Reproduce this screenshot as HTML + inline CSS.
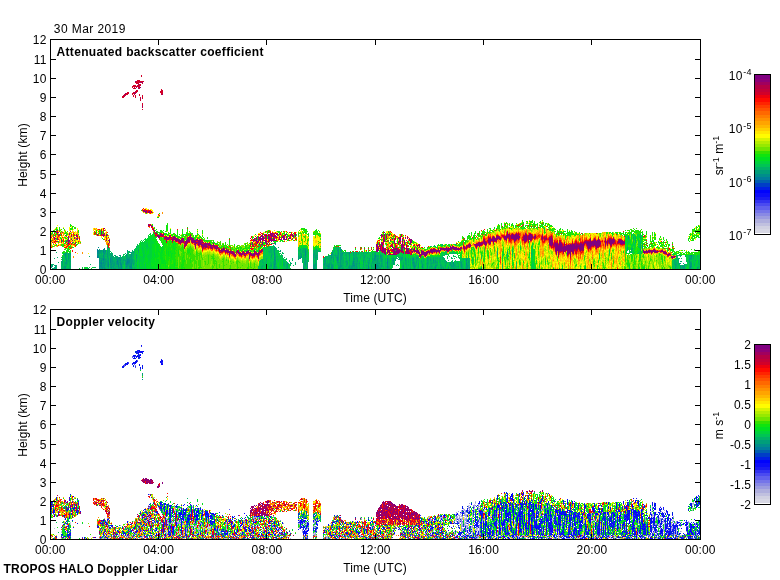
<!DOCTYPE html><html><head><meta charset="utf-8"><style>html,body{margin:0;padding:0;background:#fff;width:780px;height:580px;overflow:hidden}svg{position:absolute;left:0;top:0;display:block}#t{will-change:transform}text{font-family:"Liberation Sans",sans-serif;font-size:12px;fill:#000;letter-spacing:0.15px}text.b{font-weight:bold;letter-spacing:0.33px}</style></head><body><svg width="780" height="580" viewBox="0 0 780 580" shape-rendering="crispEdges"><g fill="none" stroke-width="1"><path stroke="#007c9c" d="M97.5 249v3m0 4v2m4 5v1m2-13v1m0 7v1m14 1v1m10-1v2m260-1v1m110-10v1"/>
<path stroke="#008d8b" d="M55.5 265v4m10-15v2m1 4v1m31-9v2m0 1v1m1-9v1m0 2v4m0 1v3m1 2v4m0 1v4m1-7v2m0 1v2m1-7v3m0 1v4m1-1v2m1-20v2m0 1v1m0 2v2m0 1v1m0 1v1m0 1v2m1-15v1m0 3v1m0 11v1m0 1v2m1-19v2m3 10v5m2-9v5m1 1v1m0 2v1m6-9v2m0 1v2m1-1v4m1-12v1m0 1v2m1 0v2m0 1v3m1-1v5m5-7v3m0 1v1m1-8v2m0 2v2m1-6v5m1-4v3m0 3v1m1-1v2m1-13v1m0 7v6m143-20v2m0 1v4m0 1v1m0 1v1m0 4v1m0 1v1m1-24v2m0 15v1m25-4v2m1-3v1m2 11v1m2-19v6m0 8v1m2 1v2m7 0v1m5-18v1m5 12v1m4 1v1m3-14v3m0 1v1m0 9v1m1-17v2m5 4v4m1-8v1m1 14v1m1-19v1m2 2v1m7-1v1m4 7v3m0 1v1m1-1v1m14 0v3m6-11v2m1-5v3m1 7v4m1-4v1m3-10v1m7 1v4m0 1v5m6-8v1m20-3v2m0 2v1m1 3v2m8-2v2m11-8v1m2 6v2m15-7v1m3-1v3m13-6v2m0 2v2m15 3v1m26-17v1m121-17v2m12 11v1m2-4v1m0 1v1m38 17v1m10-1v2m1-13v2"/>
<path stroke="#009e7a" d="M51.5 266v2m1-4v3m0 1v1m10-11v7m2 1v3m1-16v1m0 2v2m0 4v2m0 2v3m1-17v2m0 4v2m0 1v3m2-11v7m2-7v2m0 6v1m0 4v1m27-13v1m1-1v1m1-6v5m0 3v3m0 4v1m1-15v3m0 5v1m0 1v2m0 2v1m0 2v2m1-19v2m0 1v1m0 4v2m0 8v1m1-11v3m0 1v5m1-14v2m0 2v1m0 3v1m0 2v4m1-20v1m0 1v3m0 1v1m0 2v8m0 1v1m1-15v1m0 6v6m0 3v1m1-8v1m1-15v1m0 2v8m0 2v7m1-9v4m0 5v2m2-16v1m0 3v1m0 5v5m1-14v10m0 1v2m0 1v1m1-14v1m0 1v7m0 2v1m1-6v1m0 1v6m1-14v1m0 1v1m0 4v4m0 2v1m1-1v1m1-13v4m0 1v4m0 1v1m1-9v1m0 5v1m1-8v6m0 4v2m1-10v2m0 1v1m0 4v2m1-14v1m0 2v1m0 2v1m0 3v4m1-12v2m0 4v1m1-2v1m1-4v2m2-1v2m0 1v2m0 3v1m1-15v8m0 3v1m0 1v1m1-18v4m0 1v1m0 1v2m0 6v2m0 1v1m1-11v1m0 5v2m1-15v1m0 5v3m0 3v3m0 1v2m1-17v1m0 3v2m0 1v7m0 2v1m1-17v3m0 1v7m1-4v4m1-11v1m0 10v2m3-10v1m0 1v1m2-8v1m133 4v2m0 8v1m2 2v1m1-26v1m0 2v3m0 2v1m0 4v1m0 1v1m0 1v4m0 1v1m0 1v2m1-22v1m0 8v4m0 1v4m5-15v2m3 12v1m4-3v4m0 1v1m4-5v1m7-8v4m2-11v1m0 3v1m0 2v1m1-3v2m0 1v1m1 3v1m1 4v2m1-6v3m1-16v1m0 6v2m0 1v5m0 1v1m2-16v1m0 12v3m0 2v1m6-15v6m0 5v4m1-17v3m0 9v4m1-13v7m0 1v3m1-16v1m0 4v1m0 1v1m1-3v1m0 1v1m7-1v1m0 1v3m0 1v1m0 1v1m0 1v2m1-12v7m1 1v1m1-1v2m0 1v1m1-14v1m0 8v2m0 1v2m1-6v5m2-12v1m0 1v1m0 5v3m0 1v1m1-16v2m0 10v4m1-12v3m0 1v1m2-7v1m1 1v1m1-8v1m0 4v2m0 4v2m1-14v4m0 1v7m0 1v1m0 2v1m0 1v2m1-3v2m1-21v3m0 1v1m0 1v15m1-19v3m0 1v7m0 5v2m1-15v1m0 1v2m0 12v1m4-8v1m0 2v1m1-3v2m1 3v1m1-16v1m0 1v7m0 4v4m1-1v1m1-3v3m1-6v6m1-17v4m0 1v4m0 3v1m0 1v1m1-9v2m0 1v1m0 1v2m0 1v3m2-17v3m0 2v1m0 5v6m1-11v4m1-10v2m1 9v1m4-11v1m0 6v3m0 1v1m1-8v1m4 4v4m1-8v1m0 1v1m2 4v4m1-15v1m0 3v2m0 1v2m1-3v1m1-7v4m0 2v1m1-9v3m0 3v3m0 6v1m1-12v1m0 6v2m1-10v1m0 2v7m0 1v3m1-13v1m0 6v1m0 1v3m1-5v1m0 3v1m1-14v2m0 1v2m0 9v1m1-14v7m0 1v1m0 1v2m1-8v1m5 8v1m1-3v2m4-8v1m1-3v2m0 1v4m2-5v1m3-4v1m1 1v1m2-3v3m1-3v2m1 6v4m2-11v3m5 7v1m2-11v3m0 1v2m1-4v2m0 1v4m1-5v4m0 2v1m1-4v2m1-10v2m0 2v2m1-6v2m1 4v5m3-7v1m1 2v2m5-9v4m0 1v2m0 1v3m3-9v2m1 2v1m0 2v1m2-9v2m0 1v2m1 4v1m1-8v3m0 2v2m1-2v1m1-4v1m3 2v1m1 1v2m1-12v1m1 10v1m2-4v1m1-5v2m2 4v2m2-6v2m1 0v2m1-1v1m1-2v2m1-2v1m0 2v1m4-3v1m2-5v1m1-1v6m5-7v2m0 2v4m1-11v1m0 6v4m1-8v2m0 2v1m1 1v2m28-18v1m0 2v1m5 10v1m5-13v2m0 2v1m37-29v1m83 17v2m1-11v1m3 10v1m0 1v2m2-12v1m2-2v1m5-4v1m0 9v1m2-3v1m0 1v1m33 16v2m0 1v2m1-13v1m2 1v2m1 3v1m1-1v1m0 1v1m0 1v2m2-4v3m1-2v3m1-5v5m1-13v1m4 1v5m0 4v1m1-13v1m0 2v1m0 3v4m0 2v1m1-12v2m0 4v4m6 0v2"/>
<path stroke="#00b167" d="M51.5 264v2m2 2v1m1-11v1m0 6v1m0 1v2m2-17v1m0 12v4m1-12v1m1 4v1m3-2v2m0 2v2m0 1v1m1-13v2m0 7v4m1-3v3m1-16v3m0 5v5m1-8v2m0 4v2m1-12v4m0 6v3m0 1v1m1-9v5m0 3v1m1-9v2m0 6v1m1-16v6m0 1v9m1-14v2m0 1v3m0 1v4m0 1v2m19-13v1m1 7v1m4 2v1m5-14v3m1-4v1m0 1v3m0 1v1m1-8v1m0 1v4m1-8v3m0 2v3m0 3v1m1 6v1m1-14v2m1-4v4m0 1v1m0 6v3m1-15v2m0 1v1m0 1v3m0 1v7m1-21v2m0 8v2m0 7v2m1-21v1m0 1v8m1-10v1m0 1v6m0 8v1m1-14v1m0 2v3m0 11v1m1-16v1m1-1v2m0 1v1m0 7v2m0 1v2m1-13v5m0 1v1m1-5v4m0 4v2m1-13v13m1-8v1m0 4v1m0 1v2m1-13v2m0 7v4m2-8v1m0 1v4m1-11v2m1 1v4m1-6v1m0 1v3m0 1v2m0 1v3m1-12v2m0 2v4m1-7v3m1-8v1m0 1v2m0 2v1m0 2v1m0 2v3m1 0v1m1-15v1m0 1v1m0 10v1m1-12v2m0 8v3m1-17v1m0 1v3m1-3v2m0 2v1m2-9v9m0 4v1m0 3v2m1-18v1m0 1v5m0 1v4m0 2v1m1-16v3m0 7v4m0 3v2m2-23v2m0 6v1m0 1v1m0 1v4m0 3v1m2-17v1m0 1v2m122 8v1m1-17v1m0 20v3m1-10v4m0 2v4m1-14v1m0 3v1m0 2v2m0 1v1m3-8v8m0 1v2m2-18v1m1-5v1m0 3v2m0 13v3m1-23v7m0 4v1m0 1v1m0 2v1m0 1v3m0 1v1m1-21v7m0 2v2m0 4v2m0 1v2m1-14v1m1-7v5m0 8v7m2-20v2m0 3v3m0 9v4m1-3v3m1-19v1m0 5v1m0 2v1m1-13v1m3 8v1m1-5v1m0 2v1m1-3v1m0 4v1m0 1v4m0 1v1m1-4v5m2-5v1m0 1v5m1-3v1m0 1v1m1-6v1m2-2v2m0 1v1m2-8v3m3 1v3m3-15v1m0 2v3m1-7v3m0 3v4m1-9v3m0 1v2m1-3v1m1-4v3m0 7v1m0 1v1m1-15v5m0 1v6m0 5v1m1-18v5m0 1v2m0 1v5m0 3v4m1-21v1m0 9v1m0 7v3m1-21v2m0 1v4m0 1v1m0 3v4m1-13v1m0 6v1m0 1v3m6-13v2m0 1v1m0 6v5m1-15v2m0 3v3m1-9v6m0 7v1m0 3v3m1-21v2m0 1v4m0 1v1m0 1v2m0 2v6m1-18v5m0 1v1m0 1v2m1-10v2m5 12v1m1-7v1m0 3v1m0 3v1m1-3v5m1-13v3m0 4v2m0 1v1m1-11v1m0 1v7m0 2v1m1-12v4m0 3v1m1-8v7m0 5v1m1-14v1m0 1v8m0 3v1m1-10v2m0 1v2m1-9v3m0 6v1m1-16v2m0 3v3m0 3v1m0 3v5m1-22v5m0 3v1m1-3v2m0 1v2m0 7v1m0 2v1m1-21v1m0 6v2m0 1v3m1-14v3m0 1v4m0 8v2m1-18v2m0 12v1m0 1v2m0 1v1m1-5v4m1-14v1m0 15v1m1-17v1m0 7v5m0 2v2m1-13v12m1-16v2m0 3v7m0 1v1m0 1v2m1-17v1m1-1v4m0 2v1m0 2v2m0 3v1m1-15v9m0 1v2m0 1v2m0 1v1m1-17v2m0 6v2m0 2v2m0 2v1m1-17v3m0 11v1m0 1v1m1-8v4m1 0v3m1-16v2m0 11v1m1-5v2m1-7v1m0 10v2m1-17v1m0 1v4m0 2v1m0 1v1m1-11v17m1-14v2m0 1v5m1-6v1m0 4v3m0 1v3m1-15v1m0 8v1m0 1v1m1-5v2m0 1v5m1-13v3m0 9v1m1-17v3m1 0v1m0 12v1m1-17v1m0 1v6m0 3v1m0 1v3m1-16v1m0 2v2m0 1v3m0 6v1m1-16v2m0 1v2m0 3v3m0 2v1m1-14v2m0 10v5m1-17v2m0 3v2m0 1v3m0 2v1m0 2v1m1-17v1m0 7v2m1-3v1m0 1v3m0 3v2m1-14v2m1 6v2m1-13v2m0 1v3m0 2v1m0 2v1m0 2v2m1-10v2m0 1v5m0 1v2m1-17v2m0 7v8m1-8v6m0 1v1m1-14v1m0 1v6m1-7v2m1-3v1m0 1v6m0 1v1m0 3v1m1-11v1m0 2v2m0 1v3m0 1v1m1-10v3m0 2v4m1-6v1m0 1v1m0 2v1m1-13v4m0 1v7m1-1v3m2-11v11m1-7v2m0 2v2m1-13v3m1 0v8m0 2v1m1-10v10m2-11v1m0 4v1m1-6v2m0 1v3m1-7v1m1 0v2m0 2v2m1-6v2m1-4v3m0 6v1m1-8v1m1 0v1m1-3v2m1-3v5m1-1v1m1-7v3m0 2v1m0 5v4m1-7v3m2-8v1m0 3v4m1-6v10m1-1v1m1-11v5m0 1v2m1 2v1m1-11v10m2-11v1m0 3v1m0 2v2m1-9v1m0 9v2m1-10v1m0 1v1m1 1v2m0 2v2m1-10v2m0 2v3m1-10v1m0 2v2m0 6v2m1-12v6m0 5v1m3-10v2m0 1v2m0 2v1m1-5v2m0 4v1m1-11v4m0 2v2m0 1v1m3-5v2m0 3v1m1-8v1m0 2v1m0 3v1m1-12v8m1 1v3m1-12v2m0 2v8m1-10v4m0 1v2m0 1v2m1-7v2m0 1v4m1-12v1m0 5v2m0 3v1m1-9v4m0 2v1m0 1v1m1-12v3m0 3v2m1-7v1m0 2v4m0 1v2m1-11v5m0 1v3m1 1v2m1-11v5m1-6v8m0 1v3m1-5v3m1-23v2m0 9v1m0 2v2m0 1v1m0 4v2m1-11v3m0 7v1m1-10v5m1-11v1m0 1v1m0 5v5m0 1v3m1-16v2m0 8v1m1 4v1m1-3v1m1-5v4m1-13v1m0 11v1m0 1v1m1-11v1m0 5v2m0 2v2m1-16v1m0 4v1m0 1v6m0 1v2m1-17v2m0 13v2m1-5v1m0 1v2m1-15v1m0 2v1m0 5v6m1-2v3m1-8v3m0 2v1m1-4v3m0 1v2m2-9v2m0 1v4m1-6v1m0 6v1m1-8v1m0 2v5m1-10v1m0 8v1m2-2v2m1-11v1m1 0v2m0 1v3m1-7v3m0 2v2m0 1v2m1-10v1m0 1v7m12-10v1m16-6v1m0 2v1m10-5v1m0 4v1m5-7v2m0 1v1m4 9v1m4-17v1m11 5v2m78-3v1m16-18v2m2 12v1m2 0v2m2-18v2m0 12v1m0 1v1m1-3v2m1-13v3m2-4v4m0 1v2m3 10v1m1-7v1m1-14v2m0 2v1m0 3v1m0 1v3m0 1v1m0 1v2m1-16v1m0 16v1m1-10v1m30 21v1m2-8v6m1-5v4m0 2v1m1-12v1m0 1v3m0 2v5m1 1v1m1-14v1m0 4v5m1-10v1m0 2v1m1-4v2m0 4v1m1-1v1m0 5v2m1-1v1m1-6v1m0 1v1m2-11v1m1 9v1m3-11v3m0 5v4m0 1v1m1-13v2m0 1v1m0 1v1m1-3v1m0 1v2m0 4v2m1-14v1m1-1v4m1 5v2m1-6v1m2-6v2m1 3v4m0 2v3m1-5v1"/>
<path stroke="#00c454" d="M53.5 264v1m8-2v2m0 2v1m2-15v3m0 3v1m0 1v5m1-10v5m1-1v2m1 5v1m1-15v3m0 1v3m0 5v3m1-6v6m1-9v1m1-3v1m18 10v1m7-2v1m5-14v1m2-2v2m3 2v1m1-7v2m0 2v1m0 1v1m2-9v1m1-1v1m0 6v8m0 1v4m2-17v1m11 3v1m0 1v1m0 6v1m1-12v3m0 8v2m0 1v1m1-15v1m0 1v2m0 3v3m0 2v1m0 1v1m1-12v2m3-8v1m0 1v3m4 8v3m1-9v1m0 7v3m1-20v1m0 3v3m0 2v2m0 4v3m1-18v1m0 4v1m0 7v1m0 1v1m0 1v3m1-21v3m0 1v2m0 8v3m0 1v3m1-25v2m0 1v1m0 7v4m1-14v4m0 4v3m1 0v7m0 1v5m2-25v1m1 2v4m1 1v1m0 1v4m2-20v1m0 3v1m0 21v5m1-24v2m0 1v1m1-6v5m3-1v1m108 0v1m0 1v1m0 15v3m1-22v1m0 17v4m1-9v1m0 1v7m1-10v7m1-3v2m1-18v2m0 1v3m0 1v1m0 1v3m0 1v2m0 2v1m0 1v2m1-21v5m0 1v1m0 1v2m0 1v1m0 2v8m1-21v1m0 6v2m0 2v8m1-18v9m0 8v1m1-18v1m0 6v3m0 1v1m1-14v4m0 1v5m0 1v1m0 2v1m0 1v6m1-23v1m0 1v1m0 1v1m0 2v3m0 7v1m0 1v1m1-13v4m0 1v1m0 1v2m0 1v1m0 3v1m1-25v1m0 2v2m0 11v4m0 5v1m1-26v1m0 2v2m0 2v4m0 1v5m0 1v3m1-19v3m0 5v2m0 3v3m2-11v3m1-5v11m0 3v4m1-15v5m0 1v2m0 1v2m0 5v2m1-19v1m0 6v5m1-6v1m0 1v2m0 3v6m1-16v1m0 1v10m1-11v2m0 5v5m1-13v1m0 2v4m1-1v1m0 6v3m1-12v1m0 1v3m0 5v2m1-10v10m1-11v2m0 3v1m2 2v3m1-8v1m0 4v3m1-5v1m3 0v1m5-15v2m1-1v3m1-7v1m1-1v5m1-6v3m0 3v2m0 2v3m1-7v1m0 6v2m0 1v2m1-12v1m0 2v1m2-7v1m0 4v1m0 1v3m0 4v3m1-15v6m0 1v1m1 0v2m5-10v1m1 5v1m0 2v3m2-4v2m0 6v1m1-20v1m3 1v1m3 7v5m0 1v4m3-10v4m0 4v2m1-12v1m1 2v3m1-8v1m1 0v1m0 8v3m1-7v1m1-4v6m1-13v3m0 8v2m1-12v3m0 1v1m0 2v2m0 1v2m1-16v1m0 1v3m0 5v2m0 4v1m0 1v2m1-21v1m0 1v2m0 1v3m0 6v4m1 0v1m0 1v2m2-21v2m0 1v11m4-8v3m0 7v1m0 1v1m1-14v5m0 2v9m1-13v2m0 1v2m0 2v3m0 1v2m1-2v1m1-14v6m0 6v2m1-13v7m0 1v3m2-13v12m1-11v11m1-13v4m0 2v3m2-8v1m3-2v2m0 1v2m0 8v1m1-11v4m0 1v3m0 1v1m0 1v3m1-17v3m0 1v5m1-9v4m0 3v1m0 4v1m0 2v1m1-13v3m0 2v2m0 2v2m0 1v1m1-16v3m0 1v5m0 4v3m1 0v1m1-16v2m0 6v4m0 1v1m0 1v1m1-15v1m0 2v3m0 3v2m0 1v2m1-14v6m0 2v2m1-10v3m0 2v1m0 3v2m0 1v2m1-15v1m0 1v5m1-7v5m0 6v3m1-15v3m0 2v10m1-10v1m0 4v1m1 1v2m0 2v1m1-17v2m0 1v3m0 8v1m3-15v3m1-3v1m0 1v1m1-3v3m1 0v2m0 2v2m1-8v1m0 8v2m1-12v3m0 13v1m1-16v2m0 12v1m1-15v2m0 2v9m1-8v1m0 1v7m0 1v1m2-10v1m0 1v1m0 2v2m0 2v1m2-14v3m1 0v1m1 4v1m1-9v3m0 1v4m0 1v5m1-5v2m0 1v1m1-12v1m1-2v1m0 4v2m0 2v1m2-10v1m1-2v3m0 7v1m1-9v1m0 8v1m1-12v1m0 13v1m1-8v2m1-8v2m0 4v4m0 3v1m1-16v1m0 6v5m1-8v5m1-4v7m0 1v3m1-15v3m0 8v4m1-12v2m1-1v10m1-14v4m0 5v1m0 2v3m1-10v9m1-13v1m1-1v6m0 5v1m0 1v1m1-3v3m2-12v2m0 1v1m1-4v6m1-8v2m0 9v1m1-12v1m0 5v6m2-7v1m1-1v4m1 0v2m0 1v2m1-12v1m0 1v3m1-5v1m0 4v2m0 2v1m0 1v1m1-9v9m2-11v5m0 2v3m2-3v4m1-12v9m2-20v1m0 11v1m1-2v5m0 2v1m1 0v3m1-23v2m0 10v3m0 4v2m1-19v1m1 9v1m0 1v2m0 7v1m1-3v2m1-11v2m0 1v1m0 3v3m1-10v1m0 5v6m1-13v1m1-13v2m0 11v7m1-12v3m0 1v1m0 3v1m0 1v4m0 2v1m1-9v7m1-13v2m0 7v6m1-24v1m0 5v1m0 1v1m1-2v1m0 11v3m1-10v2m0 3v1m0 4v1m1-8v1m0 2v3m2-14v1m0 13v1m0 1v1m1-16v1m0 4v1m0 3v1m1-13v3m1 2v2m1-4v1m0 4v1m0 3v2m1-20v1m0 15v2m0 6v1m1-25v1m0 12v1m0 3v5m1-2v2m0 1v2m1-12v1m0 3v2m1 2v1m0 2v1m1-12v3m0 7v2m1-10v2m1-19v1m0 16v2m0 1v2m1-6v1m0 1v8m1-10v2m0 6v1m1-9v5m0 1v3m2-6v1m1-6v1m0 11v1m1-10v1m3-1v2m0 1v1m3-8v2m0 2v1m6-5v1m0 2v1m0 8v1m21-13v2m0 9v2m5-10v1m5-10v1m0 2v1m0 1v1m4 10v1m15-14v1m0 2v3m1-11v2m0 1v2m0 1v3m0 1v1m0 6v5m1-6v1m0 1v1m11-38v1m1 32v1m17 6v1m47-18v1m16-15v1m1 11v1m0 1v2m1-11v3m0 1v1m0 3v1m1-16v1m0 3v2m0 1v1m1-5v1m0 13v1m0 13v2m3-23v1m0 1v1m0 2v1m1-17v1m0 1v1m0 3v1m0 2v2m0 7v2m1-10v1m0 2v1m1-5v1m2-10v1m1 5v3m0 1v3m1-5v1m0 1v1m0 1v1m0 4v1m1-16v1m0 2v3m0 1v1m0 8v1m2-4v1m30 10v6m0 1v2m1-15v1m0 4v10m1-4v3m1-9v1m1 0v2m0 5v2m1-13v1m0 1v10m1-3v4m1-5v2m2-11v1m0 2v1m0 6v2m4-3v5m1-8v1m0 2v1m0 1v1m1-7v5m1-10v8m2-3v1m1-1v1m1-5v4m0 6v3m1-10v6m0 2v2m1-14v1m0 4v1m0 1v2m1-9v2m0 1v2m0 1v3m1-4v1m0 6v2m1-12v2m0 5v3m1-12v5m0 4v2m1-7v5m0 1v3"/>
<path stroke="#00d23c" d="M63.5 256v3m0 1v1m4-5v1m12 11v1m3-2v2m2-2v2m2-2v2m1-2v2m2-2v1m3-1v1m1-1v1m13-18v1m17 16v1m1-4v2m0 1v1m4-16v1m6 3v2m1-10v1m0 1v4m0 1v1m0 1v1m0 1v3m0 1v1m0 1v1m1-15v1m1-6v1m0 1v3m0 1v1m0 1v1m0 4v3m0 2v1m0 2v2m1-13v13m1-26v2m0 1v3m0 2v2m0 2v1m0 7v1m1-16v1m0 4v1m0 2v2m0 1v3m0 2v1m0 1v3m1-29v1m0 1v2m0 1v4m0 7v9m0 1v3m1-28v6m0 4v3m0 3v12m1-29v1m0 1v10m0 1v1m0 4v11m1-30v1m0 2v5m0 1v13m0 7v1m1-30v3m0 1v5m0 6v3m0 5v2m1-22v3m0 2v1m0 1v5m0 14v1m1-29v3m0 5v3m0 4v3m0 4v1m1-28v5m0 6v3m0 5v10m0 1v1m1-22v1m0 2v15m1-23v8m0 1v21m1-32v21m0 9v2m1-32v2m0 2v3m0 14v1m1-26v1m0 8v2m1 9v4m7-10v2m0 2v1m97-7v1m0 1v1m1-2v1m0 14v4m4-16v1m0 3v1m0 14v1m1-17v1m0 1v1m0 2v1m0 1v2m1-12v6m0 2v2m0 8v2m1-24v1m0 1v2m1-2v2m0 1v4m0 1v1m0 3v1m0 1v2m0 1v1m1-21v1m0 1v1m0 10v1m0 1v2m0 1v1m1-14v1m0 6v7m0 1v1m3-17v2m0 10v1m0 3v5m1-14v3m3 1v3m1 0v5m1-16v6m0 5v1m0 4v2m1-18v1m0 1v3m0 1v1m0 2v3m1 2v2m1-10v4m0 5v3m1-9v1m0 5v3m4-8v1m2 2v2m1-6v1m0 3v2m1 2v1m8-22v2m3-4v2m1 8v2m1 5v1m1-17v2m2 19v1m2-16v2m0 1v1m0 1v3m6-1v2m5-12v2m4 7v1m11-2v2m0 2v1m0 2v3m0 1v1m1-22v1m0 1v1m0 10v4m1-13v1m0 13v3m1-2v1m2-20v1m0 2v1m5 7v2m4 2v1m4-7v2m5-4v1m1 4v1m1-5v1m1 4v4m0 1v2m1-9v2m0 2v2m0 2v1m0 1v1m1-8v4m2 0v1m1 2v1m1-9v2m2-8v1m1-3v1m1 14v1m1-16v5m0 1v2m0 1v1m2-8v1m4-2v1m2 3v1m1-7v2m2 15v1m1-14v2m1-3v3m0 2v1m0 7v1m1-13v3m1-3v1m0 2v1m0 1v1m3-6v3m1 0v1m0 2v2m0 1v5m2-14v3m0 8v1m1-12v1m1 0v1m1-2v3m3-4v2m1-3v1m0 1v2m1-4v3m0 7v1m1-11v2m0 10v3m2-14v3m1-3v4m0 7v1m5-8v1m1-3v2m1 3v5m0 1v1m2-14v3m2-4v2m0 1v1m1-10v2m0 18v2m2-13v1m1 1v2m0 1v2m0 4v2m1-5v5m2-13v1m0 1v1m2 0v1m1 0v9m1-12v1m1-2v1m3-11v1m1 10v1m1-3v2m1-1v1m2-11v1m0 9v1m2-10v1m0 8v1m0 11v1m1-14v1m0 3v1m0 1v3m2-9v1m1-4v5m2-4v3m1-11v1m0 6v2m2-3v1m0 15v2m1-15v1m0 1v1m0 6v4m1-12v1m0 6v1m1-18v2m0 5v1m0 3v1m0 9v3m2-17v1m0 8v1m3-18v1m0 6v2m0 3v1m0 4v1m1-17v1m3 9v1m1 1v2m0 2v1m0 1v2m0 1v2m1-14v1m1 2v2m1-1v1m2 1v1m0 1v4m0 1v2m1-6v1m3-7v1m3-10v3m0 1v1m1 8v1m0 1v1m2-15v1m0 1v1m7 2v1m0 1v1m2 2v1m1-11v4m13-3v1m0 7v1m1 5v1m4-11v1m0 3v1m0 5v1m0 3v1m1-18v1m0 2v1m2 7v1m2-8v1m5 4v1m0 3v1m2-9v1m2 5v1m0 1v1m0 1v3m4-21v1m9 4v1m2-4v2m0 6v3m0 3v1m0 1v2m1-24v3m0 2v1m0 2v1m0 3v1m0 1v6m1-3v2m0 1v1m0 1v2m1-19v4m0 2v1m0 10v3m1-1v1m1-7v1m3 2v1m5-36v1m18 36v1m23-1v1m14-14v4m10-5v1m16-8v1m1-11v1m0 1v2m0 2v1m0 5v1m0 1v1m0 2v1m1-17v2m0 6v1m0 7v1m1-13v1m1-2v2m1 1v1m0 8v1m1-17v2m0 1v1m0 6v2m1-2v1m0 4v2m1-18v1m0 6v1m0 2v1m0 4v1m0 17v1m1-35v5m0 6v2m0 1v1m0 9v1m1-15v1m2-10v3m1-2v1m0 6v1m0 8v1m1-18v3m0 5v1m0 9v1m0 14v1m1-13v1m1-22v1m0 5v2m0 9v1m1-16v1m0 1v1m0 3v1m20 16v1m10-7v1m1 0v1m2-2v1m0 3v1m2-4v1m0 1v1m2 8v3m7-14v6m0 6v2m1-14v3m0 1v1m0 5v2m1-4v6m4-9v6m1-1v2m1-11v4m0 1v1m0 4v3m1-12v1m0 6v4m1-11v3m0 1v1m0 1v4m1-8v1m0 2v2m2-10v5m0 9v1"/>
<path stroke="#00df22" d="M85.5 267v2m6-1v1m44-13v1m0 1v1m2-8v1m0 1v1m0 8v2m0 1v2m2-22v1m0 3v2m0 2v2m1-14v7m0 1v4m0 1v2m0 2v1m0 3v2m0 1v1m1-17v7m0 9v1m1-12v3m2-16v1m0 5v1m0 13v2m0 1v4m1-20v6m0 3v5m1-23v3m0 12v14m1-30v2m0 11v4m0 3v4m0 1v6m1-29v6m0 3v5m0 10v1m0 1v3m1-35v1m0 1v8m0 1v2m0 15v7m1-36v6m1-4v2m0 21v5m0 1v3m1-33v3m0 2v2m0 3v14m0 1v6m0 1v3m1-37v1m0 1v8m0 2v20m0 1v4m1-35v10m0 1v8m0 4v12m1-32v2m0 1v5m0 7v1m0 1v4m0 3v1m0 1v6m1-26v26m1-25v14m0 1v4m0 1v5m1-24v7m0 3v2m0 2v6m1-16v1m0 1v2m1-7v1m0 1v1m0 3v7m0 5v5m1-20v2m0 1v12m0 4v1m1-23v8m0 1v1m0 1v7m1-27v1m0 2v1m0 2v8m0 3v1m0 5v4m0 1v1m1-7v3m0 1v1m1-2v6m1-19v5m1 12v1m1-19v2m0 1v5m1-9v1m1 3v2m0 7v1m0 6v2m1-16v5m1-5v1m1-11v6m1-8v1m0 6v2m0 1v1m0 1v1m0 9v6m1-25v1m3 7v2m5-20v1m84 19v1m0 8v1m0 1v2m0 1v1m11-6v4m2 0v2m2-8v5m16-17v1m1-4v3m2-2v1m2-3v3m1-3v1m1-1v3m1-1v1m0 20v1m1-22v3m1 4v1m0 1v1m6-8v1m1-4v3m3-2v3m1-2v1m15 18v1m2 0v1m34-1v1m1-9v1m8-10v4m5 2v1m2-2v2m4-3v1m0 3v2m4-4v1m6 6v5m6-14v2m1-3v4m2-3v3m3-11v2m0 7v1m2-1v1m1-2v1m1-7v1m2-3v1m1 15v4m2-10v2m1-11v1m2 9v1m1 0v1m2-12v1m1 7v1m2-2v2m1-2v2m2-11v1m1 9v1m2-1v1m1-11v1m0 1v1m0 6v1m1 0v1m1-1v1m1-12v1m0 8v1m1-9v1m2 5v1m1-7v1m4-2v1m0 8v1m1-2v1m2-10v2m2 5v1m2 0v1m1-1v2m1-9v1m0 6v3m1 1v1m1-12v1m0 5v3m0 8v1m1-8v2m1-13v1m0 6v4m1-14v1m0 1v2m2 16v1m4-7v1m3-5v1m1 6v1m0 5v1m1-27v2m0 7v1m0 12v1m1-11v1m0 1v1m1 7v2m2-3v1m1-11v2m3 2v1m3-1v2m0 1v1m4-2v2m4 7v1m5-17v2m0 6v2m1 5v1m0 1v1m0 1v1m4-11v1m0 2v1m1-9v2m2 10v1m1-10v1m1 3v1m2-10v1m3 4v1m0 6v1m1 1v1m0 1v1m1-10v1m5 4v2m1-15v1m3 11v1m6-19v1m0 10v2m0 1v1m2-12v2m0 1v1m0 11v3m0 1v1m0 2v1m2-17v3m0 1v1m0 2v1m0 8v1m1-16v2m0 1v5m0 2v3m1 1v1m4-26v1m0 23v1m5-36v1m1 31v1m2-3v1m6 6v1m12-33v2m19 30v1m1-3v1m0 1v1m13-8v1m1-4v1m5 9v1m5-19v1m0 3v1m2 2v1m1-25v2m11 16v1m2-13v5m0 1v1m0 1v1m1-11v1m0 2v2m1-7v2m0 2v3m1 1v1m0 3v3m0 3v1m1-17v1m0 1v1m0 2v1m0 4v3m0 14v2m0 2v1m1-28v2m0 1v1m0 3v1m0 2v1m1-14v1m0 5v2m1-2v1m0 12v1m1-10v1m0 2v1m1-13v1m0 3v1m0 5v1m0 2v2m0 3v1m1-13v2m2-9v2m0 10v1m0 2v1m1-20v2m0 2v2m0 7v1m0 3v1m1-18v1m0 5v2m0 3v1m0 2v3m0 1v1m0 2v1m0 3v2m1-8v3m0 1v1m1-21v4m1-6v2m0 1v1m0 11v1m1 16v2m1-3v3m18-10v1m0 1v1m12 6v1m13-11v1m0 8v2m8-1v1m1-13v1m0 5v1m1-3v2"/>
<path stroke="#10e40e" d="M51.5 234v1m0 5v1m1-9v2m0 12v1m1-16v1m0 2v3m0 7v1m0 1v1m2-15v1m0 1v2m0 9v1m1-19v4m0 2v2m0 3v2m0 4v2m1-17v1m1 4v1m0 6v2m1-16v4m1 1v1m0 1v2m0 1v2m1-10v1m0 1v1m0 6v1m0 5v2m0 11v1m0 1v1m1-20v2m0 2v3m0 5v2m1-26v1m0 15v3m0 5v1m1-20v1m0 3v1m0 3v1m0 1v1m0 5v1m0 1v1m1-20v2m0 3v2m0 1v4m0 8v1m1-19v2m0 2v1m0 1v1m0 10v1m1-15v1m0 1v1m0 1v1m0 2v1m0 5v2m1-6v6m1-10v1m0 3v1m0 2v1m0 1v2m1-29v3m0 1v2m0 3v1m0 11v3m0 2v1m0 1v1m1-25v1m0 9v1m1-13v3m0 14v1m0 3v1m1-12v1m0 5v1m0 4v1m1-14v1m0 5v1m0 2v1m1-16v1m1 10v1m0 2v1m0 1v2m1-2v1m1-15v3m0 1v1m0 7v2m1-8v1m1 5v1m14-11v1m1 1v1m1-5v4m2 0v1m1-5v4m1-4v5m2-4v3m0 4v1m1-8v1m0 1v1m0 5v1m3-4v1m1-3v1m0 10v2m34-37v1m3 52v1m2-51v1m5 49v1m1-40v2m0 39v1m1-2v1m1-37v1m0 15v1m1-15v1m0 1v1m0 6v1m0 5v7m0 1v1m0 4v3m0 1v1m1-34v1m0 1v1m0 4v2m0 1v4m1-26v1m0 13v3m0 7v3m0 14v1m0 4v1m1-47v1m0 14v1m0 1v1m0 8v2m0 7v3m0 2v2m0 6v4m1-56v1m0 18v1m0 1v1m0 4v1m0 4v5m0 1v1m0 2v14m0 1v1m1-39v3m0 7v1m0 6v1m0 1v3m0 7v5m1-34v3m0 4v6m0 21v4m1-26v3m0 9v1m0 1v1m0 7v5m1-39v1m0 1v1m0 5v2m0 1v2m0 8v3m0 1v5m0 4v1m0 1v3m1-35v1m0 5v10m0 1v8m0 3v1m0 1v5m1-38v1m0 1v3m0 4v8m0 7v1m0 4v2m0 6v1m1-44v5m0 3v2m0 8v6m0 5v10m0 1v4m1-45v7m0 3v2m0 5v3m0 2v20m0 1v2m1-37v1m0 1v1m0 8v5m0 2v1m0 5v5m1-28v1m0 6v7m0 1v9m0 1v1m0 7v3m1-40v5m0 6v5m0 2v4m0 2v7m0 1v6m1-32v1m0 5v2m0 2v3m0 2v3m0 5v5m0 1v5m1-35v3m0 6v10m0 1v6m0 4v5m1-36v1m0 7v2m0 6v20m1-34v1m0 6v6m0 2v1m0 1v1m0 1v9m1-29v3m0 5v2m0 1v5m0 2v2m0 2v1m0 2v7m0 1v2m1-34v2m0 6v2m0 2v1m0 2v1m0 14v1m0 1v2m1-39v4m0 1v3m0 22v1m0 1v4m0 1v2m1-33v3m0 10v3m0 2v2m1-19v1m0 28v2m1-31v2m1-2v1m0 26v5m1-40v2m0 1v6m0 8v4m0 7v12m1-34v2m0 12v5m0 1v3m0 2v6m0 1v1m1-30v1m0 1v1m0 18v3m0 5v2m1-33v1m0 2v1m1-7v2m0 4v1m1-13v1m0 1v2m0 2v2m0 1v1m0 13v3m1-20v3m0 13v5m1-20v2m0 13v4m1-20v1m0 19v2m0 3v5m1-29v2m1-3v1m0 3v1m1-1v1m1 0v2m1-5v5m1-4v1m0 14v4m1-24v1m0 1v2m1 2v2m1-4v2m0 1v1m0 28v1m1-32v2m1 0v1m1-8v1m0 1v1m0 4v1m1-2v1m0 1v2m1-1v2m1-2v1m1-1v2m1-4v1m0 1v3m1-3v1m2-1v4m1-4v1m0 1v1m0 1v1m1-2v1m1-4v3m0 15v2m1-18v1m1 0v1m1-1v2m1-2v1m1 1v1m1 0v1m1-3v1m0 2v1m1-2v2m1-4v1m0 1v1m0 1v1m1-5v3m1 0v1m1-6v2m0 1v1m0 1v2m2-3v2m0 1v1m1-3v1m1-10v1m0 1v3m0 1v1m1 3v1m1 1v1m1-4v1m2-4v1m0 2v1m0 3v1m1 0v1m1-5v3m1-3v1m1-1v2m1 0v2m1-5v4m1-4v2m0 1v2m1-3v2m1-3v2m1-2v1m0 1v2m1-9v6m0 1v1m1-3v1m0 1v1m1-2v2m1-4v2m1-6v1m0 1v4m0 1v1m1-1v2m1-10v3m0 1v2m0 3v1m1-16v3m0 14v1m1-17v1m0 6v1m0 5v2m1-5v3m1-16v1m0 4v1m0 3v1m0 2v1m0 2v1m1 0v2m1-16v4m0 10v2m1-8v1m0 4v1m0 1v1m1-7v1m0 2v1m1-5v1m0 2v2m1-7v1m0 3v2m1-3v2m0 1v1m1-16v2m0 7v3m1-8v1m0 4v3m1-14v2m0 10v1m0 3v1m1-2v1m1-16v3m0 2v3m0 28v1m1-38v2m1-2v1m0 1v1m3 5v1m1 2v1m1-1v2m1-2v2m1-4v1m0 1v1m1-11v1m0 9v1m1-11v2m0 1v2m1-5v3m1 3v1m0 2v2m1-11v1m0 4v1m0 3v1m1-8v3m0 4v2m1-9v1m0 7v1m1-11v4m2-2v1m1-2v1m0 1v4m0 2v1m1-6v1m0 3v2m1-6v2m1-5v1m2 6v1m1-7v1m0 6v1m1-6v3m2-4v2m0 2v1m0 1v1m2-7v1m2 11v2m1-20v2m1-2v1m0 15v3m1-18v1m0 3v1m1-6v4m1-3v5m1-5v1m0 3v1m0 11v2m1-16v1m0 2v1m1-2v3m5-3v2m0 12v3m1-19v1m0 2v1m0 12v2m1-19v1m0 1v1m0 1v1m1-5v2m0 14v2m1-17v4m0 11v3m1-19v1m0 2v3m1-3v2m1 0v2m0 11v1m5 7v1m3-3v1m3-3v1m1-3v1m1-4v2m1-4v2m1-1v1m1-2v1m1-1v2m1-2v1m1-1v1m1-1v1m2 4v2m1-1v1m1-2v1m1-1v2m5-1v1m2-1v1m3-4v2m0 1v1m4-1v1m1-4v1m1-2v1m0 3v1m3-5v1m0 1v3m2-1v1m2-5v1m0 1v3m3-4v1m0 2v1m1-2v2m1-5v1m0 1v1m0 1v1m1-1v1m1-1v1m3-14v1m0 3v3m1-8v2m0 11v1m1-16v1m0 8v1m1-6v2m1-9v1m0 1v1m0 4v1m1-9v1m0 1v2m0 1v1m0 8v2m2-14v9m0 1v1m1-1v3m0 6v3m1-22v2m0 3v1m0 1v1m0 6v2m1-18v1m0 3v1m0 5v1m1-10v2m0 4v1m0 3v2m0 2v1m1-14v2m0 6v1m0 1v1m0 3v1m0 4v1m0 3v2m1-21v2m0 2v1m0 6v1m0 3v1m1-12v2m0 9v1m1-17v3m0 2v3m1-9v2m0 7v4m1 2v1m2-13v6m0 3v1m1-1v1m1-5v2m0 2v1m1-14v2m0 9v1m0 1v3m0 2v1m2-17v1m1-2v1m0 3v2m0 7v3m1-1v4m1-12v3m1 9v1m1-14v1m1-1v3m0 1v1m1-2v1m0 3v2m0 4v1m1-9v1m1-3v1m1-5v3m0 6v1m0 5v1m1-15v3m0 2v1m1-5v1m0 11v1m1-13v1m0 3v1m1-4v1m4 4v1m0 9v2m1-4v1m2-9v1m1-2v1m0 1v1m1-1v2m2-4v1m0 1v1m1-3v1m1-1v2m1-2v1m5 7v1m1-9v1m2-4v2m1-1v1m0 9v1m1-12v1m0 8v1m5-10v1m1-1v1m1 0v1m1-2v1m1-1v1m7 6v1m1-1v1m1-11v1m0 3v1m0 7v1m1-10v1m0 1v1m0 8v1m1-11v1m1-4v1m0 12v2m1-19v1m0 1v1m1-4v2m0 2v1m1-3v1m0 2v1m1-3v3m1-3v1m1-5v4m0 1v1m1-7v2m0 1v1m0 14v2m1-22v1m0 1v3m0 1v1m1-4v4m1-8v2m0 13v1m0 7v3m1-20v1m0 10v1m0 7v1m1-23v3m0 2v1m0 7v1m0 1v1m0 8v1m0 1v1m0 1v1m1-31v1m0 1v3m0 15v2m1-24v3m0 3v2m0 15v1m0 2v2m1-20v1m1-7v1m0 4v1m0 19v1m1-25v3m0 11v1m0 2v2m1-22v3m0 2v1m0 31v1m1-1v1m1-36v2m0 17v1m1-22v3m0 1v1m1-6v1m0 2v2m0 25v1m1-30v2m0 1v1m0 20v1m0 1v4m1-26v1m1-2v2m1-6v2m0 18v2m0 2v2m1-3v1m0 3v1m1-30v1m0 2v1m1 0v1m3-4v1m0 1v1m1-5v2m0 18v1m0 1v2m2-23v1m1-3v3m0 35v1m1-41v2m0 34v3m0 3v1m1-41v1m0 1v1m0 1v1m1-2v1m1-7v2m0 2v1m1-1v2m0 22v3m0 5v1m0 1v1m0 1v1m1-17v4m0 4v1m1-33v5m0 31v1m1-35v1m0 2v1m0 32v1m0 1v1m2-14v1m0 16v1m1-13v2m1-32v1m0 1v1m0 19v2m0 14v1m1-36v1m1-5v2m0 2v1m1-6v3m0 21v2m0 7v1m0 1v2m0 1v1m0 1v1m0 1v1m1-40v1m0 35v2m1-36v1m0 26v1m1-31v2m1-4v1m0 1v1m1 0v1m1-3v1m0 2v1m1-2v1m0 33v2m0 2v1m1-42v2m0 2v1m0 18v1m1-24v1m0 3v2m1-9v1m0 2v2m0 1v1m0 1v1m1-7v2m0 1v4m0 33v1m1-36v2m0 23v1m1-28v2m1-6v1m0 3v1m1-5v3m0 2v2m0 38v1m1-10v1m1-37v1m0 1v5m0 16v1m0 7v1m0 3v1m0 2v1m1-39v2m0 1v1m0 1v1m1-6v2m0 1v1m0 2v1m0 20v1m1-29v1m0 1v1m0 1v1m0 1v1m0 16v1m1-20v1m0 24v3m0 3v1m0 1v2m0 1v1m1-39v4m0 1v1m0 33v2m1-39v2m0 20v2m0 17v2m1-40v1m0 32v2m0 1v1m1-41v3m0 1v2m1 15v1m0 3v1m0 4v1m1-29v1m0 1v1m0 15v1m0 23v1m1-47v1m0 3v3m1-4v1m0 1v1m1-3v4m1-6v3m0 1v1m1 5v1m1-10v3m0 6v1m0 26v1m0 2v1m1-40v1m2 0v1m0 2v1m1-4v3m0 1v1m1-4v2m0 2v1m1-5v1m0 4v1m0 1v1m1-5v3m1-3v1m0 1v1m1-3v1m0 2v1m1-1v1m1 2v1m0 1v1m1-6v2m0 1v1m1-3v1m0 1v2m1-7v1m0 2v2m0 34v1m1-41v2m0 2v1m1-2v2m1-4v1m0 2v1m0 32v2m1-36v1m0 1v2m1-4v1m0 1v1m1-3v1m0 2v1m1-2v1m0 1v1m0 17v1m1-25v1m0 1v2m0 2v1m1-4v1m0 1v1m1-4v5m1-4v4m1-6v3m1-2v2m0 1v1m1-2v2m2-2v1m0 1v1m1-3v2m0 29v2m2-32v1m1-3v1m0 6v1m3-7v2m2 22v1m0 9v1m9-6v1m1 2v1m3 0v1m0 1v1m2-16v1m1-21v1m3 30v1m0 2v1m4-35v1m1 25v1m1-28v2m0 15v1m1-18v1m1 0v1m0 20v1m0 3v1m1-27v1m0 2v1m1 25v3m2-32v1m1-1v2m1-2v3m2-3v2m1 0v1m1-2v2m1-2v1m1-2v2m0 18v1m1-19v2m1-6v1m0 1v2m0 4v1m0 5v1m0 3v1m0 3v1m0 1v1m0 2v4m0 6v2m1-37v1m0 1v2m0 7v5m1-15v2m0 20v2m0 3v1m0 2v2m1-33v2m0 10v1m0 15v6m1-34v3m0 8v2m0 8v1m1-14v1m0 4v1m0 1v1m0 1v1m0 4v1m1-25v1m0 1v2m0 6v2m0 12v5m1-25v2m0 7v1m0 9v1m0 2v1m0 1v1m1-26v1m0 12v1m0 2v1m0 4v1m0 9v4m1-39v1m0 1v2m0 7v1m0 1v1m0 7v2m0 7v3m0 1v1m0 4v1m1-37v1m0 2v1m0 11v3m0 1v2m1-22v2m0 4v2m0 1v1m0 1v1m0 8v1m0 1v1m0 2v1m1-27v1m0 1v1m0 13v1m0 1v2m0 1v2m1-22v1m0 1v1m0 3v1m0 10v3m0 14v1m0 2v1m1-38v2m0 21v1m0 2v2m0 8v1m1-35v1m0 25v1m1-28v1m0 10v1m0 1v1m0 5v1m0 11v2m1-33v3m0 5v3m0 8v2m0 14v1m1-34v1m0 2v1m0 1v1m0 1v1m0 1v2m0 9v4m1-19v2m0 2v1m0 1v2m0 1v1m1-14v2m0 2v2m0 3v1m0 1v1m1-16v4m0 6v1m0 2v2m0 1v1m1-5v1m0 2v1m2-3v2m1-11v1m0 1v1m0 1v1m0 1v1m0 1v1m1-2v1m0 1v3m1-15v1m0 4v1m0 2v2m0 2v2m0 1v1m1-8v4m0 1v2m0 20v1m1-36v1m0 1v2m0 1v1m0 1v1m0 3v3m1-12v2m0 1v3m0 5v1m1 1v1m1-2v2m1-7v2m0 4v1m1-10v1m0 3v3m0 9v1m1-19v1m0 5v1m0 3v1m1-8v1m0 2v1m0 1v3m0 9v1m0 1v1m1-17v1m0 1v1m0 13v1m0 3v1m0 4v2m1-32v2m0 2v3m0 3v2m1-7v1m0 2v1m0 10v3m0 1v1m0 7v1m1-23v1m1-8v1m0 2v1m0 2v1m1-5v1m0 1v1m0 4v1m0 1v1m1-7v2m0 4v1m1-7v2m1 3v2m0 16v2m1-20v2m1-8v1m0 2v1m0 2v3m1-3v2m0 2v1m1-2v3m1-3v2m1-2v2m1-1v1m1-3v1m0 1v1m1-2v1m0 1v1m1-3v3m1-2v1m1-2v1m1 0v2m1-2v2m1-3v1m1 0v2m1-1v1m1-16v2m0 10v2m0 1v1m1-21v1m0 1v3m0 2v1m0 10v2m1-20v2m0 18v1m1-15v1m0 11v3m1-26v1m0 2v5m0 1v3m0 13v1m1-26v1m0 5v2m0 3v1m0 11v1m0 1v1m1-27v4m0 4v3m0 10v1m0 3v2m1-25v3m0 2v1m0 16v3m1-29v1m0 1v2m0 3v5m0 14v2m0 1v1m1-25v2m0 2v2m0 13v1m0 2v2m1-30v1m0 11v1m0 15v2m1-28v3m0 2v2m0 3v1m0 13v1m0 1v1"/>
<path stroke="#34e100" d="M51.5 233v1m2-4v1m1-1v3m1-4v1m5 0v1m2 24v1m1-5v1m1-23v2m0 21v1m1-22v1m0 16v2m1-18v2m0 14v1m0 1v1m1-20v1m0 1v2m0 13v2m0 2v1m3-2v1m1-27v1m0 3v1m1-1v1m1-4v1m1 0v2m1-2v1m79-1v1m5 5v1m0 33v1m1-31v3m2-9v2m0 5v4m2-9v1m0 16v1m1-3v7m0 1v4m1-30v2m0 32v1m1-42v1m0 20v2m1-13v1m0 1v1m0 5v2m0 18v4m0 2v2m1-12v1m0 1v7m1-21v2m1-13v1m0 8v2m0 3v2m0 13v1m1-4v4m1-30v1m1-2v2m1 15v2m0 2v2m0 1v2m0 7v1m1-22v2m0 1v2m0 1v14m0 1v1m1-33v1m0 8v17m0 1v1m0 4v1m1-21v3m0 7v1m0 11v1m1-35v1m0 1v1m0 9v4m0 4v12m0 2v1m1-21v3m0 5v4m0 2v7m1-34v1m0 11v5m0 1v11m1-33v1m0 12v2m0 4v7m1-10v2m0 5v1m0 3v2m0 6v1m0 1v1m1-35v1m0 1v2m0 1v1m0 12v7m0 3v5m1-33v2m0 1v2m0 13v1m0 7v9m1-37v1m0 5v1m0 14v7m0 4v5m1-38v2m0 2v1m0 12v2m0 3v2m0 3v11m1-21v1m0 5v15m1-38v1m0 1v1m0 13v2m0 4v4m0 2v10m1-37v1m0 13v7m0 2v3m0 5v6m1-36v1m0 14v11m0 1v9m1-20v13m0 2v3m1-32v2m0 13v1m0 3v7m1-24v1m0 17v14m1-13v1m0 3v4m0 4v1m1-34v1m0 1v1m0 12v1m0 4v5m0 1v8m1-40v1m0 5v1m0 1v1m0 14v8m1-26v1m0 18v1m0 1v1m0 4v6m0 1v2m1-32v1m0 15v14m0 1v1m1-17v3m0 5v8m1-31v1m0 15v5m0 9v1m1-38v1m0 1v1m0 2v2m0 2v1m0 18v2m2 1v1m1-1v4m2-28v1m0 26v1m1-24v1m0 13v9m1-24v2m2 14v1m0 1v1m1-17v1m0 13v3m0 6v4m1-15v4m0 2v4m0 2v2m1-25v1m0 14v1m0 1v6m1-22v1m0 15v2m0 1v1m1-3v8m1-25v1m0 23v1m1-27v1m0 1v1m1 2v1m0 16v4m1-27v3m0 4v1m2 10v1m0 1v1m1-4v11m1-24v2m0 18v1m1-22v1m1 0v3m0 11v2m0 3v1m2-5v3m1-20v1m0 1v1m0 22v1m1-23v1m0 14v1m0 3v4m1-21v2m0 13v1m1-16v2m1-1v1m0 12v1m1-18v2m0 2v2m1-3v1m1-3v1m0 14v3m1-19v3m0 12v9m1-24v1m0 1v1m0 13v1m0 5v1m1-21v1m0 14v1m1-17v1m0 20v1m2-3v1m3-15v1m1-7v3m0 1v1m1-5v1m0 1v2m0 18v2m1-6v6m1-20v1m1 12v6m1-1v1m2 0v1m1-6v5m1-20v1m1 0v1m3-1v1m39-18v2m0 1v2m1-7v1m0 2v1m0 7v1m0 3v1m1-14v2m0 9v1m0 1v1m1-13v8m1-12v1m0 1v2m0 6v5m1-16v1m0 1v1m0 1v1m0 3v1m1-5v1m0 3v2m0 3v1m1-7v6m1-11v3m0 10v1m1-5v6m0 1v1m1-11v1m0 1v3m0 4v1m0 3v3m5-20v1m0 13v1m1-15v2m1-3v1m0 1v1m0 1v3m1-9v1m0 2v3m0 10v1m2-5v1m0 1v1m0 1v2m1-16v1m0 3v2m0 5v1m1-9v1m0 3v2m0 2v1m0 3v1m0 2v2m94 4v1m1-9v1m3 7v1m1-7v1m1 0v1m3 5v1m1-7v1m1 7v1m1-10v1m3 6v1m4-2v1m1-1v1m2-1v1m1-11v1m1 8v1m1-8v2m3-3v2m1-3v1m8 5v1m1-3v1m1-6v1m3 0v1m1-3v1m1 0v1m1-2v1m1-2v3m0 7v2m1-13v1m0 1v1m0 5v2m1-15v2m1 2v1m1-1v1m0 2v1m1-1v1m1-3v1m0 10v3m0 1v2m2-21v1m0 14v1m1-15v1m2-5v2m0 2v2m0 13v2m0 5v1m1-14v1m0 5v1m1-13v1m0 7v1m0 1v1m0 5v2m0 3v1m0 1v1m1-31v1m0 3v1m0 16v1m1-21v1m0 26v1m0 1v2m2-32v2m0 1v1m0 19v1m1-19v1m0 13v1m0 14v1m1-35v2m1-1v2m0 11v1m0 2v2m1-17v3m0 27v1m1-31v1m0 14v3m0 1v1m1-25v2m0 25v1m0 2v1m1-29v1m0 14v1m0 12v1m0 5v1m1-36v1m1 0v1m1-5v1m0 2v2m0 18v2m1-22v1m0 18v2m0 1v1m0 3v1m0 4v1m1-32v2m1-6v3m0 17v1m0 1v2m1-22v1m0 22v2m0 10v1m1-36v2m0 31v1m1-2v2m1-34v1m0 13v1m0 1v1m0 1v1m0 2v1m2-22v1m0 36v2m1-10v2m0 6v1m1-42v3m0 29v1m0 9v1m1-44v1m0 1v1m0 33v1m2-37v2m1 2v1m0 15v1m1-19v1m1 0v1m0 25v1m0 2v2m1-36v1m0 2v1m0 30v1m0 2v1m1-39v2m0 2v2m0 26v1m0 1v3m0 9v1m1-46v5m0 38v1m0 1v1m1-20v1m0 9v1m0 8v1m1-46v2m0 24v1m0 1v3m0 10v1m0 1v1m2-41v1m0 2v1m1 37v1m1-43v1m0 1v1m0 20v2m0 1v1m0 13v1m0 1v1m1-15v2m1-28v1m1-2v1m0 34v1m2-36v1m1-2v1m1-1v1m0 19v1m0 16v3m1-41v1m1-4v2m0 4v1m0 1v1m1 34v1m1-11v1m1-27v1m1-6v1m1 1v1m0 37v3m0 2v1m1-43v1m0 1v1m1-1v1m0 12v2m0 2v2m0 3v1m0 7v1m1-36v1m0 1v1m0 36v1m0 1v2m2-45v1m0 3v1m1-3v1m0 1v4m0 14v2m1-24v1m1 4v1m0 18v1m0 17v2m1-41v1m0 3v1m0 29v1m1-33v1m0 2v1m0 38v1m1-26v1m0 3v1m0 1v1m0 1v2m0 1v1m1-33v1m0 18v1m0 2v1m0 18v2m1-43v2m1-1v1m0 1v1m0 35v3m0 4v1m1-49v1m0 1v1m1 4v2m1-4v1m0 1v1m0 5v1m1 24v1m0 1v1m0 3v1m2-41v3m0 33v1m1-38v1m0 5v1m0 33v2m1-38v1m0 1v2m1-3v1m0 1v1m1-5v1m0 2v1m1-4v1m0 4v1m1-3v1m1-1v1m1-1v1m1 3v1m0 1v1m1-6v1m0 2v1m0 23v1m0 1v1m1-29v1m1-2v2m0 2v1m1-4v1m0 1v1m1 0v1m1-2v1m1-2v1m0 2v1m1-2v1m1 0v1m0 2v1m2-9v1m0 2v2m1-2v1m0 1v1m2 0v1m1-4v2m1-2v1m2-3v1m0 2v2m1-4v1m0 1v1m0 30v2m1-35v1m1 1v1m2-2v1m0 1v1m0 2v1m0 1v1m1-7v1m0 31v1m0 1v1m4-11v2m0 6v1m1-2v1m4-33v1m4 27v1m0 1v2m1-5v2m0 1v1m0 2v1m3-34v1m0 31v1m0 1v1m1-8v1m0 1v1m1-30v1m1 1v1m2 26v1m1 0v1m0 1v2m1 0v1m1-10v1m0 1v1m0 1v1m0 4v1m1-36v2m1-2v1m1 25v1m0 1v1m1-6v1m2-3v1m0 1v2m1-7v1m1-17v1m0 15v1m0 9v1m6-4v1m0 5v1m1-32v2m2 1v1m1-2v1m1 31v3m1-35v1m0 14v3m0 1v1m0 1v2m0 4v1m1 1v1m1-34v1m0 26v3m0 1v2m0 2v2m1-37v1m0 14v2m0 19v1m1-37v2m0 3v2m0 8v2m0 10v1m0 5v1m1-35v1m0 2v2m0 5v1m0 6v1m1-18v1m0 1v1m0 10v2m0 15v3m1-32v2m0 4v3m0 3v1m0 12v1m0 3v2m1-33v1m0 1v2m0 15v1m0 14v1m1-22v1m0 13v2m0 5v1m0 1v1m0 1v2m1-38v2m0 18v1m0 2v2m0 6v4m0 3v1m1-41v1m0 1v1m0 2v1m0 2v1m0 4v1m0 5v4m0 1v1m0 4v1m1-27v1m0 1v1m0 6v1m0 3v1m0 2v1m1-18v1m0 1v1m0 28v1m0 2v1m0 1v2m1-35v1m0 4v2m0 16v1m0 4v1m0 1v1m1-34v3m0 25v1m0 1v1m1-32v1m0 16v2m0 13v2m0 2v4m1-38v1m0 24v1m0 6v1m0 1v2m0 1v1m1-23v1m0 19v1m1-30v1m0 9v1m0 17v1m1-29v1m0 4v1m0 4v1m0 13v2m1-27v1m0 2v1m0 2v1m0 25v1m2-22v1m0 8v1m0 9v3m1-23v2m0 13v3m1-28v1m0 1v1m0 1v1m0 3v1m0 1v1m0 11v3m1-20v1m0 17v1m1-27v3m0 2v2m0 3v1m0 2v1m1-10v1m0 27v2m1-34v1m0 2v1m0 1v1m0 3v1m0 25v1m1-25v1m1-3v1m0 12v2m0 3v1m1-17v1m1 3v1m1-10v1m0 7v2m0 4v1m0 1v1m1-19v1m0 1v1m0 3v1m0 1v1m0 8v1m1-12v1m0 11v1m0 1v1m0 1v1m1-15v3m0 8v2m0 5v1m1-25v1m0 4v2m0 20v1m1-27v1m0 5v1m0 12v1m0 7v1m1-24v1m0 3v1m1-9v1m0 3v1m0 1v1m0 1v1m1-7v1m0 6v1m0 1v1m1-6v2m0 1v1m1 16v1m3-25v1m0 2v1m0 2v1m0 3v1m1-7v1m0 4v1m1-4v1m0 2v1m2-1v1m0 2v1m1-4v1m1 0v1m1-3v1m2-1v1m0 3v1m1-5v1m0 3v1m2-5v1m1 3v1m1-4v2m1-1v1m1-15v1m0 14v1m1 0v1m1-22v1m0 5v1m0 13v1m1-20v1m0 2v2m0 10v1m1-20v2m0 5v1m0 14v2m1-24v2m0 1v1m0 4v2m1-6v2m0 14v1m0 1v1m1-16v1m1-11v1m0 2v2m0 22v1m1-28v1m0 2v1m0 2v1m0 18v1m1-27v1m0 2v2m0 1v2m0 1v2m0 14v2m1-27v1m0 3v1m0 3v1m0 17v1"/>
<path stroke="#71e500" d="M168.5 265v2m10-23v2m0 11v11m1-23v1m0 4v4m1-19v1m0 10v2m0 3v5m0 4v2m1-26v1m0 8v2m0 5v1m2-8v2m1 4v1m1-3v3m0 1v7m1-24v2m0 12v3m0 7v4m1-18v2m0 7v3m1-12v2m1-2v1m0 10v2m1-15v2m1 1v1m0 11v1m1-26v3m0 10v2m0 13v2m0 3v2m1-21v2m0 1v3m0 7v8m1-16v2m1-1v2m0 1v3m0 4v4m1-19v1m0 10v1m1-10v1m0 8v9m1-15v1m0 1v4m0 6v1m1-15v1m1-2v1m0 3v5m0 8v1m1-17v1m0 5v9m0 1v1m1-12v1m0 2v9m1-14v1m0 1v1m0 1v1m0 6v3m1-31v2m0 16v5m0 1v5m0 1v1m1-28v1m0 13v2m0 1v3m0 4v4m1-14v14m1-15v10m0 1v4m1-15v1m0 9v5m1-15v15m1-14v9m0 3v2m1-28v1m0 13v1m0 1v1m0 1v2m0 5v3m1-29v1m0 13v2m0 3v6m1-1v2m0 2v1m1-14v3m0 1v1m0 6v3m1-13v4m0 2v1m0 1v5m1-12v4m1-19v1m0 13v12m1-11v2m0 1v3m0 1v5m1-27v2m0 15v5m0 4v1m1-9v9m1-24v1m0 14v4m0 1v4m1-26v1m0 1v1m0 1v1m0 10v1m0 1v1m0 1v7m1-26v1m0 13v1m1-1v8m0 1v3m1-23v1m0 13v9m1-12v2m0 2v3m0 1v4m1-25v1m0 3v1m0 11v9m1-21v1m0 10v1m0 3v6m1-22v3m0 15v3m1-23v1m0 14v1m0 1v3m1-20v1m0 1v1m0 12v3m0 1v5m1-24v1m0 15v8m1-21v1m0 1v1m0 10v1m0 1v6m1-21v1m0 15v5m1-20v3m0 12v3m0 1v1m1-22v1m0 12v1m0 3v5m1-11v2m1 0v1m0 1v5m0 1v1m1-24v2m0 1v2m0 11v1m0 1v6m1-7v5m0 1v1m1-20v1m0 13v5m1-23v4m0 12v4m0 1v3m1-24v2m0 16v6m1-6v6m1-5v4m1-25v1m0 17v8m1-27v3m0 1v1m0 13v7m1-22v2m0 12v4m1 3v3m1-8v1m0 6v1m1-19v1m0 12v4m0 1v1m1-19v2m0 12v5m1-20v1m0 13v5m1-6v1m0 5v1m1-8v1m0 2v1m0 1v3m1-23v1m0 1v1m0 15v4m1-3v4m155-15v1m2-9v1m2 7v1m6 0v1m6-8v1m3 5v1m1-8v1m3 6v1m1-1v1m4-9v1m5-1v1m2-1v1m0 6v1m1-8v1m1 4v1m1-1v1m11-7v1m1 5v3m5-14v1m0 1v1m1-2v1m0 9v1m1-3v1m1 0v4m0 13v1m1-9v1m0 1v2m1-15v1m0 3v1m0 13v1m1-14v1m0 2v1m0 9v1m1-19v1m0 7v1m0 10v2m1-17v2m0 9v1m1-1v2m1-5v3m1-25v1m0 8v1m0 6v2m0 1v1m0 9v1m1-6v1m1-16v1m0 1v2m0 16v1m1-17v1m0 7v1m1-6v1m0 1v1m1-1v2m1-11v1m0 14v1m0 2v2m0 1v1m1-4v1m0 1v1m2-20v2m0 6v1m1 5v1m2-11v1m0 1v1m1-3v1m0 2v1m0 3v1m0 4v1m0 1v1m1-2v1m1-34v1m0 32v2m1-24v1m0 8v2m0 8v1m0 4v1m2-2v1m1-20v1m0 15v1m0 1v1m0 2v1m1-40v2m0 28v1m1-31v1m0 1v1m3 12v1m0 4v2m0 11v1m1-21v1m0 3v1m0 9v1m1 3v1m1-31v1m0 27v2m0 6v1m0 1v1m1-10v1m0 7v1m1-19v1m0 10v2m0 1v3m1-13v1m0 4v1m1-13v1m0 13v3m3-17v1m0 10v1m0 10v1m1-23v2m0 2v1m0 1v2m0 6v1m1-3v1m2-32v1m1 30v1m1-13v3m1 10v1m1-32v1m0 13v2m0 6v2m0 8v2m1-14v1m2 14v1m0 1v1m3-2v1m0 1v1m1-13v1m0 7v1m0 4v1m1-12v1m1-10v1m0 1v1m0 1v1m1-24v2m0 31v1m0 1v1m1-34v1m0 14v1m1-4v1m2-15v1m1 19v1m0 2v2m1 4v1m2-12v1m0 3v1m0 4v1m0 1v1m1-18v1m0 20v1m0 6v1m2-9v1m0 6v1m1-1v2m1-10v1m2-11v1m0 7v1m2 1v1m0 2v2m1-19v1m0 1v1m0 3v1m0 10v1m0 4v1m1-12v2m0 4v1m1 5v1m1-18v3m0 11v2m1-15v1m1 14v1m1-35v1m3 22v1m0 1v1m0 1v1m7 2v2m1-26v1m1 12v1m0 1v1m8 3v2m0 1v3m1-5v2m4-25v1m1 28v1m0 1v1m4-13v2m0 3v1m0 4v1m1-33v1m0 22v1m0 6v2m1-14v1m3 7v2m4-2v2m1-2v1m0 4v1m4 1v1m1-33v1m0 16v1m0 7v1m0 8v1m1-35v1m0 1v1m1 18v1m1 7v1m0 1v1m0 2v1m2-16v2m0 11v1m1-11v1m0 4v1m0 1v3m1-32v2m2 19v3m3 1v1m1-9v1m0 13v2m1-34v1m0 15v1m0 1v2m0 3v2m0 1v1m0 4v1m0 1v1m7-31v1m1 14v2m0 1v1m1 11v1m0 1v1m3-7v5m1-8v1m0 2v1m0 1v1m1 2v1m1-14v6m0 7v2m1-14v2m0 1v1m0 3v1m1-26v2m0 16v1m0 7v1m0 4v1m2-30v1m0 1v1m0 12v1m0 6v1m0 2v2m0 2v1m1-14v1m0 4v2m0 1v1m1-10v1m0 10v1m1-33v2m0 23v1m0 1v1m0 4v3m1-34v1m0 4v1m0 3v4m0 8v1m0 2v1m0 2v1m0 4v1m1-26v1m0 1v1m0 1v1m1 14v1m0 2v1m1-2v1m0 1v1m0 1v1m1-6v1m0 2v1m1-21v1m0 3v1m0 10v2m1-6v1m0 3v4m0 1v1m1-1v2m1-9v1m0 1v1m0 4v1m1-2v3m1-18v1m0 16v3m2-20v1m0 5v2m0 7v1m0 1v1m1-2v3m1-11v2m1 2v1m1-1v2m0 2v1m1-3v3m1-7v3m2 0v4m2-9v4m0 2v2m1-8v11m0 1v1m1-12v3m0 1v4m1-11v1m0 6v1m0 3v4m1-21v1m0 6v1m0 8v2m1-3v1m0 1v1m2-9v1m0 3v2m0 1v1m3 0v2m1-9v1m0 8v1m1-17v2m0 4v1m0 8v1m1 0v1m1-9v1"/>
<path stroke="#97e900" d="M179.5 244v1m1 0v1m2-3v1m2 6v1m1-3v1m1-1v2m1-5v1m1-1v1m1-1v1m1-3v1m1 2v1m1-1v1m1 0v1m1 3v2m1-1v2m1-6v1m1 0v2m1 0v2m1-2v1m1-2v1m1 0v1m1 3v2m1-3v1m0 1v1m0 1v1m0 1v6m1-12v2m0 11v1m1-15v2m0 2v1m1-4v1m1-3v2m1-1v1m1-2v2m1 0v1m0 9v3m1-24v1m0 10v1m0 6v5m2-14v2m1 0v1m1 0v1m1-1v2m1-16v1m0 12v2m1 0v1m0 2v1m0 3v1m1-20v2m0 12v1m1-14v2m0 12v1m1-2v2m0 4v1m1-8v1m1-3v2m1-1v1m1 2v1m1-4v1m1 2v1m1-15v2m0 11v1m1 4v2m1-7v2m1-1v1m1-1v2m1-15v2m0 12v1m1 1v2m1-2v2m0 3v1m1-9v1m1-3v1m1 1v1m1 0v1m1-1v2m1-17v2m0 14v2m0 5v1m1-9v1m1-14v1m0 13v2m1-20v2m0 1v2m0 1v1m0 11v2m1-14v1m0 12v2m0 4v1m1-9v1m1-2v1m1-16v1m0 13v1m1 5v2m1-6v1m1 1v1m1-11v1m0 10v1m1-2v1m1-2v1m1-2v1m0 1v2m0 1v1m1-4v2m0 4v1m1-24v1m0 1v3m0 12v3m1 0v1m1-6v1m1-3v2m1-3v2m1-2v2m151-6v1m4 0v1m4-7v1m1 0v1m8 4v1m4-8v1m3 6v1m1-2v1m3-3v1m1-1v1m1-1v1m5 1v1m9-8v1m5-2v1m1 10v1m1-13v1m1-1v1m1-3v1m0 12v1m1-3v1m1-14v1m0 9v1m1-1v2m1 2v1m1-13v2m0 14v1m1-9v1m0 3v1m0 10v1m1-14v1m0 1v1m0 10v1m0 1v1m1-29v2m1 25v1m1-7v1m1-9v2m0 2v1m1-1v1m0 5v1m0 3v1m1-6v1m0 1v2m0 2v1m1-15v1m0 12v1m1-28v1m0 20v1m0 4v1m1-19v2m0 1v1m1-5v3m0 4v1m0 1v1m0 6v2m1 0v1m1-12v1m0 2v1m0 7v1m0 1v1m0 1v1m1-18v1m1 5v2m0 5v2m1-16v1m0 8v3m0 2v1m1-16v1m1-1v1m0 3v1m1-22v1m0 24v2m0 1v2m0 1v1m0 3v1m1-15v1m0 12v2m1-4v1m0 2v2m1-6v4m0 1v1m1-36v2m0 25v2m0 1v2m1-13v1m0 2v2m0 8v1m1-37v1m0 36v1m1-10v1m1 2v1m3-21v2m0 1v1m1-16v1m0 3v1m0 10v3m1 10v1m0 4v1m1-33v1m0 1v1m0 19v2m0 12v1m1-6v1m1-33v1m0 16v1m0 1v2m0 13v1m1-9v1m0 5v1m1-7v1m0 1v4m0 5v1m0 1v2m2-19v1m1-23v1m0 37v1m1-6v1m0 6v1m1-10v2m2-33v2m1-2v1m0 25v1m1-10v1m0 3v1m0 1v2m0 2v4m1 6v2m1-38v1m0 11v1m0 2v1m0 7v2m0 4v1m0 6v1m1-19v1m0 1v1m2-21v1m0 17v2m0 1v1m0 9v1m0 5v3m1-18v1m0 1v1m2-8v2m0 17v1m0 2v1m1-39v2m0 21v1m0 1v1m0 5v1m1-8v2m0 2v1m1-30v1m0 18v1m0 11v1m1-31v1m0 27v1m0 1v1m0 6v2m1-38v1m1-4v2m1 11v2m0 2v2m1-18v1m1-2v1m0 15v1m0 8v1m0 2v3m0 2v2m1-20v1m0 12v1m0 2v1m0 4v1m0 3v1m1-23v1m0 16v1m0 1v3m1-26v1m0 2v1m0 10v1m1-18v1m0 5v2m0 5v5m0 5v1m1-32v1m0 31v1m1-7v1m0 1v1m0 4v1m0 1v1m1-6v1m1-4v1m0 1v4m0 1v1m1-18v1m0 1v1m1-5v1m0 9v1m0 8v1m2-9v2m0 5v1m1-21v1m0 1v1m0 1v3m0 1v1m0 4v1m0 7v2m0 1v1m1-16v1m0 1v1m0 2v1m0 4v1m1-14v1m0 14v3m1-6v3m1-14v1m0 1v2m1-19v1m1-5v1m0 1v1m5 27v1m0 1v4m2 0v1m1-6v2m2-3v1m0 2v1m2-30v1m0 18v1m0 10v2m3-32v3m0 29v1m4-9v1m1-25v1m0 23v1m0 6v1m1-7v2m0 1v1m0 2v2m1-7v2m3-30v1m0 2v1m2 26v1m4-12v1m0 8v1m1-30v1m0 18v1m2-18v1m3 21v1m2 7v2m1-5v1m4 1v1m1-30v2m0 13v1m0 1v1m0 7v1m0 6v1m3-33v1m0 28v1m0 1v2m1-8v1m0 1v1m0 5v1m1-14v1m0 9v1m1-13v1m0 1v1m0 1v1m0 1v1m0 6v1m1-30v1m0 19v1m1 0v3m0 1v1m1-9v1m0 6v1m1-14v1m3-13v1m0 12v1m0 14v1m1-7v1m2 9v1m1-2v1m1-33v1m1 23v2m1-2v1m0 2v1m1-28v1m1 17v1m0 3v1m1 4v3m0 2v1m2-4v1m2-5v1m0 6v1m1 0v1m2-10v3m1-28v1m0 21v1m0 4v2m0 1v1m1-3v2m0 2v1m1-27v1m0 21v2m0 2v2m1-12v1m0 2v1m2-5v1m0 1v1m0 1v1m1-25v1m0 18v1m0 4v2m0 2v3m0 2v1m1-27v1m0 13v1m0 7v1m0 1v3m1-7v1m1 2v1m1-4v2m0 1v2m1-17v1m0 3v4m1-5v2m0 2v1m1 0v1m1-3v1m0 1v1m0 2v1m0 1v1m1-15v1m0 7v1m0 2v1m0 6v1m1-11v8m1-3v1m0 5v1m1-12v3m0 4v1m1-17v1m0 11v1m0 7v1m1-14v1m0 5v1m0 1v1m0 4v1m1-13v3m0 2v3m1-7v1m0 1v1m0 2v2m0 1v2m1-20v1m0 6v1m0 13v1m1-14v3m0 3v1m0 5v1m2-14v1m0 2v3m0 5v1m1-11v3m0 1v3m0 4v1m1-18v1m0 3v3m0 4v2m1 5v1m1-13v2m0 3v1m0 4v2m1-7v1m0 2v1m1-10v1m0 11v1m1-12v1m0 6v1m0 1v1m0 2v2m1-8v1m1-4v1m0 1v1m0 2v1m0 1v1m0 1v2m1-3v1m0 1v1m1-6v3m0 1v2m1-2v1m1-11v1m0 7v1m0 2v1m2-15v1m0 11v1m0 1v1"/>
<path stroke="#b4ed00" d="M181.5 244v1m2-1v1m1 4v1m2-3v1m2-4v1m1-1v1m2 0v1m1-1v1m1 0v1m1 2v2m1 0v1m1-5v1m1 0v1m1 1v1m1-1v1m1-2v1m1 0v1m2 2v1m1-1v1m1-2v1m1-1v2m1-3v1m1 0v1m1-2v1m1 0v2m1-1v1m1-1v1m1-3v1m1 1v1m1 0v1m1-1v1m1-2v1m1 0v2m1 0v2m1 0v1m1-2v1m1-2v1m2-2v1m1 2v1m1-4v1m1 1v2m1-2v1m1 3v2m1-6v1m3 1v1m1 1v1m1-1v1m1-4v1m2-1v1m1 0v1m1-1v1m1 0v1m1-2v1m1-1v2m1-1v1m1-1v2m1-4v2m1-2v1m1-2v1m1 5v1m1-5v1m1 0v2m1 0v1m1-3v2m1-2v1m1-2v1m1 0v2m1-1v1m1 2v1m1-7v2m1-3v1m1-2v1m1-1v1m151-10v1m1 5v1m1-6v1m3-1v1m1 1v1m1 0v1m7 3v1m1-7v1m0 4v2m1-7v1m8 3v1m6-8v1m1 0v1m10-3v1m1 5v1m3-6v1m0 5v1m5 0v2m0 2v1m2-3v2m1-6v1m1-1v2m0 1v2m2-4v2m0 2v1m1-2v2m0 7v1m1-25v2m0 21v1m0 2v2m1-17v1m0 4v1m0 10v2m1-23v1m0 8v1m1-15v2m0 14v1m0 4v2m1-14v2m1 7v1m0 1v2m0 5v1m1-14v1m0 7v1m1-6v2m0 5v1m1-15v2m0 4v3m0 5v2m1-30v1m0 16v1m1-15v1m0 9v1m0 10v1m0 2v1m1-28v1m0 11v1m0 7v1m1-9v2m0 1v1m0 1v1m0 9v2m1-20v1m0 16v1m1-9v1m0 2v1m0 4v1m1-14v1m0 1v1m1-7v1m0 20v1m2-20v1m0 14v3m0 1v1m1-13v1m0 1v1m0 5v2m0 1v1m1-34v1m0 22v1m0 5v1m1-31v1m0 16v4m0 1v1m0 7v1m1-10v2m0 1v1m0 2v3m1-31v2m0 12v1m0 9v1m0 4v2m1-3v1m0 2v1m1-18v1m0 5v1m0 1v2m0 2v2m0 1v2m1-16v1m0 14v2m1-15v1m1 8v1m0 1v1m2-2v1m1-28v1m0 10v1m0 3v1m0 1v1m1-20v1m0 11v1m0 15v2m1-6v1m0 1v1m0 6v1m0 3v1m1-35v1m0 16v1m0 5v2m0 10v1m1-40v1m0 19v1m0 3v2m0 7v1m0 4v1m2-35v1m0 15v1m0 2v2m0 4v1m0 8v1m1-22v1m2 3v1m0 4v1m1-25v1m0 14v1m1-18v1m0 25v2m1-6v1m0 16v1m2-9v1m1-8v2m0 1v1m0 1v1m0 1v1m1-10v1m0 10v1m1-34v2m0 14v1m1 14v1m0 7v2m1-40v1m0 16v1m0 3v1m1-1v1m0 8v2m1-12v1m0 1v1m1 3v1m2-7v1m0 10v1m0 2v1m0 3v1m1-36v1m0 19v1m2 8v3m1-5v1m0 6v1m1-39v1m0 3v1m1-3v2m1-3v1m0 10v1m0 7v1m1-3v2m1-5v1m0 5v2m0 3v1m0 4v1m1 7v1m1-24v1m0 2v1m0 13v1m0 2v1m1-36v1m0 11v1m0 17v1m0 6v3m1-18v1m0 5v2m0 1v1m1-33v3m0 31v1m0 1v1m1-9v1m0 1v1m1 1v1m0 1v3m1-1v1m1-16v1m0 4v2m0 1v1m0 9v2m1-39v2m0 15v2m0 1v2m0 3v1m0 10v3m1-19v1m2 5v1m0 1v1m0 2v1m1-11v2m0 7v1m0 6v1m1-17v1m0 10v1m1-13v1m0 9v2m1-6v1m1-26v2m0 2v1m0 1v1m1 30v1m3-8v1m2-27v1m0 27v1m2 0v1m1-28v3m1-4v1m1 29v3m1-28v2m1-6v1m3 1v1m0 26v2m2-33v1m0 1v1m2 0v1m0 22v1m1 4v1m0 1v1m1-6v1m1-3v1m0 4v1m1-6v1m2 3v1m1-2v1m1-5v1m0 2v1m0 2v1m2-7v1m0 5v1m1-6v3m1-30v2m0 16v1m0 1v2m0 5v1m1-28v1m0 15v1m0 7v1m2-25v1m1 1v1m0 24v1m2-8v1m0 4v1m2-3v2m0 8v2m1-11v1m0 8v2m1-8v3m1-2v1m2-4v1m0 3v1m0 1v1m1-29v1m1 19v2m0 1v1m0 2v2m1-32v1m0 19v2m0 1v3m1-27v2m0 2v1m0 23v2m1-4v1m0 2v1m2-10v1m0 1v1m0 13v1m1-33v1m0 21v2m0 1v1m0 1v1m0 4v1m2-19v2m0 1v1m0 8v3m1-9v1m2-5v1m0 7v1m1-13v1m0 14v1m0 4v1m1-37v1m0 15v1m0 4v1m0 1v1m0 9v1m1-17v1m0 3v1m1-21v1m0 24v1m0 8v1m1-3v1m1-30v1m1 21v1m0 2v1m0 4v1m1-31v1m0 13v1m0 5v1m0 1v1m0 1v2m0 2v1m0 3v1m1-16v1m0 4v2m1 0v2m0 2v1m0 1v2m1-31v1m0 23v1m0 3v1m1-16v1m0 2v1m0 1v2m0 5v1m3-5v1m0 2v1m0 3v2m0 1v1m4-34v2m0 20v4m0 4v3m1-3v1m0 1v2m2-12v2m2-3v1m1 5v1m0 4v1m1-14v2m0 7v1m0 1v1m1-9v1m0 1v1m2 7v2m1-20v1m0 8v1m1-1v1m1-11v1m0 12v1m1-13v1m0 10v1m0 1v1m1-15v1m0 6v2m0 1v2m0 6v1m2-19v1m0 12v1m0 3v3m1-8v3m1-8v1m0 1v3m0 7v1m1-4v4m2-20v1m0 6v2m0 1v1m0 8v2m1-16v1m0 7v1m1 4v1m1-11v1m0 1v1m0 1v2m2-14v1m0 5v1m0 3v1m0 3v1m0 4v2m1-5v1m2 2v2m1-7v1m1-10v1m1 2v2m0 1v3m1-13v1m0 12v1m0 1v3m1-11v1m0 2v1m0 6v1m1-11v1m0 8v1m0 1v1m1-8v1m0 1v1m0 3v1m1-5v3m1-4v2m0 1v1m1-9v1m0 1v1m0 6v1m1-7v1m0 1v5m3-8v1"/>
<path stroke="#d7f400" d="M185.5 247v1m2-4v1m3-3v1m1 1v1m3 3v1m3-2v1m2 1v1m1-2v1m2 5v1m1-3v1m1-1v1m4-2v1m1-2v1m1 0v1m1 0v1m1-1v1m2-1v1m1 0v1m5 3v1m1-2v1m2-3v1m1-1v1m1 2v1m4 2v1m1-5v1m1 1v1m1-1v1m1-1v1m1 1v1m3-5v1m1 0v1m1 0v1m1-1v1m2-1v1m1-1v1m1 0v1m2-3v1m1-1v1m1-2v1m1 5v1m3-2v1m3-4v1m1 0v1m1 0v1m1 2v1m1-7v1m165-1v1m5-3v1m4-9v1m1 6v1m10-4v1m6-8v1m3 5v1m2-5v1m4 3v1m6 2v2m0 2v1m1-15v1m1 6v1m0 6v1m1-9v1m1-10v1m0 13v2m1 9v2m2-27v1m0 14v1m2-9v1m0 13v1m2-5v2m0 6v1m0 1v1m1-29v1m0 8v1m0 5v1m0 10v1m0 1v2m1-29v1m0 20v1m0 2v1m1-10v2m0 3v1m1-23v1m1 10v1m0 12v2m1-26v1m0 19v1m0 8v2m1-18v1m2 0v1m0 1v1m0 4v1m1-7v1m1-20v1m0 10v1m0 1v1m0 11v2m0 5v1m0 1v1m1-4v1m1-19v1m0 2v1m0 10v1m0 4v1m0 1v1m1-4v1m0 1v2m1-35v1m0 14v1m0 1v1m1 3v1m0 4v2m1-29v1m0 17v2m0 2v1m0 1v2m1-26v1m0 20v1m0 1v1m1-26v2m0 10v1m0 14v1m1-28v1m0 14v2m0 11v1m0 2v1m1-33v1m1 18v2m0 3v1m1 3v1m0 5v1m0 1v1m2-39v1m0 13v1m0 11v1m0 1v2m0 1v1m1-30v1m0 7v2m0 7v1m1-17v1m0 28v1m1-17v1m0 2v1m0 15v2m0 3v1m1-22v2m0 1v1m0 2v1m1-7v1m0 1v1m0 12v1m0 1v2m1-24v1m0 3v1m1-20v2m0 1v2m0 18v1m0 10v2m0 2v1m1-11v1m1 5v1m0 3v1m0 1v2m1-39v1m0 17v1m0 2v1m0 3v5m0 3v1m1-37v1m0 1v1m1-1v1m0 15v1m0 10v2m1 8v1m0 1v1m2-11v1m0 1v1m1-32v1m0 16v1m0 2v1m0 1v1m0 4v1m0 3v1m1-7v1m0 4v2m0 1v1m0 3v3m1-23v2m0 10v1m0 8v1m1-28v1m0 13v1m0 1v2m0 8v1m1-37v1m1 17v1m0 2v1m1-22v1m0 15v1m0 5v1m0 6v1m1-10v1m0 5v1m0 8v3m1-17v1m0 13v2m1-19v1m0 1v1m0 8v1m0 1v2m1-35v2m0 3v1m0 17v1m0 4v5m1-17v1m0 8v1m0 5v2m1 3v1m0 2v2m1-25v1m0 2v2m0 8v1m1-14v1m2 2v1m1-18v2m0 12v2m1-4v1m0 12v1m0 4v1m1-19v1m0 1v1m0 3v2m0 1v1m1-7v1m0 2v4m0 10v1m1-33v1m0 27v1m1-12v1m0 11v1m1-28v1m1-2v2m0 32v1m1-7v1m0 5v1m1-32v1m0 31v1m1-21v2m0 3v1m0 1v1m0 2v1m0 1v5m0 1v1m0 1v1m1-40v3m0 3v1m0 18v2m1-8v2m0 1v1m0 2v2m0 9v1m0 1v1m1-16v1m0 16v1m1-37v1m0 21v3m0 4v1m1-7v1m0 4v1m0 1v1m0 2v3m0 1v1m1-17v3m0 8v2m1-11v3m0 2v1m0 7v1m1-13v1m0 2v1m2 2v1m0 5v1m1-10v1m1-1v1m0 2v1m0 1v1m1-10v2m2 4v1m1 7v1m1-34v2m0 26v1m0 1v2m1-31v1m0 23v3m1-5v1m0 9v1m2-12v1m1-2v1m1-16v1m0 26v1m2-28v1m0 21v1m0 1v1m1-29v1m1-2v1m0 1v1m0 27v1m1-32v1m1 0v1m0 2v1m0 1v1m1 13v3m0 6v2m1-8v1m1 0v2m0 7v1m1-9v1m0 5v1m0 1v1m2-28v1m0 24v1m1-4v1m1-3v1m0 3v1m0 1v2m2-11v2m0 1v3m1-11v1m1 3v3m1-6v1m0 1v1m0 10v2m1-36v2m1 1v1m0 31v1m1-32v1m0 19v2m0 3v1m1-30v1m1 18v2m0 2v1m0 1v1m0 2v1m1-29v1m2-1v1m0 15v2m1 6v2m1 0v3m1-28v1m2 14v1m0 14v3m1-30v1m0 21v1m0 1v2m1-29v1m0 24v1m1-26v1m0 2v1m0 10v1m0 10v1m1-1v1m1-8v1m0 3v1m0 6v2m2-19v1m0 3v3m0 7v1m0 3v1m0 2v1m1-13v3m0 3v1m0 1v1m0 1v1m0 2v1m1-17v1m1-19v1m0 12v1m0 9v1m0 8v3m1-14v1m2-9v1m0 4v1m0 14v1m1-14v1m0 12v2m1-1v1m2-5v1m0 1v1m1-30v1m1 19v1m0 5v1m0 1v1m1-11v1m0 11v1m1-31v1m0 18v2m0 9v2m1-19v1m0 4v2m0 1v1m1-23v1m0 11v1m1-12v1m0 1v1m0 14v1m0 8v1m0 2v3m1-6v1m2-9v1m5 8v1m6-8v3m0 1v2m1-8v2m0 1v1m5-6v1m0 5v2m0 1v1m1-9v2m1-2v1m0 13v1m1-13v1m1-8v1m0 10v1m0 2v2m2-11v1m0 1v1m1-9v1m0 5v1m0 7v1m1-15v1m0 6v1m0 8v5m2-14v6m1 1v1m0 2v1m1-9v1m0 1v1m0 4v5m1-3v3m1-6v3m1-1v2m0 1v1m2-21v1m0 4v1m1-6v1m0 4v1m0 10v1m2-16v1m0 8v1m1-4v1m0 7v1m1-15v1m1 7v2m0 5v1m1-6v1m0 1v1m1 6v1m1-10v2m0 2v1m1-5v2m1-1v1m1-6v1m3-1v1"/>
<path stroke="#fffc00" d="M51.5 231v2m0 5v2m0 2v1m1-2v1m0 3v1m0 1v1m2-19v1m0 10v1m0 3v1m1-17v1m0 2v1m0 5v1m0 6v1m1-5v1m0 1v1m0 3v1m1-22v1m0 1v2m0 11v1m0 1v1m1-12v1m0 1v1m0 10v1m1-7v1m0 5v2m1-17v1m0 1v1m0 7v4m1-7v2m0 5v1m1-13v1m0 1v1m0 1v2m0 1v2m0 2v2m1-17v1m1 3v2m0 1v1m0 1v1m0 1v1m0 1v1m0 5v1m1-17v1m0 5v1m0 2v1m0 4v1m0 1v1m1-10v1m0 1v1m0 3v1m0 1v1m1-14v1m0 2v1m0 11v1m1-15v1m0 1v1m1-9v4m0 14v1m1-16v1m0 1v1m0 1v2m1-10v2m0 9v1m0 2v1m0 4v1m1-16v1m0 8v1m0 1v1m0 3v2m1-18v1m0 1v1m0 5v1m0 7v1m1-13v1m0 2v1m0 2v1m0 1v2m0 3v1m1-16v4m1-3v2m0 3v1m0 2v2m1-14v3m0 9v4m0 9v1m1-21v1m0 6v1m1 1v2m9 9v1m5-26v3m0 1v3m2-7v1m0 1v2m1-3v1m0 5v1m1-4v1m1-3v1m0 1v1m1 1v1m1-6v1m1-2v1m0 7v2m1-10v3m2 5v3m1-10v1m0 2v3m0 3v2m1-9v1m0 9v1m0 2v1m1-9v2m0 1v2m1-5v1m0 1v1m0 2v2m1-5v1m33-28v1m1-3v1m1 2v1m1-5v1m1-1v2m1-1v1m0 3v1m3-5v1m1-1v2m0 2v1m0 10v1m1-15v2m0 1v1m1-2v1m0 14v1m1 1v1m3-14v1m2-3v1m0 1v1m3 16v1m2 1v1m2-1v1m1-5v1m0 4v1m1-1v1m1-3v1m1-7v1m0 5v1m1 1v1m2-2v1m3 1v1m3 0v1m1 0v1m1-6v1m2 2v1m2 2v1m1 5v1m2-11v1m0 6v1m1-12v1m2 3v1m2 8v1m1 1v1m1 2v1m1-13v1m0 7v1m1-17v1m0 1v1m0 3v1m1-2v2m0 2v1m0 9v1m2-12v1m1 10v1m1-16v1m0 18v1m1-13v1m0 9v1m1-10v1m0 8v1m1-1v1m1-10v1m0 8v1m1-2v1m1-9v1m1 6v1m3-6v1m1 5v1m1-7v1m0 6v1m1 0v1m1 0v1m1-2v1m1-7v1m0 6v1m1 1v1m1-7v1m1 5v1m1-1v1m3-7v1m0 6v1m2-1v1m1-1v1m1-7v1m0 8v1m2-3v1m1-12v1m0 3v1m0 6v1m2 1v1m1-13v1m0 5v1m0 6v1m1-4v1m1-9v1m0 5v1m3-5v1m1 0v1m0 6v1m2-10v1m0 6v1m2-6v1m0 6v1m3-11v1m1-6v1m0 6v1m1-11v1m0 5v1m0 1v1m0 8v1m1-18v1m0 3v1m0 6v1m0 6v1m1-13v1m0 12v1m1-25v1m0 5v1m0 4v1m0 4v1m0 6v1m1-25v1m0 6v1m0 16v1m1-13v1m0 2v1m0 6v1m1-23v1m0 22v1m1-15v1m0 7v1m0 6v1m1-27v1m0 1v1m0 7v1m0 18v1m1-30v1m0 1v1m0 5v1m1-7v1m0 7v1m0 5v1m0 6v1m1-16v1m0 6v1m0 6v1m1-9v1m0 7v1m1-24v1m0 8v1m1-10v1m1 11v1m1-13v1m1-3v1m0 3v1m0 4v2m0 1v1m0 2v1m2-4v1m0 2v1m1-16v1m0 11v1m2-12v1m0 5v1m1-6v1m1-3v1m0 1v1m2-2v2m1-1v1m0 3v1m0 1v2m1-4v1m0 3v1m1 0v1m1-7v2m1-5v2m2-2v1m0 1v1m1 5v1m1-10v1m0 4v2m1-6v1m0 8v1m1-4v1m1-6v2m1-1v1m1 5v1m1-5v3m0 1v1m1-9v1m1 1v1m0 3v1m1-1v1m1 1v1m1-9v1m2-2v1m0 5v3m1-8v1m0 2v1m0 1v1m1-9v1m0 1v1m0 2v1m0 1v5m0 3v1m1-15v3m0 8v1m0 1v2m1-9v2m1-7v1m0 7v2m0 1v3m1-11v1m0 3v3m0 2v2m1-2v1m1-10v2m0 1v6m1-7v1m1 0v1m0 4v2m0 2v3m5-18v1m0 4v4m0 1v4m1-9v1m0 2v8m1-8v1m0 3v3m1-11v5m0 3v2m1-7v3m0 1v2m0 1v1m1-10v5m1-9v1m0 5v4m0 3v3m1-15v1m0 6v1m10 12v1m31-5v1m4 0v2m5-2v1m3-3v1m3-7v2m1-4v1m1 0v1m0 3v1m1-7v1m0 1v1m0 5v1m0 1v1m2-12v1m0 2v1m1-9v1m0 3v2m0 2v1m3 0v1m1-12v3m0 6v1m0 1v1m0 3v1m0 1v1m0 1v2m1-21v2m0 6v1m0 2v2m0 10v1m1-22v1m0 5v1m0 13v1m1-18v2m0 6v2m0 3v1m1-15v2m0 1v1m0 3v1m0 1v1m0 3v1m0 2v1m1-19v1m0 2v1m0 6v1m0 9v1m1-21v3m0 1v1m0 2v1m0 12v1m1-20v1m0 9v3m1-10v1m2-1v2m0 2v1m0 2v1m2-6v2m1-7v3m0 11v1m1-5v1m1-4v1m1-5v1m1-2v1m0 6v1m1-5v1m0 6v1m1-11v1m0 8v1m0 3v2m1-8v1m1 0v1m0 2v1m2-7v2m1 2v1m0 1v1m1-5v1m0 2v2m1-5v1m0 2v1m0 6v1m1-10v1m1-4v1m0 1v1m1-1v3m0 6v1m1-11v1m0 3v1m1-4v2m1 1v1m0 2v1m1-2v1m1-4v1m0 1v1m0 5v1m4-6v1m2 7v1m3-11v1m2 0v1m2 6v1m3-7v1m2-3v1m1-1v1m1 5v1m4-9v1m5 2v1m4-3v1m3-4v1m1 1v1m1-3v1m1-1v1m0 4v1m2-8v1m1-2v1m0 6v1m1 4v2m0 2v1m1 1v1m3-2v1m3-17v1m0 8v1m0 7v1m0 4v2m0 4v1m1-33v1m0 7v1m0 1v1m0 17v2m1-24v1m1-1v1m0 25v1m1-11v1m0 5v3m1-28v2m0 26v1m1-31v1m0 16v1m0 11v1m1-27v1m0 23v1m0 1v1m1-30v1m0 22v1m0 2v1m1-14v1m0 3v1m1-16v3m0 13v2m0 8v1m1-35v1m0 3v1m1 30v1m1-22v1m0 20v1m2-10v1m0 2v1m1-29v1m0 21v5m0 1v2m0 2v1m1-3v1m1-14v1m0 16v2m1-38v1m0 15v1m0 4v1m0 8v1m0 1v1m1-32v1m0 15v1m0 8v1m0 1v2m1-17v1m0 3v2m0 1v1m0 17v1m1-22v2m0 19v1m1-39v1m0 3v1m1-6v1m0 27v3m1-24v1m0 8v2m0 10v1m0 8v1m1-19v3m0 13v1m1-40v1m0 5v1m0 13v1m1-15v2m0 18v1m0 1v1m0 1v2m1-24v2m0 20v2m0 5v2m0 1v1m0 1v2m1-39v1m1-2v3m0 9v1m0 11v1m0 7v1m0 3v1m0 2v1m1-37v1m1 0v1m0 6v1m0 18v1m0 1v1m1-40v1m0 25v1m0 2v1m0 13v1m0 1v1m1-41v1m0 5v1m0 20v1m1-30v1m0 19v2m0 3v2m1-12v2m0 1v2m1-21v1m0 4v1m0 16v1m0 20v1m1-24v1m1-19v2m0 1v3m0 28v1m0 5v1m1-40v1m0 24v2m0 10v1m1-39v1m0 4v1m1 12v1m0 13v2m1-31v2m0 20v2m0 8v1m0 1v1m1-2v1m0 1v1m1-41v1m0 5v1m0 26v1m1-34v1m0 2v1m0 19v1m0 2v1m0 13v1m0 3v1m1-25v1m0 8v1m0 9v3m1-43v1m0 6v1m0 12v1m0 1v1m0 2v2m1-24v1m0 3v1m1-9v1m0 20v3m0 7v5m0 9v1m1-19v1m0 2v1m0 4v1m0 3v1m1-7v1m0 2v1m1-2v1m0 3v1m0 2v1m1-21v1m0 18v2m1-43v1m0 4v1m0 17v1m1 4v1m1-28v1m0 3v1m0 17v1m0 4v1m1-31v1m0 1v1m0 17v1m0 24v2m1-36v1m0 17v1m0 1v1m0 2v1m0 1v1m1-34v1m0 1v1m0 3v1m1 11v1m1-9v1m1 14v1m1-8v1m1-17v1m0 5v1m0 13v3m0 2v1m0 1v2m0 1v1m0 9v1m1-24v2m0 12v1m0 3v1m1-1v2m0 1v1m1-40v1m0 1v1m0 21v1m1 8v5m1-40v1m0 6v2m1-10v1m0 36v1m0 7v1m1-34v1m0 23v1m0 10v1m1-43v1m0 25v1m0 10v1m0 1v1m1-40v1m0 17v2m0 8v1m1-10v1m0 2v1m0 2v1m0 2v1m0 7v1m0 1v1m0 2v2m1-46v1m0 27v1m0 2v2m0 9v1m1-41v1m0 2v1m0 1v1m0 28v1m2-33v1m0 27v1m0 4v1m1-34v2m0 2v1m0 25v2m0 9v1m1-19v1m0 6v1m1-31v1m0 6v1m0 27v2m0 2v1m1-37v1m0 4v1m0 22v1m0 6v2m1-12v2m0 2v2m1-2v2m0 1v1m0 2v3m1-33v1m0 26v3m1-6v1m0 6v1m1-8v1m0 1v1m1-32v1m0 31v1m0 1v4m1-10v1m0 3v1m0 4v1m1-38v2m0 3v1m0 4v1m0 18v1m1-30v1m0 36v1m1-32v1m0 15v1m0 4v1m0 3v1m1-29v1m0 9v1m0 11v2m0 1v2m0 8v1m1-31v1m0 18v1m0 6v2m0 2v1m1-27v1m0 19v1m0 4v1m1-29v1m1-10v1m0 11v1m0 19v1m0 1v1m2-3v4m0 1v1m1-31v1m1-3v1m0 1v1m0 2v1m0 18v1m0 3v1m0 2v2m1-36v2m0 3v2m1 18v1m1-23v1m0 31v1m1-35v1m0 21v1m0 3v1m0 2v2m0 1v1m0 1v1m1-35v1m1 33v2m1-7v1m1-28v1m0 19v1m0 6v1m1 1v5m1-33v3m0 25v1m0 2v2m1-19v2m0 2v1m0 9v1m1-16v3m0 8v1m1-8v1m0 1v1m0 1v1m0 7v1m2-33v1m0 3v1m1-4v2m0 20v1m1-2v1m0 1v1m1-25v1m0 2v1m0 1v2m0 20v1m1-27v1m0 2v1m0 28v1m1-34v1m0 19v1m1-6v1m0 2v2m0 4v1m1-24v1m0 20v2m0 2v2m1-27v1m0 20v2m0 6v1m0 4v1m1-32v1m0 16v1m0 8v2m1-32v1m0 21v3m0 9v1m1-20v1m0 12v1m2-27v2m0 15v1m0 7v1m0 3v1m1-16v1m2 0v1m0 6v1m1-7v1m1 1v1m0 2v1m0 5v1m0 2v2m1-18v1m0 3v1m0 10v1m0 1v2m1-19v1m1 8v1m0 6v1m1-33v1m0 20v1m0 1v1m0 4v1m0 3v1m1-32v1m0 14v1m0 1v1m1-15v1m0 24v1m1-28v1m1 12v1m0 1v3m0 1v1m0 12v1m1-34v3m0 28v2m1-14v1m0 14v1m1-9v1m1-29v1m0 22v2m0 5v1m0 1v1m0 2v1m1-33v1m0 1v1m0 10v2m0 1v1m0 2v1m0 10v2m1-13v1m0 11v1m1-8v1m0 2v2m1-15v2m1-13v1m0 10v1m0 7v1m0 3v1m0 2v1m1 0v1m2-12v1m0 1v1m1-25v1m1 1v1m6-2v1m3 26v1m1-7v1m5-17v1m0 1v1m0 4v1m0 17v1m1-26v1m0 3v1m1-5v1m0 6v1m1-11v1m0 1v1m0 17v1m1-2v1m0 3v2m3-18v1m1 4v1m1-12v1m1 1v1m0 5v1m1 1v1m0 7v1m0 8v2m1-32v1m0 2v1m0 5v2m0 11v1m0 6v2m1-20v1m0 3v1m1 0v1m1-5v2m0 20v1m1-28v1m0 8v1m1-10v2m1-4v1m1 4v1m1 2v1m2-4v1m1-3v1m0 8v1m0 10v1m0 1v1m1-20v1m0 2v1m0 4v1m0 5v1m1-1v1m0 1v2m1-12v2m0 4v1m1-9v1m0 13v1m0 1v1m1-12v1m2-7v1m4 4v1m3-3v1m1 1v1m5-3v1m1 2v1m1-18v1m2-1v3m0 1v1m1-8v1m0 1v2m2-5v1m0 1v1m2-8v2m0 5v1m0 3v2m1-8v1m1-4v1m0 4v1m1-7v1m0 2v1m0 2v1m1-10v1"/>
<path stroke="#ffe700" d="M189.5 243v1m8 2v1m2 1v1m1-2v1m8 2v1m2-1v1m1 0v1m1-1v1m4 0v1m2-1v1m2 3v1m3-4v1m1-1v1m1 1v1m1-2v1m2 0v1m2-1v1m3 1v1m5-2v1m1 0v1m1-1v1m2-1v1m4-2v1m1-1v1m1-2v1m1 5v1m10-6v1m3-3v1m153-6v1m3 4v1m1 2v1m4-9v1m9 4v1m7-6v1m7-5v1m2 6v1m14-3v1m0 3v1m2 1v1m1-12v1m0 4v1m0 1v1m2-10v1m0 5v1m1-8v1m0 5v1m1-8v1m0 15v1m1-17v1m0 19v1m1 6v1m1-30v1m0 1v1m0 1v1m0 2v1m2-4v1m1 5v1m0 18v1m1-18v2m0 2v2m1-8v1m0 1v1m2-3v1m0 3v1m1 3v1m1-10v1m1-10v1m0 6v1m0 12v2m0 4v1m3-30v1m0 24v2m1-14v1m0 9v1m0 2v2m0 2v1m1-32v1m0 8v1m0 16v1m0 1v1m4-22v1m0 1v1m0 1v1m1-1v1m0 11v2m1-11v1m1-15v1m1 11v1m0 17v1m1-34v1m0 11v1m0 18v1m1-22v1m0 1v1m1-12v1m0 10v2m0 1v1m0 4v1m1-21v1m0 17v1m0 3v1m1 10v1m1-34v1m0 7v1m0 2v1m0 3v1m0 4v1m0 2v1m0 4v1m0 1v2m0 2v2m1-35v1m1-4v1m1 11v1m0 2v1m0 3v2m0 1v1m1-19v1m0 11v1m1-18v1m0 33v1m1-35v1m1 17v1m1-19v1m1 19v1m0 12v1m1-32v1m0 28v1m0 1v1m2-33v1m0 12v1m1-13v1m0 30v1m1-33v2m0 19v2m0 8v1m0 1v1m0 1v1m1-10v1m1-27v1m0 14v1m0 2v1m0 12v1m0 3v2m2-17v1m0 4v3m0 10v1m2-18v1m0 8v2m0 3v2m0 1v1m1-14v2m0 1v1m0 3v1m1-32v1m0 13v1m0 7v2m1-26v1m0 19v1m0 8v1m1-30v1m0 26v1m0 5v1m0 5v1m1-25v1m1 4v1m1-21v1m0 16v1m0 17v1m2-20v2m0 3v1m0 4v1m1-13v1m1-12v1m1-3v2m0 7v1m1-8v1m1-4v1m0 1v2m1-4v2m0 9v1m0 13v1m0 11v1m1-15v2m0 3v1m0 1v1m1-32v1m0 10v2m0 23v2m2-1v2m1-39v1m0 4v1m0 21v1m2-27v1m0 26v1m0 10v1m1-24v2m1-12v1m1-7v1m0 14v1m0 11v1m0 4v1m1-30v1m0 14v1m0 9v1m0 9v1m0 1v1m1-26v1m1-13v1m0 18v1m1-2v1m0 6v1m0 4v1m3-29v1m0 4v1m0 13v1m0 1v1m0 1v1m0 7v2m1-14v4m0 1v1m0 1v2m0 1v3m1-8v1m0 4v1m1-6v1m0 10v1m1-4v2m1-28v1m0 25v1m0 1v2m1-33v1m0 20v1m1-23v1m0 25v1m0 1v1m1-27v1m0 18v2m0 1v1m0 1v1m2-25v1m0 19v1m0 1v1m0 1v2m0 1v2m1-29v1m0 22v1m1-21v1m0 13v1m1 3v1m1 0v1m0 3v4m1-31v2m1 2v1m0 16v1m0 1v2m1-23v1m0 1v2m1-3v1m0 21v1m1-26v1m1 25v1m0 1v2m1-27v1m1-3v1m0 18v1m1-21v1m1 2v1m0 18v1m1 6v1m0 2v1m1-5v1m1-5v2m1-6v1m1 3v4m1-7v1m0 7v1m1-18v1m0 3v1m1-17v1m1 12v1m0 9v1m0 2v3m1-30v2m0 1v1m0 13v1m0 6v1m0 4v1m1 1v1m1-14v2m0 8v1m1-10v1m0 1v1m0 11v1m1-35v2m0 1v1m0 17v1m0 6v3m0 1v1m1-32v2m0 1v1m0 10v1m0 15v1m0 1v1m1-33v1m0 14v1m0 1v1m1-19v1m0 18v1m0 1v2m1-24v1m0 32v3m1-34v1m0 22v1m0 8v1m1-33v1m0 23v1m1-25v1m1 2v1m0 23v2m1-26v1m0 14v1m0 2v1m0 9v2m1-17v1m0 14v1m1-9v1m2-24v2m0 22v1m0 1v2m1-30v3m0 14v1m1-13v1m0 8v3m0 5v1m1-20v1m0 13v1m1-19v1m0 32v1m0 2v1m1-34v1m0 27v2m1-3v2m0 2v3m1-19v1m1 2v2m1-8v1m1-13v2m0 10v1m0 16v3m1-30v2m0 17v2m0 1v1m0 4v1m1-13v1m0 1v2m1-9v1m0 2v2m0 7v1m0 1v2m1-29v1m0 19v1m1-21v1m0 11v2m0 4v1m1-1v1m0 2v1m0 4v1m1-12v1m0 15v1m1-28v1m0 12v1m0 1v1m1-18v1m0 21v1m0 6v1m1-4v1m22-9v1m1 0v3m1-5v1m4-5v1m0 4v1m1-3v1m2-5v1m0 5v1m1-6v1m7 4v1m3-4v1m0 3v1m0 4v1m0 1v1m2-6v1m0 1v1m1-8v1m1 8v1m0 1v1m3-6v1m2-2v1"/>
<path stroke="#ffcf00" d="M51.5 243v2m4-12v1m1 1v3m2-8v1m9 7v1m5-8v2m0 1v5m1-1v4m0 1v1m5-9v4m2 2v1m110-1v1m2 2v1m6 3v1m3-1v1m1 3v1m1-3v1m1-1v1m1-1v1m1-1v1m1-2v1m6-1v1m1 0v1m1 0v1m2-1v1m2 2v1m2-1v1m1-1v1m5 0v1m2 2v1m2-3v1m1-1v1m2 1v1m1 0v1m1-4v1m5 1v1m2-3v1m1 1v1m1-1v1m5-2v1m1 0v1m1 0v1m1-2v1m1-1v1m1-3v1m1 0v1m1 0v1m1 2v1m2-7v1m1-2v1m37-15v7m1-11v1m0 1v3m0 1v3m1-10v1m0 5v2m1-1v1m1-10v3m0 2v1m1-5v2m0 1v2m0 2v1m1-7v1m0 6v1m1-9v1m0 6v2m0 1v1m1-9v1m0 7v1m1-8v2m0 6v1m1-5v1m0 2v1m5-5v1m0 4v1m1-9v2m1-1v1m0 1v3m1-3v3m1-8v3m0 3v1m0 2v1m1-3v1m0 1v1m1-8v1m0 5v2m1-8v1m0 3v1m0 1v3m0 1v1m93 4v1m12-2v1m1-2v1m9 2v1m4 0v1m12-9v1m1-3v1m5 2v1m0 2v1m1 0v1m2-6v1m0 4v1m2 4v2m2-4v2m6-8v1m0 9v1m0 1v1m4-2v2m1-20v1m0 1v1m1 6v1m0 2v1m1-4v1m2-3v1m1 9v1m1-12v1m1 13v1m1 5v2m1-24v1m2-10v1m0 10v1m0 17v1m0 1v2m2-1v1m1-24v1m0 7v2m0 3v2m1-14v1m0 13v1m0 1v1m1-28v1m0 9v1m1-13v1m0 10v1m0 11v2m1-8v1m1-9v1m1-8v1m0 8v1m0 3v1m0 3v1m0 3v1m1-24v1m1-2v1m0 10v1m1 2v1m1-12v1m0 8v1m0 1v1m0 1v2m0 1v1m1 14v1m1-23v1m0 1v1m0 17v1m2-3v4m0 1v2m1-26v1m0 2v1m1-3v2m1-16v1m1 8v1m1 5v1m0 18v1m1-22v1m1-12v1m0 30v2m1-4v1m1-19v2m2 4v1m0 15v1m1-38v2m0 17v1m0 1v2m0 3v1m0 4v2m1-15v2m1-17v1m0 12v1m0 17v2m0 3v1m1-25v1m1-13v1m0 10v1m0 10v2m1-16v1m0 15v1m1-25v1m0 20v1m0 5v1m0 3v3m1-18v1m0 6v1m0 8v1m1-8v2m1-10v1m0 10v2m1-31v1m0 14v1m0 4v1m0 10v1m1-19v1m0 13v1m2-27v1m0 19v2m0 8v2m0 4v2m1-38v1m1 11v1m0 8v2m1-12v1m2-11v1m1 10v1m1-14v1m0 9v1m1 0v1m1-12v1m0 1v1m0 8v1m0 12v1m0 3v1m1-28v1m0 30v1m1-34v1m0 8v1m0 10v2m1-18v1m0 7v1m0 1v2m0 22v1m1-22v2m0 2v1m0 3v1m1 2v1m1-28v2m0 15v1m1-14v1m1 8v1m1 12v2m0 1v1m0 1v1m0 4v1m1-35v2m0 1v1m0 8v1m0 2v3m0 2v2m1-22v1m0 1v1m1-3v1m1 15v1m0 8v1m0 1v1m1-11v1m1-1v1m0 9v1m0 1v3m0 4v1m1-30v1m0 13v1m0 4v1m0 2v1m1-26v1m0 19v1m1 4v1m1 2v1m1-12v1m1-16v1m0 1v2m0 18v1m1-6v2m0 1v1m1-2v3m1-5v1m0 4v1m1-20v1m0 16v1m1 1v1m0 2v1m0 2v1m1-32v1m0 2v1m0 14v1m0 2v1m0 1v2m1 1v2m0 1v3m1-8v2m1-21v1m1-3v1m0 1v1m0 21v1m1-8v2m0 1v1m0 2v1m1-23v1m1 0v3m0 25v1m1-12v2m0 1v2m0 1v1m0 2v2m1-12v1m0 1v1m0 9v1m2-33v1m0 1v1m1-2v1m0 20v1m1-23v1m0 1v1m0 15v1m0 2v1m0 6v1m1-1v1m0 2v1m1-7v3m1-5v1m1-3v2m2-24v1m0 3v1m1 9v1m1-2v1m1-14v1m0 24v2m0 4v1m1-30v1m0 15v1m0 1v1m0 4v2m1-24v1m0 16v1m0 9v1m0 1v1m1-13v1m0 8v1m1-7v2m0 6v1m2-28v1m0 20v1m0 2v2m0 3v1m1-33v1m0 12v1m0 1v1m0 2v1m0 1v1m1-3v1m1-20v1m0 28v2m1-30v3m0 18v1m0 6v1m0 1v1m1-31v1m0 1v1m0 16v2m0 3v1m1-27v1m0 23v1m0 9v1m2-17v1m0 1v2m1-7v2m0 10v3m0 3v2m2-37v1m0 21v1m1-6v1m0 1v1m0 8v1m2-7v1m1-18v1m0 14v1m0 1v1m1-22v1m0 12v1m0 1v1m0 17v1m1-21v1m0 12v1m1-26v1m0 17v1m0 4v2m1-11v1m0 12v1m1-7v1m0 3v1m0 1v1m2-29v1m0 21v2m0 6v1m1-17v3m0 1v2m0 2v1m0 4v1m0 1v2m1-25v1m0 11v1m1-14v1m0 7v1m0 1v2m0 2v1m0 10v1m1-29v1m0 32v1m1-16v1m1-6v1m0 16v1m1-18v1m0 19v1m1-22v1m0 6v2m0 4v1m1-1v1m1-12v1m0 7v2m2-2v1m18-8v1m6-2v1m5 3v1m3-2v1m1-1v1m4-3v1m1-1v1m2 8v1"/>
<path stroke="#ffb700" d="M191.5 243v1m3 2v1m26 8v1m200-4v1m4-2v1m4 1v1m2-6v1m0 4v1m2-6v1m1 4v1m1-1v1m1-6v1m19-3v1m0 3v1m8-2v1m0 5v1m1-6v1m3-7v1m0 5v1m3-3v1m1 10v1m2-15v1m2 0v1m1-5v1m0 5v1m1-9v1m1 0v1m1 4v1m2 17v1m5-28v1m1 8v1m0 1v1m1-13v1m1 11v1m1 3v1m0 2v1m1 5v1m1-26v1m1-3v1m0 8v1m1 2v1m0 1v1m1-15v1m1 2v1m0 11v1m0 3v2m0 12v2m2-36v1m0 7v1m1-8v1m0 7v2m1-1v1m0 3v1m0 4v1m1-22v1m0 9v1m0 2v1m0 2v1m0 19v2m1-24v1m2-7v1m0 26v1m1-38v1m1 13v1m3 0v1m0 18v1m1-34v2m1 13v4m0 1v1m0 8v1m1-28v1m0 11v4m0 17v1m1-34v1m1-2v1m0 10v1m1 5v1m0 15v1m1-33v1m0 15v1m0 4v1m0 12v1m1-36v1m0 16v1m0 3v1m0 2v1m1-24v1m1-5v1m2 2v1m1 10v1m0 16v1m1-30v1m0 14v2m0 6v1m0 10v1m2-34v1m0 15v1m0 15v1m0 4v1m1-23v2m0 1v1m0 2v3m0 5v1m0 6v1m1-17v1m0 3v2m0 1v1m1-11v1m1-19v1m0 16v1m0 1v1m0 13v1m1-34v1m3 2v1m0 6v1m1-7v1m1-2v1m0 8v1m1-10v1m2 21v1m2-23v1m1 8v1m0 4v2m0 1v1m0 2v1m0 1v2m0 11v1m1-26v3m0 2v1m0 2v3m1-26v1m0 18v4m1-19v1m0 2v1m0 10v1m0 1v1m0 3v1m3-11v1m0 1v1m0 13v1m1-29v1m0 3v1m0 10v1m1-13v1m1-1v2m3 25v1m0 4v1m0 1v1m1-27v1m0 13v1m0 1v1m0 1v1m1-23v1m0 13v1m1-17v1m0 27v2m0 1v1m1-30v1m0 18v1m1-21v2m0 29v1m1-26v1m0 18v2m0 1v1m2-29v1m0 18v2m0 3v1m1-7v1m1 2v1m1-17v1m0 14v1m2-4v1m0 6v1m0 6v1m1-17v1m0 9v3m1-6v1m0 1v2m1-4v4m0 1v1m2-22v1m0 23v1m1-12v1m0 4v1m1-23v1m0 20v1m0 2v1m0 2v1m0 2v1m1-27v1m0 14v1m1-18v1m1 14v1m2-16v1m0 15v1m1-22v1m0 2v1m0 22v2m0 3v1m1-13v1m0 1v1m0 2v1m2-24v1m0 17v1m0 4v1m1-1v1m1-26v1m0 21v1m1-24v1m3 17v1m0 2v1m0 7v2m0 1v1m0 2v1m1-16v1m0 2v1m0 2v1m0 3v1m1-12v1m0 12v4m1-16v1m0 6v2m0 3v1m1-1v1m0 1v1m1-18v1m0 10v2m1-29v1m0 2v1m0 10v1m0 6v1m1-21v2m1 17v1m1-2v2m0 10v1m1-13v1m0 3v2m0 2v1m1-11v2m0 1v1m1-8v1m1-9v1m0 11v1m0 13v1m0 2v1m1-32v1m0 27v1m1-28v1m0 7v2m0 2v1m0 2v1m0 2v1m1-24v2m0 1v2m0 1v1m0 11v3m0 1v3m1-25v1m0 24v1m1-27v1m0 3v1m2-3v2m0 15v1m1-5v1m1-3v1m0 14v1m0 1v1m1-10v1m0 5v1m0 4v1m1-30v1m1 10v1m0 13v1m1-15v1m1-13v1m0 2v1m0 8v1m0 11v3m1-11v1m0 2v2m0 6v1m1-26v3m0 17v2m0 5v1m1-11v3m0 2v1m0 5v2m1-30v2m0 15v1m1-9v1m1 1v1m0 13v2m2-24v1m0 12v1m0 3v4m1-12v1m0 10v1m1-12v1m0 10v1m0 1v1m21-12v1m5 2v1m1-5v1m5 3v1m4-5v1m5 5v1m2-3v1"/>
<path stroke="#ffa400" d="M193.5 244v1m2 4v1m1-5v1m221 1v1m4 1v1m2 5v1m4-6v1m18-4v1m17-1v1m3 3v1m3-9v1m2-2v1m0 4v1m3-3v1m3-5v1m0 7v1m1-3v1m1-7v1m2 19v3m1-18v1m1-7v1m0 23v1m3-15v2m1-15v1m2-5v1m1 0v1m0 21v1m1-24v1m0 11v1m1-9v1m1 4v1m0 2v1m3-4v1m0 8v1m0 3v1m1-13v1m1-4v1m2-1v1m0 4v1m0 7v1m1-20v2m0 6v1m0 2v2m0 1v2m0 4v1m0 9v1m1-14v1m3-22v1m0 10v1m1 0v1m1-12v1m0 11v2m1-15v1m1 12v1m2 0v1m0 10v2m0 1v1m1 7v2m1-27v2m1-11v1m1 0v1m1 21v2m0 1v1m1-16v1m0 1v1m1-3v1m1-14v1m1 1v1m0 18v1m2-19v1m0 7v1m1-11v2m0 35v1m1-37v1m0 10v2m1-15v1m0 31v1m1-8v1m0 1v1m0 1v1m1-31v1m0 22v2m1-7v1m1-5v1m0 4v1m0 17v1m2-35v1m3 2v1m3-4v2m0 5v1m1-9v1m0 8v1m1-9v1m1-5v1m0 1v2m1 8v1m0 4v1m0 5v2m0 1v1m1-21v1m0 7v1m0 6v1m1-21v1m0 24v2m1-7v1m0 4v2m3-27v1m0 2v1m1 3v1m0 4v2m1-7v1m1 12v1m1-17v1m0 24v1m2-27v1m0 31v1m0 1v1m1-27v1m0 10v1m2-18v1m0 1v2m0 16v1m0 10v1m0 1v1m3-10v1m2-22v1m0 15v2m1-17v1m1 17v1m1-19v2m0 2v1m0 12v1m1-17v1m0 14v1m1 8v1m2-27v1m0 1v1m1 26v2m2-3v1m1-14v2m0 2v2m1 6v1m6-29v2m0 22v1m0 2v1m1-9v1m0 2v1m1-24v1m1 4v1m1 14v1m0 1v1m1-18v1m0 14v1m1-22v1m0 1v1m0 10v1m1-11v1m0 8v2m1-12v1m1 13v1m0 6v2m0 7v2m1-16v1m0 1v1m0 2v2m0 3v1m2-29v1m0 16v1m0 10v1m0 1v1m0 2v1m1-18v2m0 16v1m1-21v1m0 5v1m0 4v1m3-10v4m2 8v1m1-13v1m3-12v1m0 8v1m1 2v2m0 2v1m0 1v1m1-20v1m0 1v1m1-9v1m0 1v1m2 4v1m0 5v1m1 2v1m1-15v1m0 10v1m0 21v1m1-7v1m1-11v1m0 8v1m1 7v1m1-13v2m2-1v1m0 3v1m2-27v1m0 22v1m0 1v1m0 1v1m1-7v2m0 8v1m1-29v1m0 9v3m2 0v1m0 11v2m1-18v1m1-2v1m1-7v1m1 6v1m0 2v4m0 1v2m0 3v1m24-12v1m1 3v1m3-1v1m2-1v1m3-1v1m10 3v1"/>
<path stroke="#ff9100" d="M51.5 235v2m0 8v2m1-13v3m0 1v2m1-2v6m1-10v1m0 10v2m1-8v1m0 2v1m2-8v2m0 8v2m1-10v2m0 4v1m1-8v2m0 1v4m1 1v2m1-14v2m2-2v4m0 1v2m0 3v2m1 0v1m1 0v1m2-4v1m1-9v1m1-3v1m0 2v3m0 10v1m1-13v6m0 1v2m1-13v2m0 7v1m0 4v1m0 1v1m1-5v1m1-13v1m0 23v2m1-26v1m0 12v1m1-11v1m0 1v5m0 2v1m2-14v4m2 5v2m1 1v1m2 8v2m12-26v2m1-1v1m1-2v1m1 0v2m2 4v1m6-6v1m0 4v3m0 2v2m1-10v2m0 8v2m1-6v1m0 2v3m1-9v1m1 7v3m0 1v1m34-36v1m2 0v1m3-5v1m1 3v1m0 13v1m4 3v1m5-17v2m4-5v2m0 23v1m5 2v1m1-1v1m3-1v1m3-1v1m2 1v1m1-1v1m4 0v1m2-1v1m7-4v1m3 2v1m1 1v1m2-2v1m1 0v1m1 0v1m2-2v1m6 2v1m5 0v1m4-1v1m2-1v1m3 3v1m8-1v1m3 0v1m4 2v1m1-4v1m1-2v1m1 0v1m4 0v1m2 0v1m3-3v1m2 4v1m1-18v1m1 13v1m1-18v1m1 3v1m1-3v1m0 3v1m1-5v1m1 13v1m1-16v1m1 18v1m1-18v1m1 10v1m1-11v1m1 8v1m2-17v1m11 1v1m2 1v1m1-4v2m1-4v1m2-2v1m6 4v1m8-3v1m1-1v1m86 2v1m3 3v1m2-10v3m0 7v2m1-11v3m0 3v6m1-17v1m0 15v2m1-17v1m1 6v2m0 1v1m2-4v2m4-5v2m0 6v3m2-2v2m1-1v1m2-13v2m1 5v2m5-6v1m0 1v2m3 4v1m9 3v1m5 7v1m12-6v1m4-3v1m9-6v1m0 4v1m14-6v1m0 7v1m3-10v1m2-3v1m1 0v1m2 0v1m7-7v1m0 8v1m1-2v1m0 12v2m2 1v2m1-29v1m0 8v1m5 0v3m1 9v1m3-23v1m1-1v1m0 9v1m0 1v1m2 2v1m3-10v1m1 0v1m1-11v1m0 10v1m0 6v2m1-19v1m0 5v1m0 8v1m4-8v1m5 1v1m0 7v1m1 16v1m2-28v1m1-10v1m0 13v2m1-3v2m1-5v1m0 6v3m0 1v1m2-25v1m0 1v1m1 20v1m1-21v1m0 5v1m1-7v1m0 1v3m1-4v1m0 31v2m2-35v2m1 24v1m1-5v1m1-13v3m1 20v1m1-34v1m1 9v1m1-10v1m3 6v2m2-8v1m1-2v1m1 4v1m1-7v1m1 1v1m0 2v1m0 8v1m0 2v1m1-9v1m1 4v1m0 4v2m0 3v1m1-12v1m0 4v2m0 1v1m1-11v1m1-2v1m1-13v2m0 9v1m1 1v1m1-9v1m2-5v1m2 16v1m2-11v1m0 11v1m1-13v1m2-1v1m0 13v1m1-17v2m1-1v1m3 17v1m5-13v1m1 13v1m0 6v1m2 2v2m1-15v1m0 3v2m1-4v1m2-5v3m3-20v1m0 1v1m1 2v1m0 18v1m1-3v1m1-22v2m1-1v3m1 16v1m0 1v1m4-12v2m1-10v1m0 16v1m1-18v1m0 20v2m0 2v1m1-27v1m1-3v1m0 15v1m1-13v1m1 10v1m0 4v1m2-10v1m2-9v1m0 12v1m1-5v3m0 1v1m1-5v2m0 3v1m2-6v1m0 1v1m1-13v1m1 0v1m0 14v1m1-14v2m0 6v1m1-13v1m0 1v1m0 3v4m0 1v1m1 0v1m3-6v1m2 5v1m1 11v1m0 1v1m0 1v2m2-32v1m1 25v1m1-18v2m1 2v2m0 8v1m0 1v1m1-22v1m0 4v1m1-1v1m2 3v2m1-16v2m2 9v2m1-11v1m0 8v1m0 7v1m22-6v1m1 0v1m6-3v1m1-2v1m4 2v1m3-2v1m1 2v1m6-1v1m3 2v1m0 2v1"/>
<path stroke="#ff7d00" d="M198.5 247v1m1-1v1m1-2v1m8 2v1m1-2v1m1 0v1m2 0v1m2-2v1m2 1v1m8 0v1m2 0v1m4 0v1m7-1v1m1 0v1m4 0v1m4-2v1m1-1v1m1-2v1m1 5v1m6-6v1m1 0v1m5-4v1m158-3v1m16 0v1m2-4v1m3 1v1m2-2v1m1-1v1m4 1v1m9-7v1m5-1v1m4 2v1m11-8v1m3-4v3m5-7v1m1 13v1m1-11v1m1 3v1m1-10v1m1 0v1m7-2v1m3 6v1m1-9v1m0 18v2m0 1v1m1-7v2m2-17v1m2 0v1m3-3v1m0 8v1m2-10v1m0 18v1m0 1v1m0 2v1m2-18v1m1-8v1m1 11v1m1 11v1m0 9v2m1-25v1m0 9v1m1-13v1m2-3v2m2-2v1m1-7v2m0 31v1m1-27v2m2-12v1m0 16v1m1-19v1m0 1v1m0 9v1m1-9v1m0 10v1m1-14v1m9 1v1m0 4v1m3-2v1m2-9v3m0 12v1m0 7v1m1-10v1m1-10v1m2-3v1m1 3v1m1 4v1m1-8v1m0 12v1m1-17v1m0 14v1m2-14v1m1 15v1m0 9v1m1-22v1m0 9v1m1 18v1m1-31v1m1 0v1m0 11v1m0 16v1m1-6v1m3-25v1m0 13v1m2-14v1m0 13v1m1 0v1m2-17v3m1-6v1m0 20v1m1-17v1m0 1v1m0 21v1m0 2v1m1-15v1m1 9v1m2-10v1m1-1v1m2-2v1m1-17v1m0 18v1m1-17v1m0 11v1m1 1v2m1-15v1m0 9v2m0 6v1m1-3v1m2-6v2m1-1v1m1-20v1m0 10v1m1-9v1m0 6v1m4 4v2m1 11v1m2-11v1m0 1v1m3-20v1m2 2v1m1-4v1m2 12v1m1-10v1m0 2v2m0 2v1m2-13v1m0 12v1m0 1v1m1-13v1m0 8v1m2-8v1m2-6v1m2-1v2m0 12v1m1-3v1m0 15v1m0 1v1m1-21v1m0 12v1m2-21v1m0 6v1m1-7v1m1 0v1m0 7v1m1-10v1m1 11v2m1-15v1m1-1v1m0 7v1m1-9v1m3-1v1m21 14v1m10-5v1m9 4v1"/>
<path stroke="#ff6800" d="M201.5 247v1m1 3v1m1-3v1m1-1v1m1-1v1m1-1v1m1-2v1m4 1v1m2-3v1m2 1v1m2-1v1m1 0v1m1 1v1m2-1v1m1-1v1m1-2v1m2 1v1m2-1v1m1-1v1m1 2v1m2-3v1m1-1v1m1 0v1m1 0v1m1 0v1m1-4v1m3 0v1m1-1v1m1 0v1m2-3v1m1 1v1m1-1v1m5-2v1m1 0v1m1 0v1m1-2v1m1-1v1m3-1v1m1 2v1m1-6v1m1-2v1m2-2v1m150-4v1m1-3v1m4 4v1m5-4v1m1-1v1m8 2v1m5-5v1m9 0v1m1-5v1m1 0v1m15 0v1m2 3v1m1-7v1m2 1v1m6-5v1m4-3v1m4-2v1m4-4v1m1 1v1m1-4v2m1 5v1m1-9v1m1-2v1m8 3v2m2-5v1m0 19v1m0 6v1m2-30v1m2-4v2m0 7v1m1-1v1m4-9v1m0 9v1m1-9v1m1 8v1m3-1v2m1-3v1m1-2v1m1-2v2m1-1v1m2-6v2m1-1v1m1 6v1m1-12v1m1 11v2m1-4v1m1-13v1m1 9v1m0 4v1m1-13v1m3 6v1m4-3v1m2-5v1m1-3v2m2 1v1m0 2v1m1 0v1m1 3v1m1-5v1m0 2v1m2-3v1m2-2v1m3-7v1m1-2v1m1-1v1m4 5v1m0 15v1m6-14v1m2-3v1m2 1v1m1-5v1m1 3v1m0 13v1m2 6v1m2-25v1m0 14v1m2-14v1m1-3v1m1-1v1m1 12v1m1-14v1m0 10v1m0 3v1m4-19v1m1 16v1m1-17v1m1 1v1m1-3v1m1 11v1m2-1v1m1-15v1m2 11v1m0 4v1m0 4v2m1-21v1m0 8v1m1-11v1m1 11v1m1 0v1m1 0v1m3-12v1m0 6v1m1-6v1m1 1v2m1-3v1m0 3v1m3-4v1m1-7v1m0 8v1m2-12v1m0 7v1m2-9v1m2 8v1m4 21v1m1-22v2m3-11v1m0 8v1m3-2v1m19 3v1m8 4v1m14-5v1"/>
<path stroke="#ff5300" d="M220.5 254v1m196-2v1m8 2v1m3-3v1m2-5v1m9-4v1m0 4v1m5-6v1m13 2v1m7-8v1m0 5v1m8-5v1m2-3v1m9 1v1m1-10v1m2 3v1m0 7v1m1-11v1m0 6v1m1-7v1m1-5v1m2-2v1m4 1v1m3-3v1m4-1v1m1 2v1m1 0v1m1-6v1m2-2v2m0 8v1m1-5v1m1 0v1m0 1v1m2 11v1m1-21v1m2 6v1m2-8v1m0 10v1m3-3v1m3-5v2m1 2v2m2-10v1m0 9v1m1-13v1m3 0v1m8 1v1m0 2v1m1-2v1m1-1v1m2-3v1m1-1v1m1 7v1m3-9v1m1 4v1m2 0v1m1 4v2m1-13v1m2-1v1m1 6v1m1 5v1m1-10v1m0 13v1m1-14v1m3-3v2m0 14v1m1-17v2m1 1v1m0 10v1m1 1v1m1-12v1m1-3v1m3 2v1m3-2v1m0 16v1m2-21v1m2 1v1m0 8v1m2 3v2m2-16v1m0 10v2m0 3v2m2-4v3m1-17v1m1-4v1m1 2v1m1-4v1m1 5v1m5-8v1m0 12v1m1-2v1m3-4v1m2 4v1m5-7v2m1-4v1m1 2v1m1-7v1m1-4v1m0 10v1m2-3v1m2-10v1m1 10v1m2-11v1m0 5v1m2-1v1m2-4v2m0 3v2m2-4v1m2 0v1m1-1v1m2-1v1m1-7v1m37 12v1m9 0v1m4 1v1"/>
<path stroke="#ff3d00" d="M414.5 252v1m15 1v1m4-3v1m6 0v1m1-7v1m15 2v1m3-4v1m5-6v1m11 2v1m1 1v1m7-7v1m2-6v2m1 1v1m0 6v1m5-3v1m1-7v1m2 5v1m7-5v1m0 17v4m1-26v1m0 1v1m3-5v1m2 6v1m2-2v1m2 1v1m1-2v2m4 0v1m2-5v1m2-1v1m1-7v3m2 0v1m0 4v1m2 1v1m2-11v1m4 7v1m3-6v1m3-1v1m1 1v1m2-5v1m0 2v1m3-5v1m1 2v1m0 2v1m5-3v1m0 2v1m3-7v1m0 13v1m2 0v1m2-10v1m0 11v1m3-10v1m0 13v1m1-5v1m2-14v1m1 11v2m3-9v1m0 6v1m2 3v1m1-2v1m2 5v2m1-20v1m2-1v1m0 10v1m5-4v1m1-1v1m1-14v1m0 14v1m1-3v1m0 1v1m1-19v1m0 1v1m0 1v1m1 11v2m1-14v1m2 6v1m2 4v1m3-4v1m1-9v1m3-4v1m7 4v1m2-1v1m1 4v1m3-12v2m2-1v1m5 6v1m1-2v1m1 0v1m2-1v1m27 8v1m1-1v1m2-5v1m1 2v1m4-5v1m2 1v1m3-1v1m1-1v1m0 1v1m5 1v1m3 1v1"/>
<path stroke="#ff2400" d="M413.5 251v1m18-4v1m5 4v1m5-7v1m10 2v1m1-6v1m8 4v1m3-7v1m1 6v1m2-3v1m2-3v1m9-2v1m6-10v1m2 9v1m2-6v1m1 0v1m2-8v1m1 4v1m1-6v1m4 5v1m2-8v1m2 26v1m1-26v1m8-5v1m0 7v1m5-8v1m1 6v1m1-10v1m0 7v1m2-1v1m1-8v1m0 1v1m3 2v1m1-5v1m4 5v1m5-7v1m0 4v1m1-2v1m1-5v2m1-2v1m2 1v1m1-1v1m1-2v2m3 5v1m2-1v1m1-3v1m1-7v1m1 3v1m2-3v1m1 9v1m2-11v1m1 11v1m1-2v1m1-7v1m14 1v2m1 14v1m5-20v1m1-1v1m0 13v1m1-13v1m0 8v1m1-10v1m0 6v1m2-11v3m0 10v1m0 1v1m2-3v1m2-13v1m0 4v1m2-8v2m1 8v1m4-2v1m2-9v1m2-2v1m0 8v1m1-8v1m0 8v1m3-11v1m2 1v1m2 2v2m3-3v1m1-5v1m1 3v1m2 3v1m1-11v1m4 2v1m1 3v2m1 22v1m5-24v1m37 5v1m3-3v1m5 6v1m1-4v1m1 1v1m1-1v1"/>
<path stroke="#ff0b00" d="M51.5 237v1m0 3v1m0 5v1m1-8v1m1-4v1m1-5v1m0 1v1m0 1v1m0 3v2m1-3v2m0 1v1m1-13v1m1-1v1m0 1v2m0 2v1m1-2v1m0 2v1m0 5v1m1-15v1m0 3v1m1-3v1m1 0v2m0 6v1m1-6v1m1 1v3m1 3v1m0 1v1m1-1v1m1-12v1m0 5v1m0 1v1m0 1v2m1-3v2m1-3v2m1-3v2m0 2v1m1-6v1m0 5v1m1-15v1m0 8v2m0 2v1m1 2v2m1-19v3m0 8v1m1-10v1m0 8v1m1-3v1m0 2v2m0 5v1m2-18v1m0 1v1m1 3v1m1-5v3m15-9v1m0 1v2m1-3v2m1 0v1m2-6v1m0 1v1m0 1v1m0 1v1m1-7v1m1 5v1m1-6v1m0 4v1m1-2v1m1-7v3m0 1v1m0 3v1m1-3v1m0 4v1m2-3v3m1-8v1m0 2v1m0 8v1m1-1v3m34-38v2m1-3v1m1 0v1m1-1v2m2-1v3m1-3v1m0 15v1m1-17v1m0 13v1m0 1v1m1-17v4m0 11v1m1 1v1m1-16v1m0 14v3m2 2v2m1 0v1m0 1v1m1-3v2m1-2v1m1-21v1m1 23v1m1-3v1m1-4v1m0 2v1m1-3v1m1 1v1m1-1v1m0 2v1m1-4v1m0 2v1m1 2v1m3-4v1m1-4v1m0 1v2m1-2v1m1-2v1m0 4v1m1-3v1m2 0v1m2-13v1m0 11v1m1 0v2m1-1v1m1 0v1m1-7v1m1 3v1m2-2v2m0 1v1m0 3v1m1-3v1m1-12v1m0 9v1m1-18v1m0 8v1m0 5v1m1-2v1m1-7v1m0 1v1m0 3v1m1-9v1m1 7v1m1 0v1m2-1v1m1 4v1m1-8v1m1-4v1m0 2v1m0 1v2m2-6v1m0 5v2m2-8v1m0 1v1m0 4v1m1-7v1m0 2v1m0 6v1m1-8v1m0 4v1m1-2v2m1-7v1m0 5v1m2-4v1m0 1v1m1-2v1m0 1v1m1-7v1m0 3v2m1 0v1m2-3v1m0 2v1m1-3v1m1 0v1m1-4v1m1-1v1m0 4v1m1-6v1m1 2v1m0 1v1m1-3v1m0 3v1m1-2v1m1-4v1m0 3v1m1-1v1m1-6v1m0 3v1m1-1v1m1 1v1m1-6v1m0 3v1m1 0v1m1-5v1m1-11v1m0 6v1m0 9v1m1-10v1m0 1v2m0 2v1m2 0v1m1-4v1m0 3v1m1-4v1m0 3v1m2-5v1m2-3v1m1 4v1m1-4v1m0 2v1m1 0v1m1-6v1m1 2v1m1-3v1m1 1v1m0 1v1m1-3v1m2-2v1m1-1v1m1-16v1m0 1v1m0 2v1m0 1v2m0 8v1m1-20v2m0 1v2m0 7v2m1-10v1m0 5v1m0 1v2m0 6v2m1-13v1m0 2v1m0 7v1m1-14v2m0 1v1m0 9v1m1-21v1m0 1v1m0 3v1m0 1v2m0 6v1m0 1v1m1-13v4m0 1v1m1-2v1m0 9v1m1-23v1m0 1v1m0 1v1m0 3v1m0 3v1m1-13v1m0 5v1m0 9v1m0 1v1m0 1v1m1-23v1m0 1v1m0 10v2m0 3v1m1-18v1m0 18v1m1-20v2m0 16v1m1-16v1m0 3v1m0 4v1m1-12v1m0 10v2m1-13v1m0 3v2m0 5v1m1-15v1m0 5v1m0 1v1m1-5v1m0 5v1m0 2v1m0 1v1m1-15v1m0 6v3m0 3v1m1-15v1m0 2v2m0 7v2m1-14v2m0 3v2m0 6v1m1-1v1m1-13v1m0 6v1m1-6v2m0 7v1m1-11v1m0 3v1m1-6v1m0 4v1m1-5v1m0 4v1m0 1v1m1-6v1m0 1v1m1 1v1m1-6v1m1-3v2m1 1v1m0 1v2m2-8v1m0 3v1m1-1v1m0 5v1m2-11v1m2 4v1m1-5v1m0 4v1m0 2v1m1-7v1m0 1v1m1-5v2m0 1v1m0 3v1m2-3v1m1-6v2m0 6v1m1-9v2m0 4v2m1-1v1m27 16v2m13-12v1m2-1v1m12 5v1m3-2v1m2-5v1m1 3v1m1-1v1m3-5v1m0 1v1m1-2v1m1 2v1m2-4v1m2 1v1m2-3v1m1 1v1m2-4v1m0 1v1m5-3v2m1-8v2m1-3v1m0 5v1m1-7v1m0 1v2m0 4v1m1-10v1m0 5v1m1-10v1m0 9v4m0 1v1m1-10v1m1-11v1m0 2v1m0 3v1m0 3v2m0 7v1m1-17v3m0 9v1m2-14v1m0 2v1m0 8v1m0 1v1m1-9v1m0 2v1m0 4v1m1-18v1m0 1v1m0 5v1m0 7v1m0 3v1m2-22v1m0 5v1m0 1v1m0 5v2m0 2v2m0 2v1m1-22v1m0 1v2m0 9v1m0 3v3m0 2v1m1-19v1m0 7v1m0 6v1m1-17v1m0 12v1m1-15v1m0 3v1m0 4v1m1-9v2m0 2v1m0 4v2m0 1v1m1-12v1m0 6v1m0 1v3m0 5v1m2-17v1m0 3v1m0 2v1m0 3v2m1-8v1m1-7v1m0 5v1m0 8v1m1-17v1m1 2v1m0 13v1m1-15v1m0 5v1m0 6v1m1-7v1m1-11v1m0 2v1m0 9v1m0 2v1m1-12v1m0 1v1m0 1v1m0 8v1m1-18v1m0 5v2m0 2v1m1-1v1m1-8v1m0 10v2m1-1v4m1-7v1m0 1v1m0 1v1m2-8v1m1-2v1m0 2v1m2-4v2m0 4v1m2-7v1m1 2v1m2-1v1m1-1v1m6-2v1m2 5v1m4-5v1m0 3v1m22-10v1m7-5v1m1-2v1m8-2v1m4-2v1m2-4v1m3-4v1m1 3v1m1 3v1m1-10v1m1 4v1m1 6v1m1-1v1m2-5v1m3 3v1m3-12v1m1-2v1m4 27v1m1-23v1m1-10v1m2 8v1m1-12v1m1 9v1m3-7v1m1 11v2m1-3v2m1-2v1m5-15v1m0 7v1m1-9v1m0 6v1m1-9v1m0 13v1m2-13v1m1-2v1m1-2v1m4 10v1m1-11v1m3 0v1m3-1v1m0 12v1m2-3v1m2-11v1m0 7v1m4-13v1m1 17v2m2-7v1m1-11v1m0 8v1m1-7v1m0 9v1m1-2v1m1 6v1m3-9v1m0 8v1m1-4v1m1-4v1m2 0v1m2-9v1m1 18v1m1-1v1m1-20v1m1 9v1m1 0v2m3-3v1m4 14v1m2-18v1m0 11v1m3-1v1m4-11v1m2-11v1m1 6v2m4 3v1m1-6v1m1 9v1m7-3v1m1-16v1m2 3v1m2 8v1m2-7v1m6-3v1m2 7v1m5-6v1m1-8v1m1 6v1m2 1v1m2-5v1m2-9v1m1 4v1m0 3v1m0 3v1m19-9v1m1-2v2m0 7v1m2-5v1m0 2v1m1 1v1m4-3v1m2 5v1m8-9v1m2 11v1m1-6v1m1-7v1m1 11v1m2-7v1m1-1v2m2 2v1m1-9v1m0 2v1m1 0v1m0 7v1"/>
<path stroke="#ee000f" d="M420.5 257v1m1-3v1m5-5v1m6 1v1m16-7v1m1 2v1m9-1v1m1-3v1m1-2v1m5-1v1m4-5v1m7 4v1m4-7v1m1 2v1m2-3v1m1-6v1m3 1v1m1-5v1m7 4v1m1-7v1m4 1v1m2-2v1m1-2v1m4-5v1m1 6v1m4-6v1m2 8v1m5-9v1m3 2v1m0 2v1m1-1v1m2 1v1m1-2v1m3-9v1m1-1v1m2 4v1m3-1v1m6-3v1m0 2v1m1 1v1m1-5v2m1-3v1m1 0v1m1-2v1m5-2v1m1 11v1m4-6v1m1-3v2m3-2v1m1 1v1m1 8v1m3-8v1m1-1v1m3 8v1m5-4v1m1-10v1m0 8v1m0 1v1m1-2v1m1-9v1m2 6v1m2-9v1m0 9v1m1-10v1m0 7v1m1-10v1m2 0v1m3-4v1m1-2v2m1 8v1m2-4v1m8-2v1m2-5v1m3 4v1m1-6v1m2-3v1m0 2v1m3-5v1m2 5v1m2-3v1m3-4v1m2 4v1m3-1v1m25 7v1m9-3v1m0 1v1m9-1v1"/>
<path stroke="#d10029" d="M122.5 96v2m1-3v3m1-4v1m0 1v1m1-3v2m1-3v2m1-3v3m1-3v2m4-8v2m0 5v2m1-10v2m0 1v1m0 3v2m0 1v2m1-12v4m0 4v2m1-13v1m0 2v2m0 1v1m0 2v2m0 2v3m1-17v3m0 2v1m0 3v3m1-13v4m0 1v2m0 3v2m1-12v4m0 1v3m1-8v3m0 1v2m0 1v2m0 5v2m1-15v1m0 2v2m0 11v1m0 1v2m1-26v2m0 4v2m1-2v1m0 1v1m0 11v4m0 4v3m0 1v1m0 1v1m1-29v1m17 9v2m1-4v6m1-5v4m255 154v1m11 1v1m5-3v1m20 0v1m10-2v1m1-3v1m0 3v1m1-3v1m2-2v1m1-4v1m8-2v1m1-1v1m11-7v1m9-3v1m0 3v1m6-3v1m5-1v1m2-3v1m0 1v3m3-6v1m4-1v1m6 0v1m1-1v1m0 6v1m3-4v1m1 2v1m4-8v1m1 1v1m9-4v1m0 5v1m2 0v1m1-3v1m3-1v1m2-4v1m1 10v1m1-3v1m1-2v1m0 2v1m1-7v1m4 2v1m5 8v1m1-12v1m4 11v1m2 2v1m1-7v1m4-10v1m0 6v1m0 1v1m1 0v2m1-4v1m1-8v1m4-2v1m2 1v1m1-5v1m1-1v1m1 5v2m1 1v1m5-10v1m1-3v1m0 6v1m4 1v1m1-2v1m5-6v1m2 0v1m3 0v1m2 2v1m3-5v2m1-1v1m3-1v1m4 0v1m2-4v1m20 11v1m7-4v1m23 6v1"/>
<path stroke="#c30037" d="M426.5 255v1m4-7v1m2-1v1m6-2v1m25-4v1m12 0v1m9-3v1m1-4v1m8 1v1m1-3v1m5-6v1m3-2v1m1 0v1m3 3v1m3-1v1m2-7v1m2 4v1m5-7v1m4 5v1m4-6v1m1 2v2m1-4v1m3 4v1m10-4v1m5 1v1m4-3v1m2 0v1m1 6v1m1-4v1m0 3v1m1-5v1m2-1v1m1 13v1m1-17v1m0 10v1m1-1v1m2-8v1m4 5v1m1 4v1m4-12v1m1-3v1m2 0v1m1 0v1m1-4v2m1 6v1m1-3v2m2-7v1m0 8v1m1-2v1m5-7v1m3 3v1m1-11v1m0 9v1m1-3v1m2-1v1m2-8v1m3-2v1m2 2v1m5-4v1m2 6v1m1-6v1m9 1v2m5-4v1m32 11v1m11-2v1"/>
<path stroke="#b50045" d="M429.5 253v1m6-3v1m12-1v1m17-3v1m3-5v1m2 1v1m9-6v1m4 1v1m6-7v1m1 5v1m3-8v1m12 1v1m4-6v1m1-1v1m1 1v1m13-1v1m4-1v1m1 3v1m13-3v1m3-2v1m0 2v1m2-4v1m4 7v1m1 0v1m1-8v1m1 6v1m3 7v1m3-14v1m1-1v1m1 9v1m1-6v1m3 4v1m3-8v1m2 11v1m4-8v1m1-7v1m3 0v1m1-1v1m0 4v1m3 0v1m2-10v1m0 1v1m6 3v1m1-7v1m4 4v1m2 0v1m3-4v1m9-7v1m1-1v1m0 6v1m1-1v1m2-3v1m1-5v1m29 12v1m8 0v1m1-2v1m9-3v1m2 0v1m1-1v1m3 2v1"/>
<path stroke="#a1005e" d="M438.5 251v1m4-3v1m2 0v1m2-1v1m2 0v1m5-6v1m7 2v1m4-3v1m2-3v1m1 0v1m1-1v1m2-3v1m5-1v1m5 0v1m1-4v1m1-1v1m1-4v4m1-4v1m2 2v1m0 1v1m9-7v1m1 2v1m18-7v1m9 1v1m0 1v1m1 1v1m1-1v1m3-1v1m2-2v1m4-3v1m1-2v1m9 0v1m5-2v1m2-2v1m1 4v1m2 1v1m1 7v1m3-7v1m0 9v1m4-11v1m0 4v1m1-5v1m1 4v1m1-2v1m7-8v1m0 8v1m1 0v1m2-9v1m2 2v1m6 0v2m2-10v1m3-1v1m1-1v1m3 3v1m4 2v1m2-3v1m7-2v1m2-6v1m1 0v1m3-3v1m1-1v1m1-3v1m5 2v1m2-2v1m40 11v1m9 1v1"/>
<path stroke="#8d0077" d="M52.5 242v1m2-5v2m1-4v1m0 1v1m1-7v1m0 8v1m1-12v1m0 1v1m0 5v2m0 1v1m1-10v1m0 2v1m1-2v1m2 4v3m1-10v1m3 2v1m1 5v1m1-2v1m0 2v1m1-8v8m1-11v2m0 5v2m1-11v1m1 3v2m0 2v1m1 0v1m0 1v1m2-6v2m1 4v1m1-10v3m0 1v1m1-3v1m0 1v2m20-6v2m4-7v1m0 1v4m1 0v1m1-2v2m1-8v1m0 1v1m0 2v1m0 1v1m2-2v2m0 4v1m2-4v1m0 2v1m0 2v1m0 3v1m1-9v4m15-148v1m1-3v1m9-2v1m1-12v1m0 11v1m1-7v1m2-4v1m0 3v1m1-3v1m1-5v1m0 4v1m0 10v1m2-17v1m0 23v1m1 103v2m1-2v2m1-1v2m1-3v3m2-2v2m0 11v2m1-15v2m0 12v1m1-2v1m1-14v2m0 12v2m1-1v1m1 1v3m1-1v2m1 1v1m0 1v1m1-4v2m1 1v2m1-2v3m1-23v1m0 19v3m1-5v3m1-2v2m1-142v1m0 140v2m1-4v3m1 1v2m1-2v2m1-3v6m1-5v3m1-3v3m1-5v4m1-4v1m0 1v1m1-1v1m0 1v1m1-2v4m1-6v4m1-4v4m1-3v4m1-3v4m1-4v3m1-2v3m1-3v4m1-3v4m1-5v4m1-5v4m1-4v5m1 0v1m0 1v3m1-7v5m1-6v5m1-7v5m1-6v5m1-5v1m0 1v3m1-7v5m1-3v5m1-4v5m1-5v5m1-3v3m0 1v1m1-5v8m1-9v2m0 1v2m1-5v2m0 1v1m1-3v6m1-6v5m1-6v6m1-5v1m0 1v4m1-5v2m0 1v6m1-8v1m0 1v4m1-5v4m1-4v5m1-5v5m1-5v2m0 1v1m1-4v3m0 1v1m1-5v3m1-2v4m1-3v4m1-4v1m0 1v2m1-6v4m1-2v3m1-2v3m1-3v4m1-4v3m1-2v1m0 1v1m1-1v3m1-2v1m0 1v1m1-4v3m1-3v3m1-4v3m1-3v3m1-1v3m1-4v3m1-2v3m1-3v3m1-2v5m1-5v2m1-2v3m1-3v3m1-2v3m1-2v3m1-2v3m1-6v1m0 1v1m1-4v3m1-2v3m1-2v3m1-2v2m1-2v3m1-4v3m1-4v3m1-1v3m1-3v1m0 1v1m1-5v3m1-3v3m1-4v3m1-1v1m0 1v5m1-15v1m0 3v1m0 3v3m1-2v3m1-14v4m0 8v2m1-17v3m0 4v1m0 6v3m1-18v3m0 9v6m1-16v1m0 10v1m0 1v1m1-17v5m0 10v3m1-14v3m0 9v3m1-19v1m0 1v3m0 10v7m1-22v3m0 3v2m0 6v1m0 1v1m1-18v7m0 8v2m1-18v2m0 1v2m0 4v1m0 4v3m1-17v10m0 4v2m1-14v3m1-5v1m0 2v1m0 1v1m1-6v3m0 2v3m1-9v3m0 1v1m0 1v5m1-2v1m1-10v5m0 3v1m1-7v6m1-9v3m0 2v3m1-8v9m1-9v4m0 3v1m1-8v1m0 2v5m1-7v3m0 1v3m1-8v1m0 1v2m0 3v1m1-7v1m0 1v2m1-5v2m2 1v4m1-6v1m0 4v1m1-1v1m1-4v2m1-2v4m1-4v4m1-6v2m0 3v1m1-6v1m0 1v4m2-2v1m1-1v1m1-4v1m0 1v2m1-5v1m1-1v3m0 1v1m1-4v2m1-3v1m1-1v3m81 7v3m0 2v3m1-9v9m1-5v4m1-7v3m1-1v5m1-17v2m0 1v1m0 4v4m0 4v1m1-16v2m0 6v10m1-16v2m0 1v3m0 4v5m1-20v1m0 1v2m0 3v3m0 7v5m1-6v7m1-21v1m0 1v2m0 1v1m0 1v1m1 8v4m1-5v3m0 2v1m1-21v2m0 14v5m1-15v1m0 13v1m1-11v1m0 1v1m1-9v2m0 3v1m0 1v3m0 1v2m0 3v1m1-8v1m0 1v6m1-16v4m0 5v7m1-18v2m0 4v1m0 2v1m0 1v2m0 1v4m1-7v5m0 1v1m1-7v6m1-16v1m0 3v2m0 6v4m1-17v5m0 7v4m1-16v5m0 1v1m0 6v1m1-17v1m0 1v1m0 7v9m1-14v13m1-15v1m0 7v3m0 4v2m1-14v5m0 2v3m1-13v1m0 14v2m1-9v8m1-16v2m0 6v1m0 2v6m1-6v6m1-16v1m0 1v1m0 2v1m0 8v2m1-15v6m0 4v2m1-12v4m0 6v1m0 1v1m0 1v2m3-10v1m0 5v1m2 0v1m1-8v2m0 5v1m1-8v1m0 4v1m1-7v3m0 9v1m4-6v1m0 2v1m2-3v1m4-2v1m2-3v1m4-1v1m6-1v1m5-3v1m15 0v1m18-7v1m0 3v1m6-2v1m5-9v1m9 1v1m6-1v1m3-5v1m4 2v1m2 2v1m2-9v1m0 5v1m7-2v1m5 0v1m1-1v1m2-6v1m3 2v1m1-3v1m7-1v2m0 2v1m2-1v1m1-2v1m4 5v1m3-5v1m2 3v2m2-3v1m2 9v1m3-11v1m1 5v1m1 2v1m1-3v1m2-6v2m2 6v1m8-10v1m0 5v1m1-6v1m1-1v1m1-1v1m1-3v1m1 5v1m5-9v3m1-3v1m4 3v1m1-2v1m8-3v1m12 0v1m2-4v1m7 3v1m35 7v1m15 4v1m1 0v1m2-3v1"/>
<path stroke="#800080" d="M412.5 251v2m1-4v2m1-3v3m1-1v2m1-1v1m1-3v3m1-1v3m1-2v4m1-2v3m1-7v5m1-4v4m1-3v2m1-2v4m1-3v4m1-5v3m1-4v3m1-3v2m1-1v1m1-3v2m1-2v3m1-3v3m1-4v3m1-3v3m1-2v1m1-1v3m1-3v2m1-3v2m1-1v3m1-5v3m1-3v1m1-1v1m1-1v2m1-2v2m1-2v2m1-2v2m1-2v3m1-3v3m1-3v2m1-4v4m1-3v3m1-4v3m1-2v2m1-2v3m1-3v3m1-3v3m1-2v2m1-2v2m1-1v1m1-2v1m1-2v1m2-2v2m1 0v1m2-3v3m2-4v1m1-2v3m1-2v2m4-3v1m1 0v1m1-2v4m1-4v2m1-3v3m1-3v3m1-3v2m1-2v2m1-2v1m2-4v4m1-2v3m1-2v1m2-5v4m1-5v6m1-6v6m1-5v2m1-3v3m1-5v7m1-6v4m1-2v2m1-5v5m1-5v3m1-3v3m1-2v2m1-1v2m4-4v3m1-3v3m1-4v5m1-8v6m1-2v1m1-2v5m2-5v4m1-5v4m1-3v4m1-3v5m1-7v7m1-7v5m1-4v4m1-5v6m1-4v2m5-2v5m1-8v8m1-6v6m2-5v3m1-5v5m1-5v6m1-5v5m1-4v2m2-2v1m1-1v1m7 0v2m4-1v1m3-1v6m1-6v7m1-8v9m1-4v3m3-2v8m1-7v10m1-11v8m1-5v7m0 1v1m1-13v9m1-9v9m1-7v7m1-4v2m1-2v5m1-9v7m1-4v4m1-3v3m1-5v10m1-10v8m1-8v8m1-9v12m1-11v6m1-7v8m1-8v9m1-9v5m1-3v3m1-6v1m0 1v5m1-6v1m0 1v2m1-2v1m1-1v3m1-5v7m1-8v6m1-5v6m1-7v6m1-7v1m1-1v1m2-1v4m1-4v7m1-7v6m1-9v8m1-5v3m1-4v3m1-3v5m1-7v6m1-5v6m1-5v7m1-8v7m1-8v7m1-6v6m1-3v1m5-5v6m2-4v4m2-6v4m1-4v6m1-5v5m1-5v3m1-5v5m1-2v1m4-1v2m1-4v4m1-3v4m1-4v4m1-3v3m1-3v3m1-2v2m19 6v2m1-1v2m1-2v2m1-3v3m1-2v2m1-3v2m1-2v3m1-3v2m1-1v2m1-3v2m1-2v2m1-3v3m1-2v3m1-2v1m1-1v1m1-1v1m3-1v1m1-2v2m1 0v1m1-1v2m1-2v2m1-1v1m1 1v1m1-2v2m1-2v1m1-1v1m1 1v1m1-1v2m1-1v1m2-2v1"/></g>
<g fill="none" stroke-width="1"><path stroke="#d7d7e4" d="M140.5 532v1m3-17v1m23 11v1m1-6v1m11-4v1m1 11v1m10-25v1m17 14v1m1 3v1m25-3v1m26 0v1m15 7v1m28-10v1m13 7v1m51-7v1m6-1v1m62 3v1m23 0v1m3-14v1m4 8v1m15-17v1m13 5v1m28 17v1m8-25v1m8 25v1m9-9v1m10-21v1m4 21v1m5-17v1m33 2v1m4 7v1m10 9v1m5-1v1m3-22v1m5 20v1m12-19v1m0 5v1m16-14v1m0 21v1m1-22v1m0 18v1m1-4v1m8 8v1m1-11v1m30-24v1"/>
<path stroke="#d0d0e1" d="M64.5 537v1m6-16v2m62 4v1m0 5v1m9-23v1m3 19v1m2-13v1m14 10v1m6-1v1m1 0v1m2-3v1m2-20v1m3-3v1m3 11v1m15 3v1m1-13v1m2-3v1m1 22v1m3-2v1m10-7v1m6 4v1m24-1v1m5-9v1m4 6v1m1-9v1m7-6v1m8-2v1m6 8v1m4 5v1m4 0v1m12-2v1m12-7v1m5 7v1m6-1v1m1-10v1m0 1v1m4-9v1m22 14v1m2-2v1m13-8v1m9 7v1m2-7v1m3 3v1m24-4v1m25 2v1m19-14v1m4 2v1m1-7v1m4 0v2m2 13v1m5-11v1m1 9v1m1-19v1m1 19v1m2 2v1m2-22v1m3-8v1m1 7v2m0 1v3m1-10v1m0 10v1m1-3v1m0 4v1m0 6v1m2-30v1m0 23v1m1-25v1m2 26v1m0 1v1m1-16v1m0 4v1m0 3v2m2-26v1m0 3v1m2 21v1m1-4v1m0 1v1m1-15v1m0 14v1m0 7v1m2-1v1m6-12v1m0 7v1m1-22v1m4-5v1m0 2v1m0 16v1m6-6v1m1 3v1m2-19v1m0 6v1m2-7v1m1 19v1m3-12v1m0 15v2m3-16v1m1 14v1m3-13v1m14 11v1m9-3v1m14 0v1m3-21v1m6 17v1m1-6v1m5-3v1m0 9v1m2-15v1m1-12v1m4 1v2m11 21v1m8-19v1m2-3v1m1-5v1m0 17v1m0 3v1m1-2v1m4 1v1m2-3v1m1-5v1m6-11v1m0 2v1m2 10v1m0 2v1m6-12v1m2 10v1m3-15v1m1-12v1m17 23v1m1 0v1m6-3v1m5-24v1m1 3v1m0 12v1m1-17v1m0 1v1m3-5v1m0 21v1m3-18v1m1 4v1m3 10v1m8-9v1m1-5v1m1-3v1m3 11v1m5-1v1m11-28v1m0 4v1"/>
<path stroke="#c0c0df" d="M54.5 528v1m7 2v1m3-13v1m3 5v1m3-2v1m35 3v1m1-8v1m12 12v1m7-12v1m3-3v1m0 1v1m5-3v1m0 9v1m4-5v1m0 1v1m9-8v1m1-12v1m0 3v1m1-2v1m1 13v1m1-5v1m1-14v1m2-8v1m1 7v2m6 7v1m0 3v1m2-9v1m1 1v1m2 10v1m0 1v1m1-3v1m1-15v1m1-7v1m4 8v1m0 1v1m1 0v1m1 5v1m3-1v1m0 3v1m1-25v1m0 12v1m2-1v1m0 11v1m6-1v1m3-5v1m1-5v1m1-1v1m3 3v1m1 4v1m1-26v1m1 12v1m1 3v1m1-18v1m1 1v1m3 15v1m2 1v1m1 4v1m1-7v1m1-3v2m0 1v1m1-15v1m1 10v2m0 6v1m2-8v1m14-6v1m0 1v1m2 7v1m6-12v1m6 5v2m1-2v1m0 4v1m3-7v1m4 7v1m4-15v1m1-4v1m3 10v1m7-3v1m2-10v1m14 11v2m4 2v1m2-4v1m14-8v1m2-7v1m3 5v1m1 3v1m0 2v1m1 3v1m9-14v1m18 11v1m3-19v1m2 18v1m2-13v1m0 6v1m12 4v1m1-8v1m2-7v1m2 8v1m3-2v1m1-12v1m4 7v1m4 7v1m6-11v1m8 7v1m20 0v1m6-5v1m1 0v1m3-6v1m3 0v1m6-5v1m4 9v1m2-15v1m1-2v1m2 14v1m0 1v1m2-7v1m6-13v1m1 0v1m0 1v1m1-3v1m1 7v1m3-10v1m3 16v1m7-14v1m1-8v1m0 6v1m0 17v1m1-21v1m0 19v1m1-25v1m0 3v1m0 2v1m1-6v1m0 8v1m1-13v2m0 3v1m1-1v1m0 15v1m1-12v1m0 6v1m1-21v1m0 27v1m1-13v1m1-11v1m1-3v1m0 1v2m0 10v1m1-4v1m1-18v1m0 2v1m0 26v1m1-25v1m0 1v1m2 10v1m0 2v1m1-20v2m0 7v1m0 9v1m0 1v1m1-24v1m1-4v1m0 3v1m1-10v1m0 1v1m0 25v1m2 0v1m0 1v1m0 5v1m1-4v1m0 1v1m1-34v1m0 15v2m0 2v1m0 1v1m5-18v2m0 10v1m0 12v1m3-23v1m2 6v1m0 1v1m1-4v1m1-3v1m1 19v1m2 0v1m1-7v1m0 2v1m1 1v1m1-22v2m0 7v1m0 8v1m0 2v1m1-18v1m0 6v1m3 2v1m1-14v1m2 1v1m1 18v1m2-2v1m2-5v1m2 0v1m1-8v1m3-5v1m1-15v1m1 17v1m0 8v1m1 0v1m3-1v2m1-3v1m1-22v1m0 20v1m1-5v1m1-21v1m0 25v1m3 0v1m3-38v1m4 8v1m2 11v1m3 15v1m1-3v1m1-22v1m1 22v1m1-11v1m1-5v1m1-19v2m0 28v1m1-8v1m1-24v1m0 30v1m3-1v1m1-20v1m2 14v1m4-21v1m0 17v1m3-9v1m0 2v1m0 1v1m0 9v1m2-3v1m8-12v1m0 12v1m1-7v1m7 4v1m1-21v1m3 11v1m2 5v1m1-22v1m1 4v1m1 15v1m4-16v1m4-1v1m3-8v1m1 11v1m0 12v1m2-27v1m0 25v1m3-3v1m1-24v1m2 24v1m6-3v2m2-15v1m2 8v1m0 1v1m3-8v1m6 2v1m1 1v1m3-14v1m0 18v1m1-21v1m6 14v1m2-23v1m1 22v1m2-17v1m3 2v1m1 13v1m4-25v1m1-2v1m0 5v1m0 2v1m0 3v1m0 2v1m3 9v1m2-2v1m1-12v1m1-6v1m0 5v1m0 1v1m0 4v1m1-27v1m0 14v1m2 5v1m0 8v1m1-15v1m1-1v1m2-3v1m2 6v1m0 9v1m3-14v1m0 3v1m1-9v1m0 11v1m1-13v1m1 10v1m0 3v1m2-8v2m2 3v1m1 4v1m1-17v1m0 12v1m0 2v1m1-4v1m5 0v2m2-9v1m1-8v1m4-21v1m0 1v1m1 33v1m5-3v1"/>
<path stroke="#afafdd" d="M51.5 536v1m10-5v1m5-9v1m0 7v1m33 3v1m0 1v1m2-10v1m0 6v1m1 1v1m1-2v2m1-21v1m0 17v1m1-14v1m1 9v1m0 4v1m1-4v1m1-12v1m0 3v1m0 6v1m0 2v1m1-10v1m0 5v1m0 2v1m3-3v1m3-2v1m3-1v1m1-1v2m1-12v1m2 10v1m1 1v1m1-11v1m0 6v1m1 1v1m1-3v1m1 0v2m2-2v1m1-1v1m1 0v1m1-3v1m2 0v1m0 1v1m2-1v1m1-2v1m2-13v1m0 12v1m1-2v1m1-21v2m0 6v1m0 11v1m1-2v2m1-3v2m1-12v1m0 12v1m1-22v1m1 8v1m1-6v1m1-17v1m0 11v1m1 0v1m1 3v2m0 12v1m2-1v1m1-40v1m1 22v1m0 8v1m0 6v1m0 1v1m1-10v1m1-17v1m2 16v1m0 7v1m2-20v1m0 13v1m0 1v1m1-13v1m0 13v1m2-3v1m1 0v1m1-10v1m0 9v1m1-20v2m0 12v1m0 1v1m1-17v1m0 3v1m0 10v1m0 2v1m1-17v1m0 2v1m0 11v1m2-12v1m0 13v1m1-4v1m1 0v1m1-22v1m1-6v1m0 8v1m0 9v1m1-20v1m0 16v1m0 6v1m1 0v1m1-14v1m0 1v1m0 6v1m0 2v1m1-24v1m1 10v1m0 2v1m0 7v1m1 2v1m2-28v1m1 22v1m0 5v1m1-20v2m1 15v2m1-22v1m0 15v1m1 0v1m2-4v1m0 6v1m1-25v1m1 9v1m1-18v1m0 12v1m0 7v1m1-5v1m1 7v1m0 2v1m1-23v1m0 13v2m1 8v1m0 1v1m1-6v1m1-14v1m1 6v3m0 1v2m2-9v1m0 11v1m1-11v1m1-15v1m0 4v1m1 17v1m3-5v1m0 3v1m0 2v1m1-14v1m0 2v1m0 2v1m0 2v1m1-17v1m0 4v1m0 14v1m1-1v1m1-7v1m3 3v2m1-7v1m1 5v1m1-20v1m1 9v4m1 0v1m0 2v1m5 2v1m1-1v1m1-16v1m0 4v2m0 8v1m2-19v1m0 12v1m1 2v1m1-3v1m2-11v1m0 10v1m1-1v1m2 1v1m2 0v1m3-7v1m0 3v1m0 1v1m2-4v1m2-13v1m1 14v1m1-1v1m1-7v1m1-4v1m0 6v1m1-12v1m0 6v1m0 5v1m2-13v1m1 6v1m2-15v3m1 14v2m1-21v1m2-1v1m0 1v1m0 5v1m0 12v1m1-11v2m2 7v1m1 0v1m1-10v1m1 5v1m1-14v1m1 11v1m1-10v2m0 9v1m1-8v1m1 8v1m1-12v1m0 5v1m0 1v1m0 1v1m1-2v1m1-17v1m0 3v1m1 2v1m1-1v1m0 5v1m1 4v1m1-4v1m1-7v1m1 7v1m2-1v1m1-2v1m4-8v1m2 6v2m3 0v1m9-20v1m3 9v1m1-7v1m1 1v1m0 9v1m1-14v1m0 1v1m0 11v1m1-13v1m0 4v1m0 6v1m8-16v2m1 4v1m0 7v1m1-16v1m0 5v1m0 8v1m2-16v1m5 16v1m2-9v1m0 5v1m1-7v1m0 6v3m1-3v3m1-10v1m1 1v1m0 5v1m1-15v1m0 14v1m5-21v1m0 3v1m0 6v1m0 5v1m2-1v1m0 2v1m1-7v1m0 3v1m0 1v1m3-20v1m0 15v1m1 2v1m1-1v1m1-1v1m2-3v1m0 1v1m2-4v1m0 2v1m1-2v1m2-11v1m3 7v1m0 1v1m2-4v1m3 2v1m1-21v1m0 13v1m0 3v2m1-2v1m0 1v1m2-14v1m2 3v1m2 9v1m1-2v1m3-10v1m1 7v1m1-10v1m0 8v1m4-1v1m1 0v1m1-1v2m4-3v1m1-2v1m5 2v1m1-7v1m1 5v1m5-12v1m5 7v1m1-5v1m2-4v1m3 9v1m4-4v1m1 2v1m2-7v1m1-3v1m1 5v1m4-12v2m0 8v1m0 1v1m1 0v1m2-4v1m2-14v2m1 11v1m1-8v1m0 7v1m1-20v1m1 17v1m1-9v1m0 8v1m1-1v1m2-7v1m0 7v1m1-4v1m0 2v1m1-2v1m2-8v1m1 6v2m1-4v1m1-18v1m1 4v1m0 12v1m1-19v1m4 0v1m0 16v1m0 1v1m2-2v1m5-17v1m1 9v1m0 4v1m1-21v1m0 1v2m0 18v1m1-20v1m0 15v1m1-20v2m1-3v1m1-1v1m0 4v4m1 13v1m1-28v2m0 3v2m0 7v2m0 3v1m0 7v1m1-22v2m0 1v1m0 4v1m0 3v2m0 4v2m1 0v1m1-28v2m0 3v1m0 4v1m0 3v1m0 1v1m0 9v1m1-26v1m0 1v1m0 1v2m0 2v1m0 4v1m1 1v2m0 2v1m2-23v1m0 14v2m0 1v1m0 4v1m1-28v1m0 4v1m0 12v1m0 13v1m1 2v1m1-13v1m0 1v1m1-15v1m0 2v1m0 3v1m0 1v1m0 10v1m1 3v1m1-34v1m0 3v1m2 19v1m0 2v1m0 1v1m0 1v1m1-4v1m1-27v3m0 4v1m0 7v1m1-17v1m0 2v1m0 17v1m0 1v5m2 3v1m1-17v1m0 5v1m2-16v1m0 9v1m1 13v1m2 0v2m3-25v1m0 1v1m1 3v1m0 13v1m1 2v1m5-16v1m1-13v1m0 12v1m2 11v1m2-23v1m0 1v1m0 19v1m6-32v1m0 2v1m0 28v1m1-15v1m0 14v1m1-32v1m1 6v1m0 22v1m0 1v1m1-19v1m1 6v1m1-7v1m0 1v1m0 11v1m0 2v1m1-23v1m1-7v1m1-2v1m0 18v1m1 8v1m1-3v1m5-29v1m2 27v1m1-20v1m0 20v1m6-15v1m2-11v1m0 22v1m2-33v1m0 16v1m1-2v1m1-17v1m0 33v1m1-25v1m1-5v1m0 24v1m1-7v2m1-29v1m0 10v1m0 3v1m2 3v1m2 15v1m4-26v1m1 6v1m1 11v1m0 6v1m1-25v1m1 20v1m1-9v1m2 6v1m0 2v1m1-1v1m2-19v1m0 7v1m0 7v1m3 1v1m1-11v1m1 10v1m5-16v2m0 5v1m1 2v1m0 3v1m5 0v1m1-1v1m3-2v1m1-4v1m1-18v1m0 2v1m0 2v1m0 4v1m0 1v1m4-1v1m0 6v1m4-25v1m0 1v1m0 5v1m0 14v1m2-18v1m0 2v1m1-1v1m0 2v1m0 1v1m3 8v1m1-19v1m1-5v1m1 11v1m0 1v1m6 1v1m3 0v1m1 4v1m1 1v1m3-4v1m1-9v1m1-10v1m0 5v1m0 13v1m3-14v1m0 10v1m0 1v1m2-24v1m0 10v1m0 9v1m2-18v1m2 9v1m0 7v1m3-13v1m2-12v1m1 19v1m0 1v1m4-11v2m1-3v1m1 12v1m1-17v1m0 11v1m1-11v1m1-15v1m0 9v1m1 16v1m1 0v1m2-3v1m1-20v1m5 17v2m2-31v1m0 7v1m0 5v1m0 3v2m1-11v1m0 12v1m1-27v1m0 28v1m1-13v2m0 2v1m1-1v1m0 9v1m0 4v1m1-21v1m0 11v1m0 6v1m1-12v2m1 2v1m1-19v1m0 6v2m0 7v1m1-18v1m0 3v1m1 6v1m1-4v3m0 9v1m1-22v1m0 1v1m0 5v2m0 3v1m0 1v2m0 1v1m7-6v1m0 6v1m1-5v1m1-11v1m1 6v1m0 10v1m0 2v1m1-16v1m1 0v1m0 3v1m0 2v1m0 1v1m2 2v1m1-1v1m1-10v1m5 7v1m3-12v1m0 1v1m0 1v1m4-25v1m0 3v2m0 14v1m0 11v1m2-29v1m0 27v1m1-13v1m0 2v1m1 4v1m2-9v1"/>
<path stroke="#9c9cdf" d="M61.5 538v1m3-1v1m1-13v1m36-5v1m6-5v1m1 8v1m21 2v1m0 1v1m4-4v1m2 3v1m1-1v1m1-6v1m1-9v1m2 0v1m0 11v1m1-18v1m0 14v1m3-21v1m0 8v1m1 0v1m1-12v1m2-4v1m0 10v2m1-26v1m0 18v1m0 6v1m1 13v1m1-18v1m5 4v1m1 11v1m1-28v1m2 16v1m2-9v1m4 16v1m1-13v1m1-10v1m0 9v1m0 1v2m1 3v1m2-10v1m1-3v1m0 3v1m2-1v1m1-15v1m0 2v1m1 19v1m1-20v1m1 9v1m1-15v1m0 14v1m0 7v1m1-24v1m0 16v1m3-3v2m0 8v1m3-21v1m0 14v3m1-23v1m1-2v1m0 4v1m0 12v2m2-15v1m2-6v1m0 21v1m2-8v1m0 5v1m1-4v1m0 4v1m1-6v2m1-4v1m0 5v1m1-3v1m0 1v2m1-23v1m0 12v1m0 2v1m1-3v1m1-11v1m0 10v1m2 6v1m3-7v2m1-8v1m0 11v1m1-7v1m1-11v1m0 5v1m0 7v1m1-1v1m1 5v1m8-7v1m1 2v1m0 1v1m6-9v3m8-5v1m4 8v1m0 1v1m2-1v1m4-13v1m0 2v1m5-4v1m2 6v1m0 1v1m1 2v1m1-19v1m0 7v1m0 1v1m0 2v1m1-13v1m1-1v1m0 14v1m1-7v1m2-9v1m0 5v1m4 3v1m6-2v1m0 3v1m4-7v1m1-10v1m0 9v1m2 2v1m3-3v2m2 3v1m3-10v1m0 8v1m4 1v1m12-15v1m0 7v1m3 1v1m0 1v1m1-14v1m0 2v1m3-1v1m0 7v1m1-3v1m1-7v1m5-1v1m0 3v1m0 6v1m1-14v1m0 11v1m0 1v1m1-11v1m0 7v3m1-16v1m0 10v1m1-8v1m9 2v3m9 1v1m6-7v1m3 8v1m3-9v1m14-7v1m10 6v1m3 3v1m16 3v1m2-4v2m2 1v1m2-10v1m6 4v1m11-5v1m1 6v2m1-6v1m3 0v1m3-2v1m2-3v1m2 5v2m4-19v1m1 3v1m1-2v1m0 11v1m2-3v1m1-12v1m1 1v1m4 4v1m0 5v1m3-15v1m7 2v1m5 2v1m0 10v1m1 1v1m1-25v1m0 3v3m0 2v1m2-11v1m0 8v1m1-4v1m0 17v1m1-16v1m1-8v1m0 5v1m0 1v2m0 4v1m0 3v1m1-14v1m0 3v1m0 3v1m1-19v1m1 3v1m0 11v1m1-6v2m0 1v1m0 12v1m1-24v1m0 5v1m0 12v1m0 4v1m1-23v1m0 11v2m1-22v1m0 3v1m0 13v1m0 2v1m0 6v1m1-25v1m0 27v1m3-24v2m0 5v1m0 3v2m0 3v1m2-21v2m0 1v1m0 20v1m1-34v1m0 34v1m1-11v1m1 0v1m1-25v2m0 4v1m0 6v1m0 1v1m1 2v1m0 5v1m3-9v1m0 1v1m0 15v1m1-27v1m0 6v1m0 15v1m4-17v1m2 0v1m0 2v1m1-7v1m2 4v1m0 5v2m5-19v2m0 8v1m0 12v1m3-16v1m0 18v1m1-12v1m2 3v1m1-28v1m4 17v1m0 1v1m0 2v1m0 1v1m1-14v1m0 14v1m1 1v1m1-14v1m3 15v1m1-22v1m0 7v1m0 12v2m2-27v1m2-6v1m3 22v2m0 2v1m2-8v1m0 10v1m1-30v2m0 10v1m0 15v1m2-34v1m0 17v1m2 11v1m2 4v1m4-20v1m2-13v1m1 10v1m1-7v1m0 4v1m1-3v1m3-10v2m0 27v1m4-9v1m0 10v1m1-34v1m0 29v1m4-16v2m1-6v1m0 2v1m0 2v1m0 5v2m1-22v1m0 29v1m2-23v1m0 14v1m0 6v1m2-4v1m1 2v1m4-22v1m0 1v1m2 2v1m2 15v1m1-20v1m0 1v1m0 2v1m0 13v1m2-1v1m3-11v1m1 9v1m2-19v1m1 16v1m1-15v1m2-9v1m0 21v1m3-19v1m0 13v1m0 1v1m1-15v1m2 15v1m3-2v1m1-6v1m0 4v1m1-23v1m1 8v1m0 4v1m0 1v1m0 6v1m2-18v1m1 13v1m1 1v1m4-16v1m0 10v1m6-21v1m0 13v1m1 8v1m0 1v1m1-1v1m1-3v1m1-21v1m1 15v1m4 4v1m1-18v1m0 6v1m0 3v1m4-2v1m3 8v1m9-29v2m0 3v2m0 2v1m3 15v1m0 2v1m2-3v2m1-18v1m0 2v1m0 8v1m2-12v1m0 13v1m1-5v1m4-13v1m4 11v1m0 4v1m0 1v1m1-31v1m2 6v1m0 12v1m1-18v1m0 20v1m2-15v1m0 5v1m0 9v1m2-16v1m0 18v1m1-14v1m1-8v1m0 4v2m1-9v1m1-1v1m0 1v1m0 15v1m2-6v2m1-7v1m0 2v1m0 1v1m0 3v1m2-4v1m1 3v1m1-11v1m0 5v1m1-11v1m0 16v1m1-3v1m1-16v1m0 8v1m1-3v2m0 7v1m1-20v1m2 5v2m0 9v1m1-13v1m0 10v2m0 2v1m2-6v1m1-13v1m1 10v1m6-1v1m1 5v1m1-17v1m0 6v1m4-19v1m1-8v1m0 34v1m1-8v1m1 4v1m1-3v1m1 0v1"/>
<path stroke="#8989e4" d="M101.5 530v1m1 3v1m5-14v1m2 4v1m25 7v1m11-25v1m4-4v2m0 7v1m4 5v1m0 1v1m4 4v1m2-21v1m4 0v2m4 8v1m4 1v1m1 0v1m2-18v1m0 20v1m1-21v1m0 22v1m0 2v1m4-4v1m1-11v1m2 2v2m1-4v1m0 9v1m0 2v1m1-17v1m0 6v1m0 1v1m1-4v1m9 5v1m4 0v1m1-10v1m1 0v1m1 6v1m1-4v1m1-17v1m2 14v1m3 3v1m1-1v1m17 1v1m3-14v1m15 0v2m5-2v1m0 6v1m4-10v1m2-3v1m1 10v1m3 4v2m4-3v1m10-15v1m7 2v1m0 7v1m0 5v1m18-12v1m1 0v1m3 6v1m4-9v1m1 3v1m1-1v1m6-2v1m17-3v1m16-2v1m2 0v1m0 1v1m13-6v1m4 11v1m21-1v1m12-5v1m24-2v1m7-10v1m0 14v1m1-15v1m3-1v1m5-6v1m2 5v1m0 6v1m5 4v1m2 0v1m6-14v1m0 11v1m2-7v1m0 3v1m2-13v1m0 6v1m1-9v1m2-7v1m0 7v1m0 2v1m0 2v1m0 1v1m0 1v1m1-6v1m2-11v1m1-5v1m0 13v1m0 12v1m1-24v1m0 3v2m0 9v1m1 6v1m1-10v1m0 3v2m1-25v1m0 24v1m2 1v1m1-24v1m0 4v1m0 6v1m0 7v1m1-29v1m1 1v1m2 20v1m1 7v2m1-32v1m0 4v1m0 1v1m0 9v1m1-16v1m0 10v1m0 14v1m1-2v1m3 2v1m6-12v1m0 12v1m3-12v1m5-14v1m3-3v1m1 15v1m0 7v1m1-23v1m0 18v1m3-11v1m0 1v1m7-8v1m1 18v1m1-16v1m3 7v1m1 7v1m5-28v1m4 2v1m3 5v1m2 16v1m5-15v1m2-13v1m3-4v1m0 1v1m1-2v1m0 6v1m2 10v1m1 9v1m5-27v1m0 23v1m5-7v2m0 6v1m5-13v1m6 9v1m2 2v1m3-5v1m1-9v1m2 9v1m6-3v1m2-17v1m1 3v1m9-3v1m1 16v1m1-1v1m2-23v1m0 6v1m0 12v1m1-17v1m2 14v2m2-14v1m2 3v1m0 1v1m2-14v1m0 4v1m3-6v1m0 20v1m7-25v1m3 11v1m0 1v1m2 11v1m1-24v1m3 11v1m5-19v1m0 27v2m1-7v1m12 4v1m2-20v1m0 1v1m3 14v1m3-20v1m1-10v1m0 21v1m2 2v1m1-18v1m1 15v1m3 5v1m1-20v1m2 4v1m0 1v1m4-3v1m1 9v1m1-8v1m4 7v1m2-6v1m0 3v1m2-13v1m1 15v1m1-15v1m0 1v1m8 0v1m2-5v1m0 3v1m7-3v1m1 7v1"/>
<path stroke="#7575e9" d="M134.5 532v1m1-168v1m11 155v1m15 0v1m1-10v1m2 2v1m3 8v1m3-1v1m7-3v1m1-1v1m2-2v1m4 7v1m2 0v1m7-6v1m11 2v1m1-9v1m6 11v1m1-8v1m4 2v1m1 3v1m3-2v1m21 0v1m8-10v1m4 3v1m1-11v1m9 11v1m7-9v1m29 4v1m2-5v1m33 2v1m7 3v1m32-6v1m29 6v1m8-4v1m8 3v1m3-6v1m9-11v1m9 11v1m3-12v1m13-5v1m9-3v1m2 7v1m0 1v1m0 9v1m1-15v1m2-3v1m4-12v1m2-2v1m0 24v1m1 7v1m2-3v1m1-12v1m3-7v1m2-2v1m13 4v1m1 6v1m1 5v1m22-13v1m23 13v1m22-4v1m15 0v1m10-21v1m1 8v1m8 5v1m2-4v1m6-6v1m4-6v1m10-3v1m3 11v1m28 4v1m3-10v1m4 4v1m6-18v1m0 16v1m5-3v1m1-6v1m0 1v1m2 7v1m5-5v1m1-5v1m13 10v1m2-11v1m1 7v1"/>
<path stroke="#6060ed" d="M104.5 538v1m20-174v2m8-11v2m2 6v1m1-9v1m2 3v1m2-7v1m7 182v1m6 0v1m2-17v1m5 15v1m23-4v1m2 1v1m10-17v1m10 6v1m12 6v1m4 2v1m9-30v1m8 25v1m62-15v1m15 1v1m20 11v1m4 1v1m7-3v1m20 0v1m4-4v1m72 1v1m17-14v1m4-2v1m1 7v1m6-23v1m25 25v1m6 2v1m5-13v1m35-5v1m21 3v1m25 5v1m13 5v1m58-20v1m16 3v1m6 15v1m19-42v1"/>
<path stroke="#4a4af0" d="M65.5 503v1m48 31v1m11-172v1m2 171v1m2-175v1m0 172v1m7-169v1m5 1v1m1 153v1m0 6v1m4 2v1m6 3v1m7-4v1m12-4v1m2-2v1m6 6v1m8-15v1m3 11v1m6-13v1m25 12v1m4-2v1m5-1v1m2 2v1m4-1v1m4-4v1m13-1v1m11 0v1m44 0v1m1-13v1m18 7v1m17 2v1m31-1v1m2-1v1m9-1v1m17-9v1m4 8v1m6-3v1m20 2v1m7-11v1m24-17v1m15 13v1m7-9v1m15 8v1m0 3v1m1-11v1m4-16v1m1-9v1m0 1v1m3 9v1m8 25v1m3-10v1m3 2v1m14-19v1m11-4v1m3 10v1m12 3v1m3 0v1m2 2v1m11-14v1m33 8v1m9-13v1m4 1v1m3-12v1m0 32v1m9-24v1m0 17v1m2-12v1m4-15v1m5 30v1m2-4v1m5-29v1m0 19v1m1 9v1m3-3v1m3-17v1m5 8v1m4 6v1m6-6v1m9-9v1m6 15v1m6-34v1m1 17v1"/>
<path stroke="#3232f0" d="M51.5 507v1m7 3v1m5 10v1m4 3v1m2 0v1m8-17v1m1-10v1m4 34v1m18 0v1m3-3v1m5-19v1m2 9v1m13-164v1m5-3v1m6 171v1m1-170v1m2-17v1m0 10v1m1-11v1m1 6v1m2-13v1m4 165v1m0 24v1m1-21v1m1-5v1m0 23v1m2-32v1m1 22v1m1 6v1m5-17v1m4-15v1m1-4v1m1-142v1m1 160v1m1-19v1m0 2v1m1 13v2m5-11v1m2 20v1m9-19v1m0 12v1m0 8v1m2-26v1m2 2v1m1 7v1m1 2v1m2-16v1m13-4v1m0 27v1m4-23v1m8 17v1m10 0v1m3-12v1m0 11v1m9-17v1m1 17v1m1-23v1m1 5v1m5 11v1m1-6v1m1-2v1m1 7v1m3 1v1m2-17v1m1 14v1m1-11v1m4 10v1m1-22v1m6 10v1m1 2v1m10-5v1m1 8v1m1-5v1m0 3v1m2-9v1m0 5v1m5 1v1m19-19v1m9 9v1m3 1v1m22-8v1m4 12v1m3 1v1m2-2v1m2-2v1m6-6v1m4-3v1m13-1v1m1 9v1m8-4v1m15-8v1m8 6v1m5-3v1m1 1v1m10-21v1m3 7v1m1 14v1m2-17v1m1 14v1m1-7v1m2-7v1m1 1v1m1 1v1m1 5v1m1-19v1m1 18v1m6-19v1m0 10v1m1 8v1m15-17v1m8 7v1m2-22v1m3 19v1m3-22v1m2 25v1m1 0v1m3-24v1m1 10v1m0 2v1m1-15v1m0 8v1m7 7v1m1-21v1m1 19v1m1-21v1m3-7v1m1 7v1m0 1v1m1-1v1m0 23v1m3-31v1m1-8v1m0 8v1m2 0v1m0 11v1m1-20v1m2 12v1m1 17v1m1-41v1m0 39v1m2-29v1m1-8v1m0 8v1m1-5v1m1 2v1m1-3v1m0 28v1m2-5v1m0 4v1m3-23v1m1 3v1m7 14v1m2-23v1m1 2v1m2 10v1m1-10v1m0 2v1m0 2v1m1 9v1m1 2v1m2-31v1m0 6v1m0 6v1m1-8v1m0 3v1m1 20v1m1-6v1m2-17v1m0 15v2m8 2v1m1-4v1m1-16v1m0 14v1m3-33v1m0 15v1m0 2v1m1 2v1m0 8v1m2-6v1m2-17v1m0 11v1m1 0v1m4-23v1m0 1v1m0 16v1m2-1v1m2-7v1m0 20v1m2-30v1m0 3v1m0 15v1m0 3v1m1-11v1m1 1v1m2-8v1m0 21v1m3-24v1m1-12v2m0 12v1m1 0v1m0 13v1m2-6v1m0 1v1m0 5v1m1-17v1m2-17v1m9 33v1m1-29v1m1 6v1m3-5v1m0 14v1m3-15v1m0 7v1m2-3v2m0 15v1m2-22v1m3-12v1m0 8v1m1 4v1m0 4v1m1 1v1m3-8v1m1 6v1m3-13v1m3-1v1m4 4v1m0 6v1m0 4v1m1-18v1m0 3v1m1 1v1m0 2v1m0 13v1m1-30v1m0 25v1m5-9v1m0 8v1m2-20v1m0 5v1m0 7v1m3-27v1m5 10v1m1 15v1m2-6v1m3 10v1m1-2v1m4-28v1m0 16v1m2 9v1m1-4v1m2-15v1m4-7v1m2 2v1m1 0v1m0 19v1m1 1v1m3-9v1m1 7v1m1-20v1m0 6v1m1-12v1m1 7v1m0 10v1m3 1v1m1-16v1m5 15v1m1-1v1m2-3v1m2-10v1m2 10v1m1-6v1m2 5v1m5-15v1"/>
<path stroke="#1b1bf1" d="M51.5 503v1m1-2v1m1 10v1m3-17v1m2 15v1m3 13v1m1-25v1m0 31v1m7-23v1m1 18v1m0 1v1m1-22v1m1-6v1m6-6v1m15 33v1m4-11v1m4 0v1m0 8v1m4-14v1m3-6v1m0 16v1m3-2v1m4-2v1m2-4v1m1 0v1m4-167v1m3 168v1m1-172v1m1 170v1m3-7v1m2-167v1m0 173v1m1-182v1m0 171v1m1-166v1m1 174v1m2-187v2m1-1v1m0 1v1m1-4v1m1 159v1m2-161v1m0 14v1m2 151v1m0 10v1m1-15v1m2 17v1m1-5v1m1 1v1m5-22v1m2 2v1m2-10v1m1 17v1m1-162v1m1-4v1m0 1v1m1-2v1m0 2v1m1 166v1m2-12v1m0 1v1m0 2v1m0 10v1m1-20v1m1-12v1m1 26v1m1-27v1m0 4v2m0 9v1m0 8v1m3-23v1m0 5v1m1 17v1m3-22v1m1 23v1m1-24v1m1-2v1m1 5v1m1 1v1m0 3v1m0 6v1m1-17v2m0 1v2m1 17v1m1-34v1m1 24v1m0 2v1m0 2v1m1-1v1m1-21v1m0 4v1m0 5v1m1-10v1m3-13v1m3 6v1m1 7v1m1-3v1m1-5v1m1 18v1m1 3v1m3-25v1m0 9v1m4-4v1m1-6v1m0 17v1m1-21v2m0 4v1m2-3v1m0 5v1m1-7v1m0 9v1m1-12v1m0 2v1m2-5v1m1-3v1m0 15v1m2-11v1m4 10v1m1-14v1m0 11v1m0 3v2m1-5v1m1 0v1m1-2v2m1-12v1m1 13v1m1-14v1m2-3v1m0 1v1m2 1v1m0 4v1m2-13v1m0 9v1m2 7v1m5-11v1m1 8v1m1-12v1m0 4v1m0 4v1m1-6v1m1-9v1m1 3v1m3-6v1m2 6v1m1-2v1m0 12v1m1-19v1m1-4v1m1 4v1m1 15v1m4-2v1m1-6v1m20-2v1m3 3v1m15-13v1m1-2v1m0 3v1m2 1v1m3 1v1m0 1v1m1-7v1m0 12v1m10-8v1m1-11v1m2-2v1m5 10v1m1 5v1m2-9v1m3 5v1m1-8v1m1-5v1m1-4v1m4-1v1m2 5v1m2-8v1m1 0v1m0 7v1m3-3v1m2 4v1m8-11v1m4 13v1m1-9v1m1-3v1m5-5v1m5 14v1m1-11v1m3-6v1m1 8v1m2-2v1m1 1v1m1-1v1m0 1v1m4-8v2m4-2v1m5 0v1m1 3v1m1-6v1m6 5v1m4-6v1m2 1v1m3 3v1m7 2v1m1-13v1m3 6v1m5 0v1m1-7v1m1-6v1m1 7v1m1-1v1m0 2v1m0 1v1m7-15v1m1 12v1m1-6v1m0 7v1m1-22v1m0 11v1m2 2v1m0 2v1m2-18v1m0 20v1m5-13v1m1-9v1m3 7v1m4-4v1m2 3v1m0 10v1m4-2v1m3-28v1m1 5v1m0 15v1m1-12v1m1-7v1m0 2v1m0 12v1m0 4v1m1-14v1m0 3v1m0 4v1m2-23v1m0 27v1m1-29v1m0 25v1m2-23v2m0 16v1m0 5v1m1-8v1m1-18v1m0 7v1m0 1v1m1-4v1m0 3v1m0 7v2m2-21v1m0 12v1m1-4v2m0 2v1m0 4v2m1-23v1m0 2v2m1 17v1m3-16v1m1 13v1m0 2v1m1-25v1m1-3v1m0 3v1m0 14v1m0 1v1m1-2v1m0 6v1m2-6v1m1-19v1m0 3v1m0 1v1m0 6v1m1-15v1m0 2v1m2-1v2m0 4v1m0 1v1m0 9v1m1-39v1m2 12v2m1-10v1m0 2v1m1 2v1m0 9v1m0 2v1m0 3v1m1 11v1m1-12v1m1-7v1m0 3v1m0 3v2m1-22v1m0 3v1m0 8v1m2-25v1m0 1v1m0 1v1m0 25v1m1-15v1m0 20v1m1-30v1m0 8v1m1-1v1m0 1v1m0 3v1m1 9v1m0 5v1m1-28v2m0 2v1m1-4v1m0 3v1m0 3v1m0 3v1m0 9v1m2 2v1m1-15v2m0 8v1m0 2v1m1-18v1m0 6v1m1-20v2m0 1v2m0 5v1m0 1v1m1-17v1m0 18v1m1-11v1m0 5v1m0 20v1m1-26v1m0 6v2m1-26v1m0 5v2m0 3v1m0 7v1m0 5v1m1 7v1m0 8v1m1-33v1m0 5v1m1 16v1m1-22v1m0 15v1m0 3v1m0 2v2m2-34v1m0 13v2m0 4v1m0 1v2m0 3v1m0 2v1m0 1v2m0 3v1m1-35v2m0 2v1m0 3v1m0 12v1m1-18v1m0 3v1m1-1v1m0 8v1m0 15v1m1-30v1m0 12v1m0 2v1m0 15v1m1-33v1m0 9v1m0 21v1m1-23v2m0 3v1m0 3v2m0 2v1m1 0v1m1-24v1m0 6v1m0 17v1m0 2v1m1 3v1m1-13v1m1-6v1m0 8v1m0 2v2m0 3v1m1-37v1m0 16v2m0 6v1m0 4v1m1-10v1m0 4v2m1-32v1m0 21v1m1 12v1m1-17v2m0 1v2m0 1v1m0 14v1m2-15v1m1-21v1m0 1v1m0 1v1m1 11v1m0 1v2m0 1v2m1-22v1m0 19v1m1-7v1m0 2v2m0 11v1m0 3v1m1-13v1m1 0v1m0 2v1m1-24v1m1 9v1m0 2v2m0 15v1m1-23v1m0 1v1m1 3v1m1 3v1m0 10v1m1-17v1m1-22v1m0 14v1m0 5v1m0 15v1m1-25v1m0 1v1m0 3v1m2 13v1m1-33v1m0 1v1m0 30v1m1-11v1m1 12v1m1-22v1m0 6v1m0 1v1m1-11v1m0 4v1m1 6v1m0 3v1m0 2v1m1-23v3m0 10v1m0 3v1m0 5v1m1-28v1m0 9v1m1-5v1m1 5v1m0 3v1m0 3v1m1 6v2m0 1v1m1-35v2m0 8v1m0 2v1m0 4v1m0 3v1m0 5v1m0 2v1m1-22v1m0 9v1m0 6v1m1-16v1m0 12v1m1-14v2m1-4v1m1 5v1m0 8v1m2-19v1m0 7v1m0 11v1m0 7v1m1-26v1m0 4v1m0 6v1m1-13v1m1 22v1m1-22v1m0 6v1m1 5v1m2-16v2m0 5v1m0 10v2m1-19v1m0 1v1m1-1v1m0 1v1m0 15v1m2-21v1m1-7v1m2 5v2m0 8v2m2 1v1m0 1v1m0 2v1m1-7v1m0 4v1m0 3v1m1-31v1m0 18v2m2-15v1m0 12v2m1-15v1m0 25v1m1-15v1m0 2v1m1-10v1m0 6v1m1-9v1m0 2v1m0 4v1m0 4v3m0 3v1m2-16v2m0 1v1m0 1v1m1 7v1m0 2v1m2-17v1m0 7v1m1-14v1m0 7v1m0 9v1m1-9v1m0 9v1m1-23v1m0 2v1m0 3v1m0 15v1m1-18v1m0 3v1m0 4v1m1-17v1m0 8v1m1-12v1m0 6v1m0 15v1m1-19v1m1-6v1m0 16v1m2-12v1m0 7v1m0 8v1m2-1v1m2-27v1m0 8v1m0 5v1m0 4v1m0 3v2m1-18v1m1 2v1m0 1v1m0 7v1m1-29v1m0 2v1m0 4v1m0 6v1m1-14v1m0 13v1m2 12v1m1-15v1m1 14v1m1-22v2m0 4v5m0 2v1m0 6v1m1-16v1m0 2v2m0 13v1m1-33v1m1-3v1m0 12v1m0 9v1m1-20v1m0 19v1m1-9v1m1-4v1m0 19v1m2 3v1m1-11v1m0 11v1m1-10v1m0 3v1m1-6v1m0 2v1m0 1v1m0 1v1m0 2v1m2-20v1m1 4v2m0 2v1m0 1v1m3-17v2m0 15v1m1 1v1m1-31v1m0 19v1m0 11v1m1-17v1m0 2v1m1-19v1m0 8v1m0 7v1m0 9v1m0 6v2m1-14v1m0 5v1m1-2v1m2 6v2m1-27v2m0 12v1m0 6v1m1-23v1m0 13v1m0 4v1m0 1v1m2-12v1m0 10v1m1-25v2m0 6v1m2 21v1m1-14v1m1 12v1m1-23v1m1 7v1m0 13v1m2-6v1m1-5v1m0 5v1m1-8v3m0 5v1m1-12v1m1 1v3m1-5v1m1 2v1m2-5v1m4-1v1m0 8v1m4-12v2m0 8v1m0 1v1m1-1v1m1 3v1m1-14v1m1 2v1m0 1v1m0 5v1m0 1v1m1-7v1m1-3v1m0 2v2m1-12v1m0 3v1m1-26v1m0 1v1m1-3v1m0 34v1m1-9v1m0 4v1m1-40v1m0 35v1m0 6v1m1-12v1m0 1v1"/>
<path stroke="#0d0df9" d="M51.5 513v1m1-8v1m1 3v1m0 27v1m1-28v1m7 24v1m1 0v1m2-23v1m0 11v1m0 8v1m1-36v1m0 20v1m2 7v2m0 2v1m1-28v1m0 17v2m1-30v1m0 2v1m0 30v1m0 1v1m0 4v1m1-34v1m0 3v1m0 20v1m0 4v1m2-31v1m1 2v1m1-1v1m0 1v1m2-5v1m1-8v1m0 10v1m1-10v1m0 9v1m2-1v1m4 26v1m14-12v1m2-5v1m0 13v1m1-18v1m2 4v1m0 6v1m1-4v1m0 1v1m1-11v2m0 8v1m1-9v1m0 13v1m1-15v2m2-5v1m0 10v1m1-5v1m5 2v1m1 3v1m1-1v1m1-4v1m1 6v1m2-5v1m1-168v1m0 159v1m1-162v1m0 164v1m2-168v2m0 161v1m1 1v1m1-168v2m0 157v1m0 6v1m1 5v1m4-171v1m1-7v1m0 4v1m1-8v1m0 1v1m1-7v1m0 5v1m1 3v1m0 168v1m1-181v1m0 179v1m1-182v1m0 5v2m0 168v1m1-11v1m1-166v1m0 2v2m0 157v1m0 15v2m1-186v1m1 5v1m0 13v1m0 149v1m1-6v1m0 14v1m0 6v1m3-3v1m1-17v1m0 5v1m1-27v1m2 35v1m0 1v1m1-6v1m0 7v1m1-18v1m4 9v1m0 4v1m1-21v1m0 7v2m1 13v1m2-33v1m0 2v2m1-147v2m0 140v1m0 2v1m0 1v1m2-3v1m0 21v1m1-26v1m0 6v1m0 25v1m1-34v1m0 1v1m0 29v1m1-26v2m0 1v2m1-5v2m1-9v1m0 22v2m0 2v1m1-27v1m0 8v1m0 4v1m0 15v1m1-29v2m0 2v2m0 3v1m0 1v1m0 3v1m0 10v1m2-26v1m0 3v1m0 3v1m0 11v2m0 1v1m1-3v1m0 2v1m3-28v1m0 1v1m0 7v1m0 7v1m0 1v1m3-11v1m1-4v1m1-4v1m0 1v2m0 9v2m0 3v1m0 6v1m1-21v1m1-5v1m0 4v2m0 1v1m0 1v1m1-8v1m1-3v1m0 16v1m0 1v1m1-22v1m0 11v2m1-18v1m0 11v1m1-2v1m1-3v2m0 8v2m1-22v1m1 5v1m0 5v1m0 2v1m1 16v1m1-27v1m0 20v1m1-22v1m0 2v1m0 2v1m1 2v1m0 2v1m1-18v1m0 7v1m0 3v1m1-10v1m0 3v1m0 3v1m1-8v1m0 2v1m0 6v1m0 14v1m2-26v1m0 14v1m1-6v1m0 2v1m1-11v1m1 25v1m2-27v2m0 2v1m0 19v1m1-25v1m0 4v2m0 2v1m1-8v1m0 19v1m3-20v1m1-3v1m0 7v1m0 1v1m1-1v2m1-12v2m0 7v1m0 13v1m1-17v2m0 3v1m0 1v1m3 0v1m1-4v1m0 12v1m1-24v1m4 13v1m0 1v1m0 4v1m1-5v1m1 0v1m1-13v1m3 9v1m0 5v1m3-19v1m0 1v1m0 11v2m1-10v1m0 1v1m0 8v1m1-13v2m1 6v1m0 3v1m7-19v1m0 5v1m0 7v1m3-16v1m0 11v3m0 3v1m1-16v2m0 8v1m3-10v1m0 7v1m1 0v1m3 1v1m2-8v1m1-10v1m1-1v1m2 1v1m0 2v1m1-1v1m1 12v1m2-15v1m3 7v1m0 2v1m3-13v1m0 3v1m1 1v1m0 8v1m2-16v1m0 3v1m0 6v1m1-6v1m0 6v2m2 3v1m2-8v1m0 1v1m1-9v1m11 6v1m1 1v1m10-12v1m0 1v1m0 2v2m1-10v2m0 1v1m1 0v1m1-3v1m0 3v2m1-9v1m0 1v2m0 10v2m0 2v1m1-19v1m0 9v1m0 3v2m1-16v1m0 13v2m1-12v3m0 1v1m0 3v1m1-2v1m5-9v1m0 7v1m2-15v1m0 3v1m0 8v1m0 1v1m2-4v1m6 5v1m1-2v1m4-9v1m0 5v1m2 3v1m3-3v1m2-16v1m0 5v1m2 2v1m2-1v1m0 9v1m5-9v1m1-7v1m2 10v1m3-10v1m3 9v1m3-5v1m0 1v1m1-11v1m0 1v1m0 7v1m5 3v1m2-7v1m0 2v1m2 4v1m2-19v1m2 1v1m5 0v1m5 6v2m0 1v1m5-9v1m6 7v1m2-4v1m5-4v1m0 1v1m1-2v1m1-3v1m4 6v1m1-5v1m0 6v1m3-10v2m4 3v1m1-5v1m1 6v1m4-10v1m1 0v2m0 1v1m0 1v1m0 5v1m1-22v1m0 3v1m3 3v1m2 9v1m1-6v2m1 3v1m1-6v1m1-12v1m1 6v1m0 1v1m2-1v1m0 5v1m1-17v1m0 14v1m1-15v1m1-1v1m0 1v1m0 4v1m1-1v1m0 6v2m1-15v1m0 7v1m0 7v1m1-13v1m2 7v1m1-17v1m0 10v1m1-8v1m0 5v1m1-12v1m0 17v1m0 2v1m0 1v1m1-23v1m1 5v1m5-7v1m0 4v1m3 10v1m3-10v1m1-10v1m0 20v1m2-3v1m1-22v1m0 8v1m1 14v1m1-27v1m0 1v1m0 2v1m0 16v1m2-4v1m0 6v1m1-1v1m2-9v1m0 1v1m1 4v1m1-25v1m0 10v1m0 10v1m4-23v2m0 5v1m0 1v1m1 2v1m0 3v1m1-11v2m0 5v1m0 11v1m1-15v4m0 11v1m1-13v1m1-6v1m1-11v1m0 7v1m1 12v1m1-26v1m0 6v1m0 3v3m0 2v1m0 4v1m0 8v1m1-20v1m0 16v1m1-13v1m0 6v2m2-16v1m0 10v1m0 1v1m0 3v2m0 4v1m1-31v2m0 12v1m0 2v1m1 0v1m1-14v1m0 1v1m0 10v1m0 3v1m0 1v2m0 3v1m1-6v1m1-32v1m0 23v1m0 5v3m2-32v1m0 5v1m0 6v1m0 1v1m0 1v1m0 10v1m0 2v1m1-2v1m0 2v1m1-26v3m0 1v2m1-6v1m0 13v1m0 1v1m1-13v1m0 5v2m0 3v1m0 5v1m1-35v1m0 7v1m1 0v2m1-3v2m0 1v1m0 2v1m0 1v3m0 1v1m0 7v1m0 6v1m1-1v1m1-29v1m0 7v5m0 1v1m1-11v1m1-4v1m0 4v2m0 10v1m0 12v2m1-11v1m0 10v1m1-30v1m0 3v1m0 6v1m0 8v1m0 1v1m1-32v1m0 4v1m0 5v2m0 5v1m0 2v1m1-26v1m0 1v1m0 29v1m0 1v2m0 2v1m1-21v1m0 3v1m0 1v2m0 11v1m0 5v1m1-25v1m0 2v1m0 17v1m1-38v1m0 13v1m0 3v1m0 3v1m0 2v1m0 4v1m1-4v1m0 1v1m1-35v2m0 2v1m0 7v1m0 30v1m1-37v1m0 10v1m0 2v1m0 8v1m0 9v1m0 1v1m1-27v1m1-7v1m0 8v1m0 20v1m1-10v1m0 3v2m0 6v1m1-18v1m2-24v1m0 14v1m0 1v1m0 2v1m0 5v2m0 1v1m0 2v1m0 3v1m1-29v1m0 3v1m0 1v1m0 1v2m0 5v1m0 4v2m1-33v1m0 37v1m0 3v1m1-39v1m0 10v1m0 1v1m0 1v1m0 5v1m0 4v1m1 0v1m0 7v1m1-35v1m0 17v1m1 8v1m1-22v1m0 15v1m0 4v1m0 2v1m2-34v1m0 10v1m0 8v1m0 2v1m0 2v2m0 3v1m0 6v1m1-31v1m0 1v1m0 1v1m0 1v1m0 2v1m0 4v1m0 1v1m0 16v1m1-35v1m1-1v1m0 2v3m0 3v1m0 14v1m0 1v1m1-1v1m0 2v1m1-22v2m0 1v1m0 24v1m1-23v1m0 1v1m0 6v2m0 2v1m0 8v1m1-35v1m0 16v3m0 1v1m1-20v1m0 1v1m0 5v3m0 2v1m0 5v3m0 3v1m0 2v1m1-33v1m0 13v1m0 9v1m0 1v1m0 7v1m1-38v1m0 6v1m0 7v1m0 14v1m0 8v1m1-14v1m1-23v1m0 3v1m0 2v1m0 12v3m0 1v1m0 1v1m1-31v2m0 18v2m0 16v1m1-42v1m0 2v1m0 18v1m0 15v1m0 2v1m1-10v1m0 2v1m0 1v1m1-20v1m0 6v1m0 1v1m1-15v1m0 1v1m1-14v1m0 15v1m0 2v1m0 1v1m0 8v2m0 2v1m0 2v1m1-17v1m1-27v1m0 7v1m0 9v1m0 2v2m0 4v1m0 6v1m1-13v1m0 11v1m1-20v1m0 2v1m0 1v1m0 6v1m0 6v1m0 2v2m1-25v1m0 7v1m0 2v2m0 4v1m0 2v2m0 4v1m0 2v1m1-25v1m0 13v1m0 4v1m0 2v1m1-26v1m1 26v1m1-27v1m0 1v1m0 1v1m0 5v1m0 5v1m1-20v1m0 4v1m0 9v1m0 1v1m1-15v2m0 12v1m0 2v1m0 2v1m0 1v2m1-19v1m0 2v1m0 3v1m0 6v1m1-19v1m0 5v1m0 5v1m0 3v1m0 5v2m1-26v1m0 6v1m0 3v1m0 1v1m0 10v1m0 1v1m1-24v2m0 20v1m0 2v1m1-29v1m0 3v2m0 15v1m0 5v1m1-36v1m0 1v1m0 7v1m0 2v1m0 10v1m0 5v2m0 2v1m1-25v1m0 1v1m0 4v1m0 5v1m1-12v1m1 4v1m0 4v1m0 5v1m1-31v1m0 1v1m0 9v1m1 17v1m0 1v2m1-23v1m0 6v1m0 7v1m0 1v1m0 1v1m1-21v1m0 11v1m0 2v1m0 6v1m0 4v1m1-26v1m0 20v1m0 2v1m1-15v1m0 3v1m1-12v2m0 15v2m1-21v1m0 4v1m0 4v1m0 4v1m1-14v1m0 7v1m0 1v1m0 9v1m1-19v1m0 16v2m1-18v1m0 3v1m0 1v1m1-18v1m0 7v1m0 1v1m0 1v1m0 9v1m0 4v1m0 2v1m1-25v2m0 8v1m0 6v2m1-5v2m2-8v1m0 16v1m1-2v2m1-31v1m0 24v1m0 1v2m0 1v2m1-34v1m0 14v1m0 3v1m0 5v1m1 1v1m1 0v2m1-18v2m0 15v1m2-21v1m0 5v2m1 16v1m1-1v1m1-28v1m0 17v1m0 1v1m0 6v1m1-36v1m0 4v1m0 1v1m1 2v1m0 12v1m2 3v2m0 1v1m1-12v1m0 7v1m0 2v1m0 3v1m1-26v1m0 14v1m0 3v1m1-19v1m1-4v1m0 16v2m0 1v4m1-15v1m0 16v1m1-22v1m0 13v2m0 1v1m0 1v1m1-19v1m0 1v2m1 0v2m0 1v1m0 2v1m0 5v2m1 1v1m1-17v1m0 2v1m0 5v1m0 3v1m1-31v1m0 9v1m0 2v1m0 2v1m0 11v1m0 1v1m0 2v1m1-17v1m0 1v1m0 2v2m0 7v1m1-17v1m1-4v1m0 2v2m0 7v1m1-14v1m0 9v1m0 3v1m0 1v1m1-18v1m0 6v1m0 1v1m0 1v1m0 8v2m1-21v1m0 2v1m0 5v1m0 8v1m1-17v1m1-11v2m0 27v1m1-16v4m0 6v1m1-21v1m0 1v1m1-8v1m0 1v1m0 3v1m1 3v1m0 13v1m2-3v1m1-24v1m0 21v1m0 5v1m0 4v1m1-31v1m0 8v1m0 1v1m0 6v1m0 3v1m0 7v1m1-30v1m0 4v1m0 19v1m0 3v1m1-30v1m0 7v1m0 15v1m0 2v1m1-22v1m0 3v2m0 13v1m1-28v1m0 4v2m0 2v1m0 2v3m0 15v1m1-23v3m0 7v1m0 8v2m0 3v1m1-14v1m1-14v1m1-11v1m0 2v4m0 14v1m0 15v1m1-41v1m0 15v1m0 6v1m0 2v2m0 4v1m0 3v1m0 1v1m1-7v2m1-31v1m0 14v1m0 14v2m0 3v1m1-24v2m0 1v3m1-3v1m0 1v1m0 10v1m1-27v1m0 7v2m0 2v1m1 1v1m0 17v2m1-12v1m0 2v2m0 7v1m1-21v2m0 1v1m0 2v1m0 2v1m0 9v1m1-27v1m0 2v1m0 7v1m0 4v1m0 1v1m0 6v1m1-10v1m0 6v1m0 2v1m1-32v1m0 16v2m0 2v1m0 6v1m1-19v1m0 8v1m0 2v2m0 1v2m0 1v1m0 3v1m2-13v2m0 6v1m1-17v1m1-1v1m1-9v1m0 2v1m0 6v1m0 4v2m0 5v1m1-7v3m0 1v1m0 8v1m1-36v1m0 14v1m1 0v1m0 2v1m0 8v1m1-19v1m0 1v1m0 1v2m1-10v1m0 2v1m0 15v1m1-4v1m0 3v1m0 5v1m1-5v1m0 1v1m1-12v2m1-16v1m0 1v1m1-4v1m0 18v1m0 7v1m1-21v1m0 6v1m0 7v1m1-15v2m0 14v1m0 3v1m1-29v1m0 5v1m1 6v1m0 16v1m1-25v1m0 6v1m0 3v1m0 1v2m0 5v2m1-4v1m1-21v2m0 1v1m0 2v1m0 3v4m0 1v1m0 1v1m0 2v2m1-16v3m0 13v1m0 1v1m0 2v1m1-14v1m0 6v1m0 2v1m1-18v3m0 1v1m0 1v1m0 8v1m1 4v1m1-14v1m0 4v1m0 2v1m0 4v1m1-15v1m0 1v2m1 2v1m1-5v1m0 5v1m2-6v1m0 8v1m3-12v1m0 11v1m1-1v2m1-15v1m1 13v1m1-2v1m1-16v1m0 1v1m0 11v1m1-14v1m0 3v2m0 1v1m1-7v1m0 3v1m1 7v1m1-1v1m1-34v1m0 19v1m0 2v1m1-22v2m0 18v1m0 8v1m1-9v1m0 7v1m1-9v2m1-23v1m0 13v1m0 6v1m1 4v1m0 6v1m1-43v1m0 4v1m0 4v1m0 19v1m1-23v1m0 20v1m0 7v1m1-34v3m0 32v1m1-8v1m0 1v1"/>
<path stroke="#0003fc" d="M51.5 502v1m0 1v1m0 3v1m2-8v1m0 4v1m0 2v1m0 1v2m1-3v1m0 4v2m2-18v1m5 34v1m2 2v1m1-30v1m1 10v1m0 11v1m0 4v1m1-35v1m0 18v1m1-12v1m0 12v1m1 10v1m0 2v1m1-21v2m0 16v1m1-42v1m0 13v1m1 1v1m1 9v1m1-25v1m0 12v1m1-3v1m3 5v1m7 23v1m2 0v1m9-2v1m2-13v1m1 0v1m3-4v1m0 7v1m2-12v1m0 13v1m1-15v1m1 12v1m0 2v1m2-18v2m2 12v1m2-9v1m1-1v1m5 0v1m2 2v1m3 1v1m2 1v1m3-170v1m0 157v1m0 9v1m1-9v1m0 5v1m2-7v1m1 5v2m2-170v1m0 169v1m1-178v1m0 177v1m1-179v1m0 5v3m1-13v1m0 4v1m0 3v1m0 162v1m1-168v1m1-5v1m0 169v1m0 11v1m1-184v1m0 12v1m1-13v1m0 4v1m0 9v1m1-17v2m1 173v1m1-176v1m0 162v2m0 8v1m0 5v1m1 2v1m0 1v1m1-27v1m0 9v1m0 2v1m1-11v1m0 12v1m1-10v1m1-9v1m0 14v1m1-12v1m1 2v2m2 3v1m0 9v1m1 3v1m1-21v1m0 6v1m1 6v1m0 6v1m1-24v1m0 21v1m4-174v1m0 140v2m1-144v1m0 3v1m0 137v1m0 3v1m0 22v1m0 3v1m1-173v1m0 2v1m1 157v1m0 1v1m0 1v1m1-20v1m0 1v2m1 7v1m0 1v1m0 13v1m1-25v1m0 2v1m1-10v1m0 1v2m2 1v1m0 3v1m0 6v2m0 3v1m0 6v1m0 1v1m1-30v2m0 2v2m0 4v1m0 3v2m0 5v2m0 6v1m2-22v1m0 13v1m0 5v1m1-8v3m0 2v1m1-19v1m0 2v1m2-6v1m0 4v1m0 5v1m0 15v1m1-33v1m2 2v1m0 3v1m0 2v1m1-4v3m0 14v1m1-26v1m0 7v2m0 3v1m0 6v1m0 6v1m1-16v1m1-13v1m0 2v2m0 2v1m0 1v1m0 4v1m1-10v1m0 1v1m0 1v1m1-2v1m0 1v1m1-8v1m0 1v1m0 23v1m1-17v1m0 10v1m1-15v1m0 2v2m1-4v1m0 19v1m2-29v2m0 1v2m0 2v1m0 2v1m2 8v1m0 1v1m1-19v1m0 2v2m1 0v1m1-2v2m0 2v1m1-9v1m0 3v1m0 1v3m0 14v1m1-27v1m0 2v1m0 1v1m0 1v1m2-8v1m0 16v1m0 6v1m0 1v1m1-20v1m0 2v1m1-9v1m0 3v2m0 15v1m2-1v1m1-17v1m1-3v2m0 4v1m1-9v2m1 2v3m2-5v1m0 2v1m0 1v1m0 1v3m1-8v2m0 7v1m0 5v1m1-13v1m0 2v1m0 16v1m2-25v1m0 13v2m3-3v1m4 3v1m1-17v1m0 15v1m2 1v1m2-1v1m1-3v2m4-11v2m1-7v1m1-1v1m1 2v1m0 9v2m2 1v1m1-4v2m2-12v1m1 0v1m0 3v1m1-1v1m1-5v1m0 1v1m0 10v1m2-22v1m0 14v1m2-14v1m0 13v1m0 1v1m2-5v1m1-2v1m0 1v1m0 2v1m1-3v1m0 4v1m1-8v1m0 5v1m2-12v1m0 10v1m1-12v1m1-1v1m1-2v1m1 3v1m1-10v1m0 17v1m1-1v1m2-18v1m2 14v1m1-17v1m0 21v1m1-16v1m1 9v1m2-4v1m0 1v2m1-9v1m0 6v1m1-17v2m0 10v1m1 5v1m1-9v1m2-6v2m0 3v1m0 4v1m0 2v1m2-6v1m1-3v1m1 1v1m0 4v1m1-3v1m2-1v1m3-1v1m3-1v1m11-16v1m0 2v1m0 8v1m2-10v1m0 2v1m1-3v1m0 5v1m1-11v1m0 1v1m1 0v1m0 12v1m1-8v1m0 3v2m1 2v1m1-8v1m0 3v1m1-12v1m0 4v1m0 5v1m1-9v2m0 5v1m5-11v1m0 7v1m0 1v1m3-13v1m0 2v4m1 0v1m1-13v1m0 7v1m8 9v1m2-7v1m2 6v1m1-8v1m0 9v1m1-14v1m0 4v1m3 5v1m1-18v1m0 4v1m0 5v1m1-8v1m2 11v1m2-5v1m2-3v1m1 8v1m2-4v2m4-11v1m0 4v1m0 4v1m1-2v1m1-12v1m1 7v1m2-2v1m1 2v1m1-11v1m0 7v1m1 3v2m5-7v1m1 3v1m1-4v1m1-4v1m0 5v1m2-14v1m2 7v2m1-8v1m3 10v1m5-6v2m3 0v1m1-3v2m0 4v1m4-2v1m0 3v1m7-11v1m0 6v1m6 1v1m1-2v1m2-10v1m0 5v1m0 2v1m1-8v1m1 5v1m2-5v1m0 2v1m1-8v1m1 4v1m2-5v1m2 0v1m1 3v1m0 6v1m1-14v1m0 11v1m6-20v1m2 2v1m2-1v1m0 5v2m0 3v1m1-10v1m2-5v2m0 2v2m3-4v1m0 4v1m0 1v1m1-2v1m0 5v1m1-7v1m0 4v1m1-12v1m1 11v1m1-3v1m1 2v1m2-11v1m0 2v1m0 4v1m2-14v1m0 10v1m1-7v1m0 8v1m2-19v1m0 15v1m1-17v1m0 19v1m4-17v1m1-3v1m1 5v1m0 3v1m1 6v1m1-12v1m1-10v1m2-1v1m0 21v1m1-24v1m0 5v1m0 17v1m1-15v1m0 9v2m1-4v1m1 2v2m1-4v1m1-25v1m0 4v1m1-3v1m0 14v1m1 11v1m1-8v1m0 2v1m1 0v1m0 2v1m1-29v1m0 12v1m0 12v1m1-24v1m0 6v1m1-9v1m0 6v1m0 9v2m0 6v1m1-12v1m0 10v1m1-34v1m0 16v1m0 13v1m1 1v1m1-3v1m1-11v1m1-6v3m0 2v1m0 5v1m0 1v1m1-15v2m1-16v1m0 2v1m0 4v1m0 2v2m0 3v1m0 4v1m1-24v1m0 23v1m0 3v1m1-30v2m0 7v1m1-1v2m0 9v1m1-8v1m0 4v1m0 2v1m0 6v2m1-21v1m1 9v1m0 1v4m1-20v2m1 13v1m0 1v2m0 1v1m0 2v1m0 3v1m1-33v1m0 13v1m0 1v1m0 4v2m2-11v1m0 12v2m1-21v1m0 3v2m0 1v1m0 18v1m0 1v1m1-29v1m0 25v1m0 3v1m1-16v1m1-17v1m0 10v1m0 12v1m0 2v2m0 2v1m1-16v1m1-18v1m0 10v1m0 4v1m0 1v2m0 10v1m2-29v5m0 2v1m0 10v2m0 2v1m0 1v1m0 2v1m0 2v1m1-44v1m0 10v2m1-4v2m0 32v1m1-27v1m0 5v1m0 1v2m0 1v1m0 2v4m0 1v1m1-29v1m0 24v3m0 6v1m1-33v1m0 16v1m1-16v1m0 16v2m0 2v3m1-27v1m0 16v1m0 1v2m0 2v1m1-36v1m0 9v1m0 5v1m0 11v2m0 2v1m0 4v1m0 1v1m0 4v1m1-32v1m0 4v1m0 2v1m0 3v1m0 13v1m0 2v1m1-22v1m0 2v1m0 1v1m1-18v1m0 11v2m0 1v1m0 3v1m0 7v1m1-26v1m0 12v1m0 1v1m0 15v1m0 2v1m1-33v1m0 6v1m0 20v1m1-37v1m0 4v1m0 11v1m0 3v1m0 2v2m1-29v3m0 1v1m0 27v1m0 3v2m1-36v1m0 1v3m0 2v1m0 2v1m0 25v1m0 4v1m1-39v1m0 2v1m0 5v1m0 1v1m0 4v2m0 2v2m0 3v1m0 7v1m0 3v1m0 1v1m1-23v1m0 17v1m1-22v1m0 13v1m0 4v1m1-27v1m0 7v1m0 10v1m0 1v1m0 3v1m1-15v2m0 1v2m0 15v2m2-46v1m0 8v1m0 11v2m0 2v1m0 1v1m0 3v1m0 5v1m1-28v1m0 10v1m0 1v1m0 4v1m0 1v1m0 5v3m1-28v1m0 1v1m0 6v1m0 2v1m0 12v1m0 2v1m1-38v1m0 7v1m0 2v1m0 13v3m1-30v1m0 10v1m0 18v1m0 1v2m0 1v1m0 2v1m0 5v1m1-41v1m0 1v1m0 1v1m0 1v1m0 5v1m0 4v2m0 1v3m0 1v1m1-22v1m0 23v1m0 1v1m0 1v1m1-28v2m0 18v1m0 9v1m0 1v2m1-7v1m0 6v1m1-29v1m0 5v2m0 1v1m0 8v1m0 2v1m1-27v1m0 7v1m0 3v1m0 1v1m0 1v1m0 5v1m1-16v2m0 27v1m1-39v1m0 3v1m0 5v1m0 7v4m0 3v1m0 3v1m1-21v5m0 11v1m0 3v1m0 2v2m0 1v1m1-33v1m0 1v5m0 5v1m0 16v2m1-34v1m0 12v1m0 7v2m0 13v1m1-32v2m0 1v1m0 17v2m1-15v1m0 3v1m0 3v1m0 2v1m0 3v2m1-20v1m0 2v1m0 3v1m0 9v1m1-12v1m0 11v1m0 2v1m1-30v1m0 20v2m0 2v1m0 2v1m0 3v1m1-33v1m0 2v2m0 2v1m0 20v1m1-30v1m0 19v1m0 12v1m2-8v1m0 6v1m1-29v2m0 7v1m0 2v1m0 5v1m0 10v1m1-26v1m0 2v1m0 1v1m0 1v1m1-3v2m0 3v2m0 2v3m0 3v2m1-28v1m0 5v2m0 1v1m0 6v1m1 17v1m1-16v1m0 1v1m0 2v1m1-15v2m0 3v1m0 3v1m0 1v1m0 2v2m1-25v1m0 15v2m0 7v2m0 2v1m1-33v1m0 25v2m0 2v1m1 2v1m1-18v1m0 3v2m0 10v2m1-15v1m0 2v1m0 5v1m1-21v2m0 11v1m1-12v4m0 13v1m0 1v1m0 2v1m1-19v2m0 1v1m1-7v1m0 2v1m0 1v1m0 5v2m0 4v3m1-20v1m0 5v1m0 1v1m1-8v1m1-4v1m0 4v1m0 3v1m0 6v1m0 3v1m0 6v1m1-27v1m0 10v1m0 3v1m0 6v1m0 3v1m1-25v1m0 6v1m0 13v1m0 2v1m1-25v1m1-1v1m0 6v1m0 4v2m0 8v2m1-36v1m0 1v1m0 4v1m0 7v1m0 19v1m1-1v1m1-23v2m0 1v4m0 9v1m0 5v1m1-34v1m0 6v1m0 3v1m0 7v1m1-9v1m0 18v1m0 2v1m1-37v3m0 7v1m0 12v1m0 1v1m0 8v1m1-20v3m0 14v1m0 4v1m1-38v1m0 4v2m0 1v1m0 8v3m0 3v1m0 4v2m0 1v2m1-19v1m0 9v1m0 2v1m0 6v1m1-24v1m0 9v1m0 6v1m0 2v1m1-20v1m0 5v1m1-5v1m0 15v2m0 1v1m1-19v1m0 4v1m0 3v2m0 7v1m1-14v3m0 1v1m0 9v1m1-19v1m0 3v1m0 4v1m0 1v1m1-15v1m0 2v1m0 20v1m2-28v2m0 11v1m0 8v1m1-28v1m0 14v1m0 4v1m0 2v1m0 1v1m1-3v1m0 4v1m0 1v1m1-23v1m0 2v1m0 14v1m1-18v1m0 12v3m0 2v1m0 4v1m1-24v1m0 4v1m0 1v1m0 7v1m1-12v1m0 2v1m2-15v1m1 0v2m0 22v1m0 1v1m1-31v2m0 4v1m1 15v3m1-17v1m0 9v1m0 1v1m0 12v1m1-26v2m1-6v1m0 1v1m0 12v1m0 7v1m1-25v2m0 1v1m0 3v1m0 1v1m0 2v2m0 1v1m0 4v1m0 1v1m0 1v1m1-19v1m1-10v1m0 17v1m0 2v1m0 2v1m0 7v2m1-31v2m1 4v1m0 9v1m0 2v1m0 3v1m1-20v2m1-2v2m0 8v1m0 4v2m0 8v1m1-36v1m1 9v2m0 2v1m0 10v1m0 8v1m1-34v1m0 3v1m0 6v1m0 14v1m1-10v1m0 1v1m1-15v2m0 8v1m0 4v1m0 2v1m1-14v1m0 2v1m0 4v1m0 13v1m1-24v1m0 9v1m0 14v1m1-24v2m0 1v1m0 6v1m0 2v1m0 10v1m1-25v1m1 5v1m0 17v1m1-36v2m0 3v1m1 5v1m0 1v3m0 4v3m0 1v1m0 2v1m1 5v1m1-32v1m0 5v1m0 3v7m1-10v1m0 2v1m0 3v2m0 4v1m0 11v1m2-14v1m0 2v1m0 3v2m0 3v1m1-36v2m1 16v1m0 6v1m1-16v1m0 4v1m0 2v1m0 14v1m1-29v1m0 1v2m0 11v1m0 7v2m1-26v1m0 5v1m0 2v1m0 1v1m0 2v2m0 16v2m1-26v1m0 1v1m1-6v3m0 7v3m0 8v1m1-11v1m0 3v1m1-16v1m0 1v2m0 12v1m0 8v1m1-27v1m0 16v1m0 1v1m0 2v1m1-26v1m0 6v1m0 6v1m0 6v2m1-18v1m0 4v1m0 2v1m0 5v1m0 2v1m0 5v2m1-34v1m0 7v3m0 1v1m0 18v1m1-22v1m0 2v1m0 3v1m0 16v3m1-27v1m0 1v2m0 12v1m0 1v1m0 1v2m1-32v1m0 1v1m0 5v1m0 15v1m1-12v1m0 5v2m0 7v1m0 1v1m1-9v1m0 2v1m0 4v1m0 3v1m1-27v2m0 1v2m0 1v1m0 4v1m0 6v1m0 9v1m1-23v1m0 1v2m0 2v3m0 4v1m1-26v1m0 8v1m0 10v2m0 3v1m0 4v1m1-11v1m0 3v2m0 8v1m1-7v1m0 1v1m1-23v1m1 17v2m0 2v1m1-17v1m0 13v1m2-23v1m0 11v1m0 4v1m0 5v1m0 4v1m1-25v1m0 3v3m0 1v1m0 7v2m1-11v1m0 16v1m1-32v1m0 12v1m0 6v1m0 6v1m1-31v2m0 2v1m0 7v1m0 4v2m0 2v1m1-23v1m0 1v1m0 7v1m0 16v1m0 6v1m2-24v1m0 1v1m0 17v1m1-23v1m0 4v1m0 2v2m0 13v1m1-27v1m0 11v1m1-13v1m0 21v1m0 1v1m1-26v1m0 4v1m0 8v2m0 4v1m0 1v3m0 2v1m1-6v1m1-14v1m1-2v1m1-3v1m0 3v1m0 3v1m0 2v1m0 3v1m0 1v1m1-22v1m0 16v2m0 5v1m1-22v1m0 4v3m0 4v1m0 4v1m0 6v1m1-10v1m0 2v1m0 2v1m0 1v1m1-23v1m0 7v1m0 3v1m0 4v1m0 1v2m1-12v1m0 2v5m0 6v1m2-24v1m0 2v1m0 13v1m1 0v1m1-6v1m1-3v1m0 5v1m0 1v1m0 3v2m1-15v1m0 1v1m1-5v2m0 1v1m0 5v1m1-10v1m1-1v1m0 10v1m2-6v1m2-6v1m1-4v1m0 13v1m1-10v1m1-2v1m1 4v1m0 3v1m1 3v2m1-8v1m1-8v1m0 4v3m0 5v1m1-34v1m0 19v1m0 1v2m0 3v2m2-11v1m0 5v1m1-31v1m0 25v1m0 11v1m1-36v1m0 32v1m1-38v2m0 1v1m0 22v2m1-28v1m0 28v1m0 3v1m1-26v1m0 27v1m0 3v1m1-35v1m0 17v1m0 10v2"/>
<path stroke="#0020e2" d="M52.5 504v1m2 7v1m2-15v1m0 38v1m6-12v1m0 7v1m1-20v1m0 8v1m1-1v1m0 4v1m1-12v1m2-11v1m0 11v1m0 14v2m1-28v1m0 18v1m0 3v1m1-34v1m1-4v1m0 36v1m0 3v1m1-24v1m2 12v1m1-24v1m2-1v1m0 6v2m1-1v1m0 1v1m0 8v1m1-20v1m0 3v1m25 12v1m0 1v1m0 9v1m3-12v1m1 15v1m1-14v1m1 1v1m4 4v1m2-6v1m2 2v1m5-3v1m0 9v1m1-6v2m2-2v2m1-172v1m2 165v1m5-175v1m0 10v1m1-5v1m0 164v2m1-5v1m0 1v1m1-170v1m0 3v1m1 168v1m1-177v1m0 163v1m1-169v1m0 4v2m0 8v1m1 2v1m0 154v1m2-158v1m0 1v1m0 149v1m1-2v1m1-9v1m0 16v1m4 2v1m1-26v1m1-10v1m1 30v1m1-5v1m1-20v1m0 16v1m0 4v1m2 4v1m1-20v1m0 17v2m1-27v1m0 7v1m1-7v1m1 26v1m1-29v1m1 2v1m0 1v1m0 19v2m1-28v2m1 2v1m0 16v1m0 1v1m0 3v3m1-31v1m1-1v1m2 4v1m0 1v1m0 2v1m0 10v1m1 5v1m0 2v2m1-25v1m0 5v1m1-3v1m0 6v1m0 8v1m2-20v1m0 20v1m1-3v1m3-18v1m0 10v1m0 1v1m1-23v1m1 13v1m1-5v1m0 20v1m1-19v1m1-10v1m0 12v1m0 4v1m0 1v1m0 1v1m2-20v1m2-3v2m0 1v1m0 6v1m2-1v1m0 1v1m0 8v1m1-11v1m0 1v1m1-5v2m2-13v1m0 5v2m2 18v1m1-17v1m1-10v1m0 6v1m1-5v2m2-3v1m1 2v1m0 4v1m1 14v1m1-21v1m0 2v2m1 16v1m1-15v1m2-10v1m0 2v1m2-2v1m0 2v1m5-4v1m1 7v1m1-3v1m0 2v1m1 3v1m0 1v1m2-9v1m0 8v2m1 1v1m0 1v1m7-1v1m2-2v1m2-14v2m1 9v1m1-8v1m1-9v1m0 9v1m1-1v1m2 6v1m2-6v1m3-3v1m0 2v1m2-8v1m3 3v1m1-5v1m5 7v1m1-5v1m0 5v1m1-2v1m1-5v1m5 2v1m1-4v1m1-10v1m0 16v1m3-18v1m0 12v2m1-15v1m0 9v1m0 6v1m2-12v1m0 13v1m1-18v1m0 14v1m1-15v1m2-2v1m0 7v1m3-7v1m0 1v1m0 9v1m1-2v1m1-7v1m2-7v2m1 4v1m2 5v1m1-12v1m0 9v1m1 2v1m15-23v1m0 7v1m3 3v1m1-6v2m1 5v2m0 1v2m0 1v1m1-13v1m0 4v1m1-8v1m0 14v1m0 1v2m1-26v1m0 12v1m1 6v1m0 2v1m1-9v1m7 0v1m0 1v1m1-5v1m1-4v1m7 5v1m1-3v1m3-1v1m3 7v1m1-14v1m2-9v1m0 6v1m0 4v1m1 9v1m1-3v1m0 2v1m1-11v1m0 7v1m3-20v1m0 6v1m2-2v1m0 8v1m2-10v1m3 0v1m2 2v1m0 6v1m2-9v1m0 4v1m2-7v1m0 11v1m6-5v1m4-5v1m1 1v1m2-2v2m0 5v1m2-4v1m2-12v1m0 5v1m0 8v1m2-17v1m5 9v1m1-4v1m0 3v1m0 1v1m3-11v1m6-1v1m6 5v1m9 3v1m3-9v1m2 0v1m0 4v1m3-6v1m0 3v1m3-1v1m1-7v1m1 9v1m1-12v1m2 3v1m0 4v1m2-7v1m1-10v2m0 9v1m0 5v1m1-16v1m2 3v1m4 8v1m0 1v1m2-8v1m1-8v2m0 11v1m3-14v1m1-7v3m0 6v1m4-5v1m1-2v1m1-6v1m0 16v1m1-6v1m2-14v1m1 2v1m0 3v1m0 2v1m1 7v1m0 1v1m2-5v1m1 5v1m1-14v1m0 11v1m1-14v1m1-5v1m3 12v1m0 5v1m1-23v1m2 9v1m1 2v1m0 3v1m0 1v1m1-3v2m0 4v1m1-6v1m1-28v2m1 5v1m0 10v1m0 5v1m0 1v1m0 2v1m1-8v1m1-3v2m1 9v1m1-30v1m0 6v1m0 15v1m0 3v1m2-23v1m1-7v1m0 4v1m1-10v1m0 27v1m0 5v1m2-31v1m0 6v1m0 22v1m1-12v1m0 10v1m1-25v1m0 5v1m1-14v1m0 19v1m1-18v1m0 13v1m0 10v1m2-34v1m1 11v1m1-3v1m0 2v1m0 11v1m0 5v1m0 2v1m1-23v1m1-5v1m0 17v2m0 4v1m1-10v1m0 6v1m0 3v1m1-22v1m0 1v2m0 2v1m0 10v1m0 3v1m1-19v1m0 3v1m1 5v1m0 4v1m0 2v1m1-11v1m0 8v1m0 3v1m1-28v1m0 18v1m0 2v1m0 3v1m1-2v1m1-12v2m0 8v1m1-20v1m1 2v1m0 10v2m0 1v1m1-30v1m0 18v1m1-3v3m0 1v1m0 12v1m1-20v1m0 13v1m1-36v2m0 35v1m2-17v1m0 2v1m0 10v2m0 2v1m2-35v1m0 4v1m0 2v1m1-3v1m0 13v1m0 2v1m1 11v1m1-17v1m1-20v2m0 9v2m0 16v2m0 4v1m1-46v1m0 1v1m0 5v1m0 3v3m0 1v1m0 9v1m0 13v1m1-41v1m0 5v1m0 15v1m0 5v1m0 15v1m1-24v2m0 5v1m1-19v1m0 4v1m0 29v1m1-43v1m0 10v1m0 1v1m0 7v1m0 6v2m2-31v1m0 8v1m0 5v2m0 23v1m1-35v1m0 4v2m0 4v1m0 5v1m0 11v1m2-25v1m1-3v2m0 7v1m0 5v1m0 6v1m1-12v1m0 6v1m1-11v1m0 2v1m1-22v1m0 4v1m0 1v1m0 8v1m0 1v1m0 8v1m0 5v1m0 3v1m0 5v2m1-21v1m0 7v1m0 1v1m1-24v1m0 1v1m0 4v1m1-11v1m0 1v1m0 2v1m0 3v1m0 2v4m1-26v1m0 1v1m0 34v1m0 3v1m1-32v1m0 3v1m0 13v1m1-17v1m0 18v1m0 11v1m1-33v1m0 1v1m0 8v1m0 8v1m0 3v1m2-32v1m0 1v1m0 24v1m0 13v1m1-23v1m0 4v1m0 2v1m1-9v2m0 19v1m1-23v2m0 6v1m0 4v1m0 2v1m1-12v1m0 6v2m0 2v1m0 3v1m0 3v1m1-12v1m1-11v1m0 2v1m1 3v1m1-18v1m0 12v1m0 1v2m0 8v1m2-33v1m0 4v1m0 2v2m0 2v1m0 13v2m0 4v2m1-13v1m0 4v1m1-6v2m0 12v1m0 1v1m1-15v1m0 9v1m0 4v1m1-18v2m0 12v1m1-35v1m0 19v1m0 7v2m2-17v1m1-22v1m0 9v1m1 2v1m0 11v1m1-17v1m0 9v2m0 2v1m1 5v1m0 3v1m1-15v1m0 3v1m0 7v1m0 8v1m1-25v1m0 6v1m0 6v1m1 1v1m1 10v1m1-36v1m1 7v1m0 1v1m0 4v1m0 2v1m0 17v1m2 0v1m1-29v1m0 10v1m0 1v2m1-16v1m0 2v1m0 2v1m0 3v1m0 6v1m0 1v1m1-18v1m0 5v1m0 6v2m1 6v2m1-24v1m0 1v1m0 5v1m0 14v2m1-13v1m0 3v1m0 1v2m0 7v1m1-33v1m0 9v3m0 14v1m0 3v1m1-26v2m0 2v1m1 0v1m0 2v1m1-17v1m0 6v1m0 1v1m0 5v1m0 2v1m1-12v1m0 16v1m0 6v1m1-21v1m0 18v1m1-29v1m0 2v1m0 9v2m0 14v1m1-23v1m0 1v1m0 1v4m0 13v1m1 2v1m1-24v1m0 16v1m1-26v1m0 8v1m0 8v1m0 4v1m1-17v1m0 3v1m0 12v1m1-4v1m0 3v1m0 5v1m1-17v1m0 1v1m0 12v1m1-31v1m0 1v2m0 21v1m1-14v1m0 2v1m0 3v1m0 2v1m1-4v1m0 5v1m0 5v1m0 1v1m1-28v1m0 8v1m0 1v1m0 1v2m1-11v1m0 5v3m2-20v1m0 1v1m0 1v3m1-4v1m0 15v1m0 1v1m0 11v1m1-12v2m0 5v1m1-19v2m1 20v1m1-25v1m0 4v2m0 1v1m1-5v1m0 6v1m0 13v1m2-32v1m0 5v1m0 3v1m0 1v1m1-13v1m0 20v1m0 1v1m0 1v1m0 1v1m1-1v1m1-13v2m1-10v1m0 2v1m0 19v1m1-12v1m0 11v1m1-36v1m0 3v1m0 17v1m0 2v1m1-10v1m0 2v1m0 3v1m0 2v1m0 3v2m1 2v1m1-18v1m0 1v1m1-13v1m0 7v1m1-7v2m0 2v2m0 10v1m1 7v1m1-23v1m0 10v1m0 8v1m1 2v1m1 0v1m1-33v1m0 1v1m0 22v1m1-21v1m0 5v1m1-11v1m0 11v1m0 4v1m1-6v2m0 1v1m0 1v2m1 0v1m0 1v1m1-4v1m0 8v1m1-14v1m0 2v1m0 1v1m2-25v1m0 4v1m0 3v1m1 14v1m0 1v1m0 8v1m1-14v1m0 3v1m0 8v1m1-35v1m0 33v1m1-20v1m0 8v1m2-22v1m0 1v1m0 16v1m1-15v1m0 10v3m1-17v1m0 5v1m0 8v1m0 5v1m1-12v1m0 16v1m1-20v2m0 5v4m0 6v1m1-32v1m0 1v1m0 5v1m1 26v1m1-19v1m0 15v1m0 2v1m1-31v1m0 26v1m1-22v1m0 13v1m0 8v1m1-15v2m0 4v1m0 2v1m1-22v2m0 10v1m1-14v1m0 1v2m0 6v1m0 6v1m0 5v1m0 4v1m1-22v1m0 16v1m1-35v1m0 34v1m1-19v1m0 1v3m0 12v1m1-35v2m0 11v1m1-2v3m0 4v1m1 10v2m1-20v1m0 2v1m1-7v1m1 17v1m0 3v1m1-26v2m0 17v1m0 5v1m1-3v1m1-15v1m0 19v1m1-8v1m0 3v1m1 1v1m2-17v1m0 2v1m0 1v1m0 2v1m0 1v1m0 8v1m1-23v1m0 1v1m0 3v1m0 6v1m0 7v1m1-33v1m0 30v1m1-26v1m0 6v1m0 6v1m0 1v1m0 8v1m1-30v1m0 2v1m0 4v1m0 4v1m0 3v1m0 3v2m1-21v1m0 5v1m0 12v1m0 1v1m0 2v1m1-7v2m2-13v1m1 4v1m0 1v1m0 15v1m1-16v1m0 3v1m0 9v1m1-19v1m0 4v1m1-12v2m0 18v2m0 3v1m1-25v1m1 6v1m0 13v1m1-17v1m0 1v1m0 6v1m0 8v1m1-27v1m0 20v1m1 3v1m1-22v1m0 13v1m1-9v1m0 1v1m0 4v1m1 2v2m1-2v2m1-20v1m0 4v1m1 6v1m1 0v1m0 1v1m0 9v1m2-4v1m1-10v1m0 5v3m0 3v1m2-5v1m1-12v1m0 9v1m2 2v1m0 1v1m4-17v1m0 2v1m0 3v1m1 0v1m1-25v1m0 2v1m0 23v1m1-2v3m1-30v1m0 21v2m0 7v1m1-34v1m0 3v1m0 25v1m1-1v1m0 2v1m2-37v1m0 36v1m1-6v1m1-34v1m0 3v2m0 2v1m0 28v1m1-32v1m0 21v1m1-30v1m0 4v1m1-2v1m0 28v1m0 2v1"/>
<path stroke="#003dc7" d="M51.5 509v1m0 1v1m5 24v1m1-22v1m6-9v1m3-2v2m0 15v1m1-15v1m0 22v1m1 2v2m1-3v1m3-34v1m0 14v1m28 5v1m2-1v1m8 2v1m1 0v1m4 9v1m8-170v1m0 164v1m1-1v1m1-170v1m3 169v1m0 3v1m2-7v1m3-167v1m1-9v1m2-6v2m0 178v1m1-178v1m0 169v1m1-168v1m1-2v1m1 178v1m2-184v1m2 160v1m0 6v1m2 14v1m2-5v1m1-12v1m1-15v1m1-11v1m5 23v1m1 16v1m2-3v1m4-17v1m0 7v1m1-23v1m5 1v1m0 6v1m0 2v1m1-2v1m1-13v1m1 4v1m0 15v1m0 10v1m1-4v1m2-29v1m1-1v1m0 7v1m0 2v1m2 1v1m3-10v1m0 8v1m4-6v1m0 12v1m0 3v1m0 1v2m2-13v1m0 1v1m1-4v1m1 1v1m0 4v1m2-9v1m2 11v1m3-19v1m0 5v1m6-10v1m0 17v1m0 6v1m3-27v1m1 0v1m0 4v1m2 1v1m0 2v1m3-4v1m0 18v1m1-24v1m0 7v1m0 12v1m2-13v1m1 6v1m1 3v1m1-4v1m2-20v1m2 21v1m3-13v2m2 10v1m1-10v1m1-7v1m2 18v1m7-10v1m5-10v1m3 16v1m2 0v1m1-11v1m2 6v1m3-6v1m0 6v1m2-5v1m6-1v1m1 1v1m6-16v1m0 7v1m2-8v1m2 14v1m4 0v2m4-10v1m1 7v1m1-16v1m0 14v1m1-4v1m1-2v1m14-21v1m2 12v1m1-14v1m2 0v1m0 12v1m0 9v1m3-27v1m7 4v1m1-3v1m0 1v1m2 11v1m1-11v1m0 9v1m15-4v1m1-4v1m0 12v1m1 1v1m3-23v1m2 1v1m0 17v1m6-13v1m3 0v1m7-8v1m1 18v1m2-5v1m1-1v1m0 2v1m3-13v1m2 12v1m1 0v1m2-13v1m1-9v1m2 16v1m2-6v1m1-4v1m5 1v1m3-1v1m4 0v1m1 4v1m1-7v1m1 9v1m1-12v1m13 1v1m2 2v1m1 4v1m3-1v1m2-7v1m9 2v2m4-10v1m3-6v1m1 7v1m5-10v1m2 16v1m1-11v1m0 4v1m1 4v1m2-23v1m0 17v1m3-10v1m0 6v1m9-10v1m2 5v1m2-7v1m3-2v1m3-3v1m2-6v1m0 21v1m4-26v1m1-6v1m0 4v1m0 9v1m1-10v1m2 22v1m1-7v1m2 3v2m2-24v1m0 4v1m0 10v1m3 4v1m2 2v1m1-26v1m0 5v1m0 12v1m1-16v1m0 21v1m3-18v1m0 3v1m0 5v1m0 7v1m4-3v1m1-12v1m0 3v1m2-29v1m0 2v1m1 11v1m2-1v1m1 7v1m2 13v1m1-8v1m1 2v1m1-15v1m0 3v1m1-18v1m1-5v1m0 4v1m2 21v1m1-38v1m0 15v1m0 3v1m0 1v2m1-10v1m0 24v2m2-26v1m0 1v1m0 1v1m1-9v2m0 25v1m0 5v1m1-9v1m2-7v1m3-6v2m0 13v1m0 1v1m2-26v1m2-3v1m0 3v1m0 5v1m0 2v1m0 1v1m1-20v1m0 10v1m1-6v1m0 28v1m3-43v1m1 27v1m2-32v1m0 9v1m0 27v2m1-22v1m0 10v1m1-20v1m0 7v1m2-6v1m0 9v1m1-5v1m0 4v1m0 19v1m4-13v1m2 2v1m1-17v1m1 1v1m0 14v2m1-33v1m1 27v1m3-9v1m0 8v1m0 5v2m1-27v1m0 3v1m0 8v1m1-12v1m0 12v1m0 2v1m1 2v4m0 1v1m1-26v1m0 16v1m1-21v1m0 18v1m0 3v1m4-17v1m0 4v1m0 4v1m1-15v1m0 25v1m1-8v1m2-8v1m0 7v1m1-20v1m0 4v1m0 18v1m3-22v1m0 16v1m1-19v1m3-13v1m0 15v1m0 17v1m1 1v1m1-7v1m0 1v1m1-13v1m0 1v1m0 2v1m2-17v1m1 26v1m1-27v1m1 6v1m0 13v1m1-1v1m0 5v1m3-24v1m5-10v1m1 22v1m1 2v1m1 4v1m3-22v1m0 7v1m0 11v1m2-27v1m3 8v2m2 8v1m0 5v1m1-27v1m0 20v1m0 4v1m1-25v1m0 5v1m0 1v1m2-13v1m1 28v1m1-18v1m0 14v1m0 1v1m1-16v1m1-3v1m2-2v1m0 6v1m0 1v1m3-6v1m1 15v1m1-8v1m1-9v1m0 3v1m1-12v1m0 2v1m3-7v1m4 22v1m1-29v1m0 21v1m0 4v1m1 0v1m1-31v1m0 15v1m1 9v1m1-18v1m0 17v1m0 5v1m1-27v1m1-9v1m0 7v1m0 10v1m1-8v3m3 14v1m1-8v1m2-14v1m0 1v1m4 17v1m1-8v1m0 7v1m1-26v1m0 9v1m0 2v1m1-6v1m0 9v1m1-21v1m2 18v1m1-16v1m0 14v1m4-7v1m0 8v1m1-7v1m1-19v1m0 27v1m1-11v1m1 5v1m1-26v1m0 2v1m3 8v1m0 2v1m1-6v1m0 21v1m1-27v1m0 13v1m1-16v1m0 10v1m0 5v1m0 6v1m1-15v1m0 9v1m1-15v1m2 14v1m1-7v1m0 1v1m2 5v1m1-18v1m0 13v1m1-5v1m0 8v1m2-23v1m1 18v1m0 5v1m2-8v1m4-6v1m3 9v1m4-16v1m1 6v1m1-18v1m2-7v1m0 33v1m1-10v1m1-3v1m2-29v1m1 29v1m0 3v1m0 1v1m2-30v1m1-8v1m0 32v1m1-9v1m0 1v1"/>
<path stroke="#005fb1" d="M68.5 506v1m6-1v1m30 28v1m8-9v1m2 5v1m1 3v1m2-1v1m16-3v1m2-185v1m1 178v1m5 5v1m5-19v1m4-16v1m0 29v1m2-3v1m7-26v1m11 21v1m11 4v1m2-17v1m4 5v1m0 12v1m1 0v1m1-18v1m4-14v1m0 26v1m1-26v1m1-1v1m0 11v1m2-12v1m6 13v1m8-3v1m1-6v1m0 18v1m2-21v1m2 16v1m2-1v1m4 2v1m1-2v1m1 1v1m19 0v1m5-9v1m4 7v1m1-16v1m3 5v1m9 6v1m2-10v1m31-12v1m1-5v1m0 1v1m1 2v1m1-7v1m1 2v1m1-2v1m0 1v1m0 22v1m1-25v1m1 2v1m1-6v1m0 3v1m0 11v1m1 9v1m6-24v1m0 19v1m1-23v1m1 6v1m2-2v1m13 13v1m14 2v1m13-12v1m0 5v1m12 6v1m2-14v1m1-5v1m13 9v1m17 6v1m1-7v1m2 2v1m10-5v1m23-4v1m14 9v1m3-16v1m1 13v1m2-11v1m3 10v1m6-27v1m0 7v1m3 12v1m13-3v1m2-11v1m5 5v1m4-23v1m1 13v1m1 8v1m3-13v1m0 7v1m1 9v1m2-8v1m2-3v1m2 6v1m1-11v1m0 12v1m7 1v1m1-30v1m0 22v1m4-6v1m10-21v1m2-8v1m0 23v1m1-24v1m0 13v1m2 16v1m4-19v1m2-6v1m2 8v1m0 5v1m4-2v1m1 13v1m1-19v1m1 14v1m1-17v1m3-4v1m3 21v1m8-8v1m5-4v1m8-9v1m2 12v1m0 1v1m1-6v1m2-13v1m6-1v1m7 0v1m6 16v1m4-18v1m2-4v1m1 1v1m6 12v1m7 3v2m1-7v1m4-2v1m5-19v1m1 17v1m1 3v1m5-27v1m1 10v1m0 1v1m1 14v1m2-14v1m12 3v1m12 8v1m2-14v1m0 2v1m2-3v1m3 11v1m5 2v1m9-6v1m4-10v1m5 15v1m1-8v1m2-9v1"/>
<path stroke="#007c9c" d="M103.5 535v1m11-1v1m4 0v1m13-13v1m23 12v1m7-3v1m17-19v1m13-12v1m5 28v1m4 2v1m8-19v1m7 14v1m8 2v1m15-2v1m2-20v1m19 17v1m3-1v1m17-1v1m20-24v1m2 2v1m1-1v1m1-1v1m3-2v1m7-2v1m1 3v1m2-5v1m1 2v1m3-2v2m8 19v1m20-2v1m6 1v1m20-4v1m13 1v1m29-3v1m58 2v1m47-9v1m12-15v1m0 1v1m15-2v1m1 2v1m1 14v1m25-9v1m10-1v1m9-24v1m71 18v1m3-10v1m28-10v1"/>
<path stroke="#008d8b" d="M113.5 537v1m9-3v1m11 0v1m9-164v1m0 5v1m4 155v1m3-1v1m1-1v1m31 0v1m1 0v1m8 0v1m11-1v1m37-4v1m4 2v1m2-1v1m22-1v1m1-4v1m17-1v1m6-1v1m8-21v1m17 22v1m5-20v1m3 16v1m0 1v1m5-1v1m8-11v1m5 9v1m9-2v1m11-2v1m7-1v1m13 0v1m56-1v2m6-2v1m10 0v1m67-1v1m55-13v1m30-21v1"/>
<path stroke="#009e7a" d="M64.5 506v1m43 30v1m17-2v1m9 1v1m4-4v1m5-161v1m5 160v1m9-1v1m6-25v1m5 2v1m2 22v1m5-1v1m20-14v1m3 11v1m16-23v1m60 6v1m2 12v1m29-26v1m1 5v1m9 0v1m2 19v1m52 0v1m1-4v1m1-3v1m6 4v1m31-4v1m3 2v1m14-2v1m21 0v1m29-6v1m27-32v1m2 17v1m2-27v1m12 9v1m2 3v1m2 0v1m5 2v1m18-13v1m33 9v1m25 6v1m4 0v1m29 9v1m21-15v1m38 14v1"/>
<path stroke="#00b167" d="M53.5 508v1m10 19v1m4-26v1m3 7v1m7-5v1m36 20v1m13 2v1m10-10v1m1 13v1m2 0v1m3-164v1m0 2v1m14 149v1m3-2v1m2-16v1m10 25v2m1-33v1m1 14v1m1 12v1m4 0v1m2-29v1m5 18v1m1 0v1m1-30v1m1 39v1m1-17v1m1-18v1m0 29v1m3-31v1m12 32v1m5-14v1m1 3v1m5 0v1m1-5v1m7 9v1m6-13v1m6 11v1m8-2v1m6-18v1m1 19v1m6-1v1m2-15v1m11 5v1m1 7v1m6-18v1m24 2v1m7-10v1m0 5v1m12-7v1m3 11v1m6 10v1m18-4v1m9 1v1m2-16v1m5 3v1m8-9v1m3 10v1m6 8v1m7-13v1m13 10v1m8 0v1m8-6v1m3 2v1m5-20v1m4 19v1m2 0v1m6-21v1m0 10v1m7 1v1m10 3v1m4-12v1m7 5v1m6-7v1m0 5v1m1-29v1m0 17v1m10 17v1m1-34v1m4 6v1m0 19v1m2-10v1m3-20v1m3 2v1m0 26v1m3-26v1m1 24v1m7-40v1m7 32v1m2-18v1m3-5v1m6 7v1m10 9v1m9 0v1m0 6v1m3-26v1m2-14v1m0 21v1m2-1v1m0 20v1m6-10v1m5-22v1m2-8v1m0 22v1m2-3v1m3-16v1m1-5v1m1 18v1m1-11v1m5 20v1m5-3v1m1-26v1m0 9v1m5-7v2m1-1v1m2 25v1m6-6v1m1-22v1m0 15v1m10 5v1m2-8v2m4-23v1m18 20v1m8 1v1m1-1v1m2-23v1m6 14v1m10 0v1m6 2v1m20 9v1m8-28v1"/>
<path stroke="#00c454" d="M51.5 501v1m5 20v1m1-23v1m1 31v1m1-24v1m4 17v1m2 6v1m2-14v1m1-2v1m1 8v1m1-30v1m0 12v1m3-15v1m1 5v1m1-8v1m0 14v1m0 1v1m2-8v2m20-5v1m2 28v1m3-6v2m1-4v1m4 3v1m1-6v1m7 1v1m1 3v1m0 5v1m3-11v1m1 9v1m5-11v1m1 9v1m3-1v1m7-5v1m3-20v1m0 13v1m2-16v1m1 23v1m4-26v1m0 13v1m5-9v1m2-18v1m1 7v1m3 20v1m1-12v1m1-3v1m1-18v1m0 8v1m0 12v1m1 3v1m1 9v1m1-34v1m2-4v1m1 6v1m0 26v1m1-17v1m1-2v1m0 10v1m2 2v1m1-18v1m0 1v1m0 3v1m3 10v1m3-26v1m2-2v1m0 13v1m0 5v1m1-11v1m0 12v1m2-20v1m0 10v1m1 0v1m4 12v1m0 2v1m2-12v1m0 5v1m2-7v1m2-16v1m1 10v1m3-23v1m1 36v1m1-25v1m1-3v1m1 18v1m4-7v1m2 6v1m3-9v1m4 9v1m2-19v1m3 13v1m0 2v2m2-12v1m0 9v1m2-18v1m2 18v1m3 2v1m2-10v1m3 8v1m2-18v1m0 7v1m1 0v1m5-12v1m4 14v1m2-18v1m1-1v1m0 1v1m2-1v2m0 1v1m4 14v1m4-15v1m2-8v1m2 1v1m2 5v1m0 8v1m1 0v1m1-19v1m1 0v1m0 14v1m1-16v1m2 11v1m4-13v1m1 2v1m0 1v1m2-3v1m3 17v1m2-11v1m4 0v1m9 3v1m7-9v1m3-11v1m10 10v1m0 10v1m1-25v1m1 2v1m3 4v1m6 10v1m4-2v1m1-6v1m1-7v1m2-5v1m2 3v1m2-1v1m4 7v1m1-5v1m6-3v1m4 3v1m2-2v1m8 12v1m1-21v1m1 14v1m1-14v1m1 3v1m5-2v1m4 11v1m1-9v1m0 9v2m5-1v1m5-9v1m0 4v1m2 0v1m1-9v1m5-1v1m11 1v1m1 5v1m4-3v1m1-10v1m1 5v1m3-1v1m8-2v1m1 7v1m1-13v1m6-5v1m2 1v1m2 11v1m1-14v1m1-5v2m2-7v1m0 11v1m3-9v1m0 2v2m1 0v1m0 12v1m1-3v1m0 1v2m3-23v1m3 17v2m0 1v1m1-23v1m0 16v1m16-13v1m1 7v1m1-8v1m1-12v1m2 11v2m0 9v1m1-3v1m2-20v1m4 13v1m1-26v1m1 7v1m0 26v1m2-9v1m0 1v1m2-17v1m0 17v1m1-21v1m1-1v1m0 10v1m1 1v1m1-16v1m0 12v1m3-16v1m0 18v1m0 1v1m0 8v1m1-18v1m2-21v1m1 9v1m1 11v1m0 1v1m0 6v1m1-34v1m0 1v1m2-1v1m1-3v1m0 1v3m0 35v1m1-30v1m0 5v1m0 1v1m0 12v1m1-24v1m0 4v1m1-17v1m0 25v1m1 0v1m1-19v1m0 4v1m3 18v1m2 4v1m4-36v1m0 2v1m0 9v1m1-7v1m0 7v1m4 18v1m3-23v1m0 20v1m1-4v1m1-19v1m1 17v1m1-26v1m2 0v1m1 7v1m0 22v1m1-32v1m1-13v1m0 35v1m1-38v1m0 19v1m3-4v1m1-3v1m0 3v1m3-1v1m1 15v2m1-31v1m1 10v1m2 1v1m0 1v1m1 16v1m0 2v1m1-6v2m1-21v1m0 6v1m0 19v1m2-39v1m0 11v1m1-11v1m0 6v1m1 5v1m0 4v1m0 5v1m3-22v1m0 14v1m1-12v1m3 18v1m0 4v1m1-15v1m1 5v1m0 1v1m1-6v1m2-15v1m0 1v1m1 23v1m0 1v1m1-3v1m1-27v2m3-3v1m1 7v1m0 16v1m1-19v1m0 8v1m2-14v1m2 23v1m1-21v1m2-3v1m2-2v1m0 17v1m3-9v1m1-15v1m0 3v1m0 15v1m4 6v1m1-29v1m2 19v1m1-4v1m1-16v1m1 24v1m0 1v1m4-31v1m1 13v1m1 15v1m2-12v2m1-17v1m2 1v1m3 21v1m0 1v1m2-20v1m2-9v1m1 0v1m0 14v1m1 5v1m0 7v1m1-34v1m1 3v1m0 15v1m0 2v1m1-4v1m1-16v1m0 14v1m1-17v1m0 1v1m0 10v1m0 1v1m1-1v1m1-7v2m0 12v1m2 7v1m4-39v1m1 2v1m0 9v1m1-12v1m0 19v1m0 4v1m4-21v2m1 18v1m2 3v1m1-27v1m0 17v1m2-25v1m0 2v1m1 29v1m1-10v1m2-2v1m1 0v1m1-2v1m1 4v1m0 3v1m1-13v1m3-12v1m4 13v1m1-3v1m7 9v1m1 4v1m1-15v1m8-1v1m4 12v1m2-15v1m6 14v1m0 2v1m1-3v1m1-6v2m1-8v1m1-16v1m4 19v1m0 1v1m4-3v1"/>
<path stroke="#00d23c" d="M52.5 515v1m0 1v1m2 20v1m2-31v1m3-2v1m1 7v1m1-12v1m2 11v1m0 12v1m0 2v1m0 3v1m1-6v1m1 0v2m1-30v1m1 17v1m0 5v1m1-10v1m0 1v1m1-12v1m0 10v1m1-27v1m0 3v1m0 17v1m0 7v1m0 1v1m0 8v1m1-39v1m1 16v1m0 5v1m5-21v1m1-2v1m0 4v1m0 1v1m4 15v1m15-20v1m3 25v1m1-7v1m1 2v1m1-9v1m2-14v1m2 23v1m3 3v1m1-1v1m6-2v1m2-9v1m3 0v1m2 2v1m5-2v1m1-1v1m0 1v1m0 3v1m0 3v1m3-5v1m2-1v1m1-14v1m0 6v1m4-5v1m0 3v1m1-3v1m1-14v2m1-3v1m0 20v1m1-16v1m0 3v1m0 1v1m0 3v1m3 6v1m1-27v1m0 14v1m0 3v1m0 6v1m0 2v1m2-33v1m1-2v1m0 4v1m0 13v1m0 3v1m1-17v1m0 15v1m0 4v1m3-22v1m0 18v1m1-13v1m0 18v1m1-11v1m2 8v1m1-29v1m0 10v1m1-20v1m0 26v1m0 5v1m1-29v1m0 1v1m1-6v1m0 5v1m0 4v1m0 6v1m2 11v1m1-37v1m0 2v1m0 4v1m1 3v1m0 4v1m0 23v1m1-26v1m1 3v1m1-16v1m1 4v1m2 11v1m1-6v1m0 5v1m0 14v1m1-7v1m1-12v1m0 1v1m0 6v1m1-20v3m0 15v1m0 2v1m1-20v1m0 3v1m2-5v1m0 13v1m0 12v1m4-2v1m2-25v1m0 4v3m1-10v1m0 3v1m0 10v1m0 2v1m1-23v1m0 17v1m1-8v1m0 13v1m1-24v1m0 1v2m2 20v1m3-23v1m0 13v1m0 10v1m1-28v1m0 13v1m0 7v2m0 1v1m1-28v1m0 2v1m0 10v1m0 14v1m1-22v1m0 3v1m0 17v1m2-27v1m0 16v2m0 1v1m2-7v1m0 5v1m1-10v1m6-1v1m2-8v1m0 5v1m0 7v1m0 2v1m2-15v1m0 1v1m1-2v1m0 19v1m1-16v1m0 1v1m2-11v1m1 1v1m0 3v1m1 16v1m1-15v1m1 4v1m1-3v1m0 2v1m0 4v1m1-12v1m1 2v2m1-4v1m0 2v1m2-12v1m0 19v1m1-12v1m1-4v1m0 1v1m1 6v1m2-3v2m3-12v1m0 7v1m1 2v1m2-12v1m1 1v1m0 3v1m0 1v1m2-9v1m1 10v1m2-14v1m0 11v3m0 1v1m3-19v1m1 1v1m0 2v1m2-1v1m1-3v1m1-3v1m3 2v1m1 17v1m1-22v1m0 1v1m0 8v1m2-4v1m1 6v1m1-13v1m1 0v1m1-4v1m1 7v1m0 9v1m1 0v1m2-22v1m1 1v1m1 10v1m1-11v1m1-3v1m0 5v2m0 3v1m3-20v1m1 9v1m0 1v1m1 2v2m1-2v1m2-1v1m1 10v1m4 1v1m1-5v1m4 0v1m3-6v1m6-12v1m0 6v1m1-8v1m1-3v1m1-5v1m1 2v1m0 8v1m2-14v2m0 3v1m1 9v1m1-13v1m1 0v1m6 2v1m0 5v1m0 6v1m1-4v1m1-17v2m0 9v1m1-12v1m2-1v1m1 5v1m1-1v1m3 16v1m2-6v1m3-4v1m0 3v1m4 2v1m1-15v1m0 8v2m1-10v1m2 1v1m0 5v1m1-14v2m1 3v1m2 6v1m2-3v1m1-2v1m2 2v1m2 2v1m1 5v1m2-9v1m1-6v1m1-3v1m0 4v1m0 1v1m1-6v1m1-3v1m0 4v1m0 3v1m1-8v1m1 13v1m1-1v1m2-8v1m2-15v1m2 13v1m2-2v1m3-1v1m2-7v2m1-9v1m0 6v1m0 4v1m1-10v1m0 3v1m0 1v1m4 1v1m1-4v1m0 4v1m1-6v1m3 6v1m1-6v1m2-3v1m2 4v2m3-1v1m0 1v1m2 1v1m0 1v1m1-4v1m9-5v1m2-3v1m1 1v1m1 3v1m1-4v1m1-6v1m1 6v1m2-9v1m0 10v1m1-4v1m5 0v1m7-5v2m1-4v1m1-10v2m0 8v1m1-5v1m1 6v1m1-5v1m0 9v1m1-18v1m1 0v1m2 0v1m0 1v1m0 6v1m3-3v1m3-13v1m0 12v1m0 4v1m2-22v1m0 6v1m1 15v1m2-19v1m2-2v1m2-2v3m0 7v1m1-9v1m0 4v1m0 9v1m1-14v1m3-7v1m2 3v1m3 11v1m5-2v1m1-10v1m0 2v1m0 5v1m1-1v1m0 1v2m1-6v1m2 8v1m3-21v1m0 9v1m1-11v1m0 3v1m2-8v1m7-9v1m0 13v1m2-16v1m0 11v1m0 9v1m0 3v1m1-23v1m0 9v1m1 2v1m0 2v1m2-1v1m0 2v1m1-29v1m0 1v1m0 5v1m0 14v1m1-16v2m0 7v1m0 1v1m0 3v1m0 11v1m1-20v1m0 4v1m1-12v2m1-8v1m0 21v1m0 8v2m1-26v1m0 1v1m0 6v1m0 2v1m0 1v1m1-18v1m0 2v1m1 8v1m1-5v1m0 11v1m1-32v1m0 8v1m1 12v1m1-18v1m0 29v1m1-33v1m1 15v1m0 4v1m0 3v1m1-28v1m1 3v1m1-5v1m0 14v1m0 19v1m1-26v2m0 6v1m1-21v1m0 3v1m0 25v1m0 7v1m1-33v1m0 20v1m0 5v1m1-22v1m0 8v1m0 6v1m1-15v1m0 19v1m1-17v1m1-5v1m0 15v1m1-21v1m0 8v1m0 2v1m0 2v1m0 1v1m1 6v1m1-7v1m0 3v1m1-27v1m0 24v3m0 2v1m1-36v1m0 12v1m0 9v1m0 3v2m1-20v1m0 7v1m1-11v1m0 2v1m0 3v1m0 12v1m1-32v1m0 2v3m1 33v1m1-28v1m0 27v2m1-19v1m0 2v1m0 1v1m0 2v2m0 1v1m0 9v1m1-15v1m0 1v3m0 5v1m1 3v1m1-15v1m1-15v1m0 21v1m1-23v1m0 4v3m1 9v1m2-33v1m0 29v1m0 3v1m1-24v1m0 11v2m2-13v1m0 16v1m1-30v2m0 31v1m0 1v1m1-38v1m0 13v1m0 2v1m0 17v1m0 4v1m1-34v1m0 29v1m1-34v1m0 5v1m0 33v1m1-44v1m0 35v1m0 1v1m1 1v1m1-27v1m1-17v1m0 3v1m0 3v1m0 33v1m1-10v1m1-17v1m0 10v1m1-28v1m0 2v1m0 23v1m0 1v1m0 13v1m1-32v1m0 5v2m0 12v1m0 1v1m0 1v1m0 1v1m1-12v1m1-13v1m1 0v1m0 5v1m0 7v1m1-21v1m0 26v1m1-20v1m1-2v1m1-12v1m0 14v1m1-19v1m0 18v1m1-16v2m0 1v1m0 6v1m2-7v3m0 20v2m0 9v1m1-22v1m0 8v1m2-24v1m0 8v1m1-8v1m1 23v1m0 2v1m0 4v1m1-27v1m0 3v1m0 2v1m1-2v1m0 4v1m0 3v1m0 1v1m2-10v1m1-16v2m0 19v1m0 4v2m1-19v1m1-8v1m0 1v1m0 6v1m0 7v1m0 12v1m1-25v1m0 2v1m0 6v1m2 5v2m1-30v2m0 1v1m1 8v1m0 4v2m3-17v2m0 2v2m0 3v1m0 7v3m1-17v1m0 3v1m0 3v1m1 12v2m0 2v1m1-11v1m0 4v1m2-21v1m0 28v1m3-31v1m0 20v1m1-3v1m0 6v1m2-25v1m1 3v1m0 20v1m1-28v1m0 6v1m0 15v1m1-11v1m0 6v1m0 6v1m1-27v1m0 19v2m1-21v1m0 30v1m1-7v1m1-29v1m0 9v1m0 12v1m2-20v1m0 2v1m1-7v2m0 3v1m0 2v1m0 5v1m0 2v2m0 5v1m0 3v1m2-10v1m2-19v1m0 6v1m0 2v1m1 2v1m1-5v2m0 14v1m1-20v1m0 10v1m1-15v1m0 21v1m0 3v1m2-29v1m0 27v1m0 1v1m1-27v2m1 7v1m1 10v1m0 1v1m0 1v1m1-3v1m1-6v1m0 2v1m1 3v1m1-7v1m1-24v1m0 2v2m0 23v1m1-26v1m0 17v1m1-5v1m0 2v1m1-20v2m1-3v1m0 13v1m0 5v1m1-4v1m0 10v1m1-30v1m0 2v1m0 1v1m0 11v2m1-20v1m0 14v1m0 13v1m1-16v2m0 1v1m1-12v1m0 8v1m0 13v3m1-15v1m1-11v1m1 26v1m1-9v1m2-26v1m0 29v1m1-33v1m0 1v1m0 1v1m1 9v2m0 2v1m0 8v1m0 3v1m1-22v1m0 7v2m2 0v1m0 13v1m1-14v1m1-14v1m1 13v1m0 2v1m1-10v1m0 11v1m1-24v1m0 21v1m1-23v1m0 14v1m1 4v1m0 5v1m1 0v1m2 0v1m1-24v1m1 1v1m0 4v1m0 7v1m0 1v2m1-15v1m3-11v2m2 19v1m0 8v1m4-18v1m1 4v1m1 6v1m0 2v1m1-4v1m1-19v1m0 22v1m0 1v1m3-2v1m8-3v1m0 1v1m2-3v1m1-14v1m4 5v1m0 2v1m3-12v1m0 4v1m8-22v1m0 1v1m0 23v1m1-24v1m0 1v1m2-11v1m0 1v1m1 29v2m1-29v1m0 28v2m1-37v1m0 28v2m0 8v1m1-10v1m1-30v1m0 20v1m0 2v1m1-17v1m0 16v1m0 3v1m1-33v2m0 2v1m0 3v1m0 2v1m0 30v1"/>
<path stroke="#00df22" d="M51.5 514v1m0 2v1m1-13v1m2-4v1m1 11v1m1-13v1m0 13v1m4-13v1m0 2v1m1 27v1m1-30v1m0 15v1m0 5v1m0 2v1m0 1v1m1-29v1m0 15v1m0 8v1m0 3v1m1-28v1m0 22v1m0 1v1m0 2v1m1 2v1m1-28v1m0 23v1m1-32v1m0 6v1m0 5v3m0 9v1m0 3v1m1-16v1m1-17v1m0 21v1m1 6v1m0 6v1m1-31v2m2 2v1m1-4v1m0 1v1m1-11v1m0 10v1m2-13v1m1 11v1m1 25v1m6-2v1m14-8v1m1-3v1m0 3v1m1-6v1m0 4v1m1 3v2m1-16v1m0 5v1m1-3v1m0 3v1m0 6v1m4-9v1m1-8v1m2 13v1m4-8v1m1-4v1m0 6v1m6-2v2m4-2v1m2-5v1m1-2v1m0 5v1m1-1v1m0 3v1m1-6v1m0 2v1m1-15v1m1 5v1m2-8v1m1 4v3m0 1v1m2-3v1m1-5v1m1-154v1m0 140v1m0 8v1m2 4v1m1-13v1m0 6v1m1-9v1m0 18v1m0 2v1m1-17v1m0 13v1m1-22v1m1 0v1m0 13v1m2-1v1m1-22v1m0 13v1m1-26v1m0 34v1m1-21v2m0 12v1m1-26v1m0 6v1m0 12v1m0 7v1m1 3v1m1-9v1m1-8v1m0 8v1m1-22v1m0 1v1m0 14v1m1 0v1m1-19v1m0 13v1m1 16v1m0 1v2m1-26v1m0 11v1m1-23v1m0 8v1m1 1v1m1-1v1m1-6v2m0 15v1m1-17v1m0 28v1m2-20v1m1 4v1m0 1v1m0 1v1m0 4v1m1-33v1m0 27v1m1-24v1m0 5v1m0 3v1m2-14v1m0 2v1m0 7v1m0 2v1m1-7v1m0 6v1m0 11v1m0 2v1m1-2v1m1-14v1m0 8v2m1-19v1m0 2v1m0 10v1m0 7v1m1-28v1m0 5v1m0 2v1m0 8v2m1-19v1m0 2v1m0 10v1m0 5v1m1-17v1m0 7v1m1-13v1m1 3v3m0 8v1m2-14v1m0 6v2m1-1v1m1 2v1m1-19v1m0 9v1m0 3v1m1-4v2m1-8v1m0 13v1m0 4v1m0 5v1m1-31v1m0 3v2m0 1v1m1 7v1m0 8v1m1 6v1m1-28v1m0 17v1m0 3v1m1-10v1m0 4v1m1-7v1m1 5v1m0 4v1m1-31v2m0 29v1m1 1v1m1-18v1m1-9v1m0 5v1m0 7v1m0 9v1m0 5v1m1-27v1m1-9v1m0 12v2m0 4v1m0 15v1m1-14v1m1 4v1m0 1v1m0 1v1m1-16v1m0 7v1m2-11v1m1 4v2m1-2v1m2-4v1m0 15v1m1-11v1m1-10v1m0 7v1m1-8v1m1 6v1m0 2v1m1-11v1m0 3v1m1 12v1m1-19v1m1 12v1m3-8v1m1-6v1m0 5v1m0 2v3m1 0v1m1-8v1m0 3v2m0 1v1m1 7v1m1-8v1m1-6v1m0 2v3m1-2v1m0 4v1m1-2v1m5-10v1m1 7v1m2-10v1m1 0v1m0 2v1m2 6v1m6-10v1m0 1v1m1 10v1m1-6v2m1-18v1m1 5v1m1-8v1m2 7v2m0 3v1m0 2v1m2-9v1m1-2v1m1-3v1m1-5v1m1 0v1m1-3v1m0 4v1m0 5v1m0 1v1m1-13v1m3 7v1m2 7v1m1 3v1m2-2v1m1-19v1m0 8v1m0 9v1m1-21v1m0 11v1m0 4v1m2-7v2m1-12v1m0 4v1m0 2v1m1 9v1m1-12v1m3-16v2m2 20v1m2-6v1m1 6v1m2-25v1m5 19v1m2-21v1m4 15v1m3-13v2m2-4v1m0 4v1m1-5v1m1-3v1m0 11v1m1-3v1m7-5v1m0 14v1m1-9v1m2-10v1m0 16v1m3-19v1m5 19v1m2-5v1m0 3v1m5-8v1m2 6v1m1-7v1m1 3v1m1-8v1m1-7v1m0 9v1m0 2v1m0 4v1m3-17v1m2 0v1m0 11v1m3-6v1m0 2v1m0 3v1m2-3v1m1-7v1m1-6v1m0 9v1m1-12v1m0 11v1m1-6v1m0 3v1m1-6v1m1 1v1m2-8v1m5-2v1m1 4v1m2 9v1m1-9v1m4-12v1m1 1v1m2 13v1m1 2v1m1-15v1m2-3v1m1 12v1m1-6v1m5-4v1m0 5v1m4-8v1m5 4v1m2-6v1m1 3v1m1 0v1m4-5v1m1 5v1m1-7v1m2 0v1m1 1v1m1-4v1m3 5v1m3-3v1m4-5v1m0 8v1m2-11v2m0 3v1m3-11v1m0 9v1m2-12v1m0 17v1m2-20v1m0 1v3m0 3v1m3 7v1m0 3v1m1-13v1m4-3v1m0 5v1m1-15v1m1 6v1m0 9v1m2-15v2m0 9v1m1-15v1m1 13v1m0 1v1m1 1v1m1-14v1m0 1v1m1 9v2m3-16v1m0 4v1m2-3v1m1 11v1m0 3v1m1-25v1m0 1v1m0 5v2m1 9v1m0 3v1m1-6v1m1-16v1m0 2v1m2-4v2m1-2v1m1 12v1m4 5v1m4-17v1m0 12v1m2-6v1m3-11v1m1 9v1m1-23v1m0 3v1m0 3v2m0 20v1m1-29v1m0 3v2m0 5v1m0 3v2m3-8v1m0 16v1m1-25v1m0 24v1m1-22v1m1 4v1m2-7v1m0 1v1m0 1v1m0 19v1m1-32v1m0 17v1m0 4v1m1-29v1m0 1v2m1-4v4m0 25v1m0 2v1m1-2v1m1-34v1m0 1v1m0 23v1m0 2v1m0 3v2m1-30v1m0 2v1m0 4v2m1 16v1m0 3v1m1-35v1m0 3v2m0 19v1m0 5v1m0 2v1m1-33v1m0 4v2m0 8v1m1 0v1m0 9v1m1-24v1m0 17v1m1-22v1m0 4v1m0 13v1m0 6v1m0 3v1m1-23v2m0 8v1m1-11v1m0 2v1m0 7v1m0 12v1m1-27v2m0 8v2m0 8v1m0 3v1m1-27v1m0 9v1m0 10v2m1-26v1m0 1v2m0 11v1m0 10v1m1-22v1m0 10v1m1-22v1m0 21v1m0 4v1m0 2v1m0 3v1m0 3v1m1-38v1m1 21v1m0 1v1m1-14v1m0 24v1m0 1v1m1-39v1m0 5v1m0 25v1m1-24v1m0 4v1m0 2v1m0 1v2m1-20v1m0 2v1m0 2v1m0 4v1m0 1v1m0 2v1m0 13v1m0 1v1m1-34v2m0 17v1m0 7v1m0 9v1m1-35v1m0 19v1m0 2v4m0 6v1m1-32v1m0 3v1m0 3v1m0 6v1m0 4v1m1-15v1m0 19v1m1-31v1m0 18v1m0 1v1m1-12v1m1-5v1m0 2v2m0 3v1m0 17v1m1-20v1m0 5v1m0 7v1m0 2v1m1-27v1m1 7v2m0 3v1m0 13v2m1-24v2m0 7v1m0 1v1m0 7v2m1-37v1m0 1v1m0 1v2m0 10v1m0 12v2m1-14v1m0 2v1m0 20v1m1-35v2m0 8v1m1-2v1m0 19v1m1-25v1m0 26v1m1-18v1m0 7v1m0 10v1m2-27v2m0 3v1m0 2v2m0 1v4m1-15v1m0 3v1m0 9v2m0 1v1m0 7v2m0 3v1m1-34v2m1-12v1m0 13v1m0 3v1m0 4v2m1 12v1m1-28v1m1 20v3m0 2v1m1-37v1m0 5v1m1 14v1m0 14v1m1-31v3m0 19v1m1-27v1m0 1v1m0 20v1m0 5v1m1-23v3m0 2v1m0 20v1m0 1v1m1-38v1m0 2v1m0 2v3m0 3v1m0 29v1m1 0v1m1-44v3m0 10v1m0 15v1m0 8v2m1-20v1m0 8v1m1-31v2m0 5v1m0 5v1m0 1v1m1-17v1m0 5v1m1 13v1m0 2v1m1-1v1m0 21v1m1-45v1m0 9v1m0 20v1m1-27v1m0 10v1m1-8v2m0 7v1m0 5v2m0 13v1m0 3v1m1-29v1m1-16v1m0 21v1m0 5v1m0 2v1m0 2v1m1 2v1m1-34v1m0 6v1m0 1v2m0 1v1m0 1v2m0 4v1m1-14v1m1-6v2m1 11v2m0 2v1m0 5v1m1-27v1m0 7v1m0 2v1m0 6v1m0 16v1m1-18v1m0 9v1m0 1v1m1-29v1m0 1v1m0 31v2m1-15v1m0 4v1m1-23v2m0 15v1m0 1v2m1 1v1m1-20v1m2-6v2m0 26v2m1-16v1m0 5v1m0 7v1m1-20v1m1 16v2m0 1v1m0 2v2m1-34v1m0 19v1m0 4v1m0 2v1m0 5v1m3-11v1m1-26v1m1 15v1m0 10v1m0 5v1m1-24v1m0 11v1m0 3v1m1 1v2m1-22v2m0 13v1m2-20v2m0 3v1m1-7v2m0 2v2m0 15v1m0 2v1m0 7v1m1-12v1m0 8v1m1-7v1m1-23v1m1 1v2m0 24v1m1-21v2m0 18v1m1-31v1m0 7v1m0 19v1m1-6v1m1-1v4m1 2v1m0 1v1m1-28v1m0 16v1m1-17v2m1-4v2m0 2v1m0 1v1m0 6v1m0 1v2m0 3v1m1-4v1m0 2v1m0 6v2m1-7v2m1-25v1m1 12v1m0 3v1m0 3v1m1-11v1m0 6v1m0 3v1m0 8v1m1-24v1m1-9v1m0 5v1m1 12v1m0 1v1m1-18v1m0 13v2m1-5v1m2-12v1m0 7v2m0 1v1m1-7v1m0 4v1m1 12v1m0 1v1m1-29v1m0 1v1m0 1v1m0 14v1m1-24v1m0 1v2m0 1v1m0 6v1m0 6v1m0 10v1m1-28v1m0 2v1m1-4v1m0 15v1m0 2v1m1-20v1m0 25v1m0 2v1m1-15v1m0 13v1m1-33v1m0 23v2m1-25v2m0 7v1m0 17v1m0 3v1m1-24v2m0 16v1m0 2v1m1-18v3m0 2v2m1-14v1m0 22v1m1-22v1m0 1v1m0 21v1m1-29v1m0 7v1m0 3v2m0 3v1m0 1v1m1-12v1m0 1v1m0 3v2m0 10v1m1-24v1m0 1v1m0 19v1m1-30v1m0 17v2m0 8v2m0 1v1m1-3v2m0 1v1m1-33v1m0 8v1m0 14v1m0 3v1m0 1v1m1-20v1m0 23v1m1-24v1m0 4v1m1-8v4m0 4v2m0 5v2m2 4v1m2-9v2m0 7v3m2-36v1m0 1v1m0 23v1m1 3v1m0 2v1m0 1v1m1-16v1m0 2v1m2-17v1m1 28v1m1-29v1m0 8v1m0 11v1m1-11v1m0 1v1m1-23v1m0 6v1m0 3v1m0 13v2m1-2v1m0 3v1m1-24v1m0 1v1m0 17v1m1-25v1m0 1v1m1 0v1m0 24v1m1 5v1m2-22v1m0 3v2m1 2v1m0 14v1m1-14v1m0 8v1m1-16v1m1 10v1m1-7v1m3 12v1m1-25v1m1 20v1m2 2v1m1-15v1m1 4v1m1-1v1m2 7v1m1 0v1m1-2v1m3-21v1m0 1v1m9 17v1m5-1v1m1-15v1m0 1v1m3-2v1m0 11v1m3-1v1m1-28v1m1-1v1m0 14v2m0 1v2m0 7v1m1-2v1m2-10v1m1-26v2m0 22v1m1-19v1m0 1v1m2 13v1m0 7v1m1-31v1m0 2v1m0 32v1m1-16v1m0 5v1"/>
<path stroke="#10e40e" d="M51.5 512v1m0 3v1m2-10v1m0 26v1m1-31v1m2 10v1m1 11v1m4-26v1m1-1v1m0 26v2m0 7v1m1-41v1m0 9v1m0 16v1m0 7v1m0 1v1m2-31v2m0 1v1m0 1v1m0 12v1m0 11v1m1 0v2m2-11v1m0 1v2m1-19v1m0 10v1m0 1v1m0 2v1m1-31v1m0 3v1m0 7v1m0 3v3m0 9v1m0 2v1m5-28v1m0 11v1m2-17v1m1 7v1m4 15v1m15-3v1m0 3v1m4 0v1m1-5v1m1 2v1m1 2v1m1-26v1m1 29v1m3-12v1m0 1v1m0 1v1m6-1v1m1 10v1m4-10v1m1 5v1m1-4v1m2-7v1m1 4v1m0 2v1m1 0v1m1-7v1m0 3v1m1-1v1m2 0v1m2-6v1m0 5v1m2-8v1m0 2v1m4-11v1m0 17v1m1-25v1m0 20v1m2-20v1m0 3v1m0 2v1m1-4v1m0 14v1m1-6v1m2-15v1m1 12v2m2 1v1m3-7v1m1-22v1m0 24v1m0 2v1m0 4v1m1-6v1m1-18v1m2 2v1m1-2v1m0 9v1m1 0v1m1-27v1m0 22v1m0 2v2m1-8v1m1-18v1m2 28v1m1-23v1m0 1v1m1-8v1m0 9v1m0 13v1m3-27v2m0 7v1m0 6v1m0 4v1m1-4v1m0 3v1m1-5v1m1-16v1m0 1v1m0 2v2m1-11v1m0 20v1m1-10v1m0 3v1m1-9v1m0 18v1m1-1v1m1-23v2m0 19v1m1-4v1m0 2v1m1-24v1m0 8v1m1 0v1m0 10v1m1 3v1m5-13v1m0 4v1m1 0v1m1 4v2m1-10v1m1-18v1m0 4v1m0 1v1m4-6v2m0 1v1m2 1v2m0 13v1m1-19v1m0 10v1m0 1v1m0 3v2m1 7v1m1-21v1m1-7v2m0 4v2m0 1v1m0 5v2m1-1v1m0 2v1m1-9v1m1-18v1m0 13v1m0 1v1m0 12v1m1-16v1m0 3v2m0 2v1m1 6v1m1 1v1m1-26v1m0 11v1m1 6v1m3-18v1m1 13v1m1-12v1m1 2v1m0 4v1m0 1v2m1-3v1m0 5v1m2-18v1m0 1v1m0 2v2m0 11v1m1 0v1m1-13v1m1-2v1m2-1v1m0 2v1m0 3v1m0 5v1m1-9v1m0 3v1m1 4v1m2-2v1m2-14v1m1 7v1m1-1v1m0 5v1m1-8v1m0 1v1m0 1v1m1-11v1m0 16v1m1-20v1m3-1v1m0 6v3m1 1v1m1-8v1m1-4v1m0 1v2m0 1v2m1 3v1m1 3v1m1-17v1m2 15v1m3 2v1m1-14v2m2-10v1m2 5v1m1-4v1m2 14v1m0 1v1m1-1v1m2-15v2m1-1v1m2 7v1m2-15v1m0 8v1m1-9v1m3 1v1m1 9v1m1-11v1m3-4v1m0 8v2m1 1v1m0 6v1m1-13v1m1-6v1m2 4v1m1 14v1m3-18v1m1 4v1m1 2v1m4 1v1m0 1v2m12-11v1m3-15v1m0 7v1m3 5v1m1-4v1m0 3v1m3 0v1m6-8v1m0 10v2m1-16v1m2 3v1m1-3v1m1-3v2m1 2v1m3 13v1m2-8v1m4 2v1m3-5v1m0 3v1m1-3v1m3-7v1m0 3v1m1 0v1m0 3v1m2-17v1m0 17v2m1-12v1m0 7v1m1-7v1m2 1v1m2-2v1m8 8v1m1-11v1m1 3v1m0 1v1m1-3v1m0 3v1m1-7v2m1-5v1m0 5v2m2-13v1m1 8v1m1 9v1m1-16v1m0 6v1m2 4v1m2-10v1m6-3v1m3 1v1m0 6v1m1-8v1m0 1v1m4 4v1m1-9v1m0 5v1m0 1v1m4 4v1m2-6v1m1-9v1m0 4v1m0 1v1m1-8v3m0 1v1m1 6v1m2-4v1m6-9v1m3 0v1m0 7v1m1-6v1m1-5v1m1 12v1m1-14v3m0 1v1m0 2v1m3-7v1m3 10v1m3-5v1m2-6v2m3-12v1m0 3v1m0 15v1m1-14v1m1-8v1m3 6v1m2-8v1m1 14v1m1-12v1m0 4v1m0 6v1m0 2v1m2-9v1m1-13v2m3 4v1m2 0v1m2-8v1m0 5v1m0 14v1m4-16v1m0 6v1m1-13v1m0 6v1m0 2v1m1 3v2m1-10v1m1-10v2m1 2v1m2-5v1m1-1v1m0 3v1m1 10v1m1 2v1m1-19v2m1 15v2m4 3v1m1-14v1m2-14v1m0 26v1m1-18v1m0 1v1m1 13v1m5-12v1m1-16v1m0 7v1m0 1v1m1-8v1m1-8v1m1 5v1m0 2v1m2-5v1m1-4v1m0 6v2m1-7v1m0 6v1m2-5v1m1-10v1m0 12v1m0 9v1m0 3v1m1-24v1m1 0v1m2 26v1m1-36v1m1 11v2m0 20v1m1-38v1m1 16v1m1-10v1m1 2v1m0 2v1m0 6v2m0 4v1m1-27v1m0 2v1m0 18v1m0 1v1m1-12v1m0 9v1m1-13v1m0 4v2m0 4v1m0 1v1m0 4v1m1-4v2m0 1v3m1-25v1m0 6v1m0 3v1m0 11v1m1-30v2m1 14v2m1-18v1m0 25v1m1-33v1m1 14v1m0 3v1m0 1v1m0 3v1m0 4v1m1-25v1m0 4v1m0 2v1m1-13v1m0 22v2m0 10v1m1-5v2m1-25v1m0 28v1m1-37v1m0 3v1m0 18v1m1 9v1m0 4v1m1-30v1m0 3v1m0 11v1m1-15v1m1 8v1m0 15v1m2-32v1m0 1v1m0 6v1m0 2v1m0 7v1m1-10v2m0 13v1m2-20v1m0 3v1m0 3v1m1-22v1m0 7v1m0 1v1m0 6v1m0 2v1m0 20v1m1-23v1m1 7v1m1-23v1m0 8v1m0 5v1m0 1v2m1 13v1m2-27v1m0 12v1m1 15v1m1-40v3m0 6v1m0 4v1m2-15v1m0 8v1m0 14v1m0 7v2m1-32v1m0 7v1m1-8v2m0 10v1m0 11v2m0 3v1m0 3v1m1-27v1m0 26v1m1-38v1m1 8v1m0 5v2m0 2v1m1-6v1m0 19v1m0 1v1m1-27v1m0 13v1m1-29v1m0 3v1m0 22v1m1-20v1m0 5v1m0 2v1m1-16v1m0 12v1m0 10v1m1-27v1m0 3v5m0 6v2m1 8v1m0 11v1m1-13v1m0 3v1m1-32v1m0 3v3m0 6v2m0 3v1m0 8v1m1-9v1m0 5v1m0 15v1m0 2v1m1-43v1m0 22v1m0 8v1m1-34v1m1-2v1m0 4v1m0 20v1m1-18v1m0 6v1m0 4v1m0 12v1m1-22v3m0 8v1m0 9v1m0 7v1m1-30v1m0 4v1m1-15v1m0 27v1m0 7v1m0 1v1m1-28v2m0 27v1m1-31v1m0 7v1m0 4v1m1-13v1m1-11v1m0 4v1m0 5v1m1-3v1m0 2v1m0 1v1m0 4v1m0 7v1m1-27v2m0 11v2m0 7v1m0 4v3m1-2v1m1-2v1m0 6v1m2-31v1m0 2v2m0 1v1m0 9v2m1-16v1m0 22v1m0 2v1m1-23v1m1 18v2m1-9v1m0 10v1m1-32v1m0 18v1m1-11v1m0 5v1m1 10v1m0 4v1m1-25v1m0 8v3m0 5v1m0 7v1m0 1v1m1-2v1m1-9v1m0 7v1m1-32v1m0 1v1m0 3v1m0 7v1m0 6v1m1-1v1m2-18v1m1 31v1m1-20v2m0 8v1m1 5v1m1-26v1m0 7v1m0 13v1m0 5v1m1-22v1m0 3v1m1-17v1m0 1v3m0 1v1m0 13v1m0 5v1m0 2v1m1-14v2m0 1v1m2-21v1m0 4v1m0 4v1m0 5v1m0 11v1m1-30v1m0 1v1m0 13v1m0 11v1m1-6v1m0 1v3m1-7v1m0 2v1m2-15v2m0 1v1m0 16v1m1-30v1m0 3v1m1 9v1m1 4v1m0 12v1m1-30v1m0 21v1m1-3v1m1-21v1m1 7v1m0 11v1m1-14v1m0 6v1m0 3v1m1 0v1m0 6v1m1-26v1m0 3v1m0 18v1m0 1v1m1-19v1m0 13v2m0 4v1m1-25v1m0 13v1m1-5v1m2-14v1m0 7v1m2-4v1m0 2v1m0 4v1m1-13v1m0 27v1m1-23v1m0 15v1m0 1v1m1 4v1m1-22v1m0 1v1m0 2v2m0 8v1m1-29v1m0 13v1m0 10v1m0 3v1m2-31v2m1 22v1m1-18v1m1-7v1m0 26v1m0 1v1m1-28v1m0 3v2m0 18v1m1-28v1m0 23v1m1-15v1m0 2v1m0 7v1m0 10v1m1-23v1m0 1v1m0 13v1m1-28v1m0 1v2m0 2v1m0 25v1m1-31v1m0 30v1m1-9v1m0 1v2m1-21v1m0 6v1m0 13v1m0 2v1m1-19v1m0 4v1m1-1v1m0 1v1m2 9v1m1-14v2m0 8v1m1-19v1m1 10v1m0 7v1m2-30v1m0 2v1m0 2v1m0 17v1m0 1v3m1-32v1m0 27v1m0 5v1m1-16v1m1 16v1m2-13v2m0 1v1m1-7v1m1 2v2m1-15v1m0 12v1m1-8v1m0 2v1m1 5v1m0 1v1m1-25v1m0 1v1m0 17v1m1 0v2m0 6v1m1-22v1m0 18v1m0 2v1m2-20v1m0 1v3m0 2v1m2-13v1m0 7v1m1-3v1m0 2v1m0 1v1m1 7v1m1-14v1m0 16v1m1-28v1m2 3v1m0 1v1m1 0v1m1 23v1m1-16v1m1-5v2m0 2v1m1-1v1m0 3v1m0 1v1m1 1v2m0 2v1m5-10v1m0 1v3m1 7v1m2-22v1m3 2v1m9 10v2m5 5v1m5-7v1m0 4v1m1-29v1m0 21v1m1 3v1m1-24v1m0 8v1m1 4v1m1-17v3m0 14v1m1 2v1m1-24v1m0 1v2m0 21v1m1-4v1m0 1v1m0 5v1m1-35v1m0 20v1m0 15v1m1-17v1m0 2v1m1-27v1m0 25v1m0 11v1"/>
<path stroke="#34e100" d="M51.5 510v1m1-8v1m1-4v1m1 8v1m2-10v1m2 3v1m1 5v1m2-8v1m1 28v1m1-30v1m0 27v1m1-9v1m0 9v1m1-25v1m1 24v1m1-28v1m1 23v1m1-25v1m0 18v1m2-9v1m2-12v1m0 6v1m3-12v1m14 30v1m10-1v1m2-9v1m2-6v1m0 3v1m1-6v1m4 9v1m9-1v1m11-2v1m6-11v1m0 16v1m1-13v1m1 1v1m2-10v1m0 15v1m5-7v1m2 3v1m1-10v1m0 4v1m1-15v1m1-4v1m1-7v1m2 8v1m0 21v1m1-3v1m2-19v1m0 1v1m0 18v1m2-14v1m2 3v1m1-1v1m1-3v1m0 6v1m1-24v2m1-5v1m0 5v1m2-2v1m1-8v1m0 2v1m2-5v1m4 3v1m0 16v1m1-1v1m6 4v1m0 4v1m1-9v1m4-12v1m0 13v1m1-12v1m1-8v1m0 2v1m0 10v1m1-17v1m2 0v1m0 23v1m2-14v1m1 4v1m2-9v1m3 2v1m0 9v1m2-20v1m0 17v1m2-17v1m1 10v1m0 2v1m0 3v1m1-14v1m2-3v2m0 1v1m3 11v1m2 0v1m4-8v1m0 5v1m2-1v1m1-20v1m5 11v2m1 7v1m2-12v1m3 7v1m3 0v1m1-1v1m3-11v1m3 3v1m1 3v1m1 4v1m3-2v1m7-2v1m4-3v1m2-9v1m0 6v1m1-13v1m5 4v1m0 8v1m2-10v1m0 1v1m2-2v1m5 7v1m2-2v1m2-15v1m2 8v1m1 9v1m1-12v1m0 9v1m3-1v1m3 0v1m14-11v1m1-9v1m2 1v1m1-3v1m1-4v1m2 1v1m1-1v1m0 17v1m6-11v1m2-4v1m1 11v1m11-1v1m2 0v1m4-12v1m1 9v1m1-7v1m1 7v1m1-3v1m1-9v1m5 7v1m11 1v1m1-5v1m8-1v2m3-9v1m7 2v1m6 7v1m4-8v1m2 8v1m5-9v1m1 0v1m20-3v1m1-4v1m0 1v1m1 9v1m4-4v1m5-9v1m2-9v1m0 14v1m1-4v1m4-6v1m1 10v1m1 0v1m1-13v1m0 10v1m2-6v1m3-8v1m0 7v1m3 3v1m2-24v1m0 20v1m1-9v1m1-8v1m2-7v1m0 16v1m1-15v1m0 8v1m1-3v1m1 7v1m1 4v1m1-22v1m2-3v3m1 11v1m14 7v1m2-6v1m2 4v1m1-12v1m1-5v1m0 6v1m1-20v1m2-3v1m0 12v1m3-1v1m0 9v1m2 0v1m4-4v1m1-19v1m0 12v1m0 5v1m1-24v1m1 19v1m1-8v1m1 9v1m0 1v1m1-7v1m1-27v1m0 6v1m2 5v1m3-11v1m0 6v1m0 11v1m1-25v1m1 26v1m1 0v1m2 7v1m1-20v2m0 17v1m2-5v1m3-10v1m1 10v1m0 3v1m1-28v1m0 2v1m0 6v1m0 2v1m1 11v1m1-6v1m1-29v1m0 7v1m1 10v1m1-19v1m2-7v2m0 21v1m2 14v1m1-32v1m1 22v1m1-25v1m0 1v1m0 1v1m0 12v1m1-6v1m1 19v2m1-36v1m0 7v1m1 25v1m1-25v1m1 20v1m0 1v1m1 4v1m3-19v1m1 17v1m1-44v1m0 22v1m2 2v1m0 8v1m1-13v1m1-15v1m0 14v1m1-22v1m0 18v1m1 7v1m1-21v1m0 20v1m0 5v1m1-27v1m0 8v1m0 4v1m0 17v1m2-16v1m0 9v1m1-29v1m0 7v1m1 13v1m0 4v1m1-28v1m2 1v1m2-9v1m0 11v1m0 11v1m1-2v1m0 8v1m1-20v1m3-11v1m0 7v1m0 7v1m0 3v1m1-21v1m0 9v1m0 2v1m0 11v1m0 1v1m1-26v1m4 14v1m1 6v1m1-23v1m0 15v1m0 13v1m1-17v1m1 2v1m0 1v1m1-3v1m2-7v1m0 17v1m1-29v1m0 26v1m1-18v1m0 5v1m1 3v2m3-12v1m0 8v1m1-21v1m0 2v1m0 21v1m1-10v1m0 6v1m1-19v1m0 14v1m1-13v1m0 6v1m0 10v1m1 2v1m3-17v1m0 8v1m0 5v1m1-14v1m2-7v1m0 22v1m1-33v1m0 1v1m0 3v1m0 15v1m1-1v1m1-13v1m0 16v1m2-15v1m0 4v1m0 14v1m1-22v1m2 4v1m1-13v1m0 7v1m2 19v1m2-33v1m0 6v1m0 7v1m0 13v1m0 2v1m1-21v1m1 3v1m1-14v1m1-5v1m0 2v1m0 2v2m0 14v1m1-17v3m2-5v1m0 22v1m1-6v1m0 2v1m1-13v1m0 12v1m1-14v1m2-11v1m1 22v1m1-19v1m0 20v1m1-31v1m0 14v1m1 13v1m1 1v1m2-21v1m0 14v1m1-24v2m1-3v2m0 2v1m0 5v1m0 2v1m2 8v1m1 7v1m4-11v1m0 13v1m1-33v1m1 3v1m0 7v2m0 2v1m0 5v1m0 1v1m0 1v1m3 0v1m2-13v2m0 6v1m1-25v1m0 2v2m2 25v1m0 2v1m1-35v1m2 24v1m1-18v1m0 18v1m1-16v1m2 4v1m1-12v1m0 2v1m0 8v1m0 1v1m0 6v3m2-5v1m0 8v1m1-5v1m6-13v1m1-3v1m4-6v1m0 19v1m4-2v1m9-17v1m9 1v1m4 13v1m3-24v1m1-4v1m2-9v1m0 5v1m0 21v4m3-35v1m4 0v1"/>
<path stroke="#71e500" d="M51.5 515v1m3 21v1m6-30v1m2 5v1m2 10v2m0 7v1m1 2v1m3-34v1m2 13v1m3-9v1m3-9v1m12 35v1m10-19v1m0 4v1m1-7v1m1 13v1m1 4v1m6-17v1m2 13v1m2 1v1m10-1v1m2-15v1m3 3v1m1 1v1m15-155v1m6 157v1m1 2v1m2-25v1m7 1v1m1 14v1m2-5v1m4-1v1m1-21v1m7 18v1m0 9v1m2-27v1m1 11v1m3 14v1m1-10v1m6-13v1m1-9v1m4 16v1m0 12v1m2-1v1m2-21v1m1 14v1m5-23v1m1 8v1m5-10v1m1 25v1m3 1v1m2-12v1m1 3v1m2-12v1m1 14v1m0 1v1m1-20v1m0 3v1m2 5v1m4 1v1m5-3v1m1 6v1m12-10v1m4 8v1m4-11v1m2-3v1m7 14v1m5-5v1m3-5v1m6-1v1m16-1v1m2-29v1m0 30v1m4-2v1m3-6v1m1-3v1m1-11v1m8 3v1m5-7v1m4 1v1m14 13v1m3-1v1m1 6v1m4-12v1m1 1v1m1-1v1m12 4v1m14 4v1m8 0v1m6-8v1m7 3v1m4-8v1m5-3v1m10-2v1m8 6v1m1-3v1m5 2v1m1 2v1m7-14v1m0 12v1m3-6v1m2-17v1m9 8v1m0 4v1m0 2v1m1-4v1m2-15v1m5 15v1m2 2v1m5-3v1m10-17v1m8-7v1m4-2v1m0 9v1m6 13v1m1-12v1m0 5v1m0 1v1m1-12v1m0 1v1m0 13v1m3-17v1m2 5v1m2-6v1m1-22v1m0 4v1m2-9v1m4-1v1m0 14v1m0 22v1m6-27v1m2 17v1m1-10v1m3-3v1m1 8v1m1-31v1m7 11v1m0 3v1m0 23v1m2 3v1m2-19v1m4-27v1m2 39v1m1-32v1m1 25v1m3 7v1m2-25v1m0 18v1m1-37v1m1 27v1m0 7v1m2 3v1m2 1v1m1-39v1m0 13v1m8-8v1m1 11v1m3-16v1m0 2v1m3-5v1m1 3v1m1 0v1m2 22v1m4-19v1m4-3v1m2 7v1m3-11v1m1-4v1m2-2v1m1 3v1m3 3v1m0 2v1m2 7v1m1 2v2m0 3v1m1 0v1m0 3v1m2-4v1m2-5v1m7-28v1m5 21v1m0 2v1m1-21v1m2 19v1m1-24v1m0 23v1m2 2v1m2-26v1m0 22v1m1 2v1m3-5v1m7-26v1m1 8v1m3 11v1m2-1v1m4-2v1m3 2v1m0 9v1m1-37v1m4 13v1m2-6v1m0 24v1m1-8v1m3 4v1m5-1v1m0 1v1m10-5v2m31-24v1m2-8v1"/>
<path stroke="#97e900" d="M57.5 508v1m0 3v1m3-8v1m1-1v1m2 6v1m0 13v1m0 11v1m5-29v1m1-6v1m0 5v1m4-7v1m0 11v1m4-12v1m1 6v1m10 9v1m19 4v1m3 2v1m2-4v1m0 2v2m6-5v1m2-1v1m1 2v1m8-7v1m2 7v1m5-16v1m1 5v1m1 10v1m2-9v1m5 3v1m0 2v1m2-25v1m1-1v1m1 20v1m3-36v1m2 34v1m0 2v1m1-14v1m0 4v1m0 5v1m0 4v1m8-38v1m0 4v1m5 11v1m6 5v1m3-7v1m3 13v1m7 2v1m1-8v1m0 2v1m1-22v1m2 23v1m2-20v1m0 23v1m2-1v1m3-35v1m5 32v1m2-14v1m2-6v2m3 8v1m1-5v1m4-5v1m1 5v1m5-8v1m1-5v1m5-3v1m0 14v1m6 2v1m2 1v1m12-6v1m10 0v1m1 0v1m4 1v1m1-1v1m1-5v1m2-7v1m2-8v1m1 19v1m6-27v1m1-8v1m3 17v1m2 2v2m0 9v1m2-28v1m16 7v1m4 19v1m10 1v1m3-22v1m2-14v1m15 22v1m1-3v1m1-1v1m0 5v1m3-7v1m5 7v1m2-13v1m2 0v1m3-2v1m2 2v1m0 1v1m0 8v1m5 0v1m5-8v1m2 7v1m4-6v1m10-1v1m3-7v1m5 0v1m0 8v2m2-19v1m0 9v1m0 2v1m3-7v1m0 2v1m1-3v1m2-4v1m7 7v1m1 3v1m1-2v1m1 2v1m4-8v1m0 2v1m1 0v1m2-11v1m0 5v1m3-3v1m6 1v1m3 2v1m3 1v1m3-12v1m6 2v1m2-3v1m0 4v1m3-7v1m5-12v1m2 18v1m1-17v1m3 3v1m29-14v1m0 25v1m2-28v1m2-4v1m1 0v1m0 3v1m2-8v1m0 12v1m1-12v1m3 33v1m1-34v1m3 26v1m3-25v1m0 3v1m0 22v1m3-3v1m3-37v1m3 40v1m4-2v1m1-17v1m1-27v1m1 8v1m4-2v1m1 3v1m2 19v1m3-1v1m0 1v1m3-26v1m0 10v1m2-19v1m2-1v1m3 3v1m2 33v1m1-37v1m2 0v1m0 13v1m2-13v1m1-11v1m0 12v1m0 30v1m1-27v1m0 12v1m3-28v1m2 36v1m1-38v1m4 26v1m7-23v2m1 13v1m3-7v1m1 9v1m1 7v1m2-24v1m1-5v1m0 4v1m2-5v1m1 28v1m4-30v1m0 15v1m4 0v1m1-11v1m2 21v1m4-10v1m2-20v2m3-2v1m2 27v1m2 2v1m1-23v1m1 2v1m5-11v1m3 5v1m0 17v1m6-27v1m2 34v1m2-2v1m2-23v1m3 7v1m1 11v1m2-27v1m1 16v1m3 1v1m3 2v1m1-18v1m1-8v1m5 1v1m2-10v1m6 2v1m0 16v1m0 17v1m2-6v1m13 3v1m5-1v1m5-16v1"/>
<path stroke="#b4ed00" d="M52.5 535v1m1-22v1m1-12v1m0 31v1m1-23v1m5-2v1m2-6v1m3 20v1m3-26v1m0 12v1m1 15v1m3-24v1m2-13v1m5 13v1m8 25v1m12-39v1m0 27v1m3-30v1m2 29v1m0 5v1m1-36v1m2 36v1m1-26v1m2 17v1m1-6v1m0 3v1m1 1v1m4-3v1m3-2v1m0 6v1m11 0v1m1-8v1m7-5v1m0 3v1m0 1v1m1-7v1m1 1v1m1 2v1m0 5v1m1-15v1m3-2v1m2 12v1m1-8v1m1-16v1m0 21v1m3-36v1m2 25v2m1-2v1m2-7v1m0 18v1m1-12v1m1-22v1m1 26v1m5-4v1m1 6v1m1-10v1m1-21v1m2 29v1m1-19v1m3-15v1m0 1v1m7-4v1m3 21v1m0 1v1m3 8v1m1-30v1m2 15v1m2 3v1m2-9v1m0 11v2m6-15v1m0 16v1m1-12v1m2 7v2m1-23v1m0 8v1m5 10v2m0 3v1m10-22v1m0 3v1m0 5v1m1-8v1m0 1v1m4-2v1m1-8v1m0 5v1m0 16v1m2-17v2m1 2v1m3 5v1m1-2v1m1-6v1m5 2v2m3 2v1m2-8v1m2-4v1m2 0v1m3 0v1m1 0v1m3 9v1m1-11v1m1 6v1m0 3v1m1-12v1m0 9v1m1-6v1m0 2v1m1 2v1m1-19v1m0 17v1m1-13v1m1 7v1m2-13v2m3 16v1m2-7v1m1-12v1m0 11v1m1-11v1m2-2v1m1-3v2m1-19v1m0 33v1m5-14v1m6-23v1m0 34v1m1-28v1m6-6v1m5 0v2m3 1v1m1-5v1m1-6v2m3 3v2m1 13v1m1-17v1m0 14v1m5-12v1m2 9v2m2-14v4m1 6v2m7 14v1m0 2v1m2 0v1m2-11v1m2 6v1m2-14v1m2 6v1m1-3v1m2-6v1m2 6v1m2 3v1m5-1v1m1-1v1m3-1v1m0 7v1m3-9v1m1 7v1m5-14v1m1 12v1m3-22v1m4 10v1m1-7v1m1 12v1m5 1v1m2-7v1m2-1v1m1-7v1m2-7v1m2 12v1m0 4v1m1-12v2m1 4v1m1-10v1m1 13v1m3-6v1m1-3v1m2-8v1m5 3v1m2 0v1m3 2v1m1 0v1m1 1v1m2-5v1m1-6v1m3 7v1m1-1v2m1-7v1m1-2v2m7 0v1m0 1v1m1-3v1m0 3v1m1-11v1m0 5v1m2-6v1m0 2v1m0 1v1m4-9v1m4 5v2m1 0v1m0 4v1m1-12v1m3 9v1m1 0v1m5-17v1m4 4v1m1-5v1m0 18v1m1-7v1m7 3v1m2-12v1m2 11v1m2-6v1m9-5v1m1-10v1m2-8v1m3 23v1m1-20v1m2 5v1m0 1v1m1-26v2m1 36v1m3-26v1m0 4v1m0 2v1m1-17v1m1 0v1m1-8v1m0 35v1m1-24v1m0 1v2m4-15v2m0 5v1m4-7v1m2 29v1m1 4v1m1-37v1m5-2v1m1-2v1m0 1v1m0 23v2m0 9v1m2-35v1m1-1v1m0 13v1m2-18v1m0 2v1m0 3v1m2 30v2m1-42v2m0 1v1m0 26v1m1-6v1m2-25v1m3-3v1m1 38v1m1-35v1m0 17v1m1-28v1m1 4v1m0 11v1m0 14v1m1 11v1m1-44v1m0 41v1m1-40v1m0 26v1m1 11v1m2-34v1m1-7v1m1 17v1m0 17v1m2-28v1m2 7v1m2-21v1m0 18v1m1-11v1m1 5v1m1-7v2m0 30v1m1-41v1m0 30v1m1-24v1m3-3v1m0 2v1m1 32v1m2-34v1m0 33v1m2-36v1m0 6v1m0 18v1m0 3v1m2-18v1m0 18v1m2-29v1m3-2v2m0 14v1m0 14v1m3-28v1m3 17v1m0 2v1m4-4v1m1-22v1m1 3v1m1 25v1m4-27v1m0 24v1m1-30v1m0 31v1m1-23v1m2 19v1m3-33v1m0 7v1m2-8v1m0 14v1m0 8v1m3-27v2m1 12v2m0 3v1m1-18v1m0 26v1m0 2v1m2-12v1m3 12v1m1-22v1m2 6v1m0 6v1m2-8v3m0 1v1m1 10v1m1-28v1m2-8v1m0 11v1m3-10v1m0 1v1m0 4v1m1-9v1m2 0v1m0 3v1m1 25v1m5-24v1m1-7v1m2 16v1m0 3v2m1 7v1m3-39v1m0 2v1m0 19v2m1-14v1m2-3v1m0 17v1m0 3v1m2-21v1m0 4v1m1-16v1m0 28v1m2 7v1m2-36v1m0 33v1m3-31v1m1-5v1m1 9v1m0 4v1m2-18v1m1 8v1m0 3v1m0 4v1m2-13v1m3 15v1m1 6v1m6 7v1m3-3v1m8-1v1m13-1v1m2-1v1m3 1v1m7-2v1"/>
<path stroke="#d7f400" d="M51.5 534v1m0 2v1m1-29v1m0 24v1m3-37v1m1 10v1m0 1v1m0 2v1m1-17v1m2-1v1m0 7v1m2 5v1m1-8v1m0 7v1m2 14v1m1-17v1m1-10v1m0 16v1m0 12v1m2-19v1m1-10v1m1-3v1m1-10v1m0 3v1m0 16v2m2-5v1m0 12v1m2-11v1m10 21v1m6-1v1m8-14v1m2 0v1m1 5v1m1-7v1m0 2v1m0 1v1m1-26v2m1-4v1m0 2v1m0 17v1m0 12v1m1-36v1m1 6v1m1 12v1m1 10v1m1 0v1m1-5v1m6 4v1m6-12v1m3-2v1m0 9v1m3-13v1m0 3v1m3-1v1m1-2v2m0 6v1m4-11v1m0 9v1m1-9v1m2-11v1m4-3v1m1 9v1m1 9v1m1-9v1m0 6v1m1 0v1m1-4v1m1-17v1m1-20v1m0 35v1m1-37v1m0 21v1m0 9v1m1-14v1m0 2v1m1-21v1m1 8v1m0 12v1m1 5v1m1-11v1m1 11v1m2 0v1m2 4v1m0 2v1m1-19v1m1 0v1m1-10v1m1 18v1m1 0v2m1-23v1m0 1v1m0 4v1m0 21v1m3-6v2m2-17v1m1 5v1m3 10v1m1-5v1m0 1v1m2 0v1m3-9v2m0 1v1m0 5v1m5-4v1m0 1v1m3-7v1m1-12v1m0 3v1m0 2v1m0 5v1m1-9v1m1 3v1m0 10v1m1-9v1m0 3v1m2-2v1m1-9v1m0 3v1m1 5v2m1-21v1m0 1v1m0 2v1m1 5v1m0 7v1m1-14v1m1-12v1m0 20v1m1-17v1m0 4v1m2 11v1m3-20v1m0 5v1m0 9v1m0 4v1m3-7v1m1-1v1m3-4v1m1-2v1m3 5v1m0 4v1m1-11v1m0 2v1m1-8v1m1-2v1m1-2v1m0 6v1m1-11v1m0 7v1m2 11v1m1-3v1m2-12v1m1 10v1m5-10v1m1-5v1m0 1v1m2 7v1m2-11v1m1 5v3m1-9v1m0 1v1m2-1v1m1 10v1m1-14v1m1-2v1m0 11v1m1-14v1m0 15v1m1-10v2m0 4v1m5-14v1m0 6v1m2 10v1m2-15v1m2-5v1m0 5v1m4 7v1m1-17v1m0 4v1m0 2v1m1-4v1m0 5v1m2-19v1m3-4v1m0 25v1m1-25v1m0 14v1m0 4v1m3-11v1m1 2v1m0 11v1m5 3v1m1-8v1m2 6v1m2-4v1m2-32v1m6 2v1m4-3v1m1 7v1m2-8v1m0 3v1m3-12v3m0 6v2m0 4v1m2-11v1m0 13v1m1-10v1m6-9v1m2 14v1m1-8v1m0 4v1m1-6v1m1-3v1m0 11v1m1-14v1m0 1v1m0 1v1m4 18v1m0 7v1m4-6v1m1-7v2m0 8v1m4-19v1m0 6v1m0 12v1m3-20v1m2 3v2m5 3v1m0 2v1m0 5v1m4-12v1m1 4v1m2 0v1m1 2v1m2-15v1m0 11v1m4-8v1m2 0v1m2-6v1m1 7v1m1-4v1m2 3v1m2-9v1m1-2v1m0 8v1m4 0v1m1-16v1m2 13v1m0 2v1m1-10v1m2-4v1m0 3v1m0 7v1m1-2v1m3-11v1m1 6v1m1-12v1m0 14v1m3-13v1m0 8v1m1-7v2m1 8v1m2-9v1m2-2v2m1-3v1m6 4v1m0 5v1m3-17v1m0 17v1m2-14v1m0 4v1m1 2v1m3-12v2m2 8v1m5-12v1m4 1v1m0 8v1m0 1v1m1-18v1m0 16v1m1-15v1m0 3v1m0 1v1m0 11v1m1-21v1m0 1v1m0 11v1m1-9v1m2-5v1m1-1v1m0 9v1m0 2v1m3-3v1m1-7v1m2-3v1m1 10v1m1-11v1m1-8v1m0 3v2m0 1v1m0 3v1m0 3v1m1-11v1m2-1v1m1 1v1m1-11v1m3 15v1m1 0v1m2-9v1m2-9v1m1 4v1m2-1v1m0 11v1m1-8v1m1-8v1m1 7v1m2 4v1m3-6v2m3-13v1m0 1v1m5-4v1m2-2v1m1-3v1m1 23v1m1-13v1m0 3v1m0 3v1m1-1v1m6-16v1m1-9v1m1 28v1m1-27v1m3-9v1m0 7v1m3-7v1m1-3v1m1 2v1m0 26v1m2-34v2m0 1v1m0 1v1m0 2v1m1-8v1m1 2v2m2 7v1m0 18v1m0 4v2m1-21v1m1-15v1m2 26v1m0 2v1m1-16v1m1-22v1m0 1v1m1-7v2m0 2v1m4 7v1m0 16v1m0 11v1m1-41v1m1 41v1m3-35v1m1-3v1m0 22v2m1-31v1m2 37v1m2-29v1m1-13v2m0 2v1m0 3v1m2-10v1m1 4v1m1 32v1m1-18v3m2-17v1m0 17v2m2 18v1m1-17v1m0 12v2m2-41v2m1 3v2m1-7v1m0 1v1m1 18v1m0 17v1m2-37v1m1 22v1m1 14v1m1-42v1m2 10v1m2-9v1m0 5v1m0 28v1m1-39v1m0 2v1m0 29v1m0 1v2m1-33v2m1-2v1m2-3v1m0 1v1m2-4v1m1 4v1m1 2v1m1 8v1m0 17v1m2 1v1m2-32v1m0 30v1m2-35v1m0 3v1m1 0v1m1 1v2m3 15v1m1-21v1m1 24v1m0 2v1m2-30v1m2 4v1m0 1v1m2-3v1m0 19v1m6-18v2m3-4v1m0 3v1m0 19v2m1-27v1m0 7v2m2-7v1m1 8v1m0 2v1m1-16v1m0 20v1m1-21v1m1-3v1m2 16v1m1-20v1m0 7v1m1-8v1m1 32v1m1-35v1m1-2v1m0 3v1m1-2v3m0 8v1m5 8v1m0 2v1m2-1v1m1-28v1m0 1v1m1 5v1m1-8v1m0 2v1m2-2v1m0 6v2m1-1v1m1-11v1m1-2v1m0 6v1m0 9v1m1-17v1m2-1v1m0 5v1m0 1v1m0 20v1m2 2v1m1-18v1m1-17v1m1 33v1m1-27v1m0 17v1m1-24v1m0 5v1m1-6v1m0 1v1m1 1v1m2-9v1m3 4v1m1 9v1m1-10v1m3-4v1m1-1v1m1 0v1m1 28v1m2-27v1m1 2v1m1-6v1m1-6v2m1 7v1m0 10v1m1-14v1m1-2v1m1 28v1m3-16v1m0 4v1m14 7v1m6 0v1m2-1v1m7 1v1m7-2v1m13-2v1"/>
<path stroke="#fffc00" d="M55.5 511v1m1 23v1m1-29v1m3 6v1m3-11v1m0 4v1m0 4v1m1 6v1m1-9v1m1 15v1m1-25v1m0 31v1m4-31v1m0 7v1m2-10v1m0 4v1m2-15v1m1 17v1m23-14v1m0 21v1m2 9v2m1-5v1m2-23v1m1-10v1m0 2v1m1 1v1m0 24v1m2-11v1m0 13v1m1 2v1m2-16v1m0 6v2m1 2v1m2-4v1m2 6v1m2-9v1m1 0v1m1 0v1m0 4v1m1-8v1m5 0v1m1-2v1m1-5v1m5-2v1m1 0v1m0 5v1m3-14v1m0 1v1m3-2v1m2-9v1m0 11v2m1 1v1m0 1v1m2-16v1m2 3v1m2-9v1m1 21v1m1-36v1m0 23v1m2-12v1m0 6v1m0 10v1m2 5v1m2-18v1m0 15v1m1-29v1m0 30v1m1-12v1m4 11v1m1-22v1m0 4v1m0 6v1m1-12v1m2-19v2m0 35v1m0 1v1m1-30v1m3 14v1m2-17v1m1 0v1m1 3v1m0 15v1m2 9v1m1-30v1m0 16v1m0 7v1m1-11v1m1-2v1m1-18v1m0 30v1m1-12v1m1-2v1m1 6v1m0 1v1m0 3v1m1-17v2m3 4v2m3 6v1m1-6v1m3 5v1m2-10v1m3-15v1m0 1v1m1 15v1m2-17v1m1-8v1m0 14v1m0 2v1m1-5v1m0 4v1m0 8v1m1-10v1m0 4v1m0 2v1m1-16v1m2 4v1m0 4v1m1-1v1m2-2v1m2 4v1m1-19v1m0 4v1m1-1v1m1-7v1m1 2v1m0 4v1m1-7v1m0 5v2m0 1v1m1-10v1m1 5v1m1-5v1m1 1v1m1-5v1m0 6v1m1-8v1m4 5v1m2 8v1m1 2v1m1-15v1m0 7v1m3-5v1m0 1v1m1-4v1m2 11v1m1-1v1m1-16v1m4 9v1m1-8v1m0 6v1m1-7v1m0 1v1m0 1v2m1-9v1m3 10v1m1-10v1m2-3v1m0 6v1m2 5v1m2-7v1m2-8v1m2 2v2m1-6v1m1 5v1m1 3v1m2-14v1m2-9v1m0 16v1m3-28v1m0 16v1m0 8v1m2-20v1m2-5v1m1 26v1m2-6v1m2-24v1m1 3v1m1 20v1m1-22v1m2-1v1m1-3v1m3-2v1m5 4v1m4-2v1m1-8v1m0 5v2m0 5v1m1-9v1m1-5v2m0 8v1m1-5v1m0 2v1m1 25v2m3-23v1m1-13v1m0 3v1m0 7v2m5-16v1m0 16v1m1-18v1m1-2v1m2 11v1m1-6v1m0 5v1m0 2v1m1-3v1m1-9v1m3 23v1m2 4v1m2-11v1m0 3v2m2-4v1m1-4v1m2 11v1m3-14v1m2-3v1m0 2v1m0 7v1m4-3v1m0 5v1m2-9v1m1 2v1m1-8v1m2 11v1m2 0v1m1-12v1m2-5v1m1-1v1m3 4v1m2 6v1m2 2v1m1-16v1m0 8v1m4-13v1m0 11v1m1 3v1m1-15v1m4 0v1m0 9v1m0 2v1m1-6v1m0 1v1m1-13v1m1 12v1m1-6v1m0 2v1m1-3v1m0 1v1m5-4v1m0 4v1m0 3v1m1-9v1m2-5v1m0 6v1m1 1v1m1-7v1m0 3v1m1-13v1m0 7v1m0 4v1m1-15v1m0 10v1m1-6v1m0 10v1m3-5v1m2-4v2m1-7v2m1-5v1m5 4v1m2-9v1m0 6v1m4 0v1m2-4v1m1 8v1m4-9v1m1 12v1m4-6v1m3-17v1m0 7v1m3-2v1m0 1v1m2-10v1m0 13v1m2-3v1m1-7v2m4 1v1m0 2v1m2-3v1m1-13v1m0 2v1m1-2v1m0 4v1m3 3v1m2-8v1m0 8v1m1 4v1m2-11v1m1-3v1m0 2v1m1 13v1m3-11v1m1-7v1m2-4v1m6 9v1m3-12v1m4 15v1m1-20v1m0 1v1m1 6v2m1-10v1m1-7v1m0 4v1m0 1v1m2 11v2m1-11v1m0 8v1m0 2v1m0 3v1m2-24v1m3 2v1m0 21v1m3-15v1m1-21v2m1-3v1m0 12v1m0 2v1m1-14v1m0 4v1m2-5v1m1-5v1m1-1v1m1-6v1m0 5v1m2-1v1m1-3v1m0 35v1m1-4v1m1-36v1m0 8v1m0 26v1m3-38v1m0 11v1m0 1v1m1-11v1m1 9v1m1-18v1m0 1v1m0 31v1m0 7v1m1-21v1m2-20v1m0 1v1m1-9v1m3 0v1m0 3v1m0 2v1m1-5v1m0 4v1m0 27v1m1 3v1m1-34v1m1 22v2m0 12v1m2-41v1m0 8v1m0 11v1m1-20v1m2-2v1m0 1v1m0 29v2m1-12v1m2-27v1m2 36v1m3-15v1m2-9v1m0 8v1m0 11v1m1-32v3m2-5v1m0 1v1m2-7v1m1 40v1m1-42v1m0 3v1m1 12v2m0 18v1m0 3v1m2-30v1m1 15v1m3-31v1m1 8v1m0 1v1m0 8v1m1-14v1m2 23v1m0 12v1m2-44v1m1 1v1m0 2v1m2-1v2m2 4v1m0 30v1m1-2v1m0 2v1m1-35v2m2-1v1m0 9v1m0 13v1m2 9v1m1-39v1m1-1v1m1 7v1m0 1v1m1-12v1m0 2v1m1 2v2m0 1v1m4 20v1m1-21v1m0 8v1m1-11v2m0 25v1m2 0v1m2-32v1m2 31v1m1-27v1m1 0v1m2-11v1m0 4v1m1 4v2m2-8v1m1-2v1m0 5v1m0 9v1m0 12v1m1-17v1m0 1v1m2-1v2m1 1v1m0 14v1m2-34v1m0 32v1m1-33v3m1 15v1m0 3v1m0 5v1m1-6v1m2-7v1m3-8v1m1-4v1m0 3v1m3 18v1m1-35v1m0 2v1m2 32v1m2-25v1m2-6v1m0 12v1m1-15v1m0 1v1m2-7v1m0 3v1m4-5v1m0 26v1m0 2v1m3-23v1m1-1v1m1 25v1m1-8v1m2-25v1m0 2v1m1 26v1m1-36v1m0 6v1m3 24v1m1-26v1m0 26v1m1-25v1m1-6v1m1 5v1m0 3v1m1-14v1m1-1v1m0 1v2m1-2v1m1-4v2m0 21v1m0 2v1m1-24v1m0 1v1m1-1v1m0 12v1m1 16v1m4-4v1m1-23v1m2-7v1m2 17v1m1-5v1m0 3v1m0 2v1m4 8v1m10 0v1m7-3v1m8 0v1m13-3v1"/>
<path stroke="#ffe700" d="M52.5 516v1m0 21v1m3-36v2m1 7v1m6 14v1m1-15v1m1 8v1m2-18v1m2 17v1m3-28v1m21 40v1m7-37v1m0 27v1m3-31v1m2 33v1m1-29v1m1 30v1m1-12v1m2 6v1m7-6v1m8 2v1m1-1v2m2-6v1m0 6v1m1-8v1m0 11v1m1-5v1m4 2v1m4-19v1m1 16v1m1-19v1m1 15v1m1-25v1m0 9v1m0 11v1m1-1v1m1-15v1m1 10v1m2-21v1m4 1v1m1 20v1m1-18v1m0 18v1m2 0v1m2-4v1m3-29v1m0 27v1m3-26v1m0 26v1m2-3v1m3-7v1m2 10v1m4 0v1m4-24v1m5-8v1m0 16v1m2-3v1m0 7v1m3-21v1m1-1v1m3 10v1m1 14v1m7-18v1m2 7v1m2-1v2m1 6v1m1-15v1m1 6v1m2 3v1m2-24v1m0 21v1m6-5v1m1-6v1m3-1v1m1-6v1m1 4v1m1-6v1m3 17v1m4-12v1m3-3v1m0 7v1m1-5v1m2-5v1m1 0v1m1 8v1m4-4v1m1-2v3m2-7v1m5-2v1m1-11v1m0 7v1m5 9v1m2 0v1m2-15v1m2 0v1m0 9v1m5-10v1m2-10v1m2 20v1m2 1v1m2-23v1m1 6v1m0 9v1m2-11v1m1 2v1m0 10v1m1-26v1m0 16v1m1-25v1m1 7v1m2 0v1m0 17v1m0 8v1m1-38v1m4 34v1m4-32v2m5-4v1m1 6v1m1-2v1m2 3v1m1-4v1m2 1v2m1-8v1m8 5v1m2 25v1m7-11v1m2-3v1m2 6v1m1-8v1m2 3v1m1-8v1m3 7v1m1-5v1m3-10v1m5 4v1m1 0v1m4-2v1m0 1v1m1 6v1m2-5v1m2-7v1m2 11v1m3 3v1m7-5v1m3-12v1m1-1v1m1-4v1m2 9v1m3 5v1m3-10v1m2-1v3m10 5v1m1-8v1m3-2v1m3-7v1m4 9v1m10 5v1m5-9v1m1-8v1m3 13v1m2-3v1m4 2v1m2-22v1m2-1v1m0 15v1m2-12v1m1 12v1m0 2v1m2-16v1m3-2v1m3 3v1m3-4v1m1 0v1m8-5v1m2 14v1m5-7v1m0 1v1m13-7v1m10-18v1m1 7v1m0 4v1m0 15v1m2-27v1m0 26v1m1-32v1m0 13v1m3-14v1m0 7v1m3 20v1m1-40v1m0 40v1m1-6v1m2-8v1m1-33v1m2 10v1m1 20v1m1-10v1m1-21v1m1 37v1m4-31v1m0 22v1m1-36v1m1 38v1m2-10v1m1-28v1m1 30v1m3-26v1m5-4v1m2 28v1m1-17v1m0 3v2m0 3v1m4-23v1m0 34v1m1-43v1m0 29v1m2-24v1m1 24v1m4-22v1m1-3v1m1-3v1m0 15v2m2-22v1m0 13v1m1-3v1m0 3v1m2-16v2m1-5v1m3 40v1m2-33v2m1-9v1m2 37v1m1-22v1m5-11v1m2 6v1m1-5v1m0 29v1m6-19v1m1-11v1m4-4v1m0 1v1m3 31v1m3-35v1m3-1v1m1 5v1m0 11v1m0 9v1m2-16v1m1-15v1m0 11v1m0 7v1m1-20v1m2 3v1m3 15v1m2-10v1m0 3v1m0 9v1m0 5v1m2-30v1m1-4v1m0 14v1m3 5v1m4 12v1m3-36v1m1 8v1m1-6v1m2-2v1m0 3v1m1 0v1m1 24v1m2-31v1m0 23v1m1 5v1m2-30v1m0 6v1m6-1v1m6 1v1m4-8v1m1-5v1m4 5v1m1 5v1m4-5v1m3 0v1m2 0v1m48 22v1"/>
<path stroke="#ffcf00" d="M54.5 499v1m14 38v1m4-39v1m15 37v1m16-9v1m2-22v1m0 24v1m2-6v1m0 2v1m1-16v1m8 13v1m4 3v1m6-9v1m6 10v1m5-5v1m3 3v1m2-6v1m0 1v1m3-8v1m2-10v1m0 3v1m6 13v1m2-31v1m3 21v1m0 7v1m6-17v1m20-1v1m6 1v1m5-18v1m0 24v1m4 6v1m17-16v1m1 1v1m5 12v1m1-18v1m0 15v1m11-10v1m2-2v1m1 8v1m2-4v1m4-14v1m5 5v1m5-12v1m3-9v1m3 19v1m5 9v1m3-7v1m1-24v1m1 18v1m4-17v1m2 12v1m1 8v1m7 3v1m15-34v1m0 14v1m1-9v1m8-6v1m1 4v1m0 1v1m11-12v1m1 6v1m22 26v1m2-10v1m3 1v1m6 6v1m3-2v1m3-7v1m3 7v1m5-3v1m3-6v1m1 7v1m1-14v1m19-2v1m1 0v1m4-2v1m2 1v1m1 11v1m1-1v1m9-18v1m8 9v1m0 4v1m9-18v1m0 8v1m13-11v1m3 3v1m0 7v1m1-6v1m6 9v1m33-10v1m1 11v1m1-37v1m0 8v1m24-15v1m4 19v1m1-21v1m1 28v1m8 4v1m2 4v1m1-35v1m2-10v1m0 11v1m0 5v1m0 24v1m6-15v1m7-25v1m3 12v1m3-11v1m5 11v1m5-1v1m2 22v1m3-15v1m31 10v1m5-24v1m7 16v1m2-1v1m7-26v1m0 2v1m20-5v1m3 0v1m0 27v1m5-23v1m4-4v1m4 23v1"/>
<path stroke="#ffb700" d="M54.5 507v1m1-6v1m2 7v1m2-12v1m2 11v1m2-15v1m1 1v1m1 2v1m0 13v1m2-2v1m1-5v1m3-15v1m3 16v1m1-6v1m0 1v1m19-13v1m4 4v1m2-5v1m0 30v1m0 3v1m1-37v1m1 33v1m1-28v1m1-9v1m3 35v1m1-5v1m1-21v1m1 21v2m2 3v2m11-4v1m3 1v1m5-2v1m3-16v1m0 15v1m4-5v1m5-15v1m0 3v1m3-9v1m1 8v1m0 4v1m0 1v1m4-16v1m1-18v1m3 38v1m2-15v1m43 10v1m1 1v1m6-2v2m12-1v1m1-18v1m22 16v1m12-2v1m1 1v1m6-3v1m5-26v1m3-10v1m3 10v1m1 22v1m2-23v1m1-9v1m0 24v1m5-28v1m3 1v1m1 0v1m1 1v1m2-2v1m2-2v1m4-6v1m5-3v1m0 8v1m3-3v1m5-1v1m1-3v3m5 0v1m2 1v2m4-1v1m8 20v1m3 3v1m1-3v1m1-2v1m5-11v1m4 10v1m3-6v1m0 7v1m8-13v1m0 4v1m5 2v1m1-9v1m1 12v1m3-7v1m2 5v1m20-1v1m5-10v1m12-7v1m6-2v1m1 12v1m7-13v1m1-4v1m9 15v1m3-2v1m1 2v1m2-2v1m32-19v1m21-3v1m7-7v1m3-14v1m17 35v1m6-32v1m9-11v1m9 21v1m93 13v1"/>
<path stroke="#ffa400" d="M52.5 508v1m2-4v1m0 2v1m1 1v1m1-4v1m1-11v1m0 1v1m0 11v1m2-12v1m0 4v1m1-3v1m2 6v1m1 0v1m2 5v1m2-6v3m3-12v1m4 8v1m3-11v1m18-2v1m0 2v1m1-4v1m4 24v1m1-22v1m5-4v1m0 25v2m1-13v1m1-13v1m6 28v1m10-4v1m0 5v1m3-15v1m4 10v1m1-10v1m3-5v1m0 1v1m0 5v1m1 7v1m1-6v1m4-20v1m2 13v1m3 6v1m2-10v1m1 12v1m1-2v1m1-8v1m2-30v1m0 13v1m2-13v1m0 10v1m0 3v1m1-18v1m0 2v1m0 32v1m1-24v1m1-13v1m1 13v1m0 14v1m9 5v1m5-1v1m16 0v1m9-2v1m10 0v1m7-3v1m6 1v1m7-4v1m17 0v1m2-1v1m7-28v1m3-4v1m0 7v1m8-13v1m1 10v1m3 0v1m2-11v1m0 30v1m1-33v1m0 1v1m1 1v1m1 3v1m1-5v1m3-6v1m0 4v1m0 2v1m1 26v1m1-32v1m1 2v1m2-1v1m3-2v1m0 26v1m2-30v1m1-1v1m4 3v1m3-6v1m3-3v1m0 2v1m1 3v1m1-2v1m4-7v1m1 6v1m2-1v1m5-10v1m0 7v1m2-8v1m0 33v1m1-38v1m1 10v1m1 0v1m1-2v1m4 15v1m8 4v1m2-15v1m2-2v1m4 14v1m6 2v1m1-4v1m0 3v1m1-8v1m7-3v1m0 5v1m3 1v1m4-14v1m1 9v1m2-13v1m0 15v1m1-11v1m1-2v1m2 8v1m1-3v1m4 0v1m1-7v1m0 11v1m3-17v1m13 13v1m4-15v1m4-1v1m5-2v1m7-3v1m0 17v1m6 0v1m1-15v1m5 10v1m19 1v1m41-29v1"/>
<path stroke="#ff9100" d="M54.5 501v1m1-1v1m0 10v1m0 2v1m2-15v1m0 1v1m1 2v1m0 1v2m2-9v1m0 7v1m0 1v1m1-11v1m0 11v1m2-12v1m1 0v2m1 6v1m3 0v1m4-15v1m1 3v1m1-5v1m0 14v1m2 0v1m3-5v1m15-13v1m3 23v1m1-21v1m0 14v1m1-14v1m0 23v1m1-30v1m0 4v1m1-2v1m1-3v1m0 6v1m0 19v1m1-30v1m1 3v1m0 20v1m1 2v1m2-20v1m1-3v1m0 30v1m4-9v1m1-1v1m2 1v1m3-5v1m2 2v1m1-3v1m0 7v1m2-10v1m0 2v1m0 6v1m6-14v1m1 1v2m4-4v1m1-7v1m1 16v1m1 2v1m3-21v1m0 6v1m2 1v1m0 2v1m3-4v1m0 1v1m1-16v1m1-6v1m5-16v1m0 21v1m2-8v1m1 17v1m1-26v1m3 16v1m4 18v1m7-3v1m10 1v1m2-1v1m14-2v1m12-3v1m4 1v1m3 0v1m6-2v1m6 0v1m5-1v1m9-2v1m2-2v1m23-25v1m1-7v1m2 28v1m1-34v1m0 5v1m0 1v1m2-7v1m0 32v1m1-34v1m0 8v1m1-11v1m5 3v1m1-4v1m1 5v1m1-6v1m1-2v1m3 33v1m3-32v1m0 2v1m4-4v1m1-4v1m2 5v1m2-4v2m1-2v1m2-1v1m1-10v1m0 6v1m0 2v1m1-11v1m0 2v1m2 5v1m0 2v1m1-8v1m0 4v1m0 28v1m1-28v2m1 0v1m5-10v1m0 7v1m1-9v1m0 31v1m2-28v1m2-9v1m0 9v1m1-10v1m0 6v1m12 24v1m1-3v1m1-6v1m1-10v1m0 20v1m2-6v1m2-7v1m1-7v1m3 2v1m4-2v1m0 1v1m4-1v1m1-4v1m1 14v1m3-5v1m1-8v1m1 10v1m2-16v1m3 5v1m12-1v1m10-6v1m1-4v1m2-1v1m0 3v1m9-5v2m0 13v1m1-16v1m5 16v1m2-1v1m1-17v1m1-1v1m7 1v2m6 12v1m2-3v1"/>
<path stroke="#ff7d00" d="M52.5 510v1m4-8v1m1 0v1m2 3v1m2 5v2m1-15v1m0 9v1m2-1v1m0 2v1m3 1v1m1-4v1m0 3v1m2-17v1m0 10v1m3-12v1m0 1v1m0 11v1m1-13v1m3 1v1m17-4v1m2-3v1m1 18v1m2 17v1m1-37v1m6 29v1m1-25v1m0 25v1m1-19v1m1-2v2m0 2v1m1 4v1m3 3v1m4 4v1m4-1v1m4-7v1m3 0v1m10-11v1m0 14v1m4-11v1m1 11v1m2-27v1m0 5v1m2 13v1m1-17v1m3 9v1m1-26v1m0 7v1m0 18v1m1-19v1m0 3v2m0 1v1m2 6v1m0 2v1m1-25v1m0 5v1m3 8v2m16 22v1m19-1v1m15-3v1m8 1v1m4-3v1m21-1v1m15-30v1m0 7v1m3-6v1m2 26v1m5-27v1m1 23v1m1-36v1m0 14v1m1-13v1m2 2v1m0 31v1m1-36v1m1 3v1m3 1v1m1-1v1m1-1v1m3-4v1m1 0v1m1 0v1m1 28v1m2-36v1m0 3v1m3-5v1m1 1v1m1-1v1m0 1v1m4 2v1m2 2v1m6-11v1m0 6v1m2-3v1m1 1v1m0 2v1m1 1v1m7-6v1m3-7v1m1 8v1m1-10v1m0 8v1m7 14v1m1 8v1m1-8v1m1-4v1m2-6v1m0 14v1m6-8v1m1-6v1m1 8v1m4-14v1m1-1v1m1 7v1m1-2v1m5 8v1m2-14v1m3 11v1m1-9v1m4-4v1m2-5v1m8 13v1m2-2v1m3-13v1m9 13v1m3-15v1m0 1v1m1 14v1m2-4v1m8-17v1m3 4v1m8-6v1m1 2v1m4-1v1m22 12v1"/>
<path stroke="#ff6800" d="M52.5 511v1m3-13v1m1 1v1m3 2v1m1 5v1m17-7v1m2 8v1m18 7v1m0 1v1m3-3v1m0 2v1m4-21v1m6 31v1m2-3v1m5-7v1m12 6v1m2-11v1m7-3v1m0 7v1m4-1v1m3-8v1m3-14v1m2 5v1m3 20v1m1-6v1m2-28v1m28 28v1m9-1v1m5-1v1m5 0v1m36 1v1m2-1v1m8-2v1m11-33v1m0 5v1m10-8v1m1-2v1m5-3v2m3 8v1m3-8v1m1 30v1m2-30v1m0 2v1m1-4v1m3 1v1m12-5v1m1-4v1m3 0v1m9 1v1m6 0v1m0 5v1m27 26v1m1-17v1m3 13v1m4-1v2m11-3v1m9-6v1m1 6v1m2-15v1m3 12v1m1-2v1m2 0v1m1-15v1m0 14v1m2-19v1m3 17v1m6-15v1m9-1v1m1 11v1m2 0v1m5-2v1m1 0v1m1-13v1m3-5v1m0 14v1m29-1v1m1 0v1m5 0v1"/>
<path stroke="#ff5300" d="M58.5 502v1m1 8v1m1-13v1m39 23v1m15 13v1m1 0v1m2-1v1m4-2v1m2-2v1m5-1v1m9-16v1m9 16v1m1-31v1m28 26v1m9-12v1m4 10v1m4-27v1m21 28v1m15-2v1m6-9v1m0 7v2m17-26v1m2-4v1m5-8v1m12 1v1m4 0v1m0 6v1m8 13v1m2-26v1m16-1v1m5 1v2m2 2v1m8-9v1m9 37v1m6-2v1m2 0v1m4-5v1m10-13v1m0 7v1m3 5v1m9-14v1m2 13v1m3-3v1m2 2v1m4-15v1m4 12v1m7-18v1m0 15v1m2-13v1m3-6v1m2 18v1m14-3v1m2 0v1m4-7v1m11-18v1m0 9v1m6 11v1m8-1v1m4 1v1m3-3v1m3 0v1m76-9v1m9-34v1m44 32v1m23-12v1m37-16v1m5 29v1m4-20v1"/>
<path stroke="#ff3d00" d="M56.5 538v1m5-29v1m0 18v1m5-2v1m3 7v1m2-34v1m0 1v1m24-7v1m8 2v1m5 29v1m7-1v1m3 5v1m16-17v1m1-1v1m4 8v1m1 3v1m1-15v1m10-8v1m2-15v1m3 6v1m0 2v1m2 12v1m6-6v1m9 17v1m2 0v1m1-1v1m2-10v1m20-8v1m6-11v1m2 19v1m1-10v1m8 14v1m3-2v1m1-1v1m9-1v1m2 0v1m3-10v1m2 6v1m4 0v1m2-1v1m4-13v1m2 9v1m4-7v1m1-17v1m1 0v1m4 19v1m6-31v1m2 16v1m1 5v1m1-27v1m0 6v1m2 12v1m1-20v1m1 5v1m0 1v1m2-8v1m3 15v1m3 19v1m2-32v1m1 18v1m2-26v1m2 2v1m2 33v1m5-31v1m10-7v1m0 2v1m3 29v1m1-35v1m6 34v1m3-31v1m8 20v1m12-11v2m3 18v2m1-21v1m1 14v1m7-8v1m0 5v1m4-1v2m12-12v1m3 11v1m2-5v1m7-7v1m1 9v1m3-25v1m1 11v1m3 8v1m1-22v1m3-3v1m4 13v1m3 1v1m2-8v1m1-6v1m0 22v1m3 2v1m5-27v1m1 24v1m1-18v1m3 2v1m1-13v1m1 8v1m1 16v1m1-18v1m0 1v1m7 9v1m4 5v1m3-7v1m2-17v1m2 4v1m13 13v1m3-18v1m34-17v1m0 13v1m4-1v1m4 0v1m1-17v1m2 0v1m15 24v1m10-25v1m2-7v1m2-3v1m7 36v1m11-25v1m17-2v1m0 1v1m11-7v1m9 5v1m6 3v1m1-6v1m2 16v1m10-7v1m3 9v1m2-24v1m8 4v1m13-8v1m1 30v1m4-29v1m3-8v1m2 2v1m4-3v1m5 3v1m5 32v1m29-1v1"/>
<path stroke="#ff2400" d="M55.5 505v1m0 1v1m0 29v1m3-35v1m1 10v1m2-16v1m0 6v1m0 30v1m1-30v2m0 15v1m3 3v1m1-15v2m0 13v1m2-7v1m4-13v1m1-9v1m1 11v1m1-14v2m18-2v1m4-5v1m1-1v1m0 21v1m2 14v1m1-39v1m0 7v1m0 26v1m3-12v1m2-15v2m1 5v1m0 11v1m7-1v1m5 9v1m1-6v1m2 4v1m1-10v1m4 9v1m2-2v1m2-11v1m1 8v1m7-7v1m0 4v1m3-57v1m0 32v1m2 3v1m0 19v2m1-56v1m1 33v1m3-20v1m0 25v1m1-12v1m2-7v2m1 28v1m1-37v1m0 6v1m1-8v1m0 15v1m3 0v1m0 1v1m0 2v1m2 7v1m1-12v1m1-1v1m3-5v1m1 21v1m1-42v1m0 37v1m4-6v1m2-22v1m1 16v1m1-10v1m0 8v1m1 7v1m1-18v1m1 10v1m4 0v1m0 4v1m1-4v1m1-9v1m1-2v1m3 9v1m2-6v1m1 2v1m1-20v1m0 3v1m3 21v1m6-4v1m3-16v1m6 17v1m2-4v1m3-15v1m5-4v1m0 9v1m1-10v1m2 1v1m2 0v1m1-5v1m1 7v1m1-9v1m9 15v1m0 1v1m1-6v1m1-15v1m4 19v1m3-12v1m0 1v1m0 6v1m2-12v1m3-8v1m1 3v1m0 7v1m0 2v1m1-17v1m1-4v1m1-6v1m0 20v2m1-9v1m1-10v1m0 15v1m2-9v1m1 4v1m0 1v1m1-21v1m2 16v1m0 10v1m1-23v1m0 17v1m2-11v1m2 1v1m1 3v1m1-27v1m5 11v1m1-4v1m0 12v1m0 9v1m1-29v1m2 1v1m2-1v1m2-5v1m0 8v1m5-9v2m0 5v1m1-6v1m2 0v1m1 1v1m2-3v1m0 1v1m4 0v1m1-8v1m4 0v2m1-7v2m0 6v1m9 5v1m1-3v1m1-8v1m1-1v1m0 6v1m1-9v2m2 1v1m9 27v2m3-13v1m7-6v1m0 10v1m6 1v1m2-2v1m3-1v2m4 0v1m2 3v1m1-13v1m5 5v1m0 1v1m1-7v1m0 7v2m1 1v1m4-4v1m1-10v1m1 12v1m2-6v1m2-11v1m0 7v1m3-10v2m2-13v1m0 9v1m0 15v1m1-14v1m0 6v1m1-9v1m1-4v1m0 1v1m1-18v2m0 28v1m1-16v1m0 15v1m1-20v2m1-15v2m1 16v2m0 3v1m2-15v1m1 0v1m0 20v1m1-20v1m0 17v1m4-15v1m0 1v1m1-12v1m3 0v1m1-7v1m0 3v1m1 7v1m2 4v1m0 1v1m1-8v1m1-13v1m0 15v1m0 12v1m2-11v1m2 1v1m0 2v1m1 4v1m1-23v1m1 7v1m2 16v1m1-22v2m0 4v1m2-4v1m1-5v1m2 0v1m0 2v1m0 1v1m2 0v1m1 0v1m1 13v1m4-19v1m0 3v3m1-1v1m5-4v1m2 12v1m1-11v1m1-9v1m1-2v1m0 10v1m2 2v1m0 5v1m3-21v1m3-1v1m3 4v1m0 16v1m2-1v1m1-18v1m13 15v1m15-23v1m0 20v2m1-33v1m2 12v1m1-13v1m2 0v1m3-8v1m8 0v1m4-9v1m11 28v1m4 12v1m1-42v1m1 35v1m2-31v1m7-1v1m0 21v2m3 5v1m8-33v1m3 0v1m0 6v1m1-6v1m24 11v1m6-9v1m10 30v1m2-21v1m0 1v1m3 9v1m4-2v1m0 5v1m1-23v1m10-8v1m3-1v1m1 34v1m3-2v1m1-28v1m2 25v1m13-31v1m1 3v1m1-5v1m1 1v1m0 17v1m4-19v1m0 27v1m2-35v1m2 29v1m10-29v1m2 15v1m0 5v1m16 11v1"/>
<path stroke="#ff0b00" d="M52.5 536v1m1-21v1m1-17v1m1 5v1m0 31v1m1-34v1m1 0v1m1 0v1m1-7v1m0 13v1m2-8v2m1 5v1m2-16v1m1 13v2m1 10v2m1-4v1m4-23v1m1-6v1m0 12v1m3-4v1m0 2v1m0 11v1m4-17v1m10 19v1m4-27v1m0 1v1m3-5v1m2 24v2m1-5v2m1 3v1m1-19v1m1-5v1m1-1v3m1 17v1m2-23v1m0 10v1m1 0v2m0 1v1m0 9v1m1 4v1m5-1v1m0 6v1m1-10v1m5 1v1m8-7v1m1 6v1m3-7v1m4 0v2m3-13v1m0 12v1m1 6v1m2-4v1m1-5v1m1-8v1m1-6v1m0 5v1m1-43v1m0 48v1m4-35v1m2 26v1m2-17v1m0 21v1m1-29v1m0 2v1m1 5v1m0 14v1m1-17v1m1 25v1m3-18v1m1 1v2m1-4v1m0 8v2m0 3v1m2-11v1m0 2v1m1-13v1m0 14v1m2-36v1m4 31v1m0 2v1m0 3v1m2-22v1m1-9v1m1 9v3m1 16v1m0 1v1m1-17v1m1 11v1m1-12v1m3 11v1m1-4v1m1 4v1m4-25v1m2 5v1m0 2v1m1 15v1m1-23v1m0 3v1m0 3v1m0 13v1m1-18v1m2 14v1m2-8v2m1-5v1m0 2v1m1-3v1m0 12v1m2-10v1m3-15v2m0 11v1m1 3v1m2-8v2m2-13v1m0 3v1m1 20v1m2-7v1m1-3v1m0 1v1m0 1v1m2-18v1m0 3v1m9 3v1m1 12v1m1-7v1m1-6v1m2-13v1m0 7v1m1-7v1m0 1v1m3 14v1m3-13v1m1 4v1m1 4v1m3-9v1m0 6v1m2-6v1m0 2v1m1 0v1m1-8v1m1-4v1m1 13v1m1-9v1m0 7v1m0 1v1m2-20v1m1 0v1m1 13v1m1-23v1m0 10v2m1 6v1m1-6v1m0 5v2m0 3v1m1-13v1m0 10v1m1-26v1m0 1v1m1 9v1m0 6v2m0 6v2m1-30v1m1 4v1m0 16v1m1-6v1m1 9v1m1-33v1m0 18v1m0 5v1m0 7v1m1-15v2m1-19v1m0 19v1m0 5v1m1-4v1m2-3v2m0 7v1m1-26v1m0 8v1m0 15v1m1-12v1m1-16v1m0 21v2m1-22v1m0 20v2m1-5v1m1-17v1m1-7v1m0 20v1m0 5v1m1-27v1m1-3v2m0 4v1m1-8v1m1-4v2m0 1v2m2 21v2m0 4v1m2-5v2m1-28v1m0 26v2m2-30v1m0 8v1m1-4v1m1 0v1m0 25v1m3-28v2m1-1v1m2-5v1m0 1v1m1-4v1m3-3v1m2-4v1m0 4v1m0 1v1m1-6v1m0 1v1m0 1v1m3-5v1m1 4v1m1-7v2m0 7v1m7-4v1m1-1v2m1-1v1m1-3v1m1 5v2m1-8v1m0 1v1m1-5v1m11 23v2m2 3v1m2-14v1m0 12v1m2-3v1m4-11v1m0 14v1m1-4v1m1-13v1m1 1v1m0 9v1m1-7v1m2-1v1m2 6v2m2 0v1m2-5v1m2 1v2m2-13v1m0 4v1m3-7v1m0 2v1m1 1v1m2-1v1m1 7v1m1-12v2m0 3v1m1-7v3m2 5v1m0 1v1m3-1v1m0 4v1m3-4v1m1-13v1m0 4v1m2-9v1m0 3v1m1-9v1m0 3v1m0 3v2m1-6v1m1 0v2m0 13v1m1-13v1m0 2v1m1-3v1m1-19v1m1 4v1m0 4v1m0 4v1m0 9v1m0 2v1m1-14v1m1 8v1m0 1v1m1-32v1m0 8v1m0 8v1m1-17v1m1 14v1m0 9v1m0 7v1m1-30v1m0 7v1m0 8v1m1-11v1m0 4v2m0 2v1m1-5v1m0 2v1m1-3v1m0 2v1m2-11v1m0 6v1m2-2v1m1 5v1m1-20v2m0 5v1m1-4v1m0 9v1m0 3v1m1-5v1m0 1v1m2-2v1m1-12v1m1 9v1m0 3v1m2-2v1m1 0v1m1-9v2m0 3v1m1 10v1m1-10v2m1-16v1m0 8v1m0 3v1m0 5v1m1-10v1m1 1v1m0 7v1m1-15v1m0 5v1m0 1v1m0 3v1m3 4v2m2-17v1m0 4v1m0 1v1m0 4v1m1-6v1m1-4v1m0 5v1m0 3v1m1 1v1m1 2v1m1-10v1m2 6v1m1-14v1m2-4v1m2-2v1m0 12v1m1-12v1m2-4v1m0 19v1m3-10v1m1-5v1m2 3v1m0 5v1m0 1v1m2-8v2m1-13v1m2 2v1m0 9v1m1-11v1m3-7v1m0 19v1m1-2v1m2-17v1m0 15v1m0 2v1m5-1v1m1 1v1m13-1v1m12-25v1m3-11v1m0 1v1m3-5v1m8 1v1m3-6v1m0 7v2m4-16v1m3 8v1m1 22v2m1-29v1m0 29v1m9-4v1m0 1v2m0 3v3m2-36v1m1-8v1m1 43v1m3-42v1m2 11v1m2-14v1m1-2v1m0 30v1m0 1v3m0 2v1m1-39v1m0 1v2m7 7v1m0 30v1m3-30v1m1 6v1m3-13v1m4-7v1m1 4v1m6 7v1m4-11v1m0 7v1m4 0v1m2-1v1m3 28v1m2-9v1m1-24v1m0 1v1m9 0v1m4 29v1m1-1v1m1-18v1m2-10v1m1-2v2m1-1v1m0 16v2m0 4v1m2-30v1m1 9v1m1 19v1m0 1v1m3-34v1m1-3v1m1 18v1m3-21v1m0 1v1m5 5v1m4-3v1m3 19v1m4-22v1m2 3v1m3 0v1m0 25v1m7-40v1m0 4v1m0 1v1m3-4v1m2 24v1m1-20v1m3-2v1m0 6v1m2-12v1m1 15v1m2-15v1m1-2v1m3 10v1m0 6v1m2 13v1m16-3v1m8-1v1m9 0v1"/>
<path stroke="#ee000f" d="M51.5 535v1m1-24v1m3-5v2m1-4v1m1-5v1m0 6v1m3-8v1m2 9v1m0 3v1m2-16v1m0 8v1m0 2v1m1 13v1m1-15v2m3-12v1m0 33v1m2-34v1m1-9v1m0 17v1m2-13v1m0 12v1m1-8v1m2-6v1m2 3v1m0 4v1m14-15v1m1 4v1m2 0v2m1-4v1m1-3v1m2 19v1m0 8v1m1-26v1m2-5v2m1 30v1m1-7v1m1-20v1m0 2v2m0 1v1m2 7v2m1-15v1m0 8v1m10 14v2m4-5v1m2 8v1m2-15v1m7-2v1m2-4v1m0 15v1m2-22v1m1 4v1m0 11v1m1-19v1m1 12v2m0 5v1m1-15v1m2-6v1m1-33v1m2 34v1m0 11v1m2-6v1m1-8v1m1-12v2m0 6v1m1-8v1m0 16v2m2-21v1m1 4v1m2 13v2m1-13v1m0 3v1m1-36v3m0 34v1m0 14v1m1-19v1m2-4v1m0 16v1m1-17v1m0 1v1m2-6v1m0 1v1m6 12v1m1-8v1m1-12v1m0 2v1m1 13v1m3-7v1m1 8v1m0 2v1m0 3v1m1 1v1m3-9v1m0 3v1m0 1v1m6-1v1m2-23v1m0 4v1m0 1v1m1 10v1m1-18v1m0 2v1m0 3v1m1-7v1m0 4v1m5 1v1m3 11v1m2-21v1m0 16v1m1-14v1m0 2v2m0 1v1m2 0v2m1-3v1m2-15v1m0 13v1m1 4v1m2 1v1m3-19v1m0 19v1m1-9v1m1-10v1m0 4v1m0 13v1m1-14v1m0 2v2m2-3v1m0 1v1m0 1v1m0 4v1m1 0v1m1-17v1m5 2v1m0 5v1m1-12v2m3 2v1m0 4v3m0 2v1m2 5v1m1-20v1m0 13v3m3-8v1m2 6v1m1-12v1m0 6v1m3-5v1m2-7v1m2-1v1m4-1v1m0 11v1m0 4v1m1-10v2m1 5v1m2-22v1m0 3v1m1 0v1m1-7v1m0 12v1m0 5v1m2-19v1m1 5v1m1 17v1m2-35v1m0 2v1m0 11v1m0 4v1m0 3v1m0 8v1m2-37v1m0 24v1m1-9v1m0 10v1m0 2v1m1-21v1m1-6v1m0 1v1m0 13v1m1-20v1m0 1v3m0 12v1m0 11v1m1-22v1m0 1v1m1-2v1m0 6v1m2-2v1m1-20v1m0 3v2m1 19v1m1-16v2m0 9v1m1-21v1m0 34v1m1-16v1m0 8v1m1-4v1m1-26v1m1 2v1m2-5v1m0 3v1m0 32v1m1-34v1m0 30v1m2-34v1m0 24v1m0 3v1m2-28v1m6-3v1m1 2v1m0 3v1m1-9v1m0 4v1m2 3v1m2-7v1m3 0v2m1-8v1m0 4v1m0 1v1m2-6v1m7 1v1m1 3v2m0 1v1m1-8v2m0 2v1m1-9v3m0 6v1m1-9v1m2 2v1m6 27v1m5-4v1m5 8v1m1-7v1m3-11v2m2-3v2m3 8v1m1-2v1m0 7v1m1-15v1m0 9v1m4-9v1m1-4v1m0 13v1m3-14v1m2 0v1m2 0v1m1-2v2m1 0v1m3-6v1m1 3v2m1-7v1m2 9v1m1-7v3m1 8v1m1-6v1m1-2v2m2 1v1m1 3v1m3-18v1m2 3v1m0 1v1m2-7v1m1-14v1m1 1v1m0 7v2m1-1v1m0 5v1m0 4v1m1-28v1m0 20v1m1 4v1m1-13v2m1-7v1m0 9v1m0 2v1m0 5v1m1-17v1m0 13v1m1-25v1m0 11v1m0 14v1m1-25v1m0 3v1m0 8v1m0 4v1m0 8v1m1-18v1m0 3v1m0 2v1m3-17v1m3 0v1m0 4v1m1 1v2m0 5v1m1-16v1m0 20v1m0 3v2m1-27v1m0 11v2m1-14v1m0 14v1m0 9v1m1-25v1m0 1v1m0 6v1m1-13v2m0 11v1m1-8v1m3 2v1m0 6v1m1 4v1m0 10v1m1-26v1m1-4v1m0 6v1m0 6v1m0 2v1m1-8v2m0 9v1m2-12v1m0 9v1m2 6v1m2-11v1m1-8v1m0 4v1m3 2v1m5-3v1m1 2v1m1-6v1m0 6v1m1-15v1m1 6v1m1 10v1m6-22v1m0 10v2m0 2v1m4 2v1m10-10v1m2 13v2m26-29v1m3 2v1m0 1v1m1-2v1m5-14v1m1-2v1m0 1v1m2 3v1m3-4v1m2 23v1m0 2v2m1-18v4m5-12v1m0 30v1m5-36v1m1 21v1m0 4v1m6-26v1m2-10v1m1 28v1m0 1v1m0 4v1m0 3v1m1-32v1m2-9v1m0 2v1m1-7v1m0 4v1m3 4v1m1 32v1m1-42v1m0 2v1m1 0v1m2 30v1m1-33v1m7 4v1m3 3v1m1-13v1m3 1v1m0 37v1m4-42v1m1 1v2m1 40v1m1-34v1m2-1v1m0 23v1m4-25v1m3-3v1m0 3v1m8-4v2m1-3v1m3-1v1m4 32v1m2-1v1m2-25v1m2-1v1m1 1v1m2 2v1m1-15v1m0 20v1m2-16v2m1-1v1m1 8v1m0 7v1m0 3v1m1-26v1m6 7v1m1 23v1m2-31v2m14 20v1m1-22v1m1 26v1m1-29v1m0 8v1m4-9v2m2 0v1m1-4v1m3 24v1m3-29v1m2-6v1m3 6v1m0 23v1m0 2v1m4-18v1m3 3v1m5 0v1m1-3v1m0 5v1"/>
<path stroke="#d10029" d="M56.5 504v1m1 0v1m1-5v1m0 3v1m1-9v1m0 14v1m1-13v1m1 6v1m3-6v1m2 9v1m0 4v1m2-4v1m1-11v1m2 1v1m1-8v1m0 13v1m3-9v1m4 2v2m14-11v1m1 4v1m0 32v1m1-40v1m1 0v1m0 2v2m1-4v1m1 0v1m0 20v1m7-15v1m1 26v1m2-3v1m1-25v1m2 13v1m0 8v1m2-3v1m1-3v1m1 4v1m11-8v1m1 7v1m3-13v1m2-1v2m4-5v1m1 2v1m2-1v1m3 5v1m1-8v1m2 3v1m3-30v1m1 25v1m0 1v1m1-12v1m1-8v1m0 2v1m0 23v1m1-20v1m1-7v1m1-7v2m0 4v1m1-5v1m2-4v1m1 11v1m0 11v1m2-10v1m0 21v1m1-22v1m1 12v1m0 4v1m1-20v1m1 0v1m0 10v1m0 5v2m1 2v1m1-19v1m0 6v1m1 0v1m4 1v1m3 6v1m3-19v1m0 17v1m5-6v1m4 3v1m2-27v1m2 11v1m0 4v1m1 3v1m1-21v1m0 1v1m0 9v1m1-6v1m4 8v1m6-14v1m3 22v1m3-14v1m3 4v1m0 4v1m13-14v1m5-2v1m0 15v1m1-8v1m1-8v1m0 4v1m4-6v1m4-3v1m5 6v1m2 9v1m2-8v1m1 5v1m4 1v1m3-30v1m0 25v1m1-27v2m0 3v1m2 7v1m0 14v2m2-31v1m1-3v1m2 0v1m0 7v1m0 15v1m1-22v1m0 26v1m2-27v1m0 26v1m1-34v1m0 7v1m0 2v1m2-7v1m3-9v1m0 21v1m1-20v1m0 22v1m0 1v2m1-24v1m1-7v1m1 35v1m1-6v1m1-27v1m1 0v1m1 22v1m1-29v1m4 3v1m0 25v1m2-32v1m0 32v1m1-2v1m5-33v1m5 0v1m1-6v2m2 35v1m13 0v1m3-31v1m1-3v1m0 8v2m3 15v1m0 1v1m10 4v1m1-20v1m2 12v1m2-16v1m0 18v1m1-16v1m0 7v1m0 1v1m4-10v1m5 5v1m2 3v1m1 2v1m10-1v1m1-8v1m2-7v1m0 3v1m3 2v2m1-1v1m4 8v1m1-10v1m1-9v1m1 11v1m2-20v1m0 20v1m1-19v1m0 3v1m1-5v1m0 4v1m0 2v1m1-17v1m0 8v1m2-11v1m0 3v1m1 11v1m1-18v1m0 14v1m1-12v1m2-2v1m1 2v1m0 20v1m2-14v1m0 2v1m1-13v1m0 8v1m1-13v2m1 10v1m0 12v1m3-21v1m1-6v1m0 14v1m1-15v1m0 4v1m0 8v1m2-4v1m1-9v1m1-7v1m2 15v1m3 10v1m2-16v1m1 6v1m1-6v1m1-12v1m0 1v1m0 17v1m1-12v1m1-1v1m0 4v1m2 3v1m2 8v1m1-12v1m1 2v1m3-11v1m6 0v1m4 3v1m4 4v1m0 2v1m5-10v1m35 11v1m2-1v1m4-19v1m1-13v1m0 7v1m8-5v1m2-11v1m3 3v1m3-2v1m10 2v1m1-7v2m7 22v1m1-29v1m8-4v1m0 13v1m0 1v1m2-18v1m1 33v1m8-24v1m3 0v2m1 9v1m3-16v1m4 37v1m5-32v1m0 23v1m2-26v1m4-1v1m0 30v1m2-29v1m1-5v1m1 1v1m2 4v1m13 23v1m2-29v1m2 6v1m1 4v1m2-2v1m1-13v1m3 2v1m1 15v1m0 7v1m1-23v1m1 0v1m1 4v1m3 2v1m1-15v1m1 28v1m2-24v1m5-10v1m9 6v1m4-2v1m3 27v1m4-33v1m1 3v1m1-4v1m0 23v1m9-26v1m1 0v1m4-1v1m0 1v1m1-1v2m3-4v1m2 17v1m1-7v1"/>
<path stroke="#c30037" d="M56.5 510v1m2-11v1m5 9v1m2-4v1m2 30v1m2-25v1m7-10v1m6 32v1m17-17v1m2-22v1m1 2v2m6 1v1m3 29v1m5-3v1m15 2v1m8-20v1m4 18v1m3-15v1m4-31v1m1 26v1m0 16v1m1-57v1m0 28v1m1-13v1m5-16v1m4 35v1m5 8v1m5 5v1m1-26v1m2 6v1m8 18v1m6-34v1m5 31v1m3 2v1m5-4v1m1-1v1m3-6v1m3-21v1m2 25v1m2-7v1m0 1v1m0 4v1m2-5v1m4-17v1m0 3v1m1-5v1m0 4v1m6-4v1m1 7v1m1-5v1m2-2v1m3 11v1m3 3v1m2-9v1m0 7v1m2-17v1m1 6v1m9 1v1m2-25v1m0 7v1m3-1v1m0 15v1m1 2v1m2-27v1m0 4v1m1 1v1m3 8v1m1-12v1m0 24v1m2-34v1m1 3v1m0 11v1m1-14v1m1 5v1m3-9v1m0 4v1m0 2v1m1-6v1m0 11v1m1-7v1m1 21v1m3-31v1m1 0v1m0 16v1m1-23v1m5 0v1m0 4v1m14 0v1m4-2v1m2-6v1m2-6v1m7 10v1m2-5v1m3-1v1m11 26v1m8-10v1m2 4v1m1-11v1m1 16v1m1 0v1m3-5v1m1-7v1m4 2v1m11-1v1m6-4v1m6 3v1m2 3v1m3 2v1m1-26v1m2-8v1m1-4v1m1 2v1m0 7v1m0 11v1m3-24v1m1 11v1m2-14v1m0 6v1m0 2v1m0 7v1m1-20v1m3 4v1m0 8v1m0 2v1m2-13v1m0 9v1m0 2v1m1-10v1m1 12v1m1-5v1m1-13v1m1-2v1m2 5v1m0 7v1m1-16v1m1 2v1m0 7v1m0 5v1m0 13v1m1-24v2m2 4v1m0 1v1m1-10v1m1 23v1m1-23v1m2 0v1m0 18v1m1-24v1m2 5v1m1-2v1m1 4v1m4 1v2m2-3v1m12 15v1m5-1v1m7-3v1m44-29v1m3-9v1m3 27v1m1-34v1m6 0v1m6 3v1m10 1v1m1-9v1m9 38v1m1-42v1m1-3v1m6 7v1m7-3v1m0 32v1m21-22v1m4-7v1m1 5v1m7 28v1m1-35v1m8 22v1m2-16v1m2-1v1m6 9v1m5-18v1m1-2v1m87 31v1"/>
<path stroke="#b50045" d="M53.5 505v1m4-11v1m0 20v1m10-16v2m1 5v1m4-3v1m0 4v1m8 0v1m15-10v1m3-1v1m1 27v1m0 1v1m2-32v1m2 6v1m1-5v1m1 4v1m0 18v1m2-19v1m1 1v1m1 14v1m4 4v1m1 4v1m18-9v1m11-51v2m4-1v1m0 1v1m1-3v1m0 39v1m1-39v1m0 30v1m1-7v1m0 16v1m0 2v1m0 9v1m1-58v2m1-3v1m1 1v1m1 16v1m0 18v1m1-14v1m3 18v1m1-18v1m0 26v1m5-11v1m0 5v1m2-9v1m5 13v1m1 1v1m4-3v1m4-2v1m2-9v1m8 5v1m1 4v1m17-2v1m5-3v1m3 0v1m6 0v1m9-13v1m5 11v1m8-1v1m6-25v1m2-4v1m1 27v1m1-27v1m0 2v1m1-5v1m1-4v1m0 1v2m3-8v2m0 7v1m1-12v1m1 2v1m0 3v1m5-6v1m2 0v1m1-5v1m4 36v1m5-38v1m3 36v1m1-36v1m0 30v1m8-30v2m3-4v1m0 31v1m9-37v1m2 8v1m10 27v1m24-4v1m4-3v1m8 4v1m3-9v1m2-11v1m3 17v1m12-1v1m1-2v1m2-18v2m0 15v1m3-20v1m0 1v1m1-1v1m2-5v1m2-2v1m0 2v1m0 1v1m1-2v1m1-13v1m0 4v1m0 27v1m1-29v1m0 4v1m1-7v1m0 3v1m1 6v1m1-9v3m0 12v1m1-14v1m1-10v1m0 5v1m0 6v2m1-12v2m0 1v1m0 10v1m1-18v1m0 17v1m1-17v2m0 5v3m0 1v1m1-12v1m0 5v1m0 2v1m0 7v1m1-19v1m0 1v1m0 19v1m1-17v1m1-2v1m0 1v1m0 2v1m1-9v1m0 5v1m3-6v1m1 1v1m0 3v1m0 1v2m1-8v1m1-6v1m1 2v1m2 4v1m0 3v1m0 1v1m1-13v1m0 6v2m1-7v1m0 8v1m1-10v1m0 7v1m1-10v1m0 6v1m0 3v1m0 1v1m2-7v1m0 6v1m1-9v1m0 2v1m2-5v1m2 1v1m1 2v1m0 1v2m0 15v1m3-2v1m29-2v1m4-2v1m29-33v1m39-14v1m20 0v1m1 8v1m51 11v1m31 12v1m17-19v1"/>
<path stroke="#a1005e" d="M53.5 504v1m2 31v1m3-25v1m0 2v1m7-16v1m3 4v1m1-8v1m3 5v1m4 2v1m21 18v1m2-27v1m3-1v1m0 22v1m2-24v1m0 18v1m1-9v1m0 25v1m1-14v1m0 1v1m1-18v1m1-2v1m0 1v1m1 0v1m4 24v1m1-1v1m6 0v1m1-3v1m10-13v1m1 5v1m1 0v1m2 1v1m2-17v1m2 10v1m2-48v1m0 57v1m1-59v2m2-3v1m0 1v1m1-3v1m1-2v1m0 1v1m0 42v1m2-45v1m0 35v1m0 4v1m1-39v1m0 32v1m0 1v1m0 18v1m1-28v1m0 11v1m1-42v1m0 2v1m1-3v1m3 26v1m2 2v1m2-4v1m3 12v1m0 2v1m0 4v1m2-7v1m0 14v1m2-16v4m2 9v1m3-11v1m0 4v1m4-14v1m0 4v1m11 14v1m4-22v1m0 10v1m1 1v1m2-12v1m12 11v1m0 1v1m21-4v1m5 5v1m13-1v1m6-29v1m0 2v2m0 2v1m1-10v1m0 5v1m1-4v1m0 4v1m1-4v1m1 1v1m1-4v1m1 4v1m2-10v1m0 4v1m0 3v1m1-7v1m1-4v2m1 0v1m1-2v1m0 2v1m0 3v2m1-5v2m1-6v2m1-3v1m0 1v1m0 1v1m0 2v1m1-7v2m1-6v1m0 1v1m0 8v1m1-15v1m4 7v1m1-4v1m9 5v1m3-8v2m3 31v1m2-28v1m2-6v1m4 2v1m29 29v1m4-7v1m2 4v1m8-20v2m1-5v1m0 20v1m4-3v1m11-16v1m5 12v1m2-11v1m4 4v1m3-1v1m6-3v1m1-14v2m0 1v1m1 1v1m1-10v2m0 1v2m0 3v1m0 1v1m1-11v3m1-5v1m0 5v1m0 1v1m0 2v1m1-14v1m0 2v1m0 9v1m1-9v2m0 2v3m0 2v1m0 1v2m1-20v1m0 4v1m0 29v1m1-34v3m0 7v1m1-14v1m0 4v1m0 5v1m0 3v3m0 2v1m1-18v1m0 1v1m0 6v2m1-14v1m0 4v1m1-6v1m0 5v1m0 1v1m0 13v1m1-20v1m0 5v1m0 5v1m1-14v1m0 13v1m1-12v1m0 2v2m0 2v1m1-10v1m0 6v2m1-8v1m0 2v1m0 2v1m0 2v1m1-6v4m0 5v1m1-6v3m0 5v3m1-18v1m0 2v1m0 8v1m1-3v1m1 3v1m0 2v1m1-20v1m0 3v1m0 4v2m0 4v1m1-15v1m0 6v3m1-11v1m0 5v1m0 3v1m0 1v1m1-13v1m0 1v1m0 7v3m1-10v1m0 7v1m0 7v1m1-10v2m0 1v1m1-12v1m0 1v1m0 1v1m0 6v2m1-13v1m0 12v1m1-13v1m0 1v1m0 8v1m1-11v1m0 9v1m0 4v1m1-15v1m0 1v3m0 6v1m1-6v1m0 5v1m1-11v2m0 2v1m1 20v1m1-24v1m0 8v1m1-9v1m1 1v1m0 2v1m1-8v1m1 0v1m0 3v1m0 2v1m1-5v2m1-3v1m0 7v1m4 14v1m10-3v1m10-2v1m4 1v1m79-47v1m3-2v1m3 0v1"/>
<path stroke="#8d0077" d="M51.5 505v1m13 10v2m2-10v2m3 5v2m2-6v1m1-5v1m4 0v1m0 1v1m18-10v1m1 0v1m6 18v1m1-2v1m1-23v1m2 31v1m1-27v1m0 1v1m0 18v1m1-20v1m1 5v1m0 1v1m0 1v1m1-5v1m1 25v1m3-5v1m1-3v1m15-2v1m8-18v1m2 11v1m1 4v1m2-16v1m1-35v1m2 28v1m0 24v1m1-54v1m1 54v1m1-59v1m0 1v1m0 23v1m0 9v1m0 5v1m1-43v1m0 38v1m1-40v2m1 36v1m1-36v1m5 2v2m1-3v3m0 43v2m4-51v1m0 39v1m2 3v1m0 2v1m0 1v1m6 3v1m5-17v4m0 1v1m3 13v1m1-2v1m11-22v1m0 13v1m0 1v1m0 1v1m2 0v1m12 1v1m1-6v1m2-7v1m6 7v1m5 0v1m0 1v1m14-1v1m2-3v1m7-1v1m9-26v1m0 3v1m1-6v2m1-3v1m0 4v1m0 22v1m1-31v1m1 1v1m0 1v1m0 3v1m1-6v1m0 2v1m1-8v1m0 8v1m1-3v1m1-9v2m1 4v3m1-9v1m2 4v1m0 3v1m1-6v3m1-7v2m0 4v1m0 2v3m1-4v1m1 23v1m1-36v2m0 7v1m0 2v1m0 1v1m1-15v2m0 1v1m0 1v1m0 5v1m0 2v1m2-10v2m2-6v1m1 3v1m0 1v1m0 28v1m2-30v1m3-3v1m6 3v1m2 26v1m1-34v1m9-1v1m17 32v1m16-4v1m5 1v1m1-16v1m0 12v1m25-17v1m9 9v1m7-15v1m0 5v1m1-9v1m1 1v1m0 9v1m2-20v1m1-1v1m0 4v2m0 2v1m0 8v1m1-2v1m0 13v1m1-36v1m0 1v1m0 4v1m0 3v2m0 6v1m0 1v2m1-21v1m0 5v1m0 1v1m0 1v1m1-9v1m0 1v1m0 6v2m1-11v1m0 3v1m0 5v4m1-15v1m0 3v1m0 2v1m1-9v4m0 3v1m0 6v1m1-15v1m0 4v1m0 13v1m1-13v1m0 2v1m1-11v2m0 3v1m0 5v1m1-9v1m0 6v1m0 5v1m1-16v1m0 4v2m0 1v1m1 1v1m0 2v1m1-9v1m0 1v1m0 8v1m1-13v1m0 3v1m0 4v1m1-11v1m0 2v3m0 2v1m0 2v2m1-4v3m1-13v1m0 4v2m0 5v1m1-3v1m1-12v1m0 1v1m0 4v1m1 0v1m0 3v1m1-2v1m0 19v1m1-26v1m0 6v1m1-4v2m1-9v3m0 2v1m0 8v1m1-17v1m0 4v2m0 1v1m0 5v1m1-8v2m0 9v1m2-15v1m0 7v1m1-3v1m1 0v2m0 5v1m1-13v1m0 4v1m1-7v3m0 4v1m1-7v2m0 4v1m1-6v3m0 2v1m1-5v1m0 3v1m0 4v1m1-1v1m1-10v1m0 3v1m17 16v1m10 1v1m6-3v1m79-45v1m3-1v1m8-2v1"/>
<path stroke="#800080" d="M51.5 506v1m3 7v1m4-1v1m8-5v1m4-5v2m2-6v1m0 14v1m4-9v1m2 0v1m2 2v1m19-11v1m0 1v1m0 26v1m1-31v2m0 1v1m1-6v1m1 23v2m4 8v1m1-33v1m2 10v1m3 12v1m12-1v1m11-2v1m0 5v1m4-4v1m1-7v1m1 1v1m1-8v1m1-40v2m1 0v1m0 1v1m1-5v1m0 1v1m1-2v1m0 1v2m0 36v1m1-41v2m0 1v1m2-2v1m1-3v1m0 2v2m0 42v2m1-49v1m2 43v1m1-7v1m0 1v1m1-11v1m1 25v1m2-3v1m1-48v1m2 49v1m1-54v1m0 41v2m0 11v1m4-18v1m3 14v1m2-13v1m15 12v1m4-9v1m0 1v1m2 6v1m1-19v1m0 15v1m13 1v1m10-1v1m27-2v1m8-31v1m0 3v1m0 23v1m1-30v1m1 0v1m0 4v1m1-8v1m1 2v1m0 4v1m1-5v1m0 2v2m1 22v1m1-30v1m1-5v1m0 4v1m1-1v2m0 3v1m0 1v1m1-13v1m0 7v5m1-13v4m0 4v2m1 1v1m1-9v1m1 2v1m0 1v1m0 2v1m0 23v1m1-38v2m0 2v2m0 7v2m1-12v1m0 4v1m1 0v1m2-2v1m3 0v1m2-8v1m0 7v1m2-4v1m1-4v1m2-1v1m1-5v1m9 6v1m1-4v1m4-1v1m37 23v1m0 5v1m3-17v1m5 10v1m2-4v1m18 2v1m6-2v1m11-20v2m0 1v1m0 2v1m1-4v1m0 1v1m1-9v1m0 3v2m0 2v2m0 1v2m1-13v2m0 2v1m0 3v1m0 5v1m1-14v1m0 3v1m0 2v1m1-14v1m0 8v1m0 4v1m0 20v1m1-34v1m0 10v1m1-14v1m0 5v1m0 3v1m0 7v1m1-13v1m0 15v1m1-18v2m0 2v2m0 11v1m1-23v1m0 4v1m0 1v1m1-8v1m0 12v2m0 5v1m1-22v1m0 15v1m1-16v1m0 2v3m0 4v1m0 5v1m1-17v1m0 12v2m0 1v1m1-16v1m0 1v1m0 31v1m1-21v1m0 1v1m0 2v2m1-20v2m0 10v1m1-12v1m0 1v1m0 9v2m1-12v1m1-2v1m0 6v1m0 8v1m1-2v1m1-7v1m0 5v2m1-16v1m0 3v1m0 3v1m0 7v2m1-19v1m0 2v1m1-5v1m0 3v2m0 7v2m1-12v1m0 3v2m0 8v1m1-13v1m0 1v2m1-9v1m0 1v1m0 1v1m0 1v1m0 7v1m1-4v2m1-8v1m0 2v1m0 3v1m1-11v1m0 1v1m1 4v4m1-1v1m1-5v2m1-2v2m1-1v1m2 0v1m0 5v1m1-5v1m0 5v2m1-6v1m0 18v1m1-24v1m0 2v1m0 17v1m104-46v1m5-1v1m3-1v1m10-1v1"/></g>
<rect x="50.5" y="39.5" width="650" height="230" fill="none" stroke="#000" stroke-width="1"/>
<path d="M158.5 269V264M158.5 39V45M266.5 269V264M266.5 39V45M375.5 269V264M375.5 39V45M483.5 269V264M483.5 39V45M591.5 269V264M591.5 39V45M50 250.5H56M701 250.5H695M50 231.5H56M701 231.5H695M50 212.5H56M701 212.5H695M50 193.5H56M701 193.5H695M50 174.5H56M701 174.5H695M50 154.5H56M701 154.5H695M50 135.5H56M701 135.5H695M50 116.5H56M701 116.5H695M50 97.5H56M701 97.5H695M50 78.5H56M701 78.5H695M50 59.5H56M701 59.5H695" stroke="#000" stroke-width="1" fill="none"/>
<rect x="50.5" y="309.5" width="650" height="230" fill="none" stroke="#000" stroke-width="1"/>
<path d="M158.5 539V534M158.5 309V315M266.5 539V534M266.5 309V315M375.5 539V534M375.5 309V315M483.5 539V534M483.5 309V315M591.5 539V534M591.5 309V315M50 520.5H56M701 520.5H695M50 501.5H56M701 501.5H695M50 482.5H56M701 482.5H695M50 463.5H56M701 463.5H695M50 444.5H56M701 444.5H695M50 424.5H56M701 424.5H695M50 405.5H56M701 405.5H695M50 386.5H56M701 386.5H695M50 367.5H56M701 367.5H695M50 348.5H56M701 348.5H695M50 329.5H56M701 329.5H695" stroke="#000" stroke-width="1" fill="none"/>
<rect x="755" y="75" width="15" height="4" fill="#800080"/>
<rect x="755" y="79" width="15" height="3" fill="#8d0077"/>
<rect x="755" y="82" width="15" height="3" fill="#a1005e"/>
<rect x="755" y="85" width="15" height="4" fill="#b50045"/>
<rect x="755" y="89" width="15" height="3" fill="#c30037"/>
<rect x="755" y="92" width="15" height="3" fill="#d10029"/>
<rect x="755" y="95" width="15" height="3" fill="#ee000f"/>
<rect x="755" y="98" width="15" height="4" fill="#ff0b00"/>
<rect x="755" y="102" width="15" height="3" fill="#ff2400"/>
<rect x="755" y="105" width="15" height="3" fill="#ff3d00"/>
<rect x="755" y="108" width="15" height="3" fill="#ff5300"/>
<rect x="755" y="111" width="15" height="4" fill="#ff6800"/>
<rect x="755" y="115" width="15" height="3" fill="#ff7d00"/>
<rect x="755" y="118" width="15" height="3" fill="#ff9100"/>
<rect x="755" y="121" width="15" height="4" fill="#ffa400"/>
<rect x="755" y="125" width="15" height="3" fill="#ffb700"/>
<rect x="755" y="128" width="15" height="3" fill="#ffcf00"/>
<rect x="755" y="131" width="15" height="3" fill="#ffe700"/>
<rect x="755" y="134" width="15" height="4" fill="#fffc00"/>
<rect x="755" y="138" width="15" height="3" fill="#d7f400"/>
<rect x="755" y="141" width="15" height="3" fill="#b4ed00"/>
<rect x="755" y="144" width="15" height="3" fill="#97e900"/>
<rect x="755" y="147" width="15" height="4" fill="#71e500"/>
<rect x="755" y="151" width="15" height="3" fill="#34e100"/>
<rect x="755" y="154" width="15" height="3" fill="#10e40e"/>
<rect x="755" y="157" width="15" height="4" fill="#00df22"/>
<rect x="755" y="161" width="15" height="3" fill="#00d23c"/>
<rect x="755" y="164" width="15" height="3" fill="#00c454"/>
<rect x="755" y="167" width="15" height="3" fill="#00b167"/>
<rect x="755" y="170" width="15" height="4" fill="#009e7a"/>
<rect x="755" y="174" width="15" height="3" fill="#008d8b"/>
<rect x="755" y="177" width="15" height="3" fill="#007c9c"/>
<rect x="755" y="180" width="15" height="3" fill="#005fb1"/>
<rect x="755" y="183" width="15" height="4" fill="#003dc7"/>
<rect x="755" y="187" width="15" height="3" fill="#0020e2"/>
<rect x="755" y="190" width="15" height="3" fill="#0003fc"/>
<rect x="755" y="193" width="15" height="4" fill="#0d0df9"/>
<rect x="755" y="197" width="15" height="3" fill="#1b1bf1"/>
<rect x="755" y="200" width="15" height="3" fill="#3232f0"/>
<rect x="755" y="203" width="15" height="3" fill="#4a4af0"/>
<rect x="755" y="206" width="15" height="4" fill="#6060ed"/>
<rect x="755" y="210" width="15" height="3" fill="#7575e9"/>
<rect x="755" y="213" width="15" height="3" fill="#8989e4"/>
<rect x="755" y="216" width="15" height="3" fill="#9c9cdf"/>
<rect x="755" y="219" width="15" height="4" fill="#afafdd"/>
<rect x="755" y="223" width="15" height="3" fill="#c0c0df"/>
<rect x="755" y="226" width="15" height="3" fill="#d0d0e1"/>
<rect x="755" y="229" width="15" height="4" fill="#d7d7e4"/>
<rect x="754.5" y="74.5" width="16" height="160" fill="none" stroke="#000"/>
<rect x="755" y="345" width="15" height="4" fill="#800080"/>
<rect x="755" y="349" width="15" height="3" fill="#8d0077"/>
<rect x="755" y="352" width="15" height="3" fill="#a1005e"/>
<rect x="755" y="355" width="15" height="4" fill="#b50045"/>
<rect x="755" y="359" width="15" height="3" fill="#c30037"/>
<rect x="755" y="362" width="15" height="3" fill="#d10029"/>
<rect x="755" y="365" width="15" height="3" fill="#ee000f"/>
<rect x="755" y="368" width="15" height="4" fill="#ff0b00"/>
<rect x="755" y="372" width="15" height="3" fill="#ff2400"/>
<rect x="755" y="375" width="15" height="3" fill="#ff3d00"/>
<rect x="755" y="378" width="15" height="3" fill="#ff5300"/>
<rect x="755" y="381" width="15" height="4" fill="#ff6800"/>
<rect x="755" y="385" width="15" height="3" fill="#ff7d00"/>
<rect x="755" y="388" width="15" height="3" fill="#ff9100"/>
<rect x="755" y="391" width="15" height="4" fill="#ffa400"/>
<rect x="755" y="395" width="15" height="3" fill="#ffb700"/>
<rect x="755" y="398" width="15" height="3" fill="#ffcf00"/>
<rect x="755" y="401" width="15" height="3" fill="#ffe700"/>
<rect x="755" y="404" width="15" height="4" fill="#fffc00"/>
<rect x="755" y="408" width="15" height="3" fill="#d7f400"/>
<rect x="755" y="411" width="15" height="3" fill="#b4ed00"/>
<rect x="755" y="414" width="15" height="3" fill="#97e900"/>
<rect x="755" y="417" width="15" height="4" fill="#71e500"/>
<rect x="755" y="421" width="15" height="3" fill="#34e100"/>
<rect x="755" y="424" width="15" height="3" fill="#10e40e"/>
<rect x="755" y="427" width="15" height="4" fill="#00df22"/>
<rect x="755" y="431" width="15" height="3" fill="#00d23c"/>
<rect x="755" y="434" width="15" height="3" fill="#00c454"/>
<rect x="755" y="437" width="15" height="3" fill="#00b167"/>
<rect x="755" y="440" width="15" height="4" fill="#009e7a"/>
<rect x="755" y="444" width="15" height="3" fill="#008d8b"/>
<rect x="755" y="447" width="15" height="3" fill="#007c9c"/>
<rect x="755" y="450" width="15" height="3" fill="#005fb1"/>
<rect x="755" y="453" width="15" height="4" fill="#003dc7"/>
<rect x="755" y="457" width="15" height="3" fill="#0020e2"/>
<rect x="755" y="460" width="15" height="3" fill="#0003fc"/>
<rect x="755" y="463" width="15" height="4" fill="#0d0df9"/>
<rect x="755" y="467" width="15" height="3" fill="#1b1bf1"/>
<rect x="755" y="470" width="15" height="3" fill="#3232f0"/>
<rect x="755" y="473" width="15" height="3" fill="#4a4af0"/>
<rect x="755" y="476" width="15" height="4" fill="#6060ed"/>
<rect x="755" y="480" width="15" height="3" fill="#7575e9"/>
<rect x="755" y="483" width="15" height="3" fill="#8989e4"/>
<rect x="755" y="486" width="15" height="3" fill="#9c9cdf"/>
<rect x="755" y="489" width="15" height="4" fill="#afafdd"/>
<rect x="755" y="493" width="15" height="3" fill="#c0c0df"/>
<rect x="755" y="496" width="15" height="3" fill="#d0d0e1"/>
<rect x="755" y="499" width="15" height="4" fill="#d7d7e4"/>
<rect x="754.5" y="344.5" width="16" height="160" fill="none" stroke="#000"/></svg><svg id="t" width="780" height="580" viewBox="0 0 780 580"><text x="46.5" y="273.6" text-anchor="end">0</text>
<text x="46.5" y="254.6" text-anchor="end">1</text>
<text x="46.5" y="235.6" text-anchor="end">2</text>
<text x="46.5" y="216.6" text-anchor="end">3</text>
<text x="46.5" y="197.6" text-anchor="end">4</text>
<text x="46.5" y="178.6" text-anchor="end">5</text>
<text x="46.5" y="158.6" text-anchor="end">6</text>
<text x="46.5" y="139.6" text-anchor="end">7</text>
<text x="46.5" y="120.6" text-anchor="end">8</text>
<text x="46.5" y="101.6" text-anchor="end">9</text>
<text x="46.5" y="82.6" text-anchor="end">10</text>
<text x="46.5" y="63.6" text-anchor="end">11</text>
<text x="46.5" y="43.6" text-anchor="end">12</text>
<text x="50.3" y="284" text-anchor="middle">00:00</text>
<text x="158.6" y="284" text-anchor="middle">04:00</text>
<text x="267.0" y="284" text-anchor="middle">08:00</text>
<text x="375.3" y="284" text-anchor="middle">12:00</text>
<text x="483.6" y="284" text-anchor="middle">16:00</text>
<text x="592.0" y="284" text-anchor="middle">20:00</text>
<text x="700.3" y="284" text-anchor="middle">00:00</text>
<text x="375" y="302" text-anchor="middle">Time (UTC)</text>
<text transform="translate(27 155) rotate(-90)" text-anchor="middle">Height (km)</text>
<text x="46.5" y="543.6" text-anchor="end">0</text>
<text x="46.5" y="524.6" text-anchor="end">1</text>
<text x="46.5" y="505.6" text-anchor="end">2</text>
<text x="46.5" y="486.6" text-anchor="end">3</text>
<text x="46.5" y="467.6" text-anchor="end">4</text>
<text x="46.5" y="448.6" text-anchor="end">5</text>
<text x="46.5" y="428.6" text-anchor="end">6</text>
<text x="46.5" y="409.6" text-anchor="end">7</text>
<text x="46.5" y="390.6" text-anchor="end">8</text>
<text x="46.5" y="371.6" text-anchor="end">9</text>
<text x="46.5" y="352.6" text-anchor="end">10</text>
<text x="46.5" y="333.6" text-anchor="end">11</text>
<text x="46.5" y="313.6" text-anchor="end">12</text>
<text x="50.3" y="554" text-anchor="middle">00:00</text>
<text x="158.6" y="554" text-anchor="middle">04:00</text>
<text x="267.0" y="554" text-anchor="middle">08:00</text>
<text x="375.3" y="554" text-anchor="middle">12:00</text>
<text x="483.6" y="554" text-anchor="middle">16:00</text>
<text x="592.0" y="554" text-anchor="middle">20:00</text>
<text x="700.3" y="554" text-anchor="middle">00:00</text>
<text x="375" y="572" text-anchor="middle">Time (UTC)</text>
<text transform="translate(27 425) rotate(-90)" text-anchor="middle">Height (km)</text>
<text x="53.8" y="33" style="letter-spacing:0.42px">30 Mar 2019</text>
<text class="b" x="56.5" y="56">Attenuated backscatter coefficient</text>
<text class="b" x="56.5" y="326">Doppler velocity</text>
<text class="b" x="3.5" y="573" style="letter-spacing:0.2px">TROPOS HALO Doppler Lidar</text>
<text x="742.5" y="79.8" text-anchor="end">10</text>
<text x="743.3" y="75.3" style="font-size:9px;letter-spacing:0.3px">-4</text>
<text x="742.5" y="133.1" text-anchor="end">10</text>
<text x="743.3" y="128.6" style="font-size:9px;letter-spacing:0.3px">-5</text>
<text x="742.5" y="186.5" text-anchor="end">10</text>
<text x="743.3" y="182.0" style="font-size:9px;letter-spacing:0.3px">-6</text>
<text x="742.5" y="239.8" text-anchor="end">10</text>
<text x="743.3" y="235.3" style="font-size:9px;letter-spacing:0.3px">-7</text>
<text transform="translate(723 155.5) rotate(-90)" text-anchor="middle" style="letter-spacing:0">sr<tspan style="font-size:9px" dy="-4.5">-1</tspan><tspan dy="4.5"> m</tspan><tspan style="font-size:9px" dy="-4.5">-1</tspan></text>
<text x="751.2" y="349.2" text-anchor="end">2</text>
<text x="751.2" y="369.2" text-anchor="end">1.5</text>
<text x="751.2" y="389.2" text-anchor="end">1</text>
<text x="751.2" y="409.2" text-anchor="end">0.5</text>
<text x="751.2" y="429.2" text-anchor="end">0</text>
<text x="751.2" y="449.2" text-anchor="end">-0.5</text>
<text x="751.2" y="469.2" text-anchor="end">-1</text>
<text x="751.2" y="489.2" text-anchor="end">-1.5</text>
<text x="751.2" y="509.2" text-anchor="end">-2</text>
<text transform="translate(723 425.5) rotate(-90)" text-anchor="middle" style="letter-spacing:0">m s<tspan style="font-size:9px" dy="-4.5">-1</tspan></text></svg></body></html>
